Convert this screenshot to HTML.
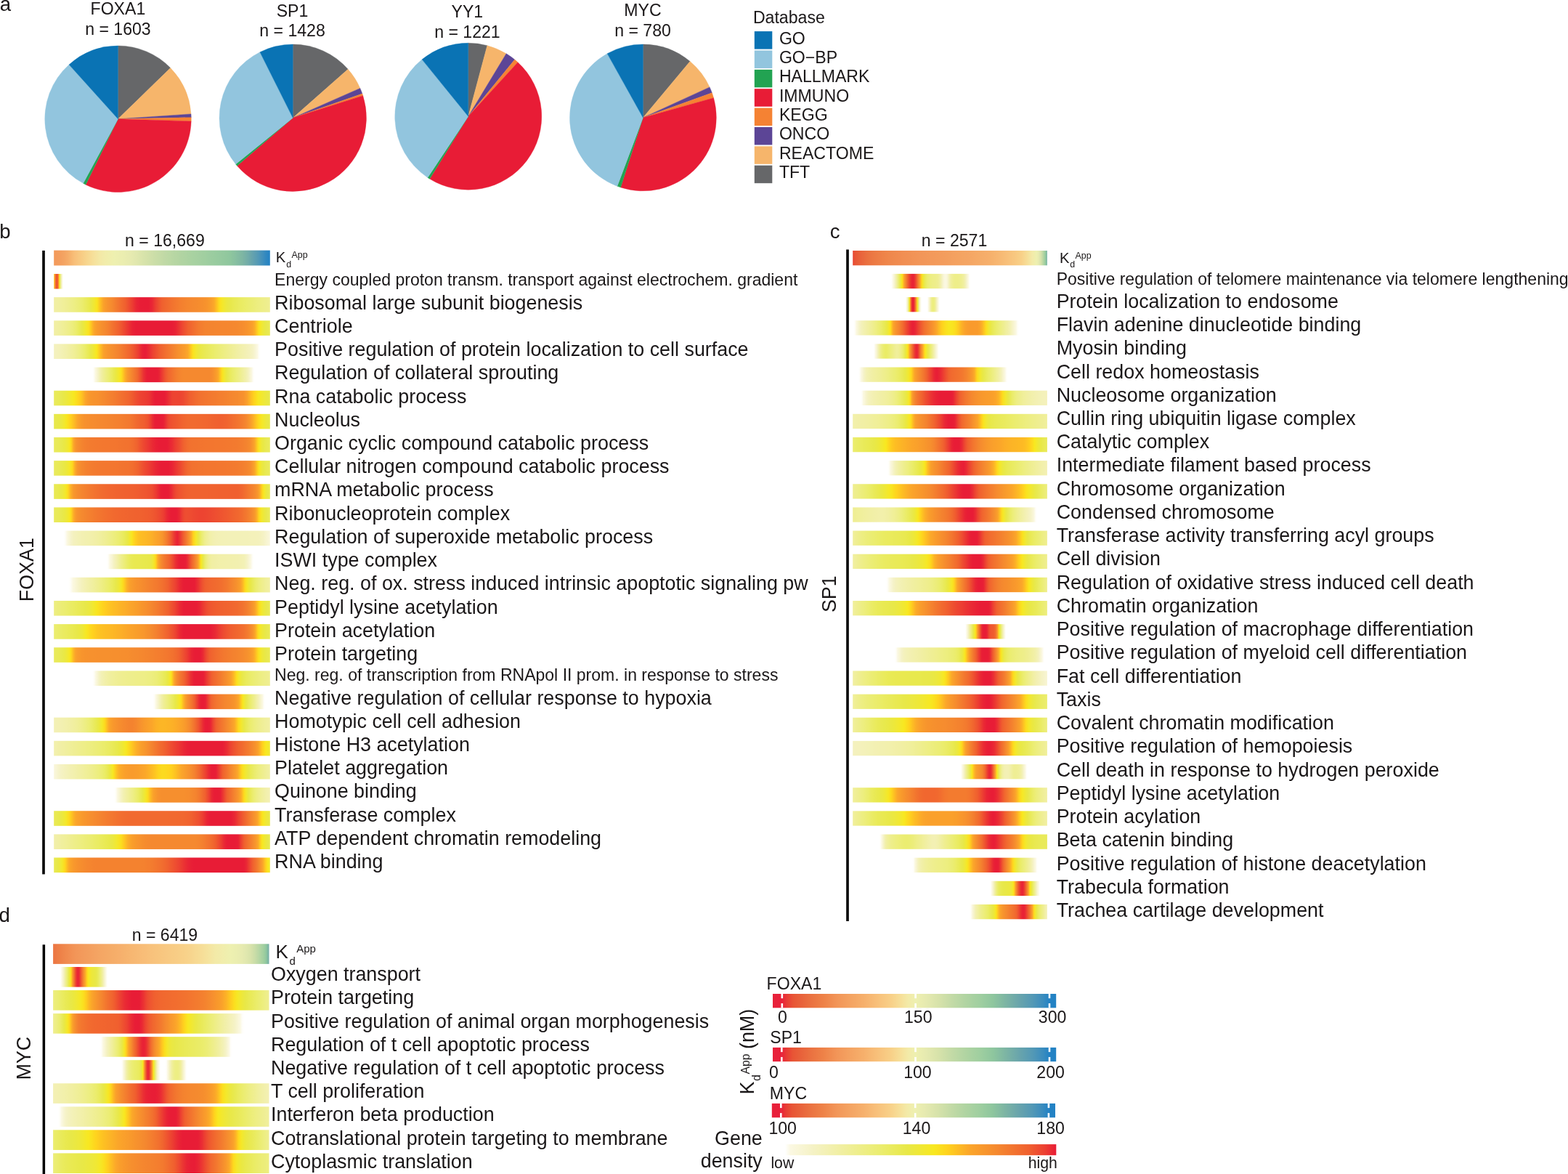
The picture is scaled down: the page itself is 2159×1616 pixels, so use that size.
<!DOCTYPE html>
<html lang="en">
<head>
<meta charset="utf-8">
<title>Gene set enrichment along apparent Kd</title>
<style>
html,body{margin:0;padding:0;background:#fff}
body{width:2159px;height:1616px;overflow:hidden}
svg{display:block}
text{font-family:"Liberation Sans",Arial,Helvetica,sans-serif;fill:#1a1718}
</style>
</head>
<body>
<svg width="2159" height="1616" viewBox="0 0 2159 1616" role="img" aria-label="Gene set enrichment along apparent dissociation constant">
<defs>
<linearGradient id="bh" x1="0" y1="0" x2="1" y2="0"><stop offset="0" stop-color="#f3995b"/><stop offset="0.0045" stop-color="#f39a5b"/><stop offset="0.009" stop-color="#f39a5c"/><stop offset="0.0135" stop-color="#f39b5c"/><stop offset="0.018" stop-color="#f39c5d"/><stop offset="0.0225" stop-color="#f39d5e"/><stop offset="0.0235" stop-color="#f39d5e"/><stop offset="0.0256" stop-color="#f39e5e"/><stop offset="0.027" stop-color="#f39e5e"/><stop offset="0.047" stop-color="#f4a463"/><stop offset="0.0513" stop-color="#f4a664"/><stop offset="0.07" stop-color="#f6af6b"/><stop offset="0.0769" stop-color="#f6b46f"/><stop offset="0.093" stop-color="#f8be78"/><stop offset="0.1026" stop-color="#f8c27c"/><stop offset="0.128" stop-color="#f8cc84"/><stop offset="0.1282" stop-color="#f8cc84"/><stop offset="0.1538" stop-color="#f7d68e"/><stop offset="0.163" stop-color="#f7d992"/><stop offset="0.1795" stop-color="#f6df99"/><stop offset="0.1865" stop-color="#f6e19c"/><stop offset="0.2051" stop-color="#f4e6a3"/><stop offset="0.21" stop-color="#f4e8a5"/><stop offset="0.2308" stop-color="#f2ebaa"/><stop offset="0.2335" stop-color="#f2ecaa"/><stop offset="0.2564" stop-color="#f0eead"/><stop offset="0.257" stop-color="#f0eead"/><stop offset="0.2821" stop-color="#eef0b0"/><stop offset="0.292" stop-color="#edefb0"/><stop offset="0.3077" stop-color="#eceeb0"/><stop offset="0.327" stop-color="#eaedb0"/><stop offset="0.3333" stop-color="#e9ecb0"/><stop offset="0.359" stop-color="#e6eab0"/><stop offset="0.3846" stop-color="#e0e7ae"/><stop offset="0.385" stop-color="#e0e7ae"/><stop offset="0.4103" stop-color="#d9e4ab"/><stop offset="0.4359" stop-color="#d3e1a9"/><stop offset="0.443" stop-color="#d1e0a9"/><stop offset="0.4615" stop-color="#ccdea8"/><stop offset="0.4872" stop-color="#c6dca7"/><stop offset="0.5015" stop-color="#c3daa6"/><stop offset="0.5128" stop-color="#c0d9a6"/><stop offset="0.5385" stop-color="#bbd8a4"/><stop offset="0.56" stop-color="#b6d6a3"/><stop offset="0.5641" stop-color="#b6d6a3"/><stop offset="0.5897" stop-color="#b1d4a2"/><stop offset="0.6154" stop-color="#add3a2"/><stop offset="0.63" stop-color="#aad2a1"/><stop offset="0.641" stop-color="#a8d2a1"/><stop offset="0.6667" stop-color="#a5d0a1"/><stop offset="0.6923" stop-color="#a1cfa0"/><stop offset="0.7" stop-color="#a0cfa0"/><stop offset="0.7179" stop-color="#9dcda0"/><stop offset="0.7436" stop-color="#99cc9f"/><stop offset="0.7585" stop-color="#97cb9f"/><stop offset="0.7692" stop-color="#96ca9f"/><stop offset="0.7949" stop-color="#92c89e"/><stop offset="0.817" stop-color="#8ec69e"/><stop offset="0.8205" stop-color="#8dc59e"/><stop offset="0.8462" stop-color="#86bea1"/><stop offset="0.852" stop-color="#84bca1"/><stop offset="0.8718" stop-color="#7eb6a3"/><stop offset="0.887" stop-color="#77b0a6"/><stop offset="0.8974" stop-color="#72aca8"/><stop offset="0.9105" stop-color="#6aa6ab"/><stop offset="0.9231" stop-color="#62a1af"/><stop offset="0.934" stop-color="#5b9db2"/><stop offset="0.9487" stop-color="#5097b7"/><stop offset="0.957" stop-color="#4893b9"/><stop offset="0.973" stop-color="#3a8cbe"/><stop offset="0.9744" stop-color="#388bbe"/><stop offset="0.9775" stop-color="#358abf"/><stop offset="0.98" stop-color="#3289c0"/><stop offset="0.982" stop-color="#3188c0"/><stop offset="0.9865" stop-color="#2d86c1"/><stop offset="0.99" stop-color="#2a85c2"/><stop offset="0.991" stop-color="#2985c2"/><stop offset="0.9955" stop-color="#2683c3"/><stop offset="1" stop-color="#2483c4"/></linearGradient>
<linearGradient id="b0" x1="0" y1="0" x2="1" y2="0"><stop offset="0" stop-color="#ffd11e"/><stop offset="0.0012" stop-color="#fdc023"/><stop offset="0.0024" stop-color="#fcac28"/><stop offset="0.0037" stop-color="#f99e2b"/><stop offset="0.004" stop-color="#f99a2c"/><stop offset="0.0045" stop-color="#f8952d"/><stop offset="0.0049" stop-color="#f7922e"/><stop offset="0.0061" stop-color="#f5862f"/><stop offset="0.0073" stop-color="#f3792f"/><stop offset="0.008" stop-color="#f2732f"/><stop offset="0.0085" stop-color="#f26e2f"/><stop offset="0.009" stop-color="#f16a2f"/><stop offset="0.0097" stop-color="#f1652f"/><stop offset="0.0105" stop-color="#f0602f"/><stop offset="0.011" stop-color="#ef5b2f"/><stop offset="0.0122" stop-color="#ee5330"/><stop offset="0.013" stop-color="#ee5030"/><stop offset="0.013" stop-color="#ee5030"/><stop offset="0.0134" stop-color="#ee4f30"/><stop offset="0.0135" stop-color="#ee4f30"/><stop offset="0.0146" stop-color="#ee5130"/><stop offset="0.0158" stop-color="#ef5730"/><stop offset="0.0165" stop-color="#ef5b2f"/><stop offset="0.0171" stop-color="#f0602f"/><stop offset="0.0175" stop-color="#f0632f"/><stop offset="0.018" stop-color="#f1672f"/><stop offset="0.0183" stop-color="#f1692f"/><stop offset="0.0195" stop-color="#f3752f"/><stop offset="0.02" stop-color="#f37b2f"/><stop offset="0.0207" stop-color="#f5852f"/><stop offset="0.0219" stop-color="#f8962d"/><stop offset="0.022" stop-color="#f8972d"/><stop offset="0.0225" stop-color="#f99e2b"/><stop offset="0.0225" stop-color="#f99e2b"/><stop offset="0.0231" stop-color="#fbaa29"/><stop offset="0.0244" stop-color="#ffce1f"/><stop offset="0.025" stop-color="#fbde1f"/><stop offset="0.0256" stop-color="#f6e824"/><stop offset="0.0265" stop-color="#efe837"/><stop offset="0.0268" stop-color="#ece83d"/><stop offset="0.027" stop-color="#ebe841"/><stop offset="0.028" stop-color="#e9ea56"/><stop offset="0.029" stop-color="#eaec68"/><stop offset="0.0292" stop-color="#ebed6c"/><stop offset="0.0305" stop-color="#edee7f"/><stop offset="0.031" stop-color="#eeee87"/><stop offset="0.0317" stop-color="#efee91"/><stop offset="0.0329" stop-color="#f1efa1"/><stop offset="0.033" stop-color="#f1efa3"/><stop offset="0.0341" stop-color="#f3f0b1"/><stop offset="0.0353" stop-color="#f4f1bf"/><stop offset="0.0355" stop-color="#f4f2c1"/><stop offset="0.0365" stop-color="#f6f3cb"/><stop offset="0.0365" stop-color="#f6f3cc"/><stop offset="0.0378" stop-color="#f9f6d7"/><stop offset="0.039" stop-color="#faf7df"/><stop offset="0.04" stop-color="#fcf9e7"/><stop offset="0.04" stop-color="#fcf9e7"/><stop offset="0.0401" stop-color="#fcf9e8"/><stop offset="0.0402" stop-color="#fcfae9"/><stop offset="0.0414" stop-color="#fefdf6"/><stop offset="0.0426" stop-color="#fffefb"/><stop offset="0.0439" stop-color="#fffffe"/><stop offset="0.0445" stop-color="#fffffe"/><stop offset="0.0451" stop-color="#ffffff"/><stop offset="0.0463" stop-color="#ffffff"/><stop offset="0.0475" stop-color="#ffffff"/><stop offset="0.0487" stop-color="#ffffff"/><stop offset="0.049" stop-color="#ffffff"/><stop offset="0.0499" stop-color="#ffffff"/><stop offset="0.0512" stop-color="#ffffff"/><stop offset="0.0524" stop-color="#ffffff"/><stop offset="0.0535" stop-color="#ffffff"/><stop offset="0.0536" stop-color="#ffffff"/><stop offset="0.0548" stop-color="#ffffff"/><stop offset="0.056" stop-color="#ffffff"/><stop offset="0.0573" stop-color="#ffffff"/><stop offset="0.058" stop-color="#ffffff"/><stop offset="0.0585" stop-color="#ffffff"/><stop offset="0.0597" stop-color="#ffffff"/><stop offset="0.0609" stop-color="#ffffff"/><stop offset="0.0621" stop-color="#ffffff"/><stop offset="0.0625" stop-color="#ffffff"/><stop offset="0.0633" stop-color="#ffffff"/><stop offset="0.0646" stop-color="#ffffff"/><stop offset="0.0658" stop-color="#ffffff"/><stop offset="0.067" stop-color="#ffffff"/><stop offset="1" stop-color="#ffffff"/></linearGradient>
<linearGradient id="b1" x1="0" y1="0" x2="1" y2="0"><stop offset="0" stop-color="#f1efa4"/><stop offset="0.0045" stop-color="#f1efa3"/><stop offset="0.009" stop-color="#f1efa3"/><stop offset="0.0135" stop-color="#f1efa2"/><stop offset="0.018" stop-color="#f1efa1"/><stop offset="0.0182" stop-color="#f1efa1"/><stop offset="0.0225" stop-color="#f1efa0"/><stop offset="0.027" stop-color="#f0ef9f"/><stop offset="0.0364" stop-color="#f0ef9c"/><stop offset="0.05" stop-color="#f0ef97"/><stop offset="0.0545" stop-color="#efee96"/><stop offset="0.0727" stop-color="#eeee8e"/><stop offset="0.0909" stop-color="#edee86"/><stop offset="0.1" stop-color="#edee81"/><stop offset="0.1091" stop-color="#eced7c"/><stop offset="0.1273" stop-color="#ebed71"/><stop offset="0.135" stop-color="#ebec6b"/><stop offset="0.1455" stop-color="#eaeb61"/><stop offset="0.1636" stop-color="#e9e94f"/><stop offset="0.17" stop-color="#e8e848"/><stop offset="0.1818" stop-color="#eee838"/><stop offset="0.185" stop-color="#f0e834"/><stop offset="0.2" stop-color="#fae320"/><stop offset="0.2" stop-color="#fae320"/><stop offset="0.215" stop-color="#fdbf23"/><stop offset="0.2182" stop-color="#fdb725"/><stop offset="0.23" stop-color="#faa12b"/><stop offset="0.2364" stop-color="#f99c2c"/><stop offset="0.25" stop-color="#f7932d"/><stop offset="0.2545" stop-color="#f7912e"/><stop offset="0.27" stop-color="#f5892f"/><stop offset="0.2727" stop-color="#f5872f"/><stop offset="0.2909" stop-color="#f37a2f"/><stop offset="0.3" stop-color="#f2742f"/><stop offset="0.3091" stop-color="#f26d2f"/><stop offset="0.3273" stop-color="#f0622f"/><stop offset="0.33" stop-color="#f0602f"/><stop offset="0.3455" stop-color="#ee5030"/><stop offset="0.3636" stop-color="#ec3c32"/><stop offset="0.365" stop-color="#ec3a32"/><stop offset="0.3818" stop-color="#e92635"/><stop offset="0.4" stop-color="#e81d36"/><stop offset="0.4" stop-color="#e81d36"/><stop offset="0.4182" stop-color="#e81c36"/><stop offset="0.42" stop-color="#e81c36"/><stop offset="0.4364" stop-color="#e81c36"/><stop offset="0.44" stop-color="#e81d36"/><stop offset="0.4545" stop-color="#e92735"/><stop offset="0.47" stop-color="#ec3e32"/><stop offset="0.4727" stop-color="#ec4232"/><stop offset="0.4909" stop-color="#ef5730"/><stop offset="0.5" stop-color="#f0602f"/><stop offset="0.5091" stop-color="#f0642f"/><stop offset="0.5273" stop-color="#f16b2f"/><stop offset="0.5455" stop-color="#f2722f"/><stop offset="0.55" stop-color="#f2742f"/><stop offset="0.5636" stop-color="#f3782f"/><stop offset="0.5818" stop-color="#f47e2f"/><stop offset="0.6" stop-color="#f4822f"/><stop offset="0.6182" stop-color="#f5862f"/><stop offset="0.6364" stop-color="#f5882f"/><stop offset="0.65" stop-color="#f58a2f"/><stop offset="0.6545" stop-color="#f58a2f"/><stop offset="0.6727" stop-color="#f68d2e"/><stop offset="0.6909" stop-color="#f6902e"/><stop offset="0.7" stop-color="#f7922d"/><stop offset="0.7091" stop-color="#f7952d"/><stop offset="0.72" stop-color="#f89a2c"/><stop offset="0.7273" stop-color="#f99e2b"/><stop offset="0.74" stop-color="#fba72a"/><stop offset="0.7455" stop-color="#fcb127"/><stop offset="0.755" stop-color="#fec521"/><stop offset="0.7636" stop-color="#fdd81f"/><stop offset="0.77" stop-color="#fae320"/><stop offset="0.7818" stop-color="#f3e82c"/><stop offset="0.785" stop-color="#f2e830"/><stop offset="0.8" stop-color="#ebe840"/><stop offset="0.8" stop-color="#ebe840"/><stop offset="0.8182" stop-color="#e8e84c"/><stop offset="0.8364" stop-color="#e9ea56"/><stop offset="0.85" stop-color="#e9ea5c"/><stop offset="0.8545" stop-color="#eaeb5e"/><stop offset="0.8727" stop-color="#eaec65"/><stop offset="0.8909" stop-color="#ebed6c"/><stop offset="0.9" stop-color="#ebed70"/><stop offset="0.9091" stop-color="#ebed73"/><stop offset="0.9273" stop-color="#eced7a"/><stop offset="0.9455" stop-color="#edee81"/><stop offset="0.95" stop-color="#edee82"/><stop offset="0.9636" stop-color="#eeee87"/><stop offset="0.973" stop-color="#eeee8a"/><stop offset="0.9775" stop-color="#eeee8b"/><stop offset="0.9818" stop-color="#eeee8d"/><stop offset="0.982" stop-color="#eeee8d"/><stop offset="0.9865" stop-color="#efee8e"/><stop offset="0.991" stop-color="#efee90"/><stop offset="0.9955" stop-color="#efee91"/><stop offset="1" stop-color="#efee92"/></linearGradient>
<linearGradient id="b2" x1="0" y1="0" x2="1" y2="0"><stop offset="0" stop-color="#f1efa4"/><stop offset="0.0045" stop-color="#f1efa3"/><stop offset="0.009" stop-color="#f1efa3"/><stop offset="0.0135" stop-color="#f1efa2"/><stop offset="0.018" stop-color="#f1efa1"/><stop offset="0.0182" stop-color="#f1efa1"/><stop offset="0.0225" stop-color="#f0ef9f"/><stop offset="0.027" stop-color="#f0ef9e"/><stop offset="0.0364" stop-color="#f0ef9a"/><stop offset="0.04" stop-color="#f0ef98"/><stop offset="0.0545" stop-color="#efee91"/><stop offset="0.0727" stop-color="#eeee86"/><stop offset="0.08" stop-color="#edee81"/><stop offset="0.0909" stop-color="#eced79"/><stop offset="0.105" stop-color="#ebec6a"/><stop offset="0.1091" stop-color="#eaec64"/><stop offset="0.1273" stop-color="#e8e84c"/><stop offset="0.13" stop-color="#e8e848"/><stop offset="0.145" stop-color="#f0e833"/><stop offset="0.1455" stop-color="#f1e832"/><stop offset="0.16" stop-color="#fae320"/><stop offset="0.1636" stop-color="#fcdc1f"/><stop offset="0.175" stop-color="#fdbf23"/><stop offset="0.1818" stop-color="#fcad28"/><stop offset="0.19" stop-color="#faa12b"/><stop offset="0.2" stop-color="#f89a2c"/><stop offset="0.2182" stop-color="#f7912e"/><stop offset="0.22" stop-color="#f6902e"/><stop offset="0.2364" stop-color="#f5892f"/><stop offset="0.25" stop-color="#f4822f"/><stop offset="0.2545" stop-color="#f47f2f"/><stop offset="0.2727" stop-color="#f2722f"/><stop offset="0.275" stop-color="#f2712f"/><stop offset="0.2909" stop-color="#f1662f"/><stop offset="0.3" stop-color="#f0602f"/><stop offset="0.3091" stop-color="#ef5830"/><stop offset="0.3273" stop-color="#ed4631"/><stop offset="0.34" stop-color="#eb3933"/><stop offset="0.3455" stop-color="#eb3333"/><stop offset="0.3636" stop-color="#e92235"/><stop offset="0.38" stop-color="#e81c36"/><stop offset="0.3818" stop-color="#e81c36"/><stop offset="0.4" stop-color="#e81c36"/><stop offset="0.4182" stop-color="#e81c36"/><stop offset="0.4364" stop-color="#e81c36"/><stop offset="0.4545" stop-color="#e81c36"/><stop offset="0.465" stop-color="#e81c36"/><stop offset="0.4727" stop-color="#e81c36"/><stop offset="0.4909" stop-color="#e81c36"/><stop offset="0.5091" stop-color="#e81c36"/><stop offset="0.5273" stop-color="#e81c36"/><stop offset="0.5455" stop-color="#e81c36"/><stop offset="0.55" stop-color="#e81d36"/><stop offset="0.5636" stop-color="#e92335"/><stop offset="0.5818" stop-color="#eb3833"/><stop offset="0.585" stop-color="#ec3d32"/><stop offset="0.6" stop-color="#ee4d31"/><stop offset="0.6182" stop-color="#f05e2f"/><stop offset="0.62" stop-color="#f0602f"/><stop offset="0.6364" stop-color="#f1682f"/><stop offset="0.6545" stop-color="#f2722f"/><stop offset="0.66" stop-color="#f3752f"/><stop offset="0.6727" stop-color="#f37b2f"/><stop offset="0.6909" stop-color="#f4802f"/><stop offset="0.7" stop-color="#f4822f"/><stop offset="0.7091" stop-color="#f4832f"/><stop offset="0.7273" stop-color="#f4842f"/><stop offset="0.7455" stop-color="#f4852f"/><stop offset="0.7636" stop-color="#f5852f"/><stop offset="0.775" stop-color="#f5862f"/><stop offset="0.7818" stop-color="#f5862f"/><stop offset="0.8" stop-color="#f5862f"/><stop offset="0.8182" stop-color="#f5872f"/><stop offset="0.8364" stop-color="#f5882f"/><stop offset="0.85" stop-color="#f5892f"/><stop offset="0.8545" stop-color="#f58a2f"/><stop offset="0.8727" stop-color="#f68d2e"/><stop offset="0.885" stop-color="#f7902e"/><stop offset="0.8909" stop-color="#f7922d"/><stop offset="0.9091" stop-color="#f99a2c"/><stop offset="0.92" stop-color="#faa12b"/><stop offset="0.9273" stop-color="#fbaa29"/><stop offset="0.935" stop-color="#fdbd24"/><stop offset="0.9455" stop-color="#fdd91f"/><stop offset="0.95" stop-color="#f9e320"/><stop offset="0.96" stop-color="#f2e82f"/><stop offset="0.9636" stop-color="#efe836"/><stop offset="0.97" stop-color="#ece83f"/><stop offset="0.973" stop-color="#eae842"/><stop offset="0.9775" stop-color="#e8e847"/><stop offset="0.9818" stop-color="#e8e84b"/><stop offset="0.982" stop-color="#e8e84b"/><stop offset="0.985" stop-color="#e8e94d"/><stop offset="0.9865" stop-color="#e8e94e"/><stop offset="0.991" stop-color="#e9e951"/><stop offset="0.9955" stop-color="#e9e953"/><stop offset="1" stop-color="#e9e953"/></linearGradient>
<linearGradient id="b3" x1="0" y1="0" x2="1" y2="0"><stop offset="0" stop-color="#f4f1bf"/><stop offset="0.0045" stop-color="#f4f1be"/><stop offset="0.009" stop-color="#f4f1be"/><stop offset="0.0135" stop-color="#f4f1bd"/><stop offset="0.0178" stop-color="#f4f1bb"/><stop offset="0.018" stop-color="#f4f1bb"/><stop offset="0.0225" stop-color="#f4f1ba"/><stop offset="0.027" stop-color="#f3f1b9"/><stop offset="0.0355" stop-color="#f3f1b5"/><stop offset="0.05" stop-color="#f2f0af"/><stop offset="0.0533" stop-color="#f2f0ae"/><stop offset="0.0711" stop-color="#f1efa4"/><stop offset="0.0888" stop-color="#f0ef9a"/><stop offset="0.1" stop-color="#efee93"/><stop offset="0.1066" stop-color="#eeee8e"/><stop offset="0.1243" stop-color="#edee7f"/><stop offset="0.135" stop-color="#ebed74"/><stop offset="0.1421" stop-color="#ebed6c"/><stop offset="0.1599" stop-color="#e9ea55"/><stop offset="0.17" stop-color="#e8e848"/><stop offset="0.1776" stop-color="#ece83e"/><stop offset="0.185" stop-color="#f0e833"/><stop offset="0.1954" stop-color="#f7e823"/><stop offset="0.2" stop-color="#fae320"/><stop offset="0.2132" stop-color="#fec422"/><stop offset="0.215" stop-color="#fdbe23"/><stop offset="0.23" stop-color="#faa12b"/><stop offset="0.2309" stop-color="#faa02b"/><stop offset="0.2487" stop-color="#f8962d"/><stop offset="0.265" stop-color="#f6902e"/><stop offset="0.2665" stop-color="#f68f2e"/><stop offset="0.2842" stop-color="#f5892f"/><stop offset="0.3" stop-color="#f4822f"/><stop offset="0.302" stop-color="#f4812f"/><stop offset="0.3197" stop-color="#f3772f"/><stop offset="0.335" stop-color="#f26e2f"/><stop offset="0.3375" stop-color="#f26c2f"/><stop offset="0.3553" stop-color="#f0622f"/><stop offset="0.37" stop-color="#ef5430"/><stop offset="0.373" stop-color="#ee5130"/><stop offset="0.3908" stop-color="#ec3d32"/><stop offset="0.395" stop-color="#eb3633"/><stop offset="0.4086" stop-color="#e92335"/><stop offset="0.42" stop-color="#e81e36"/><stop offset="0.4263" stop-color="#e81f36"/><stop offset="0.44" stop-color="#ea2c34"/><stop offset="0.4441" stop-color="#ea3134"/><stop offset="0.46" stop-color="#ed4432"/><stop offset="0.4619" stop-color="#ed4531"/><stop offset="0.4796" stop-color="#ef5530"/><stop offset="0.49" stop-color="#f05f2f"/><stop offset="0.4974" stop-color="#f0642f"/><stop offset="0.5151" stop-color="#f26e2f"/><stop offset="0.52" stop-color="#f2712f"/><stop offset="0.5329" stop-color="#f3782f"/><stop offset="0.55" stop-color="#f4822f"/><stop offset="0.5507" stop-color="#f4822f"/><stop offset="0.5684" stop-color="#f68c2e"/><stop offset="0.58" stop-color="#f7922e"/><stop offset="0.5862" stop-color="#f7942d"/><stop offset="0.6" stop-color="#f99b2c"/><stop offset="0.604" stop-color="#f99c2c"/><stop offset="0.62" stop-color="#fba829"/><stop offset="0.6217" stop-color="#fbab29"/><stop offset="0.6325" stop-color="#fec522"/><stop offset="0.6395" stop-color="#fdd71e"/><stop offset="0.645" stop-color="#fae320"/><stop offset="0.6573" stop-color="#f2e82f"/><stop offset="0.6575" stop-color="#f2e830"/><stop offset="0.67" stop-color="#ebe83f"/><stop offset="0.675" stop-color="#eae844"/><stop offset="0.6928" stop-color="#e9e951"/><stop offset="0.71" stop-color="#e9ea5b"/><stop offset="0.7105" stop-color="#e9ea5b"/><stop offset="0.7283" stop-color="#eaec64"/><stop offset="0.7461" stop-color="#ebed6e"/><stop offset="0.75" stop-color="#ebed70"/><stop offset="0.7638" stop-color="#eced77"/><stop offset="0.7816" stop-color="#edee81"/><stop offset="0.7994" stop-color="#eeee8a"/><stop offset="0.8" stop-color="#eeee8a"/><stop offset="0.8171" stop-color="#efee93"/><stop offset="0.8349" stop-color="#f0ef9c"/><stop offset="0.85" stop-color="#f1efa4"/><stop offset="0.8527" stop-color="#f1efa5"/><stop offset="0.8704" stop-color="#f2f0ad"/><stop offset="0.885" stop-color="#f3f0b3"/><stop offset="0.8882" stop-color="#f3f0b5"/><stop offset="0.9059" stop-color="#f4f1bd"/><stop offset="0.92" stop-color="#f5f2c7"/><stop offset="0.923" stop-color="#f6f3ca"/><stop offset="0.9237" stop-color="#f6f3cb"/><stop offset="0.9275" stop-color="#f7f4cf"/><stop offset="0.932" stop-color="#f8f5d6"/><stop offset="0.935" stop-color="#f9f6da"/><stop offset="0.9365" stop-color="#faf7dc"/><stop offset="0.941" stop-color="#fbf8e1"/><stop offset="0.9415" stop-color="#fbf8e2"/><stop offset="0.9455" stop-color="#fdfbf0"/><stop offset="0.95" stop-color="#fefef9"/><stop offset="0.9501" stop-color="#fefefa"/><stop offset="0.9545" stop-color="#fffffe"/><stop offset="0.959" stop-color="#ffffff"/><stop offset="0.9592" stop-color="#ffffff"/><stop offset="0.9635" stop-color="#ffffff"/><stop offset="0.968" stop-color="#ffffff"/><stop offset="0.9725" stop-color="#ffffff"/><stop offset="0.977" stop-color="#ffffff"/><stop offset="1" stop-color="#ffffff"/></linearGradient>
<linearGradient id="b4" x1="0" y1="0" x2="1" y2="0"><stop offset="0" stop-color="#ffffff"/><stop offset="0.157" stop-color="#ffffff"/><stop offset="0.1615" stop-color="#ffffff"/><stop offset="0.166" stop-color="#ffffff"/><stop offset="0.1705" stop-color="#ffffff"/><stop offset="0.1714" stop-color="#ffffff"/><stop offset="0.175" stop-color="#ffffff"/><stop offset="0.1795" stop-color="#fffffd"/><stop offset="0.1839" stop-color="#fefdf8"/><stop offset="0.184" stop-color="#fefdf8"/><stop offset="0.1857" stop-color="#fdfcf4"/><stop offset="0.1885" stop-color="#fcfaeb"/><stop offset="0.193" stop-color="#faf7de"/><stop offset="0.1975" stop-color="#f9f6d6"/><stop offset="0.2001" stop-color="#f7f4d1"/><stop offset="0.202" stop-color="#f6f3cd"/><stop offset="0.2065" stop-color="#f5f2c2"/><stop offset="0.211" stop-color="#f3f1b7"/><stop offset="0.2145" stop-color="#f2f0b0"/><stop offset="0.22" stop-color="#f1efa5"/><stop offset="0.2288" stop-color="#efee97"/><stop offset="0.2432" stop-color="#edee82"/><stop offset="0.245" stop-color="#edee80"/><stop offset="0.2575" stop-color="#ebed6f"/><stop offset="0.27" stop-color="#eaeb5c"/><stop offset="0.2719" stop-color="#e9ea59"/><stop offset="0.2863" stop-color="#eae843"/><stop offset="0.29" stop-color="#ece83d"/><stop offset="0.3006" stop-color="#f3e82c"/><stop offset="0.31" stop-color="#fae320"/><stop offset="0.315" stop-color="#fdd81f"/><stop offset="0.325" stop-color="#fdbb24"/><stop offset="0.3294" stop-color="#fcae28"/><stop offset="0.34" stop-color="#f99b2c"/><stop offset="0.3437" stop-color="#f8972d"/><stop offset="0.3581" stop-color="#f5882f"/><stop offset="0.36" stop-color="#f5862f"/><stop offset="0.3725" stop-color="#f3792f"/><stop offset="0.38" stop-color="#f2712f"/><stop offset="0.3868" stop-color="#f1692f"/><stop offset="0.4012" stop-color="#ee4f30"/><stop offset="0.405" stop-color="#ed4731"/><stop offset="0.4155" stop-color="#ea3034"/><stop offset="0.4299" stop-color="#e81e36"/><stop offset="0.43" stop-color="#e81e36"/><stop offset="0.4443" stop-color="#e81c36"/><stop offset="0.455" stop-color="#e81c36"/><stop offset="0.4586" stop-color="#e81c36"/><stop offset="0.473" stop-color="#e81c36"/><stop offset="0.48" stop-color="#e81d36"/><stop offset="0.4874" stop-color="#e92335"/><stop offset="0.5017" stop-color="#ec3e32"/><stop offset="0.505" stop-color="#ed4332"/><stop offset="0.5161" stop-color="#ef5730"/><stop offset="0.53" stop-color="#f1672f"/><stop offset="0.5305" stop-color="#f1672f"/><stop offset="0.5448" stop-color="#f2702f"/><stop offset="0.5592" stop-color="#f37a2f"/><stop offset="0.565" stop-color="#f47d2f"/><stop offset="0.5735" stop-color="#f4822f"/><stop offset="0.5879" stop-color="#f5872f"/><stop offset="0.6" stop-color="#f5892f"/><stop offset="0.6023" stop-color="#f5892f"/><stop offset="0.6166" stop-color="#f5892f"/><stop offset="0.631" stop-color="#f5892f"/><stop offset="0.6454" stop-color="#f5892f"/><stop offset="0.6597" stop-color="#f5892f"/><stop offset="0.66" stop-color="#f5892f"/><stop offset="0.6741" stop-color="#f5892f"/><stop offset="0.6885" stop-color="#f5892f"/><stop offset="0.7028" stop-color="#f5892f"/><stop offset="0.7172" stop-color="#f5892f"/><stop offset="0.72" stop-color="#f5892f"/><stop offset="0.7315" stop-color="#f68d2e"/><stop offset="0.7375" stop-color="#f7912e"/><stop offset="0.7459" stop-color="#f8982c"/><stop offset="0.755" stop-color="#faa12b"/><stop offset="0.7603" stop-color="#fba929"/><stop offset="0.7675" stop-color="#fdbf23"/><stop offset="0.7746" stop-color="#fed51e"/><stop offset="0.78" stop-color="#f9e320"/><stop offset="0.789" stop-color="#f1e831"/><stop offset="0.79" stop-color="#f0e833"/><stop offset="0.8" stop-color="#e8e847"/><stop offset="0.8034" stop-color="#e8e94c"/><stop offset="0.8177" stop-color="#eaeb60"/><stop offset="0.825" stop-color="#eaec68"/><stop offset="0.8321" stop-color="#ebed6f"/><stop offset="0.8465" stop-color="#edee7e"/><stop offset="0.85" stop-color="#edee81"/><stop offset="0.8608" stop-color="#eeee8d"/><stop offset="0.875" stop-color="#f0ef9e"/><stop offset="0.8752" stop-color="#f0ef9e"/><stop offset="0.8895" stop-color="#f2f0b0"/><stop offset="0.893" stop-color="#f3f1b5"/><stop offset="0.8975" stop-color="#f4f1bc"/><stop offset="0.9" stop-color="#f4f2c1"/><stop offset="0.902" stop-color="#f5f2c5"/><stop offset="0.9039" stop-color="#f6f3c9"/><stop offset="0.9065" stop-color="#f7f4cf"/><stop offset="0.91" stop-color="#f9f6d7"/><stop offset="0.911" stop-color="#f9f6d9"/><stop offset="0.9155" stop-color="#fbf8e1"/><stop offset="0.9183" stop-color="#fcfaec"/><stop offset="0.92" stop-color="#fdfcf2"/><stop offset="0.9201" stop-color="#fdfcf2"/><stop offset="0.9245" stop-color="#fffefb"/><stop offset="0.929" stop-color="#fffffe"/><stop offset="0.9326" stop-color="#ffffff"/><stop offset="0.9335" stop-color="#ffffff"/><stop offset="0.938" stop-color="#ffffff"/><stop offset="0.9425" stop-color="#ffffff"/><stop offset="0.947" stop-color="#ffffff"/><stop offset="1" stop-color="#ffffff"/></linearGradient>
<linearGradient id="b5" x1="0" y1="0" x2="1" y2="0"><stop offset="0" stop-color="#e9ea5b"/><stop offset="0.0045" stop-color="#e9ea5b"/><stop offset="0.009" stop-color="#e9ea5a"/><stop offset="0.0135" stop-color="#e9ea58"/><stop offset="0.018" stop-color="#e9ea56"/><stop offset="0.0182" stop-color="#e9ea56"/><stop offset="0.02" stop-color="#e9ea56"/><stop offset="0.0225" stop-color="#e9ea55"/><stop offset="0.027" stop-color="#e9e953"/><stop offset="0.0364" stop-color="#e8e94e"/><stop offset="0.04" stop-color="#e8e84c"/><stop offset="0.0545" stop-color="#ebe841"/><stop offset="0.055" stop-color="#ebe841"/><stop offset="0.07" stop-color="#f0e834"/><stop offset="0.0727" stop-color="#f1e832"/><stop offset="0.0865" stop-color="#f6e826"/><stop offset="0.0909" stop-color="#f7e822"/><stop offset="0.103" stop-color="#fbdf1f"/><stop offset="0.1091" stop-color="#fdd91f"/><stop offset="0.1165" stop-color="#ffd21e"/><stop offset="0.1273" stop-color="#fec522"/><stop offset="0.13" stop-color="#fdc123"/><stop offset="0.1455" stop-color="#fba62a"/><stop offset="0.1465" stop-color="#fba42a"/><stop offset="0.163" stop-color="#f8982c"/><stop offset="0.1636" stop-color="#f8982c"/><stop offset="0.1818" stop-color="#f7932d"/><stop offset="0.1865" stop-color="#f7932d"/><stop offset="0.2" stop-color="#f7912e"/><stop offset="0.21" stop-color="#f68f2e"/><stop offset="0.2182" stop-color="#f68d2e"/><stop offset="0.2335" stop-color="#f5892f"/><stop offset="0.2364" stop-color="#f5882f"/><stop offset="0.2545" stop-color="#f4832f"/><stop offset="0.257" stop-color="#f4822f"/><stop offset="0.2727" stop-color="#f47e2f"/><stop offset="0.28" stop-color="#f37c2f"/><stop offset="0.2909" stop-color="#f3782f"/><stop offset="0.303" stop-color="#f2742f"/><stop offset="0.3091" stop-color="#f2722f"/><stop offset="0.3265" stop-color="#f26c2f"/><stop offset="0.3273" stop-color="#f16c2f"/><stop offset="0.3455" stop-color="#f1652f"/><stop offset="0.35" stop-color="#f0632f"/><stop offset="0.3636" stop-color="#ef5b2f"/><stop offset="0.3735" stop-color="#ee5330"/><stop offset="0.3818" stop-color="#ee4d31"/><stop offset="0.397" stop-color="#ed4431"/><stop offset="0.4" stop-color="#ed4332"/><stop offset="0.4182" stop-color="#ec3e32"/><stop offset="0.42" stop-color="#ec3e32"/><stop offset="0.4364" stop-color="#eb3833"/><stop offset="0.443" stop-color="#eb3433"/><stop offset="0.4545" stop-color="#e92835"/><stop offset="0.455" stop-color="#e92735"/><stop offset="0.467" stop-color="#e81d36"/><stop offset="0.4727" stop-color="#e81c36"/><stop offset="0.49" stop-color="#e81c36"/><stop offset="0.4909" stop-color="#e81c36"/><stop offset="0.5091" stop-color="#e81c36"/><stop offset="0.513" stop-color="#e81d36"/><stop offset="0.5273" stop-color="#ea2b34"/><stop offset="0.5315" stop-color="#ea3134"/><stop offset="0.5455" stop-color="#ec4132"/><stop offset="0.55" stop-color="#ed4332"/><stop offset="0.5636" stop-color="#ed4432"/><stop offset="0.5665" stop-color="#ed4432"/><stop offset="0.5818" stop-color="#ed4431"/><stop offset="0.583" stop-color="#ed4431"/><stop offset="0.6" stop-color="#ed4a31"/><stop offset="0.6065" stop-color="#ee4f31"/><stop offset="0.6182" stop-color="#ef5730"/><stop offset="0.63" stop-color="#f0602f"/><stop offset="0.6364" stop-color="#f0622f"/><stop offset="0.6535" stop-color="#f1692f"/><stop offset="0.6545" stop-color="#f16a2f"/><stop offset="0.6727" stop-color="#f2702f"/><stop offset="0.677" stop-color="#f2712f"/><stop offset="0.6909" stop-color="#f2742f"/><stop offset="0.7091" stop-color="#f3762f"/><stop offset="0.712" stop-color="#f3772f"/><stop offset="0.7273" stop-color="#f3792f"/><stop offset="0.7455" stop-color="#f37b2f"/><stop offset="0.747" stop-color="#f37b2f"/><stop offset="0.7636" stop-color="#f47e2f"/><stop offset="0.7818" stop-color="#f4802f"/><stop offset="0.782" stop-color="#f4802f"/><stop offset="0.8" stop-color="#f4832f"/><stop offset="0.817" stop-color="#f5862f"/><stop offset="0.8182" stop-color="#f5862f"/><stop offset="0.8364" stop-color="#f5892f"/><stop offset="0.8475" stop-color="#f58a2f"/><stop offset="0.8545" stop-color="#f68c2f"/><stop offset="0.8727" stop-color="#f7902e"/><stop offset="0.878" stop-color="#f7922d"/><stop offset="0.8909" stop-color="#f99d2c"/><stop offset="0.894" stop-color="#faa02b"/><stop offset="0.9091" stop-color="#fdb925"/><stop offset="0.91" stop-color="#fdbb24"/><stop offset="0.924" stop-color="#ffd01f"/><stop offset="0.9273" stop-color="#fed41e"/><stop offset="0.938" stop-color="#fbdf1f"/><stop offset="0.9455" stop-color="#f8e820"/><stop offset="0.952" stop-color="#f5e826"/><stop offset="0.9636" stop-color="#f1e832"/><stop offset="0.966" stop-color="#f0e834"/><stop offset="0.973" stop-color="#eee83a"/><stop offset="0.9775" stop-color="#ece83d"/><stop offset="0.9818" stop-color="#ebe840"/><stop offset="0.982" stop-color="#ebe840"/><stop offset="0.983" stop-color="#ebe841"/><stop offset="0.9865" stop-color="#eae843"/><stop offset="0.991" stop-color="#e9e846"/><stop offset="0.9955" stop-color="#e8e849"/><stop offset="1" stop-color="#e8e84b"/></linearGradient>
<linearGradient id="b6" x1="0" y1="0" x2="1" y2="0"><stop offset="0" stop-color="#e8e84c"/><stop offset="0.0045" stop-color="#e8e84b"/><stop offset="0.009" stop-color="#e8e84b"/><stop offset="0.0135" stop-color="#e8e84a"/><stop offset="0.015" stop-color="#e8e849"/><stop offset="0.018" stop-color="#e8e848"/><stop offset="0.0182" stop-color="#e8e848"/><stop offset="0.0225" stop-color="#e8e847"/><stop offset="0.027" stop-color="#e9e845"/><stop offset="0.03" stop-color="#eae843"/><stop offset="0.0364" stop-color="#ece83e"/><stop offset="0.0475" stop-color="#f1e831"/><stop offset="0.0545" stop-color="#f5e826"/><stop offset="0.065" stop-color="#fbe01f"/><stop offset="0.0727" stop-color="#fed61e"/><stop offset="0.079" stop-color="#ffcf1f"/><stop offset="0.0909" stop-color="#fdbf23"/><stop offset="0.093" stop-color="#fdbc24"/><stop offset="0.1091" stop-color="#fba52a"/><stop offset="0.1165" stop-color="#fa9f2b"/><stop offset="0.1273" stop-color="#f8982c"/><stop offset="0.14" stop-color="#f7922d"/><stop offset="0.1455" stop-color="#f7912e"/><stop offset="0.1636" stop-color="#f68e2e"/><stop offset="0.175" stop-color="#f68c2e"/><stop offset="0.1818" stop-color="#f68c2f"/><stop offset="0.2" stop-color="#f58a2f"/><stop offset="0.21" stop-color="#f5892f"/><stop offset="0.2182" stop-color="#f5882f"/><stop offset="0.2364" stop-color="#f5862f"/><stop offset="0.245" stop-color="#f5862f"/><stop offset="0.2545" stop-color="#f4852f"/><stop offset="0.2727" stop-color="#f4832f"/><stop offset="0.28" stop-color="#f4822f"/><stop offset="0.2909" stop-color="#f4812f"/><stop offset="0.3091" stop-color="#f47f2f"/><stop offset="0.315" stop-color="#f47e2f"/><stop offset="0.3273" stop-color="#f37c2f"/><stop offset="0.3455" stop-color="#f3792f"/><stop offset="0.35" stop-color="#f3782f"/><stop offset="0.3636" stop-color="#f2732f"/><stop offset="0.3735" stop-color="#f26e2f"/><stop offset="0.3818" stop-color="#f16a2f"/><stop offset="0.397" stop-color="#f0642f"/><stop offset="0.4" stop-color="#f0632f"/><stop offset="0.4155" stop-color="#f05e2f"/><stop offset="0.4182" stop-color="#f05d2f"/><stop offset="0.434" stop-color="#ef5330"/><stop offset="0.4364" stop-color="#ee5130"/><stop offset="0.4505" stop-color="#ec3a32"/><stop offset="0.4545" stop-color="#ea3034"/><stop offset="0.467" stop-color="#e81e36"/><stop offset="0.4727" stop-color="#e81c36"/><stop offset="0.486" stop-color="#e81c36"/><stop offset="0.4909" stop-color="#e81c36"/><stop offset="0.505" stop-color="#e81e36"/><stop offset="0.5091" stop-color="#e92235"/><stop offset="0.521" stop-color="#eb3733"/><stop offset="0.5273" stop-color="#ed4332"/><stop offset="0.537" stop-color="#ee4e31"/><stop offset="0.5455" stop-color="#ee5230"/><stop offset="0.5535" stop-color="#ef5530"/><stop offset="0.5636" stop-color="#ef5830"/><stop offset="0.57" stop-color="#ef5b2f"/><stop offset="0.5818" stop-color="#f05f2f"/><stop offset="0.6" stop-color="#f1652f"/><stop offset="0.6182" stop-color="#f1692f"/><stop offset="0.63" stop-color="#f16a2f"/><stop offset="0.6364" stop-color="#f16a2f"/><stop offset="0.6545" stop-color="#f16a2f"/><stop offset="0.665" stop-color="#f1692f"/><stop offset="0.6727" stop-color="#f1692f"/><stop offset="0.6909" stop-color="#f1672f"/><stop offset="0.7" stop-color="#f1672f"/><stop offset="0.7091" stop-color="#f1662f"/><stop offset="0.7273" stop-color="#f0642f"/><stop offset="0.735" stop-color="#f0632f"/><stop offset="0.7455" stop-color="#f0622f"/><stop offset="0.7636" stop-color="#f0602f"/><stop offset="0.77" stop-color="#f0602f"/><stop offset="0.7818" stop-color="#f0612f"/><stop offset="0.8" stop-color="#f1642f"/><stop offset="0.805" stop-color="#f1662f"/><stop offset="0.8182" stop-color="#f16a2f"/><stop offset="0.8364" stop-color="#f2702f"/><stop offset="0.84" stop-color="#f2712f"/><stop offset="0.8545" stop-color="#f3762f"/><stop offset="0.8635" stop-color="#f37a2f"/><stop offset="0.8727" stop-color="#f47e2f"/><stop offset="0.887" stop-color="#f5862f"/><stop offset="0.8909" stop-color="#f5892f"/><stop offset="0.9055" stop-color="#f8972d"/><stop offset="0.9091" stop-color="#f99b2c"/><stop offset="0.924" stop-color="#fcb127"/><stop offset="0.9273" stop-color="#fdb725"/><stop offset="0.938" stop-color="#feca20"/><stop offset="0.9455" stop-color="#fed61e"/><stop offset="0.952" stop-color="#fbdf1f"/><stop offset="0.9636" stop-color="#f5e828"/><stop offset="0.966" stop-color="#f4e82b"/><stop offset="0.973" stop-color="#f0e834"/><stop offset="0.9775" stop-color="#eee839"/><stop offset="0.98" stop-color="#ede83c"/><stop offset="0.9818" stop-color="#ece83d"/><stop offset="0.982" stop-color="#ece83e"/><stop offset="0.9865" stop-color="#ebe842"/><stop offset="0.99" stop-color="#e9e845"/><stop offset="0.991" stop-color="#e9e845"/><stop offset="0.9955" stop-color="#e8e848"/><stop offset="1" stop-color="#e8e84a"/></linearGradient>
<linearGradient id="b7" x1="0" y1="0" x2="1" y2="0"><stop offset="0" stop-color="#e9ea5c"/><stop offset="0.0045" stop-color="#e9ea5b"/><stop offset="0.009" stop-color="#e9ea5b"/><stop offset="0.0135" stop-color="#e9ea59"/><stop offset="0.018" stop-color="#e9ea58"/><stop offset="0.0182" stop-color="#e9ea58"/><stop offset="0.0225" stop-color="#e9ea56"/><stop offset="0.025" stop-color="#e9ea55"/><stop offset="0.027" stop-color="#e9e953"/><stop offset="0.0364" stop-color="#e8e94e"/><stop offset="0.05" stop-color="#eae843"/><stop offset="0.0545" stop-color="#ece83f"/><stop offset="0.065" stop-color="#f1e831"/><stop offset="0.0727" stop-color="#f7e822"/><stop offset="0.08" stop-color="#fdd71e"/><stop offset="0.09" stop-color="#fbab29"/><stop offset="0.0909" stop-color="#fba72a"/><stop offset="0.1" stop-color="#f7952d"/><stop offset="0.1091" stop-color="#f68d2e"/><stop offset="0.1273" stop-color="#f4852f"/><stop offset="0.135" stop-color="#f4822f"/><stop offset="0.1455" stop-color="#f47f2f"/><stop offset="0.1636" stop-color="#f37c2f"/><stop offset="0.17" stop-color="#f37b2f"/><stop offset="0.1818" stop-color="#f37a2f"/><stop offset="0.2" stop-color="#f3792f"/><stop offset="0.2182" stop-color="#f3782f"/><stop offset="0.2364" stop-color="#f3772f"/><stop offset="0.2545" stop-color="#f3772f"/><stop offset="0.26" stop-color="#f3762f"/><stop offset="0.2727" stop-color="#f3762f"/><stop offset="0.2909" stop-color="#f3752f"/><stop offset="0.3091" stop-color="#f2742f"/><stop offset="0.3273" stop-color="#f2732f"/><stop offset="0.3455" stop-color="#f2722f"/><stop offset="0.35" stop-color="#f2712f"/><stop offset="0.3636" stop-color="#f26d2f"/><stop offset="0.3818" stop-color="#f0642f"/><stop offset="0.385" stop-color="#f0622f"/><stop offset="0.4" stop-color="#ef5430"/><stop offset="0.4182" stop-color="#ed4531"/><stop offset="0.42" stop-color="#ed4431"/><stop offset="0.4364" stop-color="#eb3933"/><stop offset="0.4545" stop-color="#ea2b34"/><stop offset="0.455" stop-color="#ea2a34"/><stop offset="0.4727" stop-color="#e92035"/><stop offset="0.49" stop-color="#e81c36"/><stop offset="0.4909" stop-color="#e81c36"/><stop offset="0.505" stop-color="#e81c36"/><stop offset="0.5091" stop-color="#e81c36"/><stop offset="0.52" stop-color="#e81c36"/><stop offset="0.5273" stop-color="#e81e36"/><stop offset="0.545" stop-color="#ea2b34"/><stop offset="0.5455" stop-color="#ea2b34"/><stop offset="0.5636" stop-color="#ec3f32"/><stop offset="0.57" stop-color="#ed4431"/><stop offset="0.5818" stop-color="#ee4f31"/><stop offset="0.6" stop-color="#f0622f"/><stop offset="0.6182" stop-color="#f26d2f"/><stop offset="0.63" stop-color="#f2712f"/><stop offset="0.6364" stop-color="#f2722f"/><stop offset="0.6545" stop-color="#f2732f"/><stop offset="0.6727" stop-color="#f2742f"/><stop offset="0.6909" stop-color="#f3752f"/><stop offset="0.7091" stop-color="#f3762f"/><stop offset="0.7273" stop-color="#f3762f"/><stop offset="0.74" stop-color="#f3762f"/><stop offset="0.7455" stop-color="#f3772f"/><stop offset="0.7636" stop-color="#f3772f"/><stop offset="0.7818" stop-color="#f3772f"/><stop offset="0.8" stop-color="#f3782f"/><stop offset="0.8182" stop-color="#f3792f"/><stop offset="0.8364" stop-color="#f37a2f"/><stop offset="0.85" stop-color="#f37b2f"/><stop offset="0.8545" stop-color="#f37c2f"/><stop offset="0.8727" stop-color="#f47f2f"/><stop offset="0.88" stop-color="#f4812f"/><stop offset="0.8909" stop-color="#f4842f"/><stop offset="0.9091" stop-color="#f68c2e"/><stop offset="0.91" stop-color="#f68d2e"/><stop offset="0.9273" stop-color="#faa22b"/><stop offset="0.9275" stop-color="#faa22b"/><stop offset="0.945" stop-color="#fcdb1f"/><stop offset="0.9455" stop-color="#fcdd1f"/><stop offset="0.9525" stop-color="#f4e829"/><stop offset="0.96" stop-color="#eee83a"/><stop offset="0.9636" stop-color="#ebe840"/><stop offset="0.973" stop-color="#e8e84b"/><stop offset="0.9775" stop-color="#e9e950"/><stop offset="0.98" stop-color="#e9e952"/><stop offset="0.9818" stop-color="#e9e954"/><stop offset="0.982" stop-color="#e9e954"/><stop offset="0.9865" stop-color="#e9ea57"/><stop offset="0.991" stop-color="#e9ea59"/><stop offset="0.9955" stop-color="#e9ea5b"/><stop offset="1" stop-color="#e9ea5c"/></linearGradient>
<linearGradient id="b8" x1="0" y1="0" x2="1" y2="0"><stop offset="0" stop-color="#e9ea5c"/><stop offset="0.0045" stop-color="#e9ea5b"/><stop offset="0.009" stop-color="#e9ea5b"/><stop offset="0.0135" stop-color="#e9ea59"/><stop offset="0.018" stop-color="#e9ea58"/><stop offset="0.0182" stop-color="#e9ea58"/><stop offset="0.0225" stop-color="#e9ea56"/><stop offset="0.025" stop-color="#e9ea54"/><stop offset="0.027" stop-color="#e9e953"/><stop offset="0.0364" stop-color="#e8e94e"/><stop offset="0.05" stop-color="#eae844"/><stop offset="0.0545" stop-color="#ebe840"/><stop offset="0.0675" stop-color="#f1e830"/><stop offset="0.0727" stop-color="#f5e829"/><stop offset="0.085" stop-color="#fdd91f"/><stop offset="0.0909" stop-color="#fec521"/><stop offset="0.0975" stop-color="#fbab29"/><stop offset="0.1091" stop-color="#f7952d"/><stop offset="0.11" stop-color="#f7942d"/><stop offset="0.1273" stop-color="#f5892f"/><stop offset="0.145" stop-color="#f4832f"/><stop offset="0.1455" stop-color="#f4822f"/><stop offset="0.1636" stop-color="#f47e2f"/><stop offset="0.18" stop-color="#f37b2f"/><stop offset="0.1818" stop-color="#f37b2f"/><stop offset="0.2" stop-color="#f3792f"/><stop offset="0.2182" stop-color="#f3782f"/><stop offset="0.2364" stop-color="#f3772f"/><stop offset="0.2545" stop-color="#f3772f"/><stop offset="0.265" stop-color="#f3762f"/><stop offset="0.2727" stop-color="#f3762f"/><stop offset="0.2909" stop-color="#f3752f"/><stop offset="0.3091" stop-color="#f2742f"/><stop offset="0.3273" stop-color="#f2732f"/><stop offset="0.3455" stop-color="#f2722f"/><stop offset="0.35" stop-color="#f2712f"/><stop offset="0.3636" stop-color="#f26e2f"/><stop offset="0.3818" stop-color="#f1662f"/><stop offset="0.39" stop-color="#f0622f"/><stop offset="0.4" stop-color="#ef5a30"/><stop offset="0.4182" stop-color="#ee4b31"/><stop offset="0.43" stop-color="#ed4431"/><stop offset="0.4364" stop-color="#ec4032"/><stop offset="0.4545" stop-color="#eb3333"/><stop offset="0.465" stop-color="#ea2b34"/><stop offset="0.4727" stop-color="#e92635"/><stop offset="0.4909" stop-color="#e81e36"/><stop offset="0.5" stop-color="#e81c36"/><stop offset="0.5091" stop-color="#e81c36"/><stop offset="0.515" stop-color="#e81c36"/><stop offset="0.5273" stop-color="#e81c36"/><stop offset="0.53" stop-color="#e81c36"/><stop offset="0.5455" stop-color="#e92335"/><stop offset="0.555" stop-color="#ea2b34"/><stop offset="0.5636" stop-color="#eb3433"/><stop offset="0.58" stop-color="#ed4431"/><stop offset="0.5818" stop-color="#ed4531"/><stop offset="0.6" stop-color="#ef5830"/><stop offset="0.61" stop-color="#f0622f"/><stop offset="0.6182" stop-color="#f1682f"/><stop offset="0.6364" stop-color="#f2702f"/><stop offset="0.64" stop-color="#f2712f"/><stop offset="0.6545" stop-color="#f2722f"/><stop offset="0.6727" stop-color="#f2742f"/><stop offset="0.6909" stop-color="#f3752f"/><stop offset="0.7091" stop-color="#f3762f"/><stop offset="0.7273" stop-color="#f3762f"/><stop offset="0.745" stop-color="#f3762f"/><stop offset="0.7455" stop-color="#f3762f"/><stop offset="0.7636" stop-color="#f3772f"/><stop offset="0.7818" stop-color="#f3772f"/><stop offset="0.8" stop-color="#f3782f"/><stop offset="0.8182" stop-color="#f3792f"/><stop offset="0.8364" stop-color="#f37a2f"/><stop offset="0.85" stop-color="#f37b2f"/><stop offset="0.8545" stop-color="#f37c2f"/><stop offset="0.8727" stop-color="#f47f2f"/><stop offset="0.88" stop-color="#f4812f"/><stop offset="0.8909" stop-color="#f4842f"/><stop offset="0.9091" stop-color="#f68c2e"/><stop offset="0.91" stop-color="#f68d2e"/><stop offset="0.9273" stop-color="#faa22b"/><stop offset="0.9275" stop-color="#faa22b"/><stop offset="0.945" stop-color="#fcdb1f"/><stop offset="0.9455" stop-color="#fcdd1f"/><stop offset="0.9525" stop-color="#f4e829"/><stop offset="0.96" stop-color="#eee83a"/><stop offset="0.9636" stop-color="#ebe840"/><stop offset="0.973" stop-color="#e8e84b"/><stop offset="0.9775" stop-color="#e9e950"/><stop offset="0.98" stop-color="#e9e952"/><stop offset="0.9818" stop-color="#e9e954"/><stop offset="0.982" stop-color="#e9e954"/><stop offset="0.9865" stop-color="#e9ea57"/><stop offset="0.991" stop-color="#e9ea59"/><stop offset="0.9955" stop-color="#e9ea5b"/><stop offset="1" stop-color="#e9ea5c"/></linearGradient>
<linearGradient id="b9" x1="0" y1="0" x2="1" y2="0"><stop offset="0" stop-color="#e9e954"/><stop offset="0.0045" stop-color="#e9e953"/><stop offset="0.009" stop-color="#e9e952"/><stop offset="0.0135" stop-color="#e9e951"/><stop offset="0.018" stop-color="#e9e94f"/><stop offset="0.0182" stop-color="#e8e94f"/><stop offset="0.02" stop-color="#e8e94e"/><stop offset="0.0225" stop-color="#e8e94c"/><stop offset="0.027" stop-color="#e8e849"/><stop offset="0.0364" stop-color="#eae842"/><stop offset="0.04" stop-color="#ece83f"/><stop offset="0.0525" stop-color="#f3e82d"/><stop offset="0.0545" stop-color="#f4e829"/><stop offset="0.065" stop-color="#fdda1f"/><stop offset="0.0727" stop-color="#fdc123"/><stop offset="0.0775" stop-color="#fcb027"/><stop offset="0.09" stop-color="#f8992c"/><stop offset="0.0909" stop-color="#f8982c"/><stop offset="0.1091" stop-color="#f68d2e"/><stop offset="0.12" stop-color="#f5892f"/><stop offset="0.1273" stop-color="#f5862f"/><stop offset="0.1455" stop-color="#f4802f"/><stop offset="0.15" stop-color="#f47f2f"/><stop offset="0.1636" stop-color="#f37a2f"/><stop offset="0.1818" stop-color="#f3752f"/><stop offset="0.2" stop-color="#f2702f"/><stop offset="0.2" stop-color="#f2702f"/><stop offset="0.2182" stop-color="#f16c2f"/><stop offset="0.2364" stop-color="#f1692f"/><stop offset="0.25" stop-color="#f1672f"/><stop offset="0.2545" stop-color="#f1662f"/><stop offset="0.2727" stop-color="#f1652f"/><stop offset="0.2909" stop-color="#f0632f"/><stop offset="0.3091" stop-color="#f0622f"/><stop offset="0.325" stop-color="#f0612f"/><stop offset="0.3273" stop-color="#f0612f"/><stop offset="0.3455" stop-color="#f0602f"/><stop offset="0.3636" stop-color="#f05f2f"/><stop offset="0.3818" stop-color="#f05d2f"/><stop offset="0.4" stop-color="#ef5a30"/><stop offset="0.4" stop-color="#ef5a30"/><stop offset="0.4182" stop-color="#ef5730"/><stop offset="0.425" stop-color="#ef5630"/><stop offset="0.4364" stop-color="#ee5330"/><stop offset="0.45" stop-color="#ee4e31"/><stop offset="0.4545" stop-color="#ee4c31"/><stop offset="0.4727" stop-color="#ec3a32"/><stop offset="0.475" stop-color="#eb3733"/><stop offset="0.4909" stop-color="#e92235"/><stop offset="0.5" stop-color="#e81d36"/><stop offset="0.5091" stop-color="#e81c36"/><stop offset="0.515" stop-color="#e81c36"/><stop offset="0.5273" stop-color="#e81d36"/><stop offset="0.53" stop-color="#e81d36"/><stop offset="0.5455" stop-color="#ea2e34"/><stop offset="0.55" stop-color="#eb3733"/><stop offset="0.5636" stop-color="#ed4931"/><stop offset="0.57" stop-color="#ee4e31"/><stop offset="0.5818" stop-color="#ef5430"/><stop offset="0.6" stop-color="#ef5c2f"/><stop offset="0.61" stop-color="#f05f2f"/><stop offset="0.6182" stop-color="#f0612f"/><stop offset="0.6364" stop-color="#f0632f"/><stop offset="0.65" stop-color="#f0632f"/><stop offset="0.6545" stop-color="#f0632f"/><stop offset="0.6727" stop-color="#f0632f"/><stop offset="0.6909" stop-color="#f0632f"/><stop offset="0.7091" stop-color="#f0632f"/><stop offset="0.7273" stop-color="#f0622f"/><stop offset="0.7455" stop-color="#f0622f"/><stop offset="0.75" stop-color="#f0622f"/><stop offset="0.7636" stop-color="#f0612f"/><stop offset="0.7818" stop-color="#f0612f"/><stop offset="0.8" stop-color="#f0612f"/><stop offset="0.8182" stop-color="#f0602f"/><stop offset="0.8364" stop-color="#f0602f"/><stop offset="0.85" stop-color="#f0602f"/><stop offset="0.8545" stop-color="#f0612f"/><stop offset="0.8727" stop-color="#f1672f"/><stop offset="0.875" stop-color="#f1692f"/><stop offset="0.8909" stop-color="#f2722f"/><stop offset="0.9" stop-color="#f3782f"/><stop offset="0.9091" stop-color="#f47d2f"/><stop offset="0.92" stop-color="#f4832f"/><stop offset="0.9273" stop-color="#f5882f"/><stop offset="0.94" stop-color="#f7932d"/><stop offset="0.9455" stop-color="#f99b2c"/><stop offset="0.9525" stop-color="#fbaa29"/><stop offset="0.9636" stop-color="#fed61e"/><stop offset="0.965" stop-color="#fcda1f"/><stop offset="0.9725" stop-color="#f5e829"/><stop offset="0.973" stop-color="#f4e82a"/><stop offset="0.9775" stop-color="#f0e835"/><stop offset="0.98" stop-color="#eee83a"/><stop offset="0.9818" stop-color="#ece83e"/><stop offset="0.982" stop-color="#ece83e"/><stop offset="0.9865" stop-color="#e9e845"/><stop offset="0.99" stop-color="#e8e84a"/><stop offset="0.991" stop-color="#e8e84b"/><stop offset="0.9955" stop-color="#e9e950"/><stop offset="1" stop-color="#e9e952"/></linearGradient>
<linearGradient id="b10" x1="0" y1="0" x2="1" y2="0"><stop offset="0" stop-color="#e9ea5c"/><stop offset="0.0045" stop-color="#e9ea5b"/><stop offset="0.009" stop-color="#e9ea5b"/><stop offset="0.0135" stop-color="#e9ea59"/><stop offset="0.018" stop-color="#e9ea58"/><stop offset="0.0182" stop-color="#e9ea58"/><stop offset="0.0225" stop-color="#e9ea56"/><stop offset="0.025" stop-color="#e9ea55"/><stop offset="0.027" stop-color="#e9e953"/><stop offset="0.0364" stop-color="#e8e94e"/><stop offset="0.05" stop-color="#eae843"/><stop offset="0.0545" stop-color="#ece83f"/><stop offset="0.065" stop-color="#f1e830"/><stop offset="0.0727" stop-color="#f7e822"/><stop offset="0.08" stop-color="#fdd81f"/><stop offset="0.09" stop-color="#fcb127"/><stop offset="0.0909" stop-color="#fcad28"/><stop offset="0.1" stop-color="#f99a2c"/><stop offset="0.1091" stop-color="#f7922d"/><stop offset="0.1273" stop-color="#f58a2f"/><stop offset="0.135" stop-color="#f5882f"/><stop offset="0.1455" stop-color="#f4852f"/><stop offset="0.1636" stop-color="#f4802f"/><stop offset="0.17" stop-color="#f47f2f"/><stop offset="0.1818" stop-color="#f37c2f"/><stop offset="0.2" stop-color="#f3772f"/><stop offset="0.2182" stop-color="#f2742f"/><stop offset="0.235" stop-color="#f2702f"/><stop offset="0.2364" stop-color="#f2702f"/><stop offset="0.2545" stop-color="#f26d2f"/><stop offset="0.2727" stop-color="#f16a2f"/><stop offset="0.2909" stop-color="#f1682f"/><stop offset="0.3" stop-color="#f1672f"/><stop offset="0.3091" stop-color="#f1662f"/><stop offset="0.3273" stop-color="#f1652f"/><stop offset="0.3455" stop-color="#f0642f"/><stop offset="0.3636" stop-color="#f0632f"/><stop offset="0.375" stop-color="#f0622f"/><stop offset="0.3818" stop-color="#f0622f"/><stop offset="0.4" stop-color="#f0612f"/><stop offset="0.4182" stop-color="#f05f2f"/><stop offset="0.4364" stop-color="#f05d2f"/><stop offset="0.45" stop-color="#ef5a30"/><stop offset="0.4545" stop-color="#ef5930"/><stop offset="0.4727" stop-color="#ee5230"/><stop offset="0.475" stop-color="#ee5130"/><stop offset="0.4909" stop-color="#ed4931"/><stop offset="0.5" stop-color="#ed4332"/><stop offset="0.5091" stop-color="#ec3c32"/><stop offset="0.52" stop-color="#ea2d34"/><stop offset="0.5273" stop-color="#e92535"/><stop offset="0.54" stop-color="#e81d36"/><stop offset="0.5455" stop-color="#e81c36"/><stop offset="0.555" stop-color="#e81c36"/><stop offset="0.5636" stop-color="#e81c36"/><stop offset="0.57" stop-color="#e81e36"/><stop offset="0.5818" stop-color="#ea2a34"/><stop offset="0.59" stop-color="#eb3a33"/><stop offset="0.6" stop-color="#ed4831"/><stop offset="0.61" stop-color="#ee4e31"/><stop offset="0.6182" stop-color="#ee4e31"/><stop offset="0.6364" stop-color="#ee4b31"/><stop offset="0.645" stop-color="#ed4931"/><stop offset="0.6545" stop-color="#ed4731"/><stop offset="0.6727" stop-color="#ed4431"/><stop offset="0.68" stop-color="#ed4431"/><stop offset="0.6909" stop-color="#ed4431"/><stop offset="0.7091" stop-color="#ed4731"/><stop offset="0.715" stop-color="#ed4831"/><stop offset="0.7273" stop-color="#ed4a31"/><stop offset="0.7455" stop-color="#ee4e31"/><stop offset="0.75" stop-color="#ee4f31"/><stop offset="0.7636" stop-color="#ee5230"/><stop offset="0.7818" stop-color="#ef5630"/><stop offset="0.8" stop-color="#ef5a30"/><stop offset="0.8" stop-color="#ef5a30"/><stop offset="0.8182" stop-color="#f05f2f"/><stop offset="0.8364" stop-color="#f0642f"/><stop offset="0.85" stop-color="#f1672f"/><stop offset="0.8545" stop-color="#f1682f"/><stop offset="0.8727" stop-color="#f26f2f"/><stop offset="0.875" stop-color="#f2712f"/><stop offset="0.8909" stop-color="#f3792f"/><stop offset="0.9" stop-color="#f47f2f"/><stop offset="0.9091" stop-color="#f5852f"/><stop offset="0.915" stop-color="#f58a2f"/><stop offset="0.9273" stop-color="#f8962d"/><stop offset="0.93" stop-color="#f8992c"/><stop offset="0.94" stop-color="#fcb227"/><stop offset="0.9455" stop-color="#fec920"/><stop offset="0.95" stop-color="#fdd91f"/><stop offset="0.96" stop-color="#f4e82a"/><stop offset="0.9636" stop-color="#f1e831"/><stop offset="0.97" stop-color="#ede83b"/><stop offset="0.973" stop-color="#ebe840"/><stop offset="0.9775" stop-color="#e9e846"/><stop offset="0.9818" stop-color="#e8e84b"/><stop offset="0.982" stop-color="#e8e84b"/><stop offset="0.985" stop-color="#e9e94f"/><stop offset="0.9865" stop-color="#e9e950"/><stop offset="0.991" stop-color="#e9ea55"/><stop offset="0.9955" stop-color="#e9ea58"/><stop offset="1" stop-color="#e9ea5a"/></linearGradient>
<linearGradient id="b11" x1="0" y1="0" x2="1" y2="0"><stop offset="0" stop-color="#ffffff"/><stop offset="0.023" stop-color="#ffffff"/><stop offset="0.0275" stop-color="#ffffff"/><stop offset="0.032" stop-color="#ffffff"/><stop offset="0.0365" stop-color="#ffffff"/><stop offset="0.0408" stop-color="#ffffff"/><stop offset="0.041" stop-color="#ffffff"/><stop offset="0.0455" stop-color="#fffffe"/><stop offset="0.0499" stop-color="#fefefb"/><stop offset="0.05" stop-color="#fefefb"/><stop offset="0.0545" stop-color="#fdfcf3"/><stop offset="0.0585" stop-color="#fcf9e8"/><stop offset="0.059" stop-color="#fcf9e6"/><stop offset="0.0635" stop-color="#faf7de"/><stop offset="0.068" stop-color="#f9f6d9"/><stop offset="0.07" stop-color="#f8f5d6"/><stop offset="0.0725" stop-color="#f8f5d3"/><stop offset="0.0763" stop-color="#f7f4ce"/><stop offset="0.077" stop-color="#f6f3cd"/><stop offset="0.09" stop-color="#f4f1c0"/><stop offset="0.0941" stop-color="#f4f1be"/><stop offset="0.1118" stop-color="#f3f1b8"/><stop offset="0.1296" stop-color="#f3f0b3"/><stop offset="0.145" stop-color="#f2f0b0"/><stop offset="0.1473" stop-color="#f2f0b0"/><stop offset="0.1651" stop-color="#f2f0ad"/><stop offset="0.1829" stop-color="#f2efa9"/><stop offset="0.2" stop-color="#f1efa4"/><stop offset="0.2006" stop-color="#f1efa4"/><stop offset="0.2184" stop-color="#f0ef9d"/><stop offset="0.2362" stop-color="#efee95"/><stop offset="0.25" stop-color="#eeee8e"/><stop offset="0.2539" stop-color="#eeee8c"/><stop offset="0.2717" stop-color="#edee82"/><stop offset="0.2895" stop-color="#eced77"/><stop offset="0.3" stop-color="#ebed70"/><stop offset="0.3072" stop-color="#ebec6a"/><stop offset="0.32" stop-color="#eaeb5f"/><stop offset="0.325" stop-color="#e9ea5a"/><stop offset="0.34" stop-color="#e9e847"/><stop offset="0.3427" stop-color="#eae842"/><stop offset="0.3525" stop-color="#f3e82d"/><stop offset="0.3605" stop-color="#f9e520"/><stop offset="0.365" stop-color="#fcdd1f"/><stop offset="0.3775" stop-color="#ffcd1f"/><stop offset="0.3783" stop-color="#fecc20"/><stop offset="0.39" stop-color="#fec222"/><stop offset="0.396" stop-color="#fdbf23"/><stop offset="0.4138" stop-color="#fdba25"/><stop offset="0.42" stop-color="#fdb925"/><stop offset="0.4316" stop-color="#fcb626"/><stop offset="0.4493" stop-color="#fcb127"/><stop offset="0.45" stop-color="#fcb127"/><stop offset="0.4671" stop-color="#fba82a"/><stop offset="0.475" stop-color="#fba42a"/><stop offset="0.4849" stop-color="#faa02b"/><stop offset="0.5" stop-color="#f8972d"/><stop offset="0.5026" stop-color="#f7952d"/><stop offset="0.52" stop-color="#f47f2f"/><stop offset="0.5204" stop-color="#f47f2f"/><stop offset="0.5381" stop-color="#f0632f"/><stop offset="0.54" stop-color="#f0602f"/><stop offset="0.555" stop-color="#ec3d32"/><stop offset="0.5559" stop-color="#eb3a33"/><stop offset="0.57" stop-color="#e92135"/><stop offset="0.5737" stop-color="#e92335"/><stop offset="0.585" stop-color="#ec3b32"/><stop offset="0.5914" stop-color="#ed4b31"/><stop offset="0.6" stop-color="#f0602f"/><stop offset="0.6092" stop-color="#f2712f"/><stop offset="0.6125" stop-color="#f3782f"/><stop offset="0.625" stop-color="#f7922d"/><stop offset="0.627" stop-color="#f8962d"/><stop offset="0.635" stop-color="#fba929"/><stop offset="0.6447" stop-color="#ffd01f"/><stop offset="0.645" stop-color="#ffd11e"/><stop offset="0.6575" stop-color="#f4e82a"/><stop offset="0.6625" stop-color="#efe836"/><stop offset="0.67" stop-color="#e8e849"/><stop offset="0.6803" stop-color="#eaec66"/><stop offset="0.685" stop-color="#ebed73"/><stop offset="0.698" stop-color="#efee8e"/><stop offset="0.7" stop-color="#efee91"/><stop offset="0.7158" stop-color="#f1efa3"/><stop offset="0.725" stop-color="#f2f0aa"/><stop offset="0.7335" stop-color="#f2f0af"/><stop offset="0.75" stop-color="#f3f0b5"/><stop offset="0.7513" stop-color="#f3f0b5"/><stop offset="0.7691" stop-color="#f3f1b6"/><stop offset="0.7868" stop-color="#f3f1b7"/><stop offset="0.8046" stop-color="#f3f1b8"/><stop offset="0.8224" stop-color="#f3f1b8"/><stop offset="0.8401" stop-color="#f3f1b8"/><stop offset="0.85" stop-color="#f3f1b8"/><stop offset="0.8579" stop-color="#f3f1b8"/><stop offset="0.8757" stop-color="#f3f1b9"/><stop offset="0.8934" stop-color="#f3f1b9"/><stop offset="0.9112" stop-color="#f4f1ba"/><stop offset="0.9289" stop-color="#f4f1ba"/><stop offset="0.9467" stop-color="#f4f1bc"/><stop offset="0.95" stop-color="#f4f1bc"/><stop offset="0.9645" stop-color="#f5f2c2"/><stop offset="0.965" stop-color="#f5f2c2"/><stop offset="0.973" stop-color="#f5f2c8"/><stop offset="0.9775" stop-color="#f6f3cb"/><stop offset="0.98" stop-color="#f7f4cd"/><stop offset="0.982" stop-color="#f7f4cf"/><stop offset="0.9822" stop-color="#f7f4cf"/><stop offset="0.9865" stop-color="#f8f5d2"/><stop offset="0.99" stop-color="#f8f5d5"/><stop offset="0.991" stop-color="#f8f5d6"/><stop offset="0.9955" stop-color="#f9f6da"/><stop offset="1" stop-color="#faf7dc"/></linearGradient>
<linearGradient id="b12" x1="0" y1="0" x2="1" y2="0"><stop offset="0" stop-color="#ffffff"/><stop offset="0.223" stop-color="#ffffff"/><stop offset="0.2275" stop-color="#ffffff"/><stop offset="0.232" stop-color="#ffffff"/><stop offset="0.2362" stop-color="#ffffff"/><stop offset="0.2365" stop-color="#ffffff"/><stop offset="0.241" stop-color="#ffffff"/><stop offset="0.2455" stop-color="#fffffd"/><stop offset="0.2493" stop-color="#fefefa"/><stop offset="0.2499" stop-color="#fefef9"/><stop offset="0.25" stop-color="#fefef9"/><stop offset="0.2545" stop-color="#fdfbef"/><stop offset="0.259" stop-color="#fbf8e1"/><stop offset="0.2625" stop-color="#faf7dc"/><stop offset="0.2635" stop-color="#f9f6db"/><stop offset="0.265" stop-color="#f9f6d9"/><stop offset="0.268" stop-color="#f8f5d4"/><stop offset="0.2725" stop-color="#f6f3cc"/><stop offset="0.2757" stop-color="#f5f2c7"/><stop offset="0.277" stop-color="#f5f2c4"/><stop offset="0.28" stop-color="#f4f1bf"/><stop offset="0.2888" stop-color="#f3f0b2"/><stop offset="0.3" stop-color="#f0efa0"/><stop offset="0.302" stop-color="#f0ef9c"/><stop offset="0.3151" stop-color="#eeee88"/><stop offset="0.32" stop-color="#edee82"/><stop offset="0.3283" stop-color="#eced77"/><stop offset="0.34" stop-color="#eaec67"/><stop offset="0.3415" stop-color="#eaec65"/><stop offset="0.3546" stop-color="#e9ea58"/><stop offset="0.36" stop-color="#e9ea55"/><stop offset="0.3678" stop-color="#e9e952"/><stop offset="0.381" stop-color="#e9e950"/><stop offset="0.3941" stop-color="#e9e94f"/><stop offset="0.405" stop-color="#e8e94f"/><stop offset="0.4073" stop-color="#e8e94e"/><stop offset="0.4205" stop-color="#e8e94d"/><stop offset="0.4336" stop-color="#e8e84c"/><stop offset="0.4468" stop-color="#e8e848"/><stop offset="0.45" stop-color="#e9e845"/><stop offset="0.4599" stop-color="#f1e832"/><stop offset="0.46" stop-color="#f1e832"/><stop offset="0.47" stop-color="#fcda1f"/><stop offset="0.4731" stop-color="#ffcd1f"/><stop offset="0.48" stop-color="#fcac28"/><stop offset="0.4863" stop-color="#f99b2c"/><stop offset="0.49" stop-color="#f7942d"/><stop offset="0.4994" stop-color="#f5862f"/><stop offset="0.51" stop-color="#f37a2f"/><stop offset="0.5126" stop-color="#f3772f"/><stop offset="0.5258" stop-color="#f16b2f"/><stop offset="0.53" stop-color="#f1672f"/><stop offset="0.5389" stop-color="#f05c2f"/><stop offset="0.5521" stop-color="#ed4531"/><stop offset="0.555" stop-color="#ec4032"/><stop offset="0.5653" stop-color="#ea2c34"/><stop offset="0.5784" stop-color="#e81e36"/><stop offset="0.58" stop-color="#e81d36"/><stop offset="0.5916" stop-color="#e81c36"/><stop offset="0.595" stop-color="#e81c36"/><stop offset="0.6047" stop-color="#e81d36"/><stop offset="0.61" stop-color="#e81f36"/><stop offset="0.6179" stop-color="#ea2c34"/><stop offset="0.625" stop-color="#ec4032"/><stop offset="0.6311" stop-color="#ee5130"/><stop offset="0.64" stop-color="#f1672f"/><stop offset="0.6442" stop-color="#f26f2f"/><stop offset="0.6525" stop-color="#f4802f"/><stop offset="0.6574" stop-color="#f58b2f"/><stop offset="0.665" stop-color="#f99c2c"/><stop offset="0.6706" stop-color="#fcb027"/><stop offset="0.6725" stop-color="#fdbb24"/><stop offset="0.68" stop-color="#f9e420"/><stop offset="0.6837" stop-color="#f3e82d"/><stop offset="0.69" stop-color="#e8e848"/><stop offset="0.6969" stop-color="#eaeb63"/><stop offset="0.7" stop-color="#ebed6e"/><stop offset="0.7101" stop-color="#eeee87"/><stop offset="0.715" stop-color="#efee91"/><stop offset="0.7232" stop-color="#f0ef9d"/><stop offset="0.73" stop-color="#f1efa3"/><stop offset="0.7364" stop-color="#f1efa5"/><stop offset="0.7495" stop-color="#f1efa8"/><stop offset="0.7627" stop-color="#f2f0aa"/><stop offset="0.7759" stop-color="#f2f0ab"/><stop offset="0.789" stop-color="#f2f0ac"/><stop offset="0.8022" stop-color="#f2f0ad"/><stop offset="0.805" stop-color="#f2f0ad"/><stop offset="0.8154" stop-color="#f2f0ad"/><stop offset="0.8285" stop-color="#f2f0ae"/><stop offset="0.8417" stop-color="#f2f0af"/><stop offset="0.8549" stop-color="#f2f0b0"/><stop offset="0.868" stop-color="#f3f0b3"/><stop offset="0.88" stop-color="#f3f1b6"/><stop offset="0.8812" stop-color="#f3f1b7"/><stop offset="0.893" stop-color="#f5f2c4"/><stop offset="0.8943" stop-color="#f5f2c6"/><stop offset="0.8975" stop-color="#f6f3cc"/><stop offset="0.9" stop-color="#f7f4d0"/><stop offset="0.902" stop-color="#f8f5d3"/><stop offset="0.9065" stop-color="#f9f6db"/><stop offset="0.9075" stop-color="#faf7dc"/><stop offset="0.911" stop-color="#fbf8e1"/><stop offset="0.9155" stop-color="#fdfbef"/><stop offset="0.92" stop-color="#fefef9"/><stop offset="0.9201" stop-color="#fefef9"/><stop offset="0.9207" stop-color="#fefefa"/><stop offset="0.9245" stop-color="#fffffd"/><stop offset="0.929" stop-color="#ffffff"/><stop offset="0.9335" stop-color="#ffffff"/><stop offset="0.9338" stop-color="#ffffff"/><stop offset="0.938" stop-color="#ffffff"/><stop offset="0.9425" stop-color="#ffffff"/><stop offset="0.947" stop-color="#ffffff"/><stop offset="1" stop-color="#ffffff"/></linearGradient>
<linearGradient id="b13" x1="0" y1="0" x2="1" y2="0"><stop offset="0" stop-color="#ffffff"/><stop offset="0.043" stop-color="#ffffff"/><stop offset="0.0475" stop-color="#ffffff"/><stop offset="0.052" stop-color="#ffffff"/><stop offset="0.0565" stop-color="#ffffff"/><stop offset="0.0604" stop-color="#ffffff"/><stop offset="0.061" stop-color="#ffffff"/><stop offset="0.0655" stop-color="#ffffff"/><stop offset="0.0699" stop-color="#fffffd"/><stop offset="0.07" stop-color="#fffffd"/><stop offset="0.0745" stop-color="#fefefa"/><stop offset="0.0778" stop-color="#fefdf6"/><stop offset="0.079" stop-color="#fdfcf4"/><stop offset="0.0835" stop-color="#fcfaeb"/><stop offset="0.088" stop-color="#fbf8e1"/><stop offset="0.0925" stop-color="#faf7de"/><stop offset="0.0952" stop-color="#faf7db"/><stop offset="0.097" stop-color="#f9f6da"/><stop offset="0.1" stop-color="#f9f6d7"/><stop offset="0.1126" stop-color="#f6f3cb"/><stop offset="0.13" stop-color="#f4f1bc"/><stop offset="0.1474" stop-color="#f3f0b1"/><stop offset="0.1648" stop-color="#f1efa7"/><stop offset="0.165" stop-color="#f1efa7"/><stop offset="0.1822" stop-color="#f0ef9e"/><stop offset="0.1996" stop-color="#efee93"/><stop offset="0.2" stop-color="#efee93"/><stop offset="0.217" stop-color="#eeee87"/><stop offset="0.2344" stop-color="#eced7b"/><stop offset="0.235" stop-color="#eced7a"/><stop offset="0.2518" stop-color="#ebed6d"/><stop offset="0.2692" stop-color="#eaeb5d"/><stop offset="0.27" stop-color="#eaeb5c"/><stop offset="0.285" stop-color="#e8e94d"/><stop offset="0.2866" stop-color="#e8e84c"/><stop offset="0.3" stop-color="#ede83b"/><stop offset="0.304" stop-color="#f0e834"/><stop offset="0.31" stop-color="#f5e829"/><stop offset="0.32" stop-color="#fcdb1f"/><stop offset="0.3214" stop-color="#fdd81f"/><stop offset="0.335" stop-color="#fdb825"/><stop offset="0.3388" stop-color="#fcaf28"/><stop offset="0.35" stop-color="#faa12b"/><stop offset="0.3562" stop-color="#f99d2c"/><stop offset="0.3736" stop-color="#f8962d"/><stop offset="0.385" stop-color="#f7922d"/><stop offset="0.391" stop-color="#f7912e"/><stop offset="0.4084" stop-color="#f68c2e"/><stop offset="0.42" stop-color="#f5892f"/><stop offset="0.4258" stop-color="#f5872f"/><stop offset="0.4432" stop-color="#f4822f"/><stop offset="0.46" stop-color="#f47e2f"/><stop offset="0.4606" stop-color="#f47d2f"/><stop offset="0.478" stop-color="#f3792f"/><stop offset="0.4954" stop-color="#f2732f"/><stop offset="0.5" stop-color="#f2712f"/><stop offset="0.5128" stop-color="#f16b2f"/><stop offset="0.53" stop-color="#f0612f"/><stop offset="0.5302" stop-color="#f0602f"/><stop offset="0.5476" stop-color="#ee4f30"/><stop offset="0.56" stop-color="#ed4432"/><stop offset="0.565" stop-color="#ec3f32"/><stop offset="0.58" stop-color="#ea2c34"/><stop offset="0.5824" stop-color="#ea2934"/><stop offset="0.5998" stop-color="#e81d36"/><stop offset="0.6" stop-color="#e81d36"/><stop offset="0.6172" stop-color="#e81c36"/><stop offset="0.625" stop-color="#e81c36"/><stop offset="0.6346" stop-color="#e81c36"/><stop offset="0.65" stop-color="#e81d36"/><stop offset="0.652" stop-color="#e81e36"/><stop offset="0.6694" stop-color="#eb3533"/><stop offset="0.675" stop-color="#ec4032"/><stop offset="0.6868" stop-color="#ee5230"/><stop offset="0.7" stop-color="#f05f2f"/><stop offset="0.7042" stop-color="#f0612f"/><stop offset="0.7216" stop-color="#f1662f"/><stop offset="0.739" stop-color="#f1692f"/><stop offset="0.74" stop-color="#f1692f"/><stop offset="0.7564" stop-color="#f16c2f"/><stop offset="0.7738" stop-color="#f26f2f"/><stop offset="0.78" stop-color="#f2712f"/><stop offset="0.7912" stop-color="#f3752f"/><stop offset="0.805" stop-color="#f37b2f"/><stop offset="0.8086" stop-color="#f47d2f"/><stop offset="0.826" stop-color="#f5872f"/><stop offset="0.83" stop-color="#f5892f"/><stop offset="0.8434" stop-color="#f6902e"/><stop offset="0.8475" stop-color="#f7932d"/><stop offset="0.8608" stop-color="#f99d2c"/><stop offset="0.865" stop-color="#faa22b"/><stop offset="0.875" stop-color="#fdba25"/><stop offset="0.8782" stop-color="#fec522"/><stop offset="0.885" stop-color="#fcda1f"/><stop offset="0.8956" stop-color="#f4e82b"/><stop offset="0.8975" stop-color="#f2e82f"/><stop offset="0.91" stop-color="#e8e848"/><stop offset="0.913" stop-color="#e8e94d"/><stop offset="0.93" stop-color="#eaec69"/><stop offset="0.9304" stop-color="#ebec6a"/><stop offset="0.9478" stop-color="#edee7f"/><stop offset="0.95" stop-color="#edee81"/><stop offset="0.9652" stop-color="#efee8e"/><stop offset="0.973" stop-color="#efee94"/><stop offset="0.975" stop-color="#efee96"/><stop offset="0.9775" stop-color="#f0ef98"/><stop offset="0.982" stop-color="#f0ef9b"/><stop offset="0.9826" stop-color="#f0ef9b"/><stop offset="0.9865" stop-color="#f0ef9d"/><stop offset="0.991" stop-color="#f1efa0"/><stop offset="0.9955" stop-color="#f1efa2"/><stop offset="1" stop-color="#f1efa3"/></linearGradient>
<linearGradient id="b14" x1="0" y1="0" x2="1" y2="0"><stop offset="0" stop-color="#edee81"/><stop offset="0.0045" stop-color="#edee80"/><stop offset="0.009" stop-color="#edee7e"/><stop offset="0.0135" stop-color="#eced7d"/><stop offset="0.018" stop-color="#eced7b"/><stop offset="0.0182" stop-color="#eced7b"/><stop offset="0.0225" stop-color="#eced7a"/><stop offset="0.027" stop-color="#eced79"/><stop offset="0.0364" stop-color="#eced75"/><stop offset="0.05" stop-color="#ebed71"/><stop offset="0.0545" stop-color="#ebed6f"/><stop offset="0.0727" stop-color="#eaec67"/><stop offset="0.0909" stop-color="#eaeb60"/><stop offset="0.1" stop-color="#eaeb5c"/><stop offset="0.1091" stop-color="#e9ea58"/><stop offset="0.1273" stop-color="#e9e951"/><stop offset="0.135" stop-color="#e8e94e"/><stop offset="0.1455" stop-color="#e8e84a"/><stop offset="0.1636" stop-color="#ebe840"/><stop offset="0.17" stop-color="#ede83b"/><stop offset="0.1818" stop-color="#f2e830"/><stop offset="0.185" stop-color="#f3e82c"/><stop offset="0.2" stop-color="#f9e420"/><stop offset="0.2" stop-color="#f9e420"/><stop offset="0.2182" stop-color="#fdd81f"/><stop offset="0.225" stop-color="#fed41e"/><stop offset="0.2364" stop-color="#ffce1f"/><stop offset="0.25" stop-color="#fec721"/><stop offset="0.2545" stop-color="#fec522"/><stop offset="0.2727" stop-color="#fdbe23"/><stop offset="0.2909" stop-color="#fdb925"/><stop offset="0.3" stop-color="#fcb626"/><stop offset="0.3091" stop-color="#fcb326"/><stop offset="0.3273" stop-color="#fcae28"/><stop offset="0.3455" stop-color="#fba82a"/><stop offset="0.35" stop-color="#fba62a"/><stop offset="0.3636" stop-color="#faa32b"/><stop offset="0.3818" stop-color="#f99e2b"/><stop offset="0.385" stop-color="#f99d2c"/><stop offset="0.4" stop-color="#f8982c"/><stop offset="0.4182" stop-color="#f7922d"/><stop offset="0.42" stop-color="#f7922e"/><stop offset="0.4364" stop-color="#f68c2e"/><stop offset="0.4545" stop-color="#f5862f"/><stop offset="0.46" stop-color="#f4832f"/><stop offset="0.4727" stop-color="#f47e2f"/><stop offset="0.4909" stop-color="#f3752f"/><stop offset="0.5" stop-color="#f2712f"/><stop offset="0.5091" stop-color="#f16c2f"/><stop offset="0.5273" stop-color="#f0622f"/><stop offset="0.53" stop-color="#f0602f"/><stop offset="0.5455" stop-color="#ee5130"/><stop offset="0.56" stop-color="#ed4432"/><stop offset="0.5636" stop-color="#ec4032"/><stop offset="0.58" stop-color="#ea2c34"/><stop offset="0.5818" stop-color="#ea2a34"/><stop offset="0.6" stop-color="#e81d36"/><stop offset="0.6182" stop-color="#e81c36"/><stop offset="0.63" stop-color="#e81c36"/><stop offset="0.6364" stop-color="#e81c36"/><stop offset="0.6545" stop-color="#e81c36"/><stop offset="0.66" stop-color="#e81d36"/><stop offset="0.6727" stop-color="#e92435"/><stop offset="0.69" stop-color="#ec3a32"/><stop offset="0.6909" stop-color="#ec3b32"/><stop offset="0.7091" stop-color="#ee4e31"/><stop offset="0.72" stop-color="#ef5430"/><stop offset="0.7273" stop-color="#ef5730"/><stop offset="0.7455" stop-color="#f05c2f"/><stop offset="0.7636" stop-color="#f05f2f"/><stop offset="0.7818" stop-color="#f0612f"/><stop offset="0.785" stop-color="#f0622f"/><stop offset="0.8" stop-color="#f0632f"/><stop offset="0.8182" stop-color="#f1652f"/><stop offset="0.8364" stop-color="#f1682f"/><stop offset="0.85" stop-color="#f16a2f"/><stop offset="0.8545" stop-color="#f16c2f"/><stop offset="0.8727" stop-color="#f2722f"/><stop offset="0.875" stop-color="#f2732f"/><stop offset="0.8909" stop-color="#f37c2f"/><stop offset="0.9" stop-color="#f4832f"/><stop offset="0.9091" stop-color="#f58a2f"/><stop offset="0.915" stop-color="#f6902e"/><stop offset="0.9273" stop-color="#f99d2b"/><stop offset="0.93" stop-color="#faa12b"/><stop offset="0.94" stop-color="#fdbb24"/><stop offset="0.9455" stop-color="#ffcd1f"/><stop offset="0.95" stop-color="#fcda1f"/><stop offset="0.96" stop-color="#f4e82a"/><stop offset="0.9636" stop-color="#f1e831"/><stop offset="0.97" stop-color="#ede83b"/><stop offset="0.973" stop-color="#ece83f"/><stop offset="0.9775" stop-color="#eae844"/><stop offset="0.9818" stop-color="#e8e849"/><stop offset="0.982" stop-color="#e8e849"/><stop offset="0.985" stop-color="#e8e84b"/><stop offset="0.9865" stop-color="#e8e94d"/><stop offset="0.991" stop-color="#e9e950"/><stop offset="0.9955" stop-color="#e9e952"/><stop offset="1" stop-color="#e9e953"/></linearGradient>
<linearGradient id="b15" x1="0" y1="0" x2="1" y2="0"><stop offset="0" stop-color="#ebed6f"/><stop offset="0.0045" stop-color="#ebed6f"/><stop offset="0.009" stop-color="#ebed6d"/><stop offset="0.0135" stop-color="#ebed6c"/><stop offset="0.018" stop-color="#ebec6b"/><stop offset="0.0182" stop-color="#ebec6b"/><stop offset="0.0225" stop-color="#eaec69"/><stop offset="0.027" stop-color="#eaec68"/><stop offset="0.0364" stop-color="#eaec65"/><stop offset="0.04" stop-color="#eaeb63"/><stop offset="0.0545" stop-color="#eaeb5e"/><stop offset="0.0727" stop-color="#e9ea57"/><stop offset="0.08" stop-color="#e9ea54"/><stop offset="0.0909" stop-color="#e9e950"/><stop offset="0.105" stop-color="#e8e84a"/><stop offset="0.1091" stop-color="#e8e848"/><stop offset="0.1273" stop-color="#ece83d"/><stop offset="0.13" stop-color="#ede83b"/><stop offset="0.1425" stop-color="#f3e82c"/><stop offset="0.1455" stop-color="#f5e828"/><stop offset="0.155" stop-color="#f9e520"/><stop offset="0.1636" stop-color="#fcdd1f"/><stop offset="0.1775" stop-color="#ffd31e"/><stop offset="0.1818" stop-color="#ffd11e"/><stop offset="0.2" stop-color="#fec721"/><stop offset="0.2" stop-color="#fec721"/><stop offset="0.2182" stop-color="#fdc123"/><stop offset="0.2364" stop-color="#fdbd24"/><stop offset="0.25" stop-color="#fdbb24"/><stop offset="0.2545" stop-color="#fdba25"/><stop offset="0.2727" stop-color="#fdb725"/><stop offset="0.2909" stop-color="#fcb326"/><stop offset="0.3" stop-color="#fcb127"/><stop offset="0.3091" stop-color="#fcaf28"/><stop offset="0.3273" stop-color="#fbaa29"/><stop offset="0.3455" stop-color="#fba52a"/><stop offset="0.35" stop-color="#fba42a"/><stop offset="0.3636" stop-color="#faa22b"/><stop offset="0.3818" stop-color="#f99e2b"/><stop offset="0.4" stop-color="#f99a2c"/><stop offset="0.4" stop-color="#f99a2c"/><stop offset="0.4182" stop-color="#f8962d"/><stop offset="0.435" stop-color="#f6902e"/><stop offset="0.4364" stop-color="#f6902e"/><stop offset="0.4545" stop-color="#f5892f"/><stop offset="0.47" stop-color="#f4822f"/><stop offset="0.4727" stop-color="#f4812f"/><stop offset="0.4909" stop-color="#f3772f"/><stop offset="0.5091" stop-color="#f26d2f"/><stop offset="0.51" stop-color="#f26c2f"/><stop offset="0.5273" stop-color="#f0622f"/><stop offset="0.5455" stop-color="#ee5330"/><stop offset="0.55" stop-color="#ee4f31"/><stop offset="0.5636" stop-color="#ec4232"/><stop offset="0.575" stop-color="#eb3233"/><stop offset="0.5818" stop-color="#ea2934"/><stop offset="0.6" stop-color="#e81d36"/><stop offset="0.6182" stop-color="#e81c36"/><stop offset="0.6364" stop-color="#e81c36"/><stop offset="0.6545" stop-color="#e81c36"/><stop offset="0.66" stop-color="#e81c36"/><stop offset="0.6727" stop-color="#e81c36"/><stop offset="0.6909" stop-color="#e81c36"/><stop offset="0.7091" stop-color="#e81c36"/><stop offset="0.72" stop-color="#e81c36"/><stop offset="0.7273" stop-color="#e81e36"/><stop offset="0.7455" stop-color="#e92835"/><stop offset="0.76" stop-color="#eb3633"/><stop offset="0.7636" stop-color="#ec3a32"/><stop offset="0.7818" stop-color="#ed4931"/><stop offset="0.8" stop-color="#ef5430"/><stop offset="0.8" stop-color="#ef5430"/><stop offset="0.8182" stop-color="#f05d2f"/><stop offset="0.8364" stop-color="#f0632f"/><stop offset="0.84" stop-color="#f0642f"/><stop offset="0.8545" stop-color="#f1682f"/><stop offset="0.8727" stop-color="#f26e2f"/><stop offset="0.88" stop-color="#f2712f"/><stop offset="0.8909" stop-color="#f3782f"/><stop offset="0.9" stop-color="#f47e2f"/><stop offset="0.9091" stop-color="#f5872f"/><stop offset="0.92" stop-color="#f7932d"/><stop offset="0.9273" stop-color="#f99f2b"/><stop offset="0.9325" stop-color="#fcac28"/><stop offset="0.945" stop-color="#fdda1f"/><stop offset="0.9455" stop-color="#fcdb1f"/><stop offset="0.955" stop-color="#f4e82a"/><stop offset="0.9636" stop-color="#eee839"/><stop offset="0.965" stop-color="#ede83b"/><stop offset="0.973" stop-color="#eae844"/><stop offset="0.9775" stop-color="#e8e848"/><stop offset="0.9818" stop-color="#e8e84c"/><stop offset="0.982" stop-color="#e8e84c"/><stop offset="0.9825" stop-color="#e8e94c"/><stop offset="0.9865" stop-color="#e9e94f"/><stop offset="0.991" stop-color="#e9e951"/><stop offset="0.9955" stop-color="#e9e953"/><stop offset="1" stop-color="#e9e954"/></linearGradient>
<linearGradient id="b16" x1="0" y1="0" x2="1" y2="0"><stop offset="0" stop-color="#e9ea5c"/><stop offset="0.0045" stop-color="#e9ea5b"/><stop offset="0.009" stop-color="#e9ea5b"/><stop offset="0.0135" stop-color="#e9ea59"/><stop offset="0.018" stop-color="#e9ea58"/><stop offset="0.0182" stop-color="#e9ea58"/><stop offset="0.0225" stop-color="#e9ea56"/><stop offset="0.025" stop-color="#e9ea55"/><stop offset="0.027" stop-color="#e9e953"/><stop offset="0.0364" stop-color="#e8e94e"/><stop offset="0.05" stop-color="#eae843"/><stop offset="0.0545" stop-color="#ece83f"/><stop offset="0.065" stop-color="#f2e830"/><stop offset="0.0727" stop-color="#f7e822"/><stop offset="0.08" stop-color="#fdd91f"/><stop offset="0.09" stop-color="#fdb925"/><stop offset="0.0909" stop-color="#fcb626"/><stop offset="0.1" stop-color="#faa22b"/><stop offset="0.1091" stop-color="#f99c2c"/><stop offset="0.125" stop-color="#f8962d"/><stop offset="0.1273" stop-color="#f8952d"/><stop offset="0.1455" stop-color="#f7922d"/><stop offset="0.15" stop-color="#f7922d"/><stop offset="0.1636" stop-color="#f7912e"/><stop offset="0.1818" stop-color="#f7912e"/><stop offset="0.2" stop-color="#f7902e"/><stop offset="0.2182" stop-color="#f6902e"/><stop offset="0.225" stop-color="#f6902e"/><stop offset="0.2364" stop-color="#f6902e"/><stop offset="0.2545" stop-color="#f6902e"/><stop offset="0.2727" stop-color="#f68f2e"/><stop offset="0.2909" stop-color="#f68f2e"/><stop offset="0.3" stop-color="#f68f2e"/><stop offset="0.3091" stop-color="#f68e2e"/><stop offset="0.3273" stop-color="#f68e2e"/><stop offset="0.3455" stop-color="#f68d2e"/><stop offset="0.3636" stop-color="#f58b2f"/><stop offset="0.375" stop-color="#f58a2f"/><stop offset="0.3818" stop-color="#f58a2f"/><stop offset="0.4" stop-color="#f5882f"/><stop offset="0.4182" stop-color="#f5862f"/><stop offset="0.4364" stop-color="#f4842f"/><stop offset="0.45" stop-color="#f4822f"/><stop offset="0.4545" stop-color="#f4822f"/><stop offset="0.4727" stop-color="#f47f2f"/><stop offset="0.4909" stop-color="#f47d2f"/><stop offset="0.5" stop-color="#f37c2f"/><stop offset="0.5091" stop-color="#f37a2f"/><stop offset="0.5273" stop-color="#f3772f"/><stop offset="0.5455" stop-color="#f2722f"/><stop offset="0.55" stop-color="#f2712f"/><stop offset="0.5636" stop-color="#f16b2f"/><stop offset="0.575" stop-color="#f1652f"/><stop offset="0.5818" stop-color="#f0612f"/><stop offset="0.6" stop-color="#ee4f31"/><stop offset="0.6182" stop-color="#ec3c32"/><stop offset="0.625" stop-color="#eb3233"/><stop offset="0.6364" stop-color="#e92435"/><stop offset="0.65" stop-color="#e81d36"/><stop offset="0.6545" stop-color="#e81c36"/><stop offset="0.665" stop-color="#e81c36"/><stop offset="0.6727" stop-color="#e81c36"/><stop offset="0.68" stop-color="#e81e36"/><stop offset="0.6909" stop-color="#ea2b34"/><stop offset="0.7" stop-color="#ec4032"/><stop offset="0.7091" stop-color="#ee5030"/><stop offset="0.72" stop-color="#f05f2f"/><stop offset="0.7273" stop-color="#f0632f"/><stop offset="0.7455" stop-color="#f16b2f"/><stop offset="0.76" stop-color="#f2702f"/><stop offset="0.7636" stop-color="#f2712f"/><stop offset="0.7818" stop-color="#f3772f"/><stop offset="0.8" stop-color="#f37b2f"/><stop offset="0.8" stop-color="#f37b2f"/><stop offset="0.8182" stop-color="#f47f2f"/><stop offset="0.8364" stop-color="#f4832f"/><stop offset="0.84" stop-color="#f4832f"/><stop offset="0.8545" stop-color="#f5862f"/><stop offset="0.8727" stop-color="#f58a2f"/><stop offset="0.88" stop-color="#f68c2e"/><stop offset="0.8909" stop-color="#f6902e"/><stop offset="0.9" stop-color="#f7942d"/><stop offset="0.9091" stop-color="#f8992c"/><stop offset="0.92" stop-color="#faa12b"/><stop offset="0.9273" stop-color="#fcac28"/><stop offset="0.9325" stop-color="#fdb925"/><stop offset="0.945" stop-color="#fcdb1f"/><stop offset="0.9455" stop-color="#fcdc1f"/><stop offset="0.955" stop-color="#f4e829"/><stop offset="0.9636" stop-color="#eee839"/><stop offset="0.965" stop-color="#ede83b"/><stop offset="0.973" stop-color="#eae844"/><stop offset="0.9775" stop-color="#e8e848"/><stop offset="0.9818" stop-color="#e8e84c"/><stop offset="0.982" stop-color="#e8e84c"/><stop offset="0.9825" stop-color="#e8e94c"/><stop offset="0.9865" stop-color="#e9e94f"/><stop offset="0.991" stop-color="#e9e951"/><stop offset="0.9955" stop-color="#e9e953"/><stop offset="1" stop-color="#e9e954"/></linearGradient>
<linearGradient id="b17" x1="0" y1="0" x2="1" y2="0"><stop offset="0" stop-color="#ffffff"/><stop offset="0.158" stop-color="#ffffff"/><stop offset="0.1625" stop-color="#ffffff"/><stop offset="0.167" stop-color="#ffffff"/><stop offset="0.1715" stop-color="#ffffff"/><stop offset="0.1733" stop-color="#ffffff"/><stop offset="0.176" stop-color="#ffffff"/><stop offset="0.1805" stop-color="#fffffd"/><stop offset="0.1849" stop-color="#fefdf8"/><stop offset="0.185" stop-color="#fefdf8"/><stop offset="0.1886" stop-color="#fdfbf0"/><stop offset="0.1895" stop-color="#fcfbed"/><stop offset="0.194" stop-color="#faf7e0"/><stop offset="0.1985" stop-color="#f9f6d9"/><stop offset="0.2025" stop-color="#f7f4d2"/><stop offset="0.203" stop-color="#f7f4d1"/><stop offset="0.2039" stop-color="#f7f4cf"/><stop offset="0.2075" stop-color="#f5f2c8"/><stop offset="0.212" stop-color="#f4f2c1"/><stop offset="0.2192" stop-color="#f3f1b7"/><stop offset="0.22" stop-color="#f3f1b6"/><stop offset="0.2345" stop-color="#f2f0ac"/><stop offset="0.2499" stop-color="#f1efa3"/><stop offset="0.26" stop-color="#f0ef9f"/><stop offset="0.2652" stop-color="#f0ef9d"/><stop offset="0.2805" stop-color="#f0ef98"/><stop offset="0.2958" stop-color="#efee94"/><stop offset="0.3" stop-color="#efee93"/><stop offset="0.3111" stop-color="#efee91"/><stop offset="0.3264" stop-color="#efee8f"/><stop offset="0.3417" stop-color="#eeee8d"/><stop offset="0.357" stop-color="#eeee8c"/><stop offset="0.3723" stop-color="#eeee8b"/><stop offset="0.375" stop-color="#eeee8a"/><stop offset="0.3876" stop-color="#eeee89"/><stop offset="0.4029" stop-color="#eeee88"/><stop offset="0.4183" stop-color="#eeee87"/><stop offset="0.4336" stop-color="#edee84"/><stop offset="0.4489" stop-color="#edee81"/><stop offset="0.45" stop-color="#edee81"/><stop offset="0.4642" stop-color="#eced7c"/><stop offset="0.475" stop-color="#eced77"/><stop offset="0.4795" stop-color="#ebed74"/><stop offset="0.4948" stop-color="#eaec68"/><stop offset="0.5" stop-color="#eaeb64"/><stop offset="0.5101" stop-color="#e9ea5a"/><stop offset="0.515" stop-color="#e9ea55"/><stop offset="0.5254" stop-color="#e9e846"/><stop offset="0.53" stop-color="#ece83e"/><stop offset="0.5375" stop-color="#f4e82b"/><stop offset="0.5407" stop-color="#f8e821"/><stop offset="0.545" stop-color="#fcda1f"/><stop offset="0.555" stop-color="#fcac28"/><stop offset="0.556" stop-color="#fba72a"/><stop offset="0.565" stop-color="#f7932d"/><stop offset="0.5713" stop-color="#f5892f"/><stop offset="0.5825" stop-color="#f37a2f"/><stop offset="0.5867" stop-color="#f3752f"/><stop offset="0.6" stop-color="#f1672f"/><stop offset="0.602" stop-color="#f1652f"/><stop offset="0.6173" stop-color="#ee4c31"/><stop offset="0.625" stop-color="#ec3f32"/><stop offset="0.6326" stop-color="#ea3034"/><stop offset="0.6479" stop-color="#e81e36"/><stop offset="0.65" stop-color="#e81d36"/><stop offset="0.6632" stop-color="#e81c36"/><stop offset="0.67" stop-color="#e81c36"/><stop offset="0.6785" stop-color="#e81c36"/><stop offset="0.69" stop-color="#e81e36"/><stop offset="0.6938" stop-color="#e92035"/><stop offset="0.7091" stop-color="#ec3c32"/><stop offset="0.71" stop-color="#ec3e32"/><stop offset="0.7244" stop-color="#ef5730"/><stop offset="0.73" stop-color="#f05f2f"/><stop offset="0.7397" stop-color="#f1672f"/><stop offset="0.755" stop-color="#f2712f"/><stop offset="0.7551" stop-color="#f2712f"/><stop offset="0.7704" stop-color="#f37b2f"/><stop offset="0.78" stop-color="#f4822f"/><stop offset="0.7857" stop-color="#f5862f"/><stop offset="0.8" stop-color="#f6902e"/><stop offset="0.801" stop-color="#f7912e"/><stop offset="0.8163" stop-color="#f99d2c"/><stop offset="0.82" stop-color="#faa12b"/><stop offset="0.8316" stop-color="#fdb725"/><stop offset="0.8325" stop-color="#fdba25"/><stop offset="0.845" stop-color="#fcdb1f"/><stop offset="0.8469" stop-color="#fbe01f"/><stop offset="0.8575" stop-color="#f2e830"/><stop offset="0.8622" stop-color="#eee83a"/><stop offset="0.87" stop-color="#e9e847"/><stop offset="0.8775" stop-color="#e9e950"/><stop offset="0.8928" stop-color="#eaeb5e"/><stop offset="0.895" stop-color="#eaeb5f"/><stop offset="0.9081" stop-color="#eaec69"/><stop offset="0.92" stop-color="#ebed70"/><stop offset="0.9235" stop-color="#ebed72"/><stop offset="0.9388" stop-color="#eced7a"/><stop offset="0.9541" stop-color="#edee81"/><stop offset="0.96" stop-color="#edee84"/><stop offset="0.9694" stop-color="#eeee88"/><stop offset="0.973" stop-color="#eeee89"/><stop offset="0.9775" stop-color="#eeee8b"/><stop offset="0.982" stop-color="#eeee8d"/><stop offset="0.9847" stop-color="#eeee8e"/><stop offset="0.9865" stop-color="#efee8e"/><stop offset="0.991" stop-color="#efee90"/><stop offset="0.9955" stop-color="#efee91"/><stop offset="1" stop-color="#efee92"/></linearGradient>
<linearGradient id="b18" x1="0" y1="0" x2="1" y2="0"><stop offset="0" stop-color="#ffffff"/><stop offset="0.438" stop-color="#ffffff"/><stop offset="0.4425" stop-color="#ffffff"/><stop offset="0.447" stop-color="#ffffff"/><stop offset="0.4482" stop-color="#ffffff"/><stop offset="0.4515" stop-color="#ffffff"/><stop offset="0.456" stop-color="#ffffff"/><stop offset="0.4583" stop-color="#fffffe"/><stop offset="0.4605" stop-color="#fffefd"/><stop offset="0.4649" stop-color="#fefdf7"/><stop offset="0.465" stop-color="#fefdf7"/><stop offset="0.4685" stop-color="#fdfbed"/><stop offset="0.4695" stop-color="#fcfae9"/><stop offset="0.474" stop-color="#faf7de"/><stop offset="0.4785" stop-color="#f8f5d5"/><stop offset="0.4787" stop-color="#f8f5d5"/><stop offset="0.4825" stop-color="#f6f3cc"/><stop offset="0.483" stop-color="#f6f3cb"/><stop offset="0.4875" stop-color="#f4f2c0"/><stop offset="0.4888" stop-color="#f4f1bd"/><stop offset="0.492" stop-color="#f3f1b6"/><stop offset="0.499" stop-color="#f1efa7"/><stop offset="0.5" stop-color="#f1efa5"/><stop offset="0.5091" stop-color="#efee96"/><stop offset="0.5193" stop-color="#eeee87"/><stop offset="0.525" stop-color="#edee80"/><stop offset="0.5295" stop-color="#eced7a"/><stop offset="0.5396" stop-color="#ebec6c"/><stop offset="0.5498" stop-color="#eaeb5c"/><stop offset="0.55" stop-color="#eaeb5c"/><stop offset="0.56" stop-color="#e8e94d"/><stop offset="0.5625" stop-color="#e8e849"/><stop offset="0.5701" stop-color="#ede83c"/><stop offset="0.575" stop-color="#f0e833"/><stop offset="0.5803" stop-color="#f4e829"/><stop offset="0.5825" stop-color="#f6e824"/><stop offset="0.59" stop-color="#fdda1f"/><stop offset="0.5905" stop-color="#fdd81f"/><stop offset="0.6" stop-color="#fcb626"/><stop offset="0.6006" stop-color="#fcb426"/><stop offset="0.61" stop-color="#f99b2c"/><stop offset="0.6108" stop-color="#f99a2c"/><stop offset="0.6209" stop-color="#f58b2f"/><stop offset="0.625" stop-color="#f5862f"/><stop offset="0.6311" stop-color="#f47d2f"/><stop offset="0.64" stop-color="#f2712f"/><stop offset="0.6413" stop-color="#f26f2f"/><stop offset="0.6514" stop-color="#f05e2f"/><stop offset="0.66" stop-color="#ed4731"/><stop offset="0.6616" stop-color="#ed4432"/><stop offset="0.6718" stop-color="#ea2934"/><stop offset="0.68" stop-color="#e81e36"/><stop offset="0.6819" stop-color="#e81d36"/><stop offset="0.69" stop-color="#e81c36"/><stop offset="0.6921" stop-color="#e81c36"/><stop offset="0.7" stop-color="#e82036"/><stop offset="0.7023" stop-color="#e92335"/><stop offset="0.7124" stop-color="#ec3e32"/><stop offset="0.715" stop-color="#ed4531"/><stop offset="0.7226" stop-color="#ef5930"/><stop offset="0.73" stop-color="#f1662f"/><stop offset="0.7327" stop-color="#f1682f"/><stop offset="0.7429" stop-color="#f2702f"/><stop offset="0.7531" stop-color="#f3762f"/><stop offset="0.755" stop-color="#f3772f"/><stop offset="0.7632" stop-color="#f37b2f"/><stop offset="0.7734" stop-color="#f47f2f"/><stop offset="0.78" stop-color="#f4822f"/><stop offset="0.7836" stop-color="#f4832f"/><stop offset="0.7937" stop-color="#f5872f"/><stop offset="0.8039" stop-color="#f58a2f"/><stop offset="0.805" stop-color="#f58a2f"/><stop offset="0.8141" stop-color="#f68c2e"/><stop offset="0.8242" stop-color="#f6902e"/><stop offset="0.83" stop-color="#f7922d"/><stop offset="0.8344" stop-color="#f7942d"/><stop offset="0.8425" stop-color="#f99a2c"/><stop offset="0.8445" stop-color="#f99c2c"/><stop offset="0.8547" stop-color="#fba829"/><stop offset="0.855" stop-color="#fba929"/><stop offset="0.8625" stop-color="#fdc023"/><stop offset="0.8649" stop-color="#fec920"/><stop offset="0.87" stop-color="#fcda1f"/><stop offset="0.875" stop-color="#f7e821"/><stop offset="0.88" stop-color="#f2e82f"/><stop offset="0.8852" stop-color="#ede83c"/><stop offset="0.89" stop-color="#e8e847"/><stop offset="0.8954" stop-color="#e9e953"/><stop offset="0.905" stop-color="#eaec66"/><stop offset="0.9055" stop-color="#eaec67"/><stop offset="0.9157" stop-color="#eced7a"/><stop offset="0.92" stop-color="#edee82"/><stop offset="0.9259" stop-color="#eeee8d"/><stop offset="0.935" stop-color="#f1efa0"/><stop offset="0.936" stop-color="#f1efa2"/><stop offset="0.943" stop-color="#f3f0b1"/><stop offset="0.9462" stop-color="#f3f1b8"/><stop offset="0.9475" stop-color="#f4f1ba"/><stop offset="0.95" stop-color="#f4f1c0"/><stop offset="0.952" stop-color="#f5f2c5"/><stop offset="0.9563" stop-color="#f7f4cf"/><stop offset="0.9565" stop-color="#f7f4cf"/><stop offset="0.96" stop-color="#f9f6d7"/><stop offset="0.961" stop-color="#f9f6da"/><stop offset="0.9655" stop-color="#fbf8e1"/><stop offset="0.9665" stop-color="#fbf9e5"/><stop offset="0.97" stop-color="#fdfcf3"/><stop offset="0.9701" stop-color="#fdfcf3"/><stop offset="0.9745" stop-color="#fffefc"/><stop offset="0.9767" stop-color="#fffffd"/><stop offset="0.979" stop-color="#fffffe"/><stop offset="0.9835" stop-color="#ffffff"/><stop offset="0.9868" stop-color="#ffffff"/><stop offset="0.988" stop-color="#ffffff"/><stop offset="0.9925" stop-color="#ffffff"/><stop offset="0.997" stop-color="#ffffff"/><stop offset="1" stop-color="#ffffff"/></linearGradient>
<linearGradient id="b19" x1="0" y1="0" x2="1" y2="0"><stop offset="0" stop-color="#f3f0b5"/><stop offset="0.0045" stop-color="#f3f0b5"/><stop offset="0.009" stop-color="#f3f0b5"/><stop offset="0.0135" stop-color="#f3f0b4"/><stop offset="0.018" stop-color="#f3f0b4"/><stop offset="0.0182" stop-color="#f3f0b4"/><stop offset="0.0225" stop-color="#f3f0b3"/><stop offset="0.027" stop-color="#f3f0b2"/><stop offset="0.0364" stop-color="#f2f0b1"/><stop offset="0.05" stop-color="#f2f0ad"/><stop offset="0.0545" stop-color="#f2f0ac"/><stop offset="0.0727" stop-color="#f1efa7"/><stop offset="0.0909" stop-color="#f1efa0"/><stop offset="0.1" stop-color="#f0ef9d"/><stop offset="0.1091" stop-color="#f0ef99"/><stop offset="0.1273" stop-color="#efee8f"/><stop offset="0.135" stop-color="#eeee8a"/><stop offset="0.1455" stop-color="#edee83"/><stop offset="0.1636" stop-color="#eced75"/><stop offset="0.17" stop-color="#ebed70"/><stop offset="0.1818" stop-color="#eaeb64"/><stop offset="0.19" stop-color="#e9ea5a"/><stop offset="0.2" stop-color="#e8e94e"/><stop offset="0.21" stop-color="#ebe840"/><stop offset="0.2182" stop-color="#f1e832"/><stop offset="0.2225" stop-color="#f4e82b"/><stop offset="0.235" stop-color="#fcda1f"/><stop offset="0.2364" stop-color="#fdd71e"/><stop offset="0.2475" stop-color="#fdb925"/><stop offset="0.2545" stop-color="#fba72a"/><stop offset="0.26" stop-color="#faa12b"/><stop offset="0.2727" stop-color="#f8992c"/><stop offset="0.28" stop-color="#f8962d"/><stop offset="0.2909" stop-color="#f7922e"/><stop offset="0.3" stop-color="#f68f2e"/><stop offset="0.3091" stop-color="#f68c2e"/><stop offset="0.3273" stop-color="#f5872f"/><stop offset="0.33" stop-color="#f5872f"/><stop offset="0.3455" stop-color="#f4832f"/><stop offset="0.36" stop-color="#f4832f"/><stop offset="0.3636" stop-color="#f4832f"/><stop offset="0.3818" stop-color="#f5892f"/><stop offset="0.39" stop-color="#f68d2e"/><stop offset="0.4" stop-color="#f7922e"/><stop offset="0.4182" stop-color="#f89a2c"/><stop offset="0.42" stop-color="#f99a2c"/><stop offset="0.4364" stop-color="#faa02b"/><stop offset="0.4545" stop-color="#fba62a"/><stop offset="0.46" stop-color="#fba929"/><stop offset="0.4727" stop-color="#fcb027"/><stop offset="0.4909" stop-color="#fcb526"/><stop offset="0.5" stop-color="#fcb626"/><stop offset="0.5091" stop-color="#fcb626"/><stop offset="0.5273" stop-color="#fcb426"/><stop offset="0.54" stop-color="#fcb227"/><stop offset="0.5455" stop-color="#fcb127"/><stop offset="0.5636" stop-color="#fcac28"/><stop offset="0.58" stop-color="#fba62a"/><stop offset="0.5818" stop-color="#fba52a"/><stop offset="0.6" stop-color="#f99e2b"/><stop offset="0.605" stop-color="#f99b2c"/><stop offset="0.6182" stop-color="#f7922d"/><stop offset="0.63" stop-color="#f5892f"/><stop offset="0.6364" stop-color="#f4822f"/><stop offset="0.65" stop-color="#f2722f"/><stop offset="0.6545" stop-color="#f16c2f"/><stop offset="0.67" stop-color="#ef5530"/><stop offset="0.6727" stop-color="#ee4f30"/><stop offset="0.685" stop-color="#eb3633"/><stop offset="0.6909" stop-color="#ea2934"/><stop offset="0.7" stop-color="#e81e36"/><stop offset="0.7091" stop-color="#e81c36"/><stop offset="0.71" stop-color="#e81c36"/><stop offset="0.72" stop-color="#e81f36"/><stop offset="0.7273" stop-color="#ea2934"/><stop offset="0.735" stop-color="#ec3f32"/><stop offset="0.7455" stop-color="#ef5630"/><stop offset="0.75" stop-color="#f05f2f"/><stop offset="0.7636" stop-color="#f16c2f"/><stop offset="0.775" stop-color="#f3752f"/><stop offset="0.7818" stop-color="#f37a2f"/><stop offset="0.8" stop-color="#f5892f"/><stop offset="0.8" stop-color="#f5892f"/><stop offset="0.8175" stop-color="#f8962d"/><stop offset="0.8182" stop-color="#f8972d"/><stop offset="0.835" stop-color="#fba72a"/><stop offset="0.8364" stop-color="#fbaa29"/><stop offset="0.845" stop-color="#fdc023"/><stop offset="0.8545" stop-color="#fdda1f"/><stop offset="0.855" stop-color="#fcdb1f"/><stop offset="0.8675" stop-color="#f2e82f"/><stop offset="0.8727" stop-color="#eee83a"/><stop offset="0.88" stop-color="#e8e847"/><stop offset="0.8909" stop-color="#e9ea58"/><stop offset="0.905" stop-color="#ebec6b"/><stop offset="0.9091" stop-color="#ebed6f"/><stop offset="0.9273" stop-color="#edee7f"/><stop offset="0.93" stop-color="#edee81"/><stop offset="0.9455" stop-color="#eeee8c"/><stop offset="0.9636" stop-color="#efee96"/><stop offset="0.965" stop-color="#efee97"/><stop offset="0.973" stop-color="#f0ef9b"/><stop offset="0.9775" stop-color="#f0ef9d"/><stop offset="0.9818" stop-color="#f0ef9f"/><stop offset="0.982" stop-color="#f0ef9f"/><stop offset="0.9865" stop-color="#f1efa0"/><stop offset="0.991" stop-color="#f1efa2"/><stop offset="0.9955" stop-color="#f1efa3"/><stop offset="1" stop-color="#f1efa3"/></linearGradient>
<linearGradient id="b20" x1="0" y1="0" x2="1" y2="0"><stop offset="0" stop-color="#f2f0ae"/><stop offset="0.0045" stop-color="#f2f0ad"/><stop offset="0.009" stop-color="#f2f0ac"/><stop offset="0.0135" stop-color="#f2f0ab"/><stop offset="0.018" stop-color="#f2efa9"/><stop offset="0.0182" stop-color="#f2efa9"/><stop offset="0.0225" stop-color="#f1efa8"/><stop offset="0.027" stop-color="#f1efa7"/><stop offset="0.0364" stop-color="#f1efa4"/><stop offset="0.05" stop-color="#f1efa1"/><stop offset="0.0545" stop-color="#f0ef9f"/><stop offset="0.0727" stop-color="#f0ef9a"/><stop offset="0.0909" stop-color="#efee95"/><stop offset="0.1" stop-color="#efee93"/><stop offset="0.1091" stop-color="#efee90"/><stop offset="0.1273" stop-color="#eeee8b"/><stop offset="0.1455" stop-color="#eeee87"/><stop offset="0.15" stop-color="#edee85"/><stop offset="0.1636" stop-color="#edee82"/><stop offset="0.1818" stop-color="#eced7d"/><stop offset="0.2" stop-color="#eced77"/><stop offset="0.2" stop-color="#eced77"/><stop offset="0.2182" stop-color="#ebed71"/><stop offset="0.2364" stop-color="#ebec6a"/><stop offset="0.24" stop-color="#eaec68"/><stop offset="0.2545" stop-color="#eaeb62"/><stop offset="0.2727" stop-color="#e9ea58"/><stop offset="0.28" stop-color="#e9e954"/><stop offset="0.2909" stop-color="#e8e94d"/><stop offset="0.3" stop-color="#e9e846"/><stop offset="0.3091" stop-color="#ece83e"/><stop offset="0.32" stop-color="#f0e833"/><stop offset="0.3273" stop-color="#f4e82b"/><stop offset="0.3325" stop-color="#f6e824"/><stop offset="0.345" stop-color="#fcdb1f"/><stop offset="0.3455" stop-color="#fcdb1f"/><stop offset="0.3625" stop-color="#fec621"/><stop offset="0.3636" stop-color="#fec422"/><stop offset="0.38" stop-color="#fcb127"/><stop offset="0.3818" stop-color="#fcaf28"/><stop offset="0.4" stop-color="#faa12b"/><stop offset="0.405" stop-color="#f99e2b"/><stop offset="0.4182" stop-color="#f8982c"/><stop offset="0.43" stop-color="#f7922e"/><stop offset="0.4364" stop-color="#f68e2e"/><stop offset="0.4545" stop-color="#f4832f"/><stop offset="0.465" stop-color="#f37c2f"/><stop offset="0.4727" stop-color="#f3772f"/><stop offset="0.4909" stop-color="#f16c2f"/><stop offset="0.5" stop-color="#f1672f"/><stop offset="0.5091" stop-color="#f0632f"/><stop offset="0.5273" stop-color="#ef5730"/><stop offset="0.54" stop-color="#ee4e31"/><stop offset="0.5455" stop-color="#ee4b31"/><stop offset="0.5636" stop-color="#ec4032"/><stop offset="0.58" stop-color="#eb3633"/><stop offset="0.5818" stop-color="#eb3433"/><stop offset="0.6" stop-color="#e92835"/><stop offset="0.605" stop-color="#e92535"/><stop offset="0.6182" stop-color="#e81f36"/><stop offset="0.63" stop-color="#e81c36"/><stop offset="0.6364" stop-color="#e81c36"/><stop offset="0.6545" stop-color="#e81c36"/><stop offset="0.6727" stop-color="#e81c36"/><stop offset="0.6909" stop-color="#e81c36"/><stop offset="0.705" stop-color="#e81c36"/><stop offset="0.7091" stop-color="#e81c36"/><stop offset="0.7273" stop-color="#e81c36"/><stop offset="0.7455" stop-color="#e81c36"/><stop offset="0.7636" stop-color="#e81c36"/><stop offset="0.78" stop-color="#e81d36"/><stop offset="0.7818" stop-color="#e81d36"/><stop offset="0.8" stop-color="#ea2c34"/><stop offset="0.805" stop-color="#eb3233"/><stop offset="0.8182" stop-color="#ed4432"/><stop offset="0.83" stop-color="#ee4f31"/><stop offset="0.8364" stop-color="#ef5430"/><stop offset="0.8545" stop-color="#f0622f"/><stop offset="0.865" stop-color="#f1672f"/><stop offset="0.8727" stop-color="#f16b2f"/><stop offset="0.8909" stop-color="#f3762f"/><stop offset="0.9" stop-color="#f37b2f"/><stop offset="0.9091" stop-color="#f4822f"/><stop offset="0.92" stop-color="#f58a2f"/><stop offset="0.9273" stop-color="#f68f2e"/><stop offset="0.94" stop-color="#f99b2c"/><stop offset="0.9455" stop-color="#faa22b"/><stop offset="0.9525" stop-color="#fcb127"/><stop offset="0.9636" stop-color="#ffcd1f"/><stop offset="0.965" stop-color="#ffd01e"/><stop offset="0.973" stop-color="#fbdd1f"/><stop offset="0.975" stop-color="#fbe01f"/><stop offset="0.9775" stop-color="#fae320"/><stop offset="0.9818" stop-color="#f8e820"/><stop offset="0.982" stop-color="#f8e821"/><stop offset="0.985" stop-color="#f6e824"/><stop offset="0.9865" stop-color="#f6e826"/><stop offset="0.991" stop-color="#f4e82a"/><stop offset="0.9925" stop-color="#f3e82c"/><stop offset="0.9955" stop-color="#f2e82e"/><stop offset="1" stop-color="#f1e832"/></linearGradient>
<linearGradient id="b21" x1="0" y1="0" x2="1" y2="0"><stop offset="0" stop-color="#faf7dc"/><stop offset="0.0045" stop-color="#f9f6da"/><stop offset="0.009" stop-color="#f8f5d6"/><stop offset="0.0135" stop-color="#f8f5d2"/><stop offset="0.015" stop-color="#f7f4d1"/><stop offset="0.018" stop-color="#f7f4cf"/><stop offset="0.0182" stop-color="#f7f4ce"/><stop offset="0.0225" stop-color="#f6f3cb"/><stop offset="0.027" stop-color="#f5f2c8"/><stop offset="0.03" stop-color="#f5f2c6"/><stop offset="0.0364" stop-color="#f5f2c3"/><stop offset="0.0545" stop-color="#f4f1bb"/><stop offset="0.065" stop-color="#f3f1b7"/><stop offset="0.0727" stop-color="#f3f0b4"/><stop offset="0.0909" stop-color="#f2f0ae"/><stop offset="0.1" stop-color="#f2f0ab"/><stop offset="0.1091" stop-color="#f1efa7"/><stop offset="0.1273" stop-color="#f1efa1"/><stop offset="0.1455" stop-color="#f0ef9a"/><stop offset="0.15" stop-color="#f0ef98"/><stop offset="0.1636" stop-color="#efee93"/><stop offset="0.1818" stop-color="#eeee8b"/><stop offset="0.2" stop-color="#edee81"/><stop offset="0.2" stop-color="#edee81"/><stop offset="0.2182" stop-color="#eced76"/><stop offset="0.225" stop-color="#ebed70"/><stop offset="0.2364" stop-color="#eaec65"/><stop offset="0.25" stop-color="#e9e953"/><stop offset="0.2545" stop-color="#e8e84a"/><stop offset="0.2625" stop-color="#eee839"/><stop offset="0.2727" stop-color="#f7e822"/><stop offset="0.275" stop-color="#f9e420"/><stop offset="0.2875" stop-color="#fec921"/><stop offset="0.2909" stop-color="#fdc123"/><stop offset="0.3" stop-color="#fcb227"/><stop offset="0.3091" stop-color="#fba929"/><stop offset="0.3273" stop-color="#faa02b"/><stop offset="0.33" stop-color="#fa9f2b"/><stop offset="0.3455" stop-color="#f99c2c"/><stop offset="0.36" stop-color="#f99b2c"/><stop offset="0.3636" stop-color="#f99b2c"/><stop offset="0.3818" stop-color="#f99d2c"/><stop offset="0.39" stop-color="#f99e2b"/><stop offset="0.4" stop-color="#faa12b"/><stop offset="0.4182" stop-color="#fba62a"/><stop offset="0.42" stop-color="#fba62a"/><stop offset="0.4364" stop-color="#fcaf27"/><stop offset="0.445" stop-color="#fcb526"/><stop offset="0.4545" stop-color="#fdbc24"/><stop offset="0.47" stop-color="#fec721"/><stop offset="0.4727" stop-color="#feca20"/><stop offset="0.485" stop-color="#fed41e"/><stop offset="0.4909" stop-color="#fdd71e"/><stop offset="0.5" stop-color="#fcda1f"/><stop offset="0.5091" stop-color="#fcda1f"/><stop offset="0.52" stop-color="#fdd81f"/><stop offset="0.5273" stop-color="#fed61e"/><stop offset="0.54" stop-color="#ffd21e"/><stop offset="0.5455" stop-color="#ffcf1f"/><stop offset="0.5636" stop-color="#fdc123"/><stop offset="0.565" stop-color="#fdbf23"/><stop offset="0.5818" stop-color="#fcae28"/><stop offset="0.59" stop-color="#fba62a"/><stop offset="0.6" stop-color="#faa12b"/><stop offset="0.6182" stop-color="#f8972d"/><stop offset="0.62" stop-color="#f8962d"/><stop offset="0.6364" stop-color="#f68c2e"/><stop offset="0.65" stop-color="#f4822f"/><stop offset="0.6545" stop-color="#f47e2f"/><stop offset="0.6727" stop-color="#f16a2f"/><stop offset="0.675" stop-color="#f1682f"/><stop offset="0.6909" stop-color="#ee5130"/><stop offset="0.7" stop-color="#ed4431"/><stop offset="0.7091" stop-color="#eb3633"/><stop offset="0.715" stop-color="#ea2c34"/><stop offset="0.7273" stop-color="#e81e36"/><stop offset="0.73" stop-color="#e81d36"/><stop offset="0.74" stop-color="#e81c36"/><stop offset="0.7455" stop-color="#e81d36"/><stop offset="0.75" stop-color="#e81f36"/><stop offset="0.7636" stop-color="#eb3a33"/><stop offset="0.765" stop-color="#ec3e32"/><stop offset="0.78" stop-color="#f05f2f"/><stop offset="0.7818" stop-color="#f0622f"/><stop offset="0.8" stop-color="#f2742f"/><stop offset="0.8" stop-color="#f2742f"/><stop offset="0.8182" stop-color="#f5872f"/><stop offset="0.82" stop-color="#f5892f"/><stop offset="0.835" stop-color="#f8972d"/><stop offset="0.8364" stop-color="#f8982c"/><stop offset="0.85" stop-color="#fba72a"/><stop offset="0.8545" stop-color="#fcb227"/><stop offset="0.86" stop-color="#fdc123"/><stop offset="0.87" stop-color="#fcda1f"/><stop offset="0.8727" stop-color="#fae01f"/><stop offset="0.885" stop-color="#f2e82f"/><stop offset="0.8909" stop-color="#eee839"/><stop offset="0.9" stop-color="#e8e848"/><stop offset="0.9091" stop-color="#e9ea55"/><stop offset="0.925" stop-color="#eaec69"/><stop offset="0.9273" stop-color="#ebec6c"/><stop offset="0.9455" stop-color="#edee7d"/><stop offset="0.95" stop-color="#edee81"/><stop offset="0.9636" stop-color="#eeee8c"/><stop offset="0.973" stop-color="#efee93"/><stop offset="0.975" stop-color="#efee95"/><stop offset="0.9775" stop-color="#efee96"/><stop offset="0.9818" stop-color="#f0ef99"/><stop offset="0.982" stop-color="#f0ef99"/><stop offset="0.9865" stop-color="#f0ef9c"/><stop offset="0.991" stop-color="#f0ef9f"/><stop offset="0.9955" stop-color="#f1efa1"/><stop offset="1" stop-color="#f1efa3"/></linearGradient>
<linearGradient id="b22" x1="0" y1="0" x2="1" y2="0"><stop offset="0" stop-color="#ffffff"/><stop offset="0.258" stop-color="#ffffff"/><stop offset="0.2625" stop-color="#ffffff"/><stop offset="0.267" stop-color="#ffffff"/><stop offset="0.2715" stop-color="#ffffff"/><stop offset="0.2715" stop-color="#ffffff"/><stop offset="0.276" stop-color="#ffffff"/><stop offset="0.2805" stop-color="#fffffd"/><stop offset="0.2849" stop-color="#fefef9"/><stop offset="0.285" stop-color="#fefef9"/><stop offset="0.285" stop-color="#fefef9"/><stop offset="0.2895" stop-color="#fdfbef"/><stop offset="0.294" stop-color="#fbf8e1"/><stop offset="0.2985" stop-color="#f9f6da"/><stop offset="0.2985" stop-color="#f9f6da"/><stop offset="0.3025" stop-color="#f8f5d4"/><stop offset="0.303" stop-color="#f8f5d3"/><stop offset="0.3075" stop-color="#f6f3ca"/><stop offset="0.312" stop-color="#f5f2c2"/><stop offset="0.312" stop-color="#f5f2c2"/><stop offset="0.32" stop-color="#f3f1b6"/><stop offset="0.3255" stop-color="#f2f0af"/><stop offset="0.3389" stop-color="#f1efa1"/><stop offset="0.345" stop-color="#f0ef9b"/><stop offset="0.3524" stop-color="#efee94"/><stop offset="0.3659" stop-color="#eeee86"/><stop offset="0.37" stop-color="#edee81"/><stop offset="0.3794" stop-color="#eced76"/><stop offset="0.39" stop-color="#eaec68"/><stop offset="0.3929" stop-color="#eaeb64"/><stop offset="0.4064" stop-color="#e8e94e"/><stop offset="0.41" stop-color="#e8e847"/><stop offset="0.4199" stop-color="#f0e834"/><stop offset="0.4225" stop-color="#f2e82f"/><stop offset="0.4334" stop-color="#fbde1f"/><stop offset="0.435" stop-color="#fcdb1f"/><stop offset="0.4469" stop-color="#fdba24"/><stop offset="0.4475" stop-color="#fdb925"/><stop offset="0.46" stop-color="#faa12b"/><stop offset="0.4604" stop-color="#faa12b"/><stop offset="0.4739" stop-color="#f8982c"/><stop offset="0.48" stop-color="#f7942d"/><stop offset="0.4873" stop-color="#f7912e"/><stop offset="0.5" stop-color="#f68f2e"/><stop offset="0.5008" stop-color="#f68f2e"/><stop offset="0.5143" stop-color="#f68f2e"/><stop offset="0.5278" stop-color="#f68f2e"/><stop offset="0.5413" stop-color="#f68f2e"/><stop offset="0.55" stop-color="#f68f2e"/><stop offset="0.5548" stop-color="#f68f2e"/><stop offset="0.5683" stop-color="#f68f2e"/><stop offset="0.5818" stop-color="#f68f2e"/><stop offset="0.5953" stop-color="#f68f2e"/><stop offset="0.6" stop-color="#f68f2e"/><stop offset="0.6088" stop-color="#f68e2e"/><stop offset="0.6223" stop-color="#f68d2e"/><stop offset="0.63" stop-color="#f58b2f"/><stop offset="0.6357" stop-color="#f58a2f"/><stop offset="0.6492" stop-color="#f5862f"/><stop offset="0.66" stop-color="#f4822f"/><stop offset="0.6627" stop-color="#f4802f"/><stop offset="0.6762" stop-color="#f3772f"/><stop offset="0.68" stop-color="#f2732f"/><stop offset="0.6897" stop-color="#f16a2f"/><stop offset="0.7" stop-color="#f0602f"/><stop offset="0.7032" stop-color="#ef5b2f"/><stop offset="0.7167" stop-color="#ed4332"/><stop offset="0.72" stop-color="#ec3d32"/><stop offset="0.7302" stop-color="#e92735"/><stop offset="0.74" stop-color="#e81e36"/><stop offset="0.7437" stop-color="#e81d36"/><stop offset="0.755" stop-color="#e81c36"/><stop offset="0.7572" stop-color="#e81c36"/><stop offset="0.77" stop-color="#e81f36"/><stop offset="0.7707" stop-color="#e81f36"/><stop offset="0.7841" stop-color="#ec3b32"/><stop offset="0.785" stop-color="#ec3e32"/><stop offset="0.7976" stop-color="#ef5a30"/><stop offset="0.8" stop-color="#f05f2f"/><stop offset="0.8111" stop-color="#f16b2f"/><stop offset="0.82" stop-color="#f2742f"/><stop offset="0.8246" stop-color="#f3792f"/><stop offset="0.8381" stop-color="#f5872f"/><stop offset="0.84" stop-color="#f5892f"/><stop offset="0.8516" stop-color="#f8952d"/><stop offset="0.8525" stop-color="#f8962d"/><stop offset="0.865" stop-color="#fba829"/><stop offset="0.8651" stop-color="#fba829"/><stop offset="0.8725" stop-color="#fdc123"/><stop offset="0.8786" stop-color="#fed61e"/><stop offset="0.88" stop-color="#fcdb1f"/><stop offset="0.89" stop-color="#f2e82f"/><stop offset="0.8921" stop-color="#f0e834"/><stop offset="0.9" stop-color="#e8e847"/><stop offset="0.9056" stop-color="#e9e953"/><stop offset="0.9191" stop-color="#ebec6c"/><stop offset="0.925" stop-color="#eced75"/><stop offset="0.9325" stop-color="#edee7f"/><stop offset="0.946" stop-color="#efee8f"/><stop offset="0.95" stop-color="#efee92"/><stop offset="0.9595" stop-color="#f0ef9b"/><stop offset="0.973" stop-color="#f1efa6"/><stop offset="0.973" stop-color="#f1efa6"/><stop offset="0.975" stop-color="#f1efa7"/><stop offset="0.9775" stop-color="#f2efa9"/><stop offset="0.982" stop-color="#f2f0ac"/><stop offset="0.9865" stop-color="#f2f0af"/><stop offset="0.9865" stop-color="#f2f0af"/><stop offset="0.991" stop-color="#f3f0b1"/><stop offset="0.9955" stop-color="#f3f0b3"/><stop offset="1" stop-color="#f3f0b4"/></linearGradient>
<linearGradient id="b23" x1="0" y1="0" x2="1" y2="0"><stop offset="0" stop-color="#e9e954"/><stop offset="0.0045" stop-color="#e9e953"/><stop offset="0.009" stop-color="#e9e952"/><stop offset="0.0135" stop-color="#e9e951"/><stop offset="0.018" stop-color="#e8e94f"/><stop offset="0.0182" stop-color="#e8e94e"/><stop offset="0.02" stop-color="#e8e94d"/><stop offset="0.0225" stop-color="#e8e94c"/><stop offset="0.027" stop-color="#e8e849"/><stop offset="0.0364" stop-color="#eae842"/><stop offset="0.04" stop-color="#ece83f"/><stop offset="0.0545" stop-color="#f3e82d"/><stop offset="0.055" stop-color="#f3e82c"/><stop offset="0.07" stop-color="#fcdb1f"/><stop offset="0.0727" stop-color="#fed61e"/><stop offset="0.085" stop-color="#fdbf23"/><stop offset="0.0909" stop-color="#fcb426"/><stop offset="0.1" stop-color="#fba72a"/><stop offset="0.1091" stop-color="#faa22b"/><stop offset="0.1273" stop-color="#f99b2c"/><stop offset="0.135" stop-color="#f8982c"/><stop offset="0.1455" stop-color="#f8952d"/><stop offset="0.1636" stop-color="#f7902e"/><stop offset="0.17" stop-color="#f68f2e"/><stop offset="0.1818" stop-color="#f68c2f"/><stop offset="0.2" stop-color="#f5872f"/><stop offset="0.21" stop-color="#f4852f"/><stop offset="0.2182" stop-color="#f4832f"/><stop offset="0.2364" stop-color="#f47e2f"/><stop offset="0.25" stop-color="#f37b2f"/><stop offset="0.2545" stop-color="#f37a2f"/><stop offset="0.2727" stop-color="#f3762f"/><stop offset="0.2909" stop-color="#f2722f"/><stop offset="0.3" stop-color="#f2702f"/><stop offset="0.3091" stop-color="#f26e2f"/><stop offset="0.3273" stop-color="#f16c2f"/><stop offset="0.3455" stop-color="#f16a2f"/><stop offset="0.35" stop-color="#f16a2f"/><stop offset="0.3636" stop-color="#f16a2f"/><stop offset="0.3818" stop-color="#f16a2f"/><stop offset="0.4" stop-color="#f16a2f"/><stop offset="0.4182" stop-color="#f16a2f"/><stop offset="0.425" stop-color="#f16a2f"/><stop offset="0.4364" stop-color="#f16a2f"/><stop offset="0.4545" stop-color="#f16a2f"/><stop offset="0.4727" stop-color="#f16a2f"/><stop offset="0.4909" stop-color="#f16a2f"/><stop offset="0.5" stop-color="#f16a2f"/><stop offset="0.5091" stop-color="#f16a2f"/><stop offset="0.5273" stop-color="#f16a2f"/><stop offset="0.5455" stop-color="#f1692f"/><stop offset="0.55" stop-color="#f1692f"/><stop offset="0.5636" stop-color="#f1692f"/><stop offset="0.5818" stop-color="#f1682f"/><stop offset="0.6" stop-color="#f1672f"/><stop offset="0.6182" stop-color="#f1642f"/><stop offset="0.635" stop-color="#f0612f"/><stop offset="0.6364" stop-color="#f0602f"/><stop offset="0.6545" stop-color="#ef5730"/><stop offset="0.67" stop-color="#ee4f31"/><stop offset="0.6727" stop-color="#ee4d31"/><stop offset="0.6909" stop-color="#ec3b32"/><stop offset="0.695" stop-color="#eb3533"/><stop offset="0.7091" stop-color="#e92335"/><stop offset="0.72" stop-color="#e81d36"/><stop offset="0.7273" stop-color="#e81c36"/><stop offset="0.7455" stop-color="#e81c36"/><stop offset="0.7636" stop-color="#e81c36"/><stop offset="0.77" stop-color="#e81c36"/><stop offset="0.7818" stop-color="#e81c36"/><stop offset="0.8" stop-color="#e81c36"/><stop offset="0.8182" stop-color="#e81c36"/><stop offset="0.82" stop-color="#e81d36"/><stop offset="0.8364" stop-color="#e92835"/><stop offset="0.845" stop-color="#eb3333"/><stop offset="0.8545" stop-color="#ec4232"/><stop offset="0.87" stop-color="#ef5530"/><stop offset="0.8727" stop-color="#ef5930"/><stop offset="0.89" stop-color="#f16c2f"/><stop offset="0.8909" stop-color="#f26d2f"/><stop offset="0.9091" stop-color="#f4812f"/><stop offset="0.91" stop-color="#f4822f"/><stop offset="0.925" stop-color="#f7912e"/><stop offset="0.9273" stop-color="#f7932d"/><stop offset="0.94" stop-color="#faa12b"/><stop offset="0.9455" stop-color="#fcad28"/><stop offset="0.95" stop-color="#fdbc24"/><stop offset="0.96" stop-color="#fdd91f"/><stop offset="0.9636" stop-color="#fae11f"/><stop offset="0.97" stop-color="#f6e825"/><stop offset="0.973" stop-color="#f4e82a"/><stop offset="0.9775" stop-color="#f2e830"/><stop offset="0.98" stop-color="#f0e833"/><stop offset="0.9818" stop-color="#efe836"/><stop offset="0.982" stop-color="#efe836"/><stop offset="0.9865" stop-color="#ede83b"/><stop offset="0.99" stop-color="#ece83f"/><stop offset="0.991" stop-color="#ebe840"/><stop offset="0.9955" stop-color="#eae843"/><stop offset="1" stop-color="#e9e846"/></linearGradient>
<linearGradient id="b24" x1="0" y1="0" x2="1" y2="0"><stop offset="0" stop-color="#f2f0aa"/><stop offset="0.0045" stop-color="#f2efa9"/><stop offset="0.009" stop-color="#f1efa8"/><stop offset="0.0135" stop-color="#f1efa6"/><stop offset="0.018" stop-color="#f1efa5"/><stop offset="0.0182" stop-color="#f1efa5"/><stop offset="0.0225" stop-color="#f1efa3"/><stop offset="0.027" stop-color="#f1efa2"/><stop offset="0.0364" stop-color="#f0ef9e"/><stop offset="0.05" stop-color="#f0ef9a"/><stop offset="0.0545" stop-color="#f0ef98"/><stop offset="0.0727" stop-color="#efee92"/><stop offset="0.0909" stop-color="#eeee8b"/><stop offset="0.1" stop-color="#eeee88"/><stop offset="0.1091" stop-color="#edee85"/><stop offset="0.1273" stop-color="#edee7f"/><stop offset="0.1455" stop-color="#eced79"/><stop offset="0.15" stop-color="#eced77"/><stop offset="0.1636" stop-color="#ebed73"/><stop offset="0.1818" stop-color="#ebec6c"/><stop offset="0.2" stop-color="#eaec64"/><stop offset="0.2" stop-color="#eaec64"/><stop offset="0.2182" stop-color="#eaeb5d"/><stop offset="0.235" stop-color="#e9ea56"/><stop offset="0.2364" stop-color="#e9ea55"/><stop offset="0.2545" stop-color="#e8e94d"/><stop offset="0.27" stop-color="#eae844"/><stop offset="0.2727" stop-color="#ebe842"/><stop offset="0.29" stop-color="#f2e830"/><stop offset="0.2909" stop-color="#f2e82f"/><stop offset="0.3091" stop-color="#fae01f"/><stop offset="0.31" stop-color="#fbdf1f"/><stop offset="0.325" stop-color="#fec921"/><stop offset="0.3273" stop-color="#fec522"/><stop offset="0.34" stop-color="#fcb227"/><stop offset="0.3455" stop-color="#fbab29"/><stop offset="0.36" stop-color="#faa02b"/><stop offset="0.3636" stop-color="#f99e2b"/><stop offset="0.38" stop-color="#f8982c"/><stop offset="0.3818" stop-color="#f8972d"/><stop offset="0.4" stop-color="#f7922e"/><stop offset="0.415" stop-color="#f68e2e"/><stop offset="0.4182" stop-color="#f68d2e"/><stop offset="0.4364" stop-color="#f58a2f"/><stop offset="0.45" stop-color="#f5892f"/><stop offset="0.4545" stop-color="#f5892f"/><stop offset="0.4727" stop-color="#f5892f"/><stop offset="0.4909" stop-color="#f5892f"/><stop offset="0.5091" stop-color="#f5892f"/><stop offset="0.5273" stop-color="#f5892f"/><stop offset="0.5455" stop-color="#f5892f"/><stop offset="0.55" stop-color="#f5892f"/><stop offset="0.5636" stop-color="#f5892f"/><stop offset="0.5818" stop-color="#f5892f"/><stop offset="0.6" stop-color="#f5892f"/><stop offset="0.6182" stop-color="#f5892f"/><stop offset="0.6364" stop-color="#f5892f"/><stop offset="0.65" stop-color="#f5892f"/><stop offset="0.6545" stop-color="#f5892f"/><stop offset="0.6727" stop-color="#f5852f"/><stop offset="0.685" stop-color="#f4812f"/><stop offset="0.6909" stop-color="#f47f2f"/><stop offset="0.7091" stop-color="#f3762f"/><stop offset="0.72" stop-color="#f2712f"/><stop offset="0.7273" stop-color="#f26d2f"/><stop offset="0.745" stop-color="#f0612f"/><stop offset="0.7455" stop-color="#f0612f"/><stop offset="0.7636" stop-color="#ee4b31"/><stop offset="0.77" stop-color="#ed4432"/><stop offset="0.7818" stop-color="#eb3233"/><stop offset="0.785" stop-color="#ea2c34"/><stop offset="0.8" stop-color="#e81d36"/><stop offset="0.8" stop-color="#e81d36"/><stop offset="0.8182" stop-color="#e81c36"/><stop offset="0.825" stop-color="#e81c36"/><stop offset="0.8364" stop-color="#e81c36"/><stop offset="0.85" stop-color="#e81f36"/><stop offset="0.8545" stop-color="#e92435"/><stop offset="0.865" stop-color="#ec3e32"/><stop offset="0.8727" stop-color="#ee4f30"/><stop offset="0.88" stop-color="#f05f2f"/><stop offset="0.8909" stop-color="#f16b2f"/><stop offset="0.9" stop-color="#f2742f"/><stop offset="0.9091" stop-color="#f47d2f"/><stop offset="0.92" stop-color="#f5892f"/><stop offset="0.9273" stop-color="#f7912e"/><stop offset="0.9325" stop-color="#f8962d"/><stop offset="0.945" stop-color="#fba929"/><stop offset="0.9455" stop-color="#fbaa29"/><stop offset="0.9525" stop-color="#fec422"/><stop offset="0.96" stop-color="#fbdd1f"/><stop offset="0.9636" stop-color="#f8e620"/><stop offset="0.97" stop-color="#f3e82b"/><stop offset="0.973" stop-color="#f1e831"/><stop offset="0.9775" stop-color="#eee838"/><stop offset="0.98" stop-color="#ede83c"/><stop offset="0.9818" stop-color="#ece83e"/><stop offset="0.982" stop-color="#ece83e"/><stop offset="0.9865" stop-color="#e9e844"/><stop offset="0.99" stop-color="#e8e849"/><stop offset="0.991" stop-color="#e8e84a"/><stop offset="0.9955" stop-color="#e8e94e"/><stop offset="1" stop-color="#e9e952"/></linearGradient>
<linearGradient id="b25" x1="0" y1="0" x2="1" y2="0"><stop offset="0" stop-color="#e9e953"/><stop offset="0.0045" stop-color="#e9e951"/><stop offset="0.009" stop-color="#e8e94e"/><stop offset="0.0125" stop-color="#e8e84c"/><stop offset="0.0135" stop-color="#e8e84b"/><stop offset="0.018" stop-color="#e8e847"/><stop offset="0.0182" stop-color="#e9e847"/><stop offset="0.0225" stop-color="#eae842"/><stop offset="0.025" stop-color="#ece83f"/><stop offset="0.027" stop-color="#ede83d"/><stop offset="0.0364" stop-color="#f2e82e"/><stop offset="0.0375" stop-color="#f3e82c"/><stop offset="0.05" stop-color="#fcda1f"/><stop offset="0.0545" stop-color="#ffcf1f"/><stop offset="0.06" stop-color="#fdc023"/><stop offset="0.07" stop-color="#fba829"/><stop offset="0.0727" stop-color="#fba52a"/><stop offset="0.0909" stop-color="#f8992c"/><stop offset="0.095" stop-color="#f8972d"/><stop offset="0.1091" stop-color="#f7922d"/><stop offset="0.12" stop-color="#f68f2e"/><stop offset="0.1273" stop-color="#f68d2e"/><stop offset="0.1455" stop-color="#f5892f"/><stop offset="0.16" stop-color="#f5862f"/><stop offset="0.1636" stop-color="#f5862f"/><stop offset="0.1818" stop-color="#f4832f"/><stop offset="0.2" stop-color="#f4822f"/><stop offset="0.2" stop-color="#f4822f"/><stop offset="0.2182" stop-color="#f4822f"/><stop offset="0.2364" stop-color="#f4822f"/><stop offset="0.2545" stop-color="#f4822f"/><stop offset="0.2727" stop-color="#f4822f"/><stop offset="0.2909" stop-color="#f4822f"/><stop offset="0.3" stop-color="#f4822f"/><stop offset="0.3091" stop-color="#f4822f"/><stop offset="0.3273" stop-color="#f4822f"/><stop offset="0.3455" stop-color="#f4822f"/><stop offset="0.3636" stop-color="#f4822f"/><stop offset="0.3818" stop-color="#f4822f"/><stop offset="0.4" stop-color="#f4822f"/><stop offset="0.4" stop-color="#f4822f"/><stop offset="0.4182" stop-color="#f4812f"/><stop offset="0.4364" stop-color="#f47e2f"/><stop offset="0.44" stop-color="#f47e2f"/><stop offset="0.4545" stop-color="#f37b2f"/><stop offset="0.4727" stop-color="#f3762f"/><stop offset="0.48" stop-color="#f2742f"/><stop offset="0.4909" stop-color="#f2712f"/><stop offset="0.5091" stop-color="#f16a2f"/><stop offset="0.515" stop-color="#f1682f"/><stop offset="0.5273" stop-color="#f0622f"/><stop offset="0.5455" stop-color="#ef5730"/><stop offset="0.55" stop-color="#ef5530"/><stop offset="0.5636" stop-color="#ee4d31"/><stop offset="0.5818" stop-color="#ec4232"/><stop offset="0.6" stop-color="#eb3433"/><stop offset="0.6" stop-color="#eb3433"/><stop offset="0.6182" stop-color="#e92735"/><stop offset="0.6364" stop-color="#e81f36"/><stop offset="0.65" stop-color="#e81c36"/><stop offset="0.6545" stop-color="#e81c36"/><stop offset="0.6727" stop-color="#e81c36"/><stop offset="0.6909" stop-color="#e81c36"/><stop offset="0.7091" stop-color="#e81c36"/><stop offset="0.7273" stop-color="#e81c36"/><stop offset="0.7455" stop-color="#e81c36"/><stop offset="0.7636" stop-color="#e81c36"/><stop offset="0.765" stop-color="#e81c36"/><stop offset="0.7818" stop-color="#e81c36"/><stop offset="0.8" stop-color="#e81c36"/><stop offset="0.8182" stop-color="#e81c36"/><stop offset="0.8364" stop-color="#e81c36"/><stop offset="0.8545" stop-color="#e81c36"/><stop offset="0.8727" stop-color="#e81c36"/><stop offset="0.88" stop-color="#e81e36"/><stop offset="0.8909" stop-color="#e92835"/><stop offset="0.9" stop-color="#ec3a32"/><stop offset="0.9091" stop-color="#ee4c31"/><stop offset="0.92" stop-color="#f0602f"/><stop offset="0.9273" stop-color="#f1692f"/><stop offset="0.935" stop-color="#f2732f"/><stop offset="0.9455" stop-color="#f4822f"/><stop offset="0.95" stop-color="#f58a2f"/><stop offset="0.96" stop-color="#f99a2c"/><stop offset="0.9636" stop-color="#faa02b"/><stop offset="0.97" stop-color="#fcb027"/><stop offset="0.973" stop-color="#fdba25"/><stop offset="0.9775" stop-color="#fec721"/><stop offset="0.9775" stop-color="#fec721"/><stop offset="0.9818" stop-color="#ffd31e"/><stop offset="0.982" stop-color="#fed41e"/><stop offset="0.985" stop-color="#fcdb1f"/><stop offset="0.9865" stop-color="#fbde1f"/><stop offset="0.991" stop-color="#f8e820"/><stop offset="0.9925" stop-color="#f7e823"/><stop offset="0.9955" stop-color="#f5e829"/><stop offset="1" stop-color="#f2e82f"/></linearGradient>
<linearGradient id="ch" x1="0" y1="0" x2="1" y2="0"><stop offset="0" stop-color="#e84735"/><stop offset="0.0045" stop-color="#e84b35"/><stop offset="0.009" stop-color="#e85135"/><stop offset="0.0135" stop-color="#e85635"/><stop offset="0.018" stop-color="#e85836"/><stop offset="0.0225" stop-color="#e85a37"/><stop offset="0.025" stop-color="#e85c38"/><stop offset="0.0256" stop-color="#e85c38"/><stop offset="0.027" stop-color="#e85d38"/><stop offset="0.05" stop-color="#e9673d"/><stop offset="0.0513" stop-color="#e9673d"/><stop offset="0.0769" stop-color="#ea7140"/><stop offset="0.1" stop-color="#ec7743"/><stop offset="0.1026" stop-color="#ec7843"/><stop offset="0.1282" stop-color="#ed7d46"/><stop offset="0.15" stop-color="#ee8148"/><stop offset="0.1538" stop-color="#ee8248"/><stop offset="0.1795" stop-color="#ef864b"/><stop offset="0.2051" stop-color="#ef894e"/><stop offset="0.225" stop-color="#f08b4f"/><stop offset="0.2308" stop-color="#f08b50"/><stop offset="0.2564" stop-color="#f18e52"/><stop offset="0.2821" stop-color="#f19054"/><stop offset="0.3" stop-color="#f19255"/><stop offset="0.3077" stop-color="#f29356"/><stop offset="0.3333" stop-color="#f29558"/><stop offset="0.359" stop-color="#f29659"/><stop offset="0.3846" stop-color="#f2985a"/><stop offset="0.4" stop-color="#f3995b"/><stop offset="0.4103" stop-color="#f3995b"/><stop offset="0.4359" stop-color="#f39b5c"/><stop offset="0.4615" stop-color="#f39c5d"/><stop offset="0.4872" stop-color="#f39e5e"/><stop offset="0.5" stop-color="#f39f5f"/><stop offset="0.5128" stop-color="#f4a060"/><stop offset="0.5385" stop-color="#f4a261"/><stop offset="0.5641" stop-color="#f4a462"/><stop offset="0.5897" stop-color="#f4a564"/><stop offset="0.6" stop-color="#f4a664"/><stop offset="0.6154" stop-color="#f5a765"/><stop offset="0.641" stop-color="#f5aa67"/><stop offset="0.6667" stop-color="#f5ac69"/><stop offset="0.6923" stop-color="#f6ae6b"/><stop offset="0.7" stop-color="#f6af6b"/><stop offset="0.7179" stop-color="#f6b26d"/><stop offset="0.7436" stop-color="#f7b671"/><stop offset="0.75" stop-color="#f7b772"/><stop offset="0.7692" stop-color="#f7bb75"/><stop offset="0.7949" stop-color="#f8c07a"/><stop offset="0.8" stop-color="#f8c17b"/><stop offset="0.8205" stop-color="#f8c57e"/><stop offset="0.835" stop-color="#f8c881"/><stop offset="0.8462" stop-color="#f8cb83"/><stop offset="0.87" stop-color="#f8d189"/><stop offset="0.8718" stop-color="#f8d28a"/><stop offset="0.895" stop-color="#f6dd96"/><stop offset="0.8974" stop-color="#f6de98"/><stop offset="0.92" stop-color="#f3e9a7"/><stop offset="0.9231" stop-color="#f3eaa9"/><stop offset="0.9325" stop-color="#f1edab"/><stop offset="0.945" stop-color="#edf0b0"/><stop offset="0.9487" stop-color="#eceeb0"/><stop offset="0.9575" stop-color="#e5e9b0"/><stop offset="0.97" stop-color="#d0e0a9"/><stop offset="0.973" stop-color="#c8dda7"/><stop offset="0.9744" stop-color="#c5dba7"/><stop offset="0.9775" stop-color="#bcd8a5"/><stop offset="0.98" stop-color="#b5d6a3"/><stop offset="0.982" stop-color="#afd4a2"/><stop offset="0.9865" stop-color="#a3d0a0"/><stop offset="0.99" stop-color="#98cb9f"/><stop offset="0.991" stop-color="#94c99f"/><stop offset="0.995" stop-color="#87bfa0"/><stop offset="0.9955" stop-color="#86bea1"/><stop offset="1" stop-color="#7ab3a5"/></linearGradient>
<linearGradient id="c0" x1="0" y1="0" x2="1" y2="0"><stop offset="0" stop-color="#ffffff"/><stop offset="0.177" stop-color="#ffffff"/><stop offset="0.1815" stop-color="#ffffff"/><stop offset="0.1851" stop-color="#ffffff"/><stop offset="0.186" stop-color="#ffffff"/><stop offset="0.1905" stop-color="#ffffff"/><stop offset="0.1932" stop-color="#ffffff"/><stop offset="0.195" stop-color="#fffffe"/><stop offset="0.1995" stop-color="#fefefa"/><stop offset="0.2013" stop-color="#fefdf7"/><stop offset="0.2039" stop-color="#fdfbee"/><stop offset="0.204" stop-color="#fdfbee"/><stop offset="0.2085" stop-color="#faf7de"/><stop offset="0.2094" stop-color="#faf7dc"/><stop offset="0.213" stop-color="#f8f5d2"/><stop offset="0.2145" stop-color="#f6f3cd"/><stop offset="0.2175" stop-color="#f5f2c2"/><stop offset="0.2175" stop-color="#f5f2c2"/><stop offset="0.222" stop-color="#f2f0b0"/><stop offset="0.225" stop-color="#f1efa3"/><stop offset="0.2255" stop-color="#f1efa1"/><stop offset="0.2265" stop-color="#f0ef9d"/><stop offset="0.231" stop-color="#eeee89"/><stop offset="0.2325" stop-color="#edee82"/><stop offset="0.2336" stop-color="#eced7d"/><stop offset="0.24" stop-color="#eaeb5d"/><stop offset="0.2417" stop-color="#e9ea54"/><stop offset="0.2475" stop-color="#eee838"/><stop offset="0.2498" stop-color="#f3e82d"/><stop offset="0.255" stop-color="#fcdb1f"/><stop offset="0.2579" stop-color="#fecb20"/><stop offset="0.2625" stop-color="#fcae28"/><stop offset="0.266" stop-color="#f99f2b"/><stop offset="0.27" stop-color="#f7912e"/><stop offset="0.2741" stop-color="#f4832f"/><stop offset="0.28" stop-color="#f26d2f"/><stop offset="0.2822" stop-color="#f1662f"/><stop offset="0.29" stop-color="#ed4931"/><stop offset="0.2903" stop-color="#ed4831"/><stop offset="0.2984" stop-color="#ea3034"/><stop offset="0.3" stop-color="#ea2c34"/><stop offset="0.3065" stop-color="#e92335"/><stop offset="0.31" stop-color="#e92235"/><stop offset="0.3145" stop-color="#e92835"/><stop offset="0.3175" stop-color="#ea2f34"/><stop offset="0.3226" stop-color="#ed4332"/><stop offset="0.325" stop-color="#ee4c31"/><stop offset="0.3307" stop-color="#f1682f"/><stop offset="0.3325" stop-color="#f26f2f"/><stop offset="0.3388" stop-color="#f58b2f"/><stop offset="0.34" stop-color="#f6902e"/><stop offset="0.3469" stop-color="#fbab29"/><stop offset="0.3475" stop-color="#fcaf28"/><stop offset="0.355" stop-color="#fcdb1f"/><stop offset="0.3625" stop-color="#efe835"/><stop offset="0.3631" stop-color="#eee838"/><stop offset="0.37" stop-color="#e9e951"/><stop offset="0.3712" stop-color="#e9ea54"/><stop offset="0.3793" stop-color="#eaec67"/><stop offset="0.385" stop-color="#ebed71"/><stop offset="0.3874" stop-color="#ebed74"/><stop offset="0.3955" stop-color="#eced7d"/><stop offset="0.4" stop-color="#edee81"/><stop offset="0.4035" stop-color="#edee83"/><stop offset="0.4116" stop-color="#eeee87"/><stop offset="0.4197" stop-color="#eeee89"/><stop offset="0.42" stop-color="#eeee89"/><stop offset="0.4278" stop-color="#eeee8c"/><stop offset="0.4359" stop-color="#efee91"/><stop offset="0.44" stop-color="#efee95"/><stop offset="0.444" stop-color="#f0ef9c"/><stop offset="0.4475" stop-color="#f1efa3"/><stop offset="0.4521" stop-color="#f2f0ae"/><stop offset="0.455" stop-color="#f3f1b7"/><stop offset="0.4602" stop-color="#f5f2c6"/><stop offset="0.4625" stop-color="#f7f4cd"/><stop offset="0.4683" stop-color="#f9f6da"/><stop offset="0.47" stop-color="#faf7dd"/><stop offset="0.4764" stop-color="#fbf8e1"/><stop offset="0.4775" stop-color="#fbf8e1"/><stop offset="0.4845" stop-color="#f9f6db"/><stop offset="0.485" stop-color="#f9f6da"/><stop offset="0.4925" stop-color="#f5f2c4"/><stop offset="0.4925" stop-color="#f5f2c4"/><stop offset="0.5" stop-color="#f2f0aa"/><stop offset="0.5006" stop-color="#f2efa8"/><stop offset="0.5087" stop-color="#f0ef98"/><stop offset="0.515" stop-color="#efee91"/><stop offset="0.5168" stop-color="#efee8f"/><stop offset="0.5249" stop-color="#eeee8a"/><stop offset="0.53" stop-color="#eeee89"/><stop offset="0.533" stop-color="#eeee89"/><stop offset="0.5411" stop-color="#eeee8a"/><stop offset="0.545" stop-color="#eeee8c"/><stop offset="0.5492" stop-color="#eeee8d"/><stop offset="0.5573" stop-color="#efee92"/><stop offset="0.56" stop-color="#efee94"/><stop offset="0.5654" stop-color="#f0ef9a"/><stop offset="0.568" stop-color="#f0ef9e"/><stop offset="0.57" stop-color="#f1efa1"/><stop offset="0.5725" stop-color="#f1efa6"/><stop offset="0.5735" stop-color="#f1efa8"/><stop offset="0.577" stop-color="#f2f0b0"/><stop offset="0.58" stop-color="#f3f1b9"/><stop offset="0.5815" stop-color="#f4f1bd"/><stop offset="0.5815" stop-color="#f4f1bd"/><stop offset="0.586" stop-color="#f6f3cc"/><stop offset="0.5875" stop-color="#f7f4d1"/><stop offset="0.5896" stop-color="#f9f6d7"/><stop offset="0.5905" stop-color="#f9f6d9"/><stop offset="0.595" stop-color="#fbf9e5"/><stop offset="0.5951" stop-color="#fcf9e6"/><stop offset="0.5977" stop-color="#fdfcf2"/><stop offset="0.5995" stop-color="#fefdf8"/><stop offset="0.604" stop-color="#fffffe"/><stop offset="0.6058" stop-color="#fffffe"/><stop offset="0.6085" stop-color="#ffffff"/><stop offset="0.613" stop-color="#ffffff"/><stop offset="0.6139" stop-color="#ffffff"/><stop offset="0.6175" stop-color="#ffffff"/><stop offset="0.622" stop-color="#ffffff"/><stop offset="1" stop-color="#ffffff"/></linearGradient>
<linearGradient id="c1" x1="0" y1="0" x2="1" y2="0"><stop offset="0" stop-color="#ffffff"/><stop offset="0.253" stop-color="#ffffff"/><stop offset="0.2569" stop-color="#ffffff"/><stop offset="0.2575" stop-color="#ffffff"/><stop offset="0.2608" stop-color="#ffffff"/><stop offset="0.262" stop-color="#ffffff"/><stop offset="0.2647" stop-color="#ffffff"/><stop offset="0.2665" stop-color="#ffffff"/><stop offset="0.2686" stop-color="#ffffff"/><stop offset="0.271" stop-color="#fffffd"/><stop offset="0.2725" stop-color="#fefefb"/><stop offset="0.2755" stop-color="#fcfaeb"/><stop offset="0.2763" stop-color="#fbf8e2"/><stop offset="0.2799" stop-color="#f7f4d0"/><stop offset="0.28" stop-color="#f7f4cf"/><stop offset="0.2802" stop-color="#f6f3cd"/><stop offset="0.284" stop-color="#f1efa4"/><stop offset="0.2841" stop-color="#f1efa3"/><stop offset="0.2845" stop-color="#f0ef9d"/><stop offset="0.288" stop-color="#eaec68"/><stop offset="0.288" stop-color="#eaec68"/><stop offset="0.289" stop-color="#e9ea56"/><stop offset="0.291" stop-color="#f1e831"/><stop offset="0.2919" stop-color="#f8e820"/><stop offset="0.2935" stop-color="#fec422"/><stop offset="0.294" stop-color="#fdb725"/><stop offset="0.2958" stop-color="#f8972d"/><stop offset="0.297" stop-color="#f5872f"/><stop offset="0.298" stop-color="#f3792f"/><stop offset="0.2997" stop-color="#f1652f"/><stop offset="0.3" stop-color="#f0612f"/><stop offset="0.3025" stop-color="#ec4232"/><stop offset="0.3036" stop-color="#eb3633"/><stop offset="0.307" stop-color="#e92135"/><stop offset="0.3075" stop-color="#e92035"/><stop offset="0.309" stop-color="#e81e36"/><stop offset="0.3114" stop-color="#e81f36"/><stop offset="0.3153" stop-color="#ea2f34"/><stop offset="0.318" stop-color="#ed4731"/><stop offset="0.3191" stop-color="#ef5330"/><stop offset="0.322" stop-color="#f2712f"/><stop offset="0.323" stop-color="#f37b2f"/><stop offset="0.326" stop-color="#f8972d"/><stop offset="0.3269" stop-color="#fa9f2b"/><stop offset="0.3305" stop-color="#ffd31e"/><stop offset="0.3308" stop-color="#fdd71e"/><stop offset="0.3347" stop-color="#e9e845"/><stop offset="0.335" stop-color="#e8e849"/><stop offset="0.3386" stop-color="#edee82"/><stop offset="0.34" stop-color="#efee97"/><stop offset="0.3425" stop-color="#f3f1b8"/><stop offset="0.345" stop-color="#f7f4d0"/><stop offset="0.3464" stop-color="#f9f6d9"/><stop offset="0.3503" stop-color="#fdfcf2"/><stop offset="0.3542" stop-color="#fffffe"/><stop offset="0.3581" stop-color="#ffffff"/><stop offset="0.3619" stop-color="#ffffff"/><stop offset="0.3658" stop-color="#ffffff"/><stop offset="0.3675" stop-color="#ffffff"/><stop offset="0.3697" stop-color="#ffffff"/><stop offset="0.3736" stop-color="#ffffff"/><stop offset="0.3775" stop-color="#ffffff"/><stop offset="0.3814" stop-color="#fffffe"/><stop offset="0.3853" stop-color="#fefdf8"/><stop offset="0.3892" stop-color="#fbf8e1"/><stop offset="0.39" stop-color="#faf7df"/><stop offset="0.3931" stop-color="#f8f5d3"/><stop offset="0.395" stop-color="#f5f2c8"/><stop offset="0.397" stop-color="#f4f1bc"/><stop offset="0.4" stop-color="#f2efa8"/><stop offset="0.4009" stop-color="#f1efa3"/><stop offset="0.4047" stop-color="#efee8f"/><stop offset="0.405" stop-color="#eeee8e"/><stop offset="0.4086" stop-color="#edee83"/><stop offset="0.41" stop-color="#edee80"/><stop offset="0.4125" stop-color="#edee7e"/><stop offset="0.413" stop-color="#edee7e"/><stop offset="0.415" stop-color="#edee7f"/><stop offset="0.4164" stop-color="#edee80"/><stop offset="0.4175" stop-color="#edee82"/><stop offset="0.42" stop-color="#eeee87"/><stop offset="0.4203" stop-color="#eeee88"/><stop offset="0.422" stop-color="#eeee8d"/><stop offset="0.4242" stop-color="#efee97"/><stop offset="0.425" stop-color="#f0ef9a"/><stop offset="0.4265" stop-color="#f1efa2"/><stop offset="0.4281" stop-color="#f2f0ab"/><stop offset="0.43" stop-color="#f3f1b5"/><stop offset="0.431" stop-color="#f4f1bb"/><stop offset="0.432" stop-color="#f4f2c0"/><stop offset="0.435" stop-color="#f7f4d0"/><stop offset="0.4355" stop-color="#f8f5d3"/><stop offset="0.4359" stop-color="#f8f5d4"/><stop offset="0.4398" stop-color="#fbf8e1"/><stop offset="0.44" stop-color="#fbf8e2"/><stop offset="0.4401" stop-color="#fbf8e3"/><stop offset="0.4437" stop-color="#fefdf8"/><stop offset="0.4445" stop-color="#fefefa"/><stop offset="0.4475" stop-color="#fffffe"/><stop offset="0.449" stop-color="#ffffff"/><stop offset="0.4514" stop-color="#ffffff"/><stop offset="0.4535" stop-color="#ffffff"/><stop offset="0.4553" stop-color="#ffffff"/><stop offset="0.458" stop-color="#ffffff"/><stop offset="0.4592" stop-color="#ffffff"/><stop offset="0.4625" stop-color="#ffffff"/><stop offset="0.4631" stop-color="#ffffff"/><stop offset="0.467" stop-color="#ffffff"/><stop offset="1" stop-color="#ffffff"/></linearGradient>
<linearGradient id="c2" x1="0" y1="0" x2="1" y2="0"><stop offset="0" stop-color="#ffffff"/><stop offset="0.001" stop-color="#ffffff"/><stop offset="0.0055" stop-color="#fffffd"/><stop offset="0.0099" stop-color="#fefdf9"/><stop offset="0.01" stop-color="#fefdf9"/><stop offset="0.01" stop-color="#fefdf9"/><stop offset="0.0145" stop-color="#fdfbed"/><stop offset="0.0159" stop-color="#fcf9e8"/><stop offset="0.019" stop-color="#fbf8e0"/><stop offset="0.0235" stop-color="#f9f6da"/><stop offset="0.025" stop-color="#f9f6d7"/><stop offset="0.028" stop-color="#f8f5d2"/><stop offset="0.0319" stop-color="#f6f3cc"/><stop offset="0.0325" stop-color="#f6f3cb"/><stop offset="0.037" stop-color="#f5f2c4"/><stop offset="0.04" stop-color="#f4f1c0"/><stop offset="0.0478" stop-color="#f3f1b8"/><stop offset="0.0638" stop-color="#f2f0ac"/><stop offset="0.07" stop-color="#f1efa8"/><stop offset="0.0797" stop-color="#f1efa1"/><stop offset="0.0957" stop-color="#efee96"/><stop offset="0.1" stop-color="#efee93"/><stop offset="0.1116" stop-color="#eeee89"/><stop offset="0.125" stop-color="#edee7d"/><stop offset="0.1276" stop-color="#eced7b"/><stop offset="0.1435" stop-color="#ebec6b"/><stop offset="0.15" stop-color="#eaeb64"/><stop offset="0.1595" stop-color="#e9ea59"/><stop offset="0.165" stop-color="#e9e952"/><stop offset="0.1754" stop-color="#eae843"/><stop offset="0.18" stop-color="#ede83a"/><stop offset="0.1875" stop-color="#f5e829"/><stop offset="0.1913" stop-color="#f9e620"/><stop offset="0.195" stop-color="#fdda1f"/><stop offset="0.2025" stop-color="#fdbb24"/><stop offset="0.2073" stop-color="#fba829"/><stop offset="0.21" stop-color="#faa22b"/><stop offset="0.2232" stop-color="#f7922d"/><stop offset="0.225" stop-color="#f7902e"/><stop offset="0.2392" stop-color="#f4832f"/><stop offset="0.24" stop-color="#f4822f"/><stop offset="0.2551" stop-color="#f26d2f"/><stop offset="0.26" stop-color="#f1672f"/><stop offset="0.2711" stop-color="#ef5330"/><stop offset="0.28" stop-color="#ed4431"/><stop offset="0.287" stop-color="#eb3933"/><stop offset="0.295" stop-color="#ea2b34"/><stop offset="0.303" stop-color="#e92235"/><stop offset="0.31" stop-color="#e81f36"/><stop offset="0.3189" stop-color="#e92535"/><stop offset="0.32" stop-color="#e92635"/><stop offset="0.33" stop-color="#eb3633"/><stop offset="0.3349" stop-color="#ec3f32"/><stop offset="0.35" stop-color="#ef5830"/><stop offset="0.3508" stop-color="#ef5a30"/><stop offset="0.3667" stop-color="#f26e2f"/><stop offset="0.37" stop-color="#f2712f"/><stop offset="0.3827" stop-color="#f37c2f"/><stop offset="0.39" stop-color="#f4822f"/><stop offset="0.3986" stop-color="#f5892f"/><stop offset="0.41" stop-color="#f7922d"/><stop offset="0.4146" stop-color="#f8962d"/><stop offset="0.425" stop-color="#faa02b"/><stop offset="0.4305" stop-color="#fba62a"/><stop offset="0.44" stop-color="#fcb626"/><stop offset="0.4465" stop-color="#fdc023"/><stop offset="0.455" stop-color="#fecc20"/><stop offset="0.4624" stop-color="#fed41e"/><stop offset="0.47" stop-color="#fcda1f"/><stop offset="0.4784" stop-color="#fbe01f"/><stop offset="0.485" stop-color="#f9e320"/><stop offset="0.4943" stop-color="#f8e720"/><stop offset="0.5" stop-color="#f8e720"/><stop offset="0.5103" stop-color="#f9e520"/><stop offset="0.515" stop-color="#f9e320"/><stop offset="0.5262" stop-color="#fcdd1f"/><stop offset="0.53" stop-color="#fcda1f"/><stop offset="0.5421" stop-color="#fecc20"/><stop offset="0.545" stop-color="#fec821"/><stop offset="0.5581" stop-color="#fcb426"/><stop offset="0.56" stop-color="#fcb227"/><stop offset="0.574" stop-color="#fba42a"/><stop offset="0.58" stop-color="#faa12b"/><stop offset="0.59" stop-color="#f99d2c"/><stop offset="0.6" stop-color="#f99b2c"/><stop offset="0.6059" stop-color="#f99a2c"/><stop offset="0.62" stop-color="#f99a2c"/><stop offset="0.6219" stop-color="#f99a2c"/><stop offset="0.6378" stop-color="#f99b2c"/><stop offset="0.64" stop-color="#f99b2c"/><stop offset="0.6525" stop-color="#faa12b"/><stop offset="0.6538" stop-color="#faa22b"/><stop offset="0.665" stop-color="#fcb127"/><stop offset="0.6697" stop-color="#fdbb24"/><stop offset="0.675" stop-color="#fec621"/><stop offset="0.685" stop-color="#fcdc1f"/><stop offset="0.6857" stop-color="#fcdd1f"/><stop offset="0.6975" stop-color="#f2e82f"/><stop offset="0.7016" stop-color="#efe837"/><stop offset="0.71" stop-color="#e8e847"/><stop offset="0.7175" stop-color="#e9e953"/><stop offset="0.7335" stop-color="#eaec66"/><stop offset="0.735" stop-color="#eaec68"/><stop offset="0.7494" stop-color="#eced77"/><stop offset="0.76" stop-color="#edee81"/><stop offset="0.7654" stop-color="#eeee87"/><stop offset="0.7813" stop-color="#efee97"/><stop offset="0.785" stop-color="#f0ef9b"/><stop offset="0.7973" stop-color="#f1efa7"/><stop offset="0.81" stop-color="#f3f1b6"/><stop offset="0.8132" stop-color="#f4f1ba"/><stop offset="0.823" stop-color="#f6f3c9"/><stop offset="0.8275" stop-color="#f7f4d0"/><stop offset="0.8292" stop-color="#f8f5d3"/><stop offset="0.83" stop-color="#f8f5d4"/><stop offset="0.832" stop-color="#f9f6d7"/><stop offset="0.8365" stop-color="#faf7dd"/><stop offset="0.841" stop-color="#fbf9e4"/><stop offset="0.8451" stop-color="#fdfcf2"/><stop offset="0.8455" stop-color="#fdfcf3"/><stop offset="0.85" stop-color="#fefefa"/><stop offset="0.8501" stop-color="#fefefb"/><stop offset="0.8545" stop-color="#fffffe"/><stop offset="0.859" stop-color="#ffffff"/><stop offset="0.8611" stop-color="#ffffff"/><stop offset="0.8635" stop-color="#ffffff"/><stop offset="0.868" stop-color="#ffffff"/><stop offset="0.8725" stop-color="#ffffff"/><stop offset="0.877" stop-color="#ffffff"/><stop offset="1" stop-color="#ffffff"/></linearGradient>
<linearGradient id="c3" x1="0" y1="0" x2="1" y2="0"><stop offset="0" stop-color="#ffffff"/><stop offset="0.089" stop-color="#ffffff"/><stop offset="0.0935" stop-color="#ffffff"/><stop offset="0.0958" stop-color="#ffffff"/><stop offset="0.098" stop-color="#ffffff"/><stop offset="0.1025" stop-color="#ffffff"/><stop offset="0.1026" stop-color="#ffffff"/><stop offset="0.107" stop-color="#fffffe"/><stop offset="0.1093" stop-color="#fefefb"/><stop offset="0.1115" stop-color="#fefdf7"/><stop offset="0.1159" stop-color="#fbf9e5"/><stop offset="0.116" stop-color="#fbf8e4"/><stop offset="0.116" stop-color="#fbf8e4"/><stop offset="0.1161" stop-color="#fbf8e3"/><stop offset="0.1205" stop-color="#f9f6d9"/><stop offset="0.1229" stop-color="#f7f4d1"/><stop offset="0.123" stop-color="#f7f4d1"/><stop offset="0.125" stop-color="#f6f3ca"/><stop offset="0.1295" stop-color="#f3f1b9"/><stop offset="0.1297" stop-color="#f3f1b8"/><stop offset="0.13" stop-color="#f3f1b7"/><stop offset="0.134" stop-color="#f2efa9"/><stop offset="0.1365" stop-color="#f1efa0"/><stop offset="0.1385" stop-color="#f0ef9a"/><stop offset="0.14" stop-color="#efee95"/><stop offset="0.143" stop-color="#eeee8d"/><stop offset="0.1433" stop-color="#eeee8c"/><stop offset="0.15" stop-color="#eced7c"/><stop offset="0.15" stop-color="#eced7c"/><stop offset="0.1568" stop-color="#ebed71"/><stop offset="0.16" stop-color="#ebed6d"/><stop offset="0.1636" stop-color="#ebec69"/><stop offset="0.17" stop-color="#eaec66"/><stop offset="0.1704" stop-color="#eaec66"/><stop offset="0.1772" stop-color="#eaec69"/><stop offset="0.1839" stop-color="#ebed6f"/><stop offset="0.185" stop-color="#ebed71"/><stop offset="0.1907" stop-color="#eced77"/><stop offset="0.1975" stop-color="#edee7f"/><stop offset="0.2" stop-color="#edee81"/><stop offset="0.2043" stop-color="#eeee86"/><stop offset="0.2111" stop-color="#eeee8e"/><stop offset="0.215" stop-color="#efee92"/><stop offset="0.2179" stop-color="#efee95"/><stop offset="0.2246" stop-color="#f0ef9a"/><stop offset="0.23" stop-color="#f0ef9a"/><stop offset="0.2314" stop-color="#f0ef9a"/><stop offset="0.2382" stop-color="#efee94"/><stop offset="0.24" stop-color="#efee92"/><stop offset="0.245" stop-color="#eeee8a"/><stop offset="0.25" stop-color="#edee80"/><stop offset="0.2518" stop-color="#eced7d"/><stop offset="0.2585" stop-color="#ebed6c"/><stop offset="0.26" stop-color="#eaec68"/><stop offset="0.2653" stop-color="#e9ea57"/><stop offset="0.27" stop-color="#e8e848"/><stop offset="0.2721" stop-color="#ebe841"/><stop offset="0.2775" stop-color="#f2e82f"/><stop offset="0.2789" stop-color="#f4e829"/><stop offset="0.285" stop-color="#fed61e"/><stop offset="0.2857" stop-color="#ffd21e"/><stop offset="0.2925" stop-color="#faa32a"/><stop offset="0.2925" stop-color="#faa32b"/><stop offset="0.2992" stop-color="#f5882f"/><stop offset="0.3" stop-color="#f4852f"/><stop offset="0.306" stop-color="#f16c2f"/><stop offset="0.31" stop-color="#f05d2f"/><stop offset="0.3128" stop-color="#ee5030"/><stop offset="0.3196" stop-color="#eb3633"/><stop offset="0.32" stop-color="#eb3533"/><stop offset="0.3264" stop-color="#e92635"/><stop offset="0.3275" stop-color="#e92535"/><stop offset="0.3331" stop-color="#ea2a34"/><stop offset="0.335" stop-color="#ea3034"/><stop offset="0.3399" stop-color="#ed4a31"/><stop offset="0.3425" stop-color="#ef5b2f"/><stop offset="0.3467" stop-color="#f2702f"/><stop offset="0.35" stop-color="#f4802f"/><stop offset="0.3535" stop-color="#f68f2e"/><stop offset="0.3575" stop-color="#f99e2b"/><stop offset="0.3603" stop-color="#fba829"/><stop offset="0.365" stop-color="#fec422"/><stop offset="0.3671" stop-color="#ffce1f"/><stop offset="0.3725" stop-color="#f9e420"/><stop offset="0.3738" stop-color="#f8e821"/><stop offset="0.38" stop-color="#f0e834"/><stop offset="0.3806" stop-color="#efe836"/><stop offset="0.3874" stop-color="#e8e84a"/><stop offset="0.39" stop-color="#e9e952"/><stop offset="0.3942" stop-color="#eaeb5e"/><stop offset="0.4" stop-color="#ebed71"/><stop offset="0.401" stop-color="#ebed74"/><stop offset="0.4077" stop-color="#eeee8a"/><stop offset="0.408" stop-color="#eeee8b"/><stop offset="0.41" stop-color="#efee92"/><stop offset="0.4125" stop-color="#f0ef9b"/><stop offset="0.4145" stop-color="#f1efa2"/><stop offset="0.417" stop-color="#f2f0ab"/><stop offset="0.42" stop-color="#f3f1b6"/><stop offset="0.4213" stop-color="#f4f1bb"/><stop offset="0.4215" stop-color="#f4f1bc"/><stop offset="0.426" stop-color="#f6f3cc"/><stop offset="0.4275" stop-color="#f7f4d1"/><stop offset="0.4281" stop-color="#f8f5d3"/><stop offset="0.4305" stop-color="#f9f6da"/><stop offset="0.4349" stop-color="#fcf9e6"/><stop offset="0.435" stop-color="#fcf9e7"/><stop offset="0.4351" stop-color="#fcf9e8"/><stop offset="0.4395" stop-color="#fefdf8"/><stop offset="0.4417" stop-color="#fffefc"/><stop offset="0.444" stop-color="#fffffe"/><stop offset="0.4484" stop-color="#ffffff"/><stop offset="0.4485" stop-color="#ffffff"/><stop offset="0.453" stop-color="#ffffff"/><stop offset="0.4552" stop-color="#ffffff"/><stop offset="0.4575" stop-color="#ffffff"/><stop offset="0.462" stop-color="#ffffff"/><stop offset="1" stop-color="#ffffff"/></linearGradient>
<linearGradient id="c4" x1="0" y1="0" x2="1" y2="0"><stop offset="0" stop-color="#ffffff"/><stop offset="0.008" stop-color="#ffffff"/><stop offset="0.0125" stop-color="#ffffff"/><stop offset="0.017" stop-color="#ffffff"/><stop offset="0.0215" stop-color="#ffffff"/><stop offset="0.0227" stop-color="#ffffff"/><stop offset="0.026" stop-color="#ffffff"/><stop offset="0.0305" stop-color="#fffffd"/><stop offset="0.0349" stop-color="#fefdf8"/><stop offset="0.035" stop-color="#fefdf8"/><stop offset="0.0374" stop-color="#fdfcf3"/><stop offset="0.0395" stop-color="#fcfbed"/><stop offset="0.044" stop-color="#faf7e0"/><stop offset="0.0485" stop-color="#f9f6d9"/><stop offset="0.0521" stop-color="#f8f5d2"/><stop offset="0.0525" stop-color="#f7f4d2"/><stop offset="0.053" stop-color="#f7f4d1"/><stop offset="0.0575" stop-color="#f5f2c8"/><stop offset="0.062" stop-color="#f4f2c1"/><stop offset="0.0668" stop-color="#f4f1ba"/><stop offset="0.07" stop-color="#f3f1b6"/><stop offset="0.0815" stop-color="#f2f0ae"/><stop offset="0.0963" stop-color="#f1efa7"/><stop offset="0.11" stop-color="#f1efa1"/><stop offset="0.111" stop-color="#f1efa1"/><stop offset="0.1257" stop-color="#f0ef9c"/><stop offset="0.1404" stop-color="#efee97"/><stop offset="0.15" stop-color="#efee93"/><stop offset="0.1551" stop-color="#efee90"/><stop offset="0.1698" stop-color="#eeee8a"/><stop offset="0.1845" stop-color="#edee83"/><stop offset="0.185" stop-color="#edee82"/><stop offset="0.1992" stop-color="#eced7b"/><stop offset="0.2139" stop-color="#ebed73"/><stop offset="0.22" stop-color="#ebed70"/><stop offset="0.2286" stop-color="#ebec6a"/><stop offset="0.2433" stop-color="#eaeb60"/><stop offset="0.245" stop-color="#eaeb5f"/><stop offset="0.2581" stop-color="#e9e954"/><stop offset="0.27" stop-color="#e8e847"/><stop offset="0.2728" stop-color="#eae844"/><stop offset="0.285" stop-color="#f1e831"/><stop offset="0.2875" stop-color="#f3e82c"/><stop offset="0.3" stop-color="#fdda1f"/><stop offset="0.3022" stop-color="#fed41e"/><stop offset="0.31" stop-color="#fdbb24"/><stop offset="0.3169" stop-color="#fba62a"/><stop offset="0.32" stop-color="#faa12b"/><stop offset="0.3316" stop-color="#f7952d"/><stop offset="0.34" stop-color="#f68d2e"/><stop offset="0.3463" stop-color="#f5882f"/><stop offset="0.36" stop-color="#f37b2f"/><stop offset="0.361" stop-color="#f37a2f"/><stop offset="0.3757" stop-color="#f1692f"/><stop offset="0.38" stop-color="#f0642f"/><stop offset="0.3904" stop-color="#ee5330"/><stop offset="0.4" stop-color="#ed4431"/><stop offset="0.4051" stop-color="#ec3d32"/><stop offset="0.415" stop-color="#ea2b34"/><stop offset="0.4199" stop-color="#e92535"/><stop offset="0.43" stop-color="#e81e36"/><stop offset="0.4346" stop-color="#e81e36"/><stop offset="0.445" stop-color="#e92535"/><stop offset="0.4493" stop-color="#ea2934"/><stop offset="0.46" stop-color="#eb3633"/><stop offset="0.464" stop-color="#ec3c32"/><stop offset="0.4787" stop-color="#ee5030"/><stop offset="0.48" stop-color="#ee5230"/><stop offset="0.4934" stop-color="#f0622f"/><stop offset="0.5" stop-color="#f1662f"/><stop offset="0.5081" stop-color="#f16a2f"/><stop offset="0.5228" stop-color="#f26e2f"/><stop offset="0.535" stop-color="#f2712f"/><stop offset="0.5375" stop-color="#f2722f"/><stop offset="0.5522" stop-color="#f3752f"/><stop offset="0.5669" stop-color="#f37a2f"/><stop offset="0.57" stop-color="#f37c2f"/><stop offset="0.5817" stop-color="#f4822f"/><stop offset="0.585" stop-color="#f4842f"/><stop offset="0.5964" stop-color="#f68c2e"/><stop offset="0.6" stop-color="#f68f2e"/><stop offset="0.6111" stop-color="#f8982c"/><stop offset="0.6125" stop-color="#f8992c"/><stop offset="0.625" stop-color="#fba929"/><stop offset="0.6258" stop-color="#fbab29"/><stop offset="0.6325" stop-color="#fdc123"/><stop offset="0.64" stop-color="#fdd91f"/><stop offset="0.6405" stop-color="#fcda1f"/><stop offset="0.655" stop-color="#f2e830"/><stop offset="0.6552" stop-color="#f1e831"/><stop offset="0.6699" stop-color="#e8e848"/><stop offset="0.67" stop-color="#e8e848"/><stop offset="0.6846" stop-color="#e9ea5b"/><stop offset="0.695" stop-color="#eaec67"/><stop offset="0.6993" stop-color="#ebec6b"/><stop offset="0.714" stop-color="#eced7b"/><stop offset="0.72" stop-color="#edee82"/><stop offset="0.7287" stop-color="#eeee8c"/><stop offset="0.74" stop-color="#f0ef9a"/><stop offset="0.7435" stop-color="#f0ef9e"/><stop offset="0.7582" stop-color="#f3f0b3"/><stop offset="0.76" stop-color="#f3f1b6"/><stop offset="0.763" stop-color="#f4f1bb"/><stop offset="0.7675" stop-color="#f5f2c4"/><stop offset="0.772" stop-color="#f7f4cd"/><stop offset="0.7729" stop-color="#f7f4cf"/><stop offset="0.775" stop-color="#f8f5d4"/><stop offset="0.7765" stop-color="#f9f6d6"/><stop offset="0.781" stop-color="#faf7de"/><stop offset="0.7855" stop-color="#fcfaea"/><stop offset="0.7876" stop-color="#fdfcf1"/><stop offset="0.79" stop-color="#fefdf7"/><stop offset="0.7901" stop-color="#fefdf7"/><stop offset="0.7945" stop-color="#fffffd"/><stop offset="0.799" stop-color="#ffffff"/><stop offset="0.8023" stop-color="#ffffff"/><stop offset="0.8035" stop-color="#ffffff"/><stop offset="0.808" stop-color="#ffffff"/><stop offset="0.8125" stop-color="#ffffff"/><stop offset="0.817" stop-color="#ffffff"/><stop offset="1" stop-color="#ffffff"/></linearGradient>
<linearGradient id="c5" x1="0" y1="0" x2="1" y2="0"><stop offset="0" stop-color="#ffffff"/><stop offset="0.018" stop-color="#ffffff"/><stop offset="0.0225" stop-color="#ffffff"/><stop offset="0.027" stop-color="#ffffff"/><stop offset="0.0315" stop-color="#ffffff"/><stop offset="0.0359" stop-color="#ffffff"/><stop offset="0.036" stop-color="#ffffff"/><stop offset="0.0405" stop-color="#fffffe"/><stop offset="0.0449" stop-color="#fefefa"/><stop offset="0.045" stop-color="#fefefa"/><stop offset="0.0495" stop-color="#fdfcf1"/><stop offset="0.0537" stop-color="#fbf8e2"/><stop offset="0.054" stop-color="#fbf8e2"/><stop offset="0.0585" stop-color="#faf7dc"/><stop offset="0.0625" stop-color="#f9f6d6"/><stop offset="0.063" stop-color="#f8f5d6"/><stop offset="0.0675" stop-color="#f7f4cf"/><stop offset="0.0716" stop-color="#f6f3c9"/><stop offset="0.072" stop-color="#f6f3c9"/><stop offset="0.08" stop-color="#f4f1c0"/><stop offset="0.0894" stop-color="#f4f1ba"/><stop offset="0.1073" stop-color="#f3f0b2"/><stop offset="0.1251" stop-color="#f2f0ac"/><stop offset="0.14" stop-color="#f1efa8"/><stop offset="0.143" stop-color="#f1efa7"/><stop offset="0.1608" stop-color="#f1efa2"/><stop offset="0.1787" stop-color="#f0ef9c"/><stop offset="0.1965" stop-color="#efee94"/><stop offset="0.2" stop-color="#efee92"/><stop offset="0.2144" stop-color="#eeee88"/><stop offset="0.225" stop-color="#edee7f"/><stop offset="0.2323" stop-color="#eced78"/><stop offset="0.25" stop-color="#eaec64"/><stop offset="0.2501" stop-color="#eaeb64"/><stop offset="0.265" stop-color="#e9e952"/><stop offset="0.268" stop-color="#e8e94e"/><stop offset="0.28" stop-color="#ede83a"/><stop offset="0.2858" stop-color="#f3e82d"/><stop offset="0.2875" stop-color="#f4e829"/><stop offset="0.295" stop-color="#fed71e"/><stop offset="0.3025" stop-color="#fcad28"/><stop offset="0.3037" stop-color="#fba62a"/><stop offset="0.31" stop-color="#f8952d"/><stop offset="0.3215" stop-color="#f4822f"/><stop offset="0.33" stop-color="#f3782f"/><stop offset="0.3394" stop-color="#f26f2f"/><stop offset="0.35" stop-color="#f1672f"/><stop offset="0.3572" stop-color="#f0612f"/><stop offset="0.375" stop-color="#ee4d31"/><stop offset="0.3751" stop-color="#ee4d31"/><stop offset="0.3929" stop-color="#ec3d32"/><stop offset="0.4" stop-color="#eb3633"/><stop offset="0.4108" stop-color="#ea2d34"/><stop offset="0.425" stop-color="#e92435"/><stop offset="0.4287" stop-color="#e92235"/><stop offset="0.4465" stop-color="#e81d36"/><stop offset="0.45" stop-color="#e81c36"/><stop offset="0.4644" stop-color="#e81c36"/><stop offset="0.48" stop-color="#e81c36"/><stop offset="0.4822" stop-color="#e81c36"/><stop offset="0.5001" stop-color="#e81c36"/><stop offset="0.51" stop-color="#e81e36"/><stop offset="0.5179" stop-color="#e92535"/><stop offset="0.53" stop-color="#ec3e32"/><stop offset="0.5358" stop-color="#ed4831"/><stop offset="0.55" stop-color="#f05f2f"/><stop offset="0.5536" stop-color="#f0632f"/><stop offset="0.5715" stop-color="#f2702f"/><stop offset="0.575" stop-color="#f2732f"/><stop offset="0.5893" stop-color="#f37c2f"/><stop offset="0.6" stop-color="#f4822f"/><stop offset="0.6072" stop-color="#f5862f"/><stop offset="0.6251" stop-color="#f68d2e"/><stop offset="0.63" stop-color="#f68f2e"/><stop offset="0.6429" stop-color="#f7932d"/><stop offset="0.66" stop-color="#f8972d"/><stop offset="0.6608" stop-color="#f8982c"/><stop offset="0.6786" stop-color="#f99a2c"/><stop offset="0.69" stop-color="#f99c2c"/><stop offset="0.6965" stop-color="#f99c2c"/><stop offset="0.7143" stop-color="#fa9f2b"/><stop offset="0.72" stop-color="#faa02b"/><stop offset="0.7322" stop-color="#fba42a"/><stop offset="0.735" stop-color="#fba52a"/><stop offset="0.75" stop-color="#fcb327"/><stop offset="0.75" stop-color="#fcb327"/><stop offset="0.76" stop-color="#fec522"/><stop offset="0.7679" stop-color="#fed71e"/><stop offset="0.77" stop-color="#fcdb1f"/><stop offset="0.785" stop-color="#f2e82e"/><stop offset="0.7857" stop-color="#f2e82f"/><stop offset="0.8" stop-color="#e8e848"/><stop offset="0.8036" stop-color="#e8e94e"/><stop offset="0.82" stop-color="#eaec69"/><stop offset="0.8215" stop-color="#ebec6b"/><stop offset="0.8393" stop-color="#edee80"/><stop offset="0.84" stop-color="#edee81"/><stop offset="0.8572" stop-color="#eeee8e"/><stop offset="0.87" stop-color="#efee96"/><stop offset="0.875" stop-color="#f0ef99"/><stop offset="0.8929" stop-color="#f1efa1"/><stop offset="0.9" stop-color="#f1efa4"/><stop offset="0.9107" stop-color="#f1efa8"/><stop offset="0.9286" stop-color="#f2f0ae"/><stop offset="0.9464" stop-color="#f3f0b3"/><stop offset="0.95" stop-color="#f3f0b4"/><stop offset="0.9643" stop-color="#f3f1b7"/><stop offset="0.973" stop-color="#f3f1b9"/><stop offset="0.9775" stop-color="#f4f1ba"/><stop offset="0.982" stop-color="#f4f1ba"/><stop offset="0.9821" stop-color="#f4f1ba"/><stop offset="0.9865" stop-color="#f4f1bb"/><stop offset="0.991" stop-color="#f4f1bb"/><stop offset="0.9955" stop-color="#f4f1bb"/><stop offset="1" stop-color="#f4f1bc"/></linearGradient>
<linearGradient id="c6" x1="0" y1="0" x2="1" y2="0"><stop offset="0" stop-color="#f2f0ab"/><stop offset="0.0045" stop-color="#f2f0aa"/><stop offset="0.009" stop-color="#f2f0aa"/><stop offset="0.0135" stop-color="#f2f0aa"/><stop offset="0.018" stop-color="#f2efa9"/><stop offset="0.0182" stop-color="#f2efa9"/><stop offset="0.0225" stop-color="#f2efa9"/><stop offset="0.027" stop-color="#f2efa8"/><stop offset="0.0364" stop-color="#f1efa7"/><stop offset="0.05" stop-color="#f1efa5"/><stop offset="0.0545" stop-color="#f1efa5"/><stop offset="0.0727" stop-color="#f1efa2"/><stop offset="0.0909" stop-color="#f0ef9f"/><stop offset="0.1" stop-color="#f0ef9d"/><stop offset="0.1091" stop-color="#f0ef9b"/><stop offset="0.1273" stop-color="#f0ef98"/><stop offset="0.1455" stop-color="#efee93"/><stop offset="0.15" stop-color="#efee92"/><stop offset="0.1636" stop-color="#eeee8e"/><stop offset="0.1818" stop-color="#eeee88"/><stop offset="0.2" stop-color="#edee81"/><stop offset="0.2" stop-color="#edee81"/><stop offset="0.2182" stop-color="#eced78"/><stop offset="0.23" stop-color="#ebed70"/><stop offset="0.2364" stop-color="#ebec6b"/><stop offset="0.2545" stop-color="#e9ea5a"/><stop offset="0.26" stop-color="#e9e954"/><stop offset="0.2727" stop-color="#eae843"/><stop offset="0.28" stop-color="#eee838"/><stop offset="0.2909" stop-color="#f6e825"/><stop offset="0.3" stop-color="#fdd91f"/><stop offset="0.3091" stop-color="#fdbd24"/><stop offset="0.31" stop-color="#fdba24"/><stop offset="0.32" stop-color="#faa22b"/><stop offset="0.3273" stop-color="#f99b2c"/><stop offset="0.3455" stop-color="#f7912e"/><stop offset="0.35" stop-color="#f6902e"/><stop offset="0.3636" stop-color="#f58a2f"/><stop offset="0.38" stop-color="#f4822f"/><stop offset="0.3818" stop-color="#f4812f"/><stop offset="0.4" stop-color="#f2732f"/><stop offset="0.41" stop-color="#f16b2f"/><stop offset="0.4182" stop-color="#f1652f"/><stop offset="0.4364" stop-color="#ee5330"/><stop offset="0.44" stop-color="#ee4f30"/><stop offset="0.4545" stop-color="#ec4032"/><stop offset="0.465" stop-color="#eb3133"/><stop offset="0.4727" stop-color="#e92835"/><stop offset="0.49" stop-color="#e81d36"/><stop offset="0.4909" stop-color="#e81d36"/><stop offset="0.505" stop-color="#e81c36"/><stop offset="0.5091" stop-color="#e81c36"/><stop offset="0.52" stop-color="#e81e36"/><stop offset="0.5273" stop-color="#e92635"/><stop offset="0.54" stop-color="#ed4332"/><stop offset="0.5455" stop-color="#ee4f31"/><stop offset="0.56" stop-color="#f1662f"/><stop offset="0.5636" stop-color="#f1692f"/><stop offset="0.58" stop-color="#f3752f"/><stop offset="0.5818" stop-color="#f3762f"/><stop offset="0.6" stop-color="#f4822f"/><stop offset="0.615" stop-color="#f68e2e"/><stop offset="0.6182" stop-color="#f7912e"/><stop offset="0.63" stop-color="#f99a2c"/><stop offset="0.6364" stop-color="#faa02b"/><stop offset="0.6425" stop-color="#fba52a"/><stop offset="0.6545" stop-color="#fdbc24"/><stop offset="0.655" stop-color="#fdbd24"/><stop offset="0.6625" stop-color="#ffcf1f"/><stop offset="0.67" stop-color="#fbdf1f"/><stop offset="0.6727" stop-color="#f9e420"/><stop offset="0.685" stop-color="#f1e831"/><stop offset="0.6909" stop-color="#eee83a"/><stop offset="0.7" stop-color="#eae843"/><stop offset="0.7091" stop-color="#e8e849"/><stop offset="0.7273" stop-color="#e9e951"/><stop offset="0.7455" stop-color="#e9ea56"/><stop offset="0.75" stop-color="#e9ea57"/><stop offset="0.7636" stop-color="#e9ea5b"/><stop offset="0.7818" stop-color="#eaeb5f"/><stop offset="0.8" stop-color="#eaec64"/><stop offset="0.8" stop-color="#eaec64"/><stop offset="0.8182" stop-color="#ebec6a"/><stop offset="0.8364" stop-color="#ebed70"/><stop offset="0.85" stop-color="#ebed73"/><stop offset="0.8545" stop-color="#eced75"/><stop offset="0.8727" stop-color="#eced7a"/><stop offset="0.8909" stop-color="#edee7f"/><stop offset="0.9" stop-color="#edee81"/><stop offset="0.9091" stop-color="#edee84"/><stop offset="0.9273" stop-color="#eeee89"/><stop offset="0.9455" stop-color="#eeee8e"/><stop offset="0.95" stop-color="#efee8f"/><stop offset="0.9636" stop-color="#efee93"/><stop offset="0.973" stop-color="#efee96"/><stop offset="0.9775" stop-color="#efee97"/><stop offset="0.9818" stop-color="#f0ef98"/><stop offset="0.982" stop-color="#f0ef98"/><stop offset="0.9865" stop-color="#f0ef99"/><stop offset="0.991" stop-color="#f0ef9b"/><stop offset="0.9955" stop-color="#f0ef9c"/><stop offset="1" stop-color="#f0ef9c"/></linearGradient>
<linearGradient id="c7" x1="0" y1="0" x2="1" y2="0"><stop offset="0" stop-color="#ebed6f"/><stop offset="0.0045" stop-color="#ebed6e"/><stop offset="0.009" stop-color="#ebed6c"/><stop offset="0.0135" stop-color="#ebec6a"/><stop offset="0.018" stop-color="#eaec69"/><stop offset="0.0182" stop-color="#eaec68"/><stop offset="0.0225" stop-color="#eaec67"/><stop offset="0.025" stop-color="#eaec66"/><stop offset="0.027" stop-color="#eaec65"/><stop offset="0.0364" stop-color="#eaeb61"/><stop offset="0.05" stop-color="#eaeb5c"/><stop offset="0.0545" stop-color="#e9ea5a"/><stop offset="0.0727" stop-color="#e9ea55"/><stop offset="0.085" stop-color="#e9e951"/><stop offset="0.0909" stop-color="#e9e94f"/><stop offset="0.1091" stop-color="#e8e849"/><stop offset="0.12" stop-color="#eae844"/><stop offset="0.1273" stop-color="#ebe840"/><stop offset="0.145" stop-color="#f0e834"/><stop offset="0.1455" stop-color="#f0e834"/><stop offset="0.1636" stop-color="#f6e825"/><stop offset="0.17" stop-color="#f8e820"/><stop offset="0.1818" stop-color="#fcdb1f"/><stop offset="0.185" stop-color="#fdd71e"/><stop offset="0.2" stop-color="#fec821"/><stop offset="0.2" stop-color="#fec821"/><stop offset="0.2182" stop-color="#fdbe23"/><stop offset="0.2364" stop-color="#fdb825"/><stop offset="0.25" stop-color="#fcb426"/><stop offset="0.2545" stop-color="#fcb327"/><stop offset="0.2727" stop-color="#fcae28"/><stop offset="0.2909" stop-color="#fba929"/><stop offset="0.3" stop-color="#fba62a"/><stop offset="0.3091" stop-color="#fba42a"/><stop offset="0.3273" stop-color="#faa12b"/><stop offset="0.3455" stop-color="#f99d2c"/><stop offset="0.35" stop-color="#f99c2c"/><stop offset="0.3636" stop-color="#f8992c"/><stop offset="0.3818" stop-color="#f7942d"/><stop offset="0.4" stop-color="#f68f2e"/><stop offset="0.4" stop-color="#f68f2e"/><stop offset="0.4182" stop-color="#f5862f"/><stop offset="0.43" stop-color="#f47d2f"/><stop offset="0.4364" stop-color="#f3792f"/><stop offset="0.4545" stop-color="#f16b2f"/><stop offset="0.46" stop-color="#f1672f"/><stop offset="0.4727" stop-color="#ef5a30"/><stop offset="0.49" stop-color="#ec4132"/><stop offset="0.4909" stop-color="#ec4032"/><stop offset="0.5091" stop-color="#e92435"/><stop offset="0.52" stop-color="#e81d36"/><stop offset="0.5273" stop-color="#e81c36"/><stop offset="0.535" stop-color="#e81c36"/><stop offset="0.5455" stop-color="#e81c36"/><stop offset="0.55" stop-color="#e81e36"/><stop offset="0.5636" stop-color="#ea2f34"/><stop offset="0.57" stop-color="#ec3e32"/><stop offset="0.5818" stop-color="#ee5330"/><stop offset="0.59" stop-color="#f05f2f"/><stop offset="0.6" stop-color="#f1672f"/><stop offset="0.615" stop-color="#f2722f"/><stop offset="0.6182" stop-color="#f3752f"/><stop offset="0.6364" stop-color="#f4802f"/><stop offset="0.64" stop-color="#f4822f"/><stop offset="0.6545" stop-color="#f58a2f"/><stop offset="0.67" stop-color="#f7902e"/><stop offset="0.6727" stop-color="#f7912e"/><stop offset="0.6909" stop-color="#f8982c"/><stop offset="0.7" stop-color="#f99a2c"/><stop offset="0.7091" stop-color="#f99d2c"/><stop offset="0.7273" stop-color="#faa12b"/><stop offset="0.7455" stop-color="#fba42a"/><stop offset="0.75" stop-color="#fba52a"/><stop offset="0.7636" stop-color="#fba829"/><stop offset="0.7818" stop-color="#fcad28"/><stop offset="0.8" stop-color="#fcb127"/><stop offset="0.8" stop-color="#fcb127"/><stop offset="0.8182" stop-color="#fcb426"/><stop offset="0.8364" stop-color="#fcb626"/><stop offset="0.84" stop-color="#fcb626"/><stop offset="0.8545" stop-color="#fdb825"/><stop offset="0.8727" stop-color="#fdba24"/><stop offset="0.88" stop-color="#fdbc24"/><stop offset="0.8909" stop-color="#fdc123"/><stop offset="0.8975" stop-color="#fec522"/><stop offset="0.9091" stop-color="#ffcd1f"/><stop offset="0.915" stop-color="#ffd31e"/><stop offset="0.925" stop-color="#fcdc1f"/><stop offset="0.9273" stop-color="#fbdf1f"/><stop offset="0.935" stop-color="#f8e820"/><stop offset="0.9455" stop-color="#f3e82e"/><stop offset="0.9475" stop-color="#f1e830"/><stop offset="0.96" stop-color="#ebe83f"/><stop offset="0.9636" stop-color="#eae843"/><stop offset="0.973" stop-color="#e8e84b"/><stop offset="0.9775" stop-color="#e9e94f"/><stop offset="0.98" stop-color="#e9e951"/><stop offset="0.9818" stop-color="#e9e952"/><stop offset="0.982" stop-color="#e9e952"/><stop offset="0.9865" stop-color="#e9ea55"/><stop offset="0.991" stop-color="#e9ea58"/><stop offset="0.9955" stop-color="#e9ea5a"/><stop offset="1" stop-color="#e9ea5b"/></linearGradient>
<linearGradient id="c8" x1="0" y1="0" x2="1" y2="0"><stop offset="0" stop-color="#ffffff"/><stop offset="0.158" stop-color="#ffffff"/><stop offset="0.1625" stop-color="#ffffff"/><stop offset="0.167" stop-color="#ffffff"/><stop offset="0.1715" stop-color="#ffffff"/><stop offset="0.1733" stop-color="#ffffff"/><stop offset="0.176" stop-color="#ffffff"/><stop offset="0.1805" stop-color="#fffffd"/><stop offset="0.1849" stop-color="#fefef9"/><stop offset="0.185" stop-color="#fefef9"/><stop offset="0.1886" stop-color="#fdfcf1"/><stop offset="0.1895" stop-color="#fdfbee"/><stop offset="0.194" stop-color="#fbf8e0"/><stop offset="0.1985" stop-color="#f9f6da"/><stop offset="0.2025" stop-color="#f8f5d3"/><stop offset="0.203" stop-color="#f8f5d2"/><stop offset="0.2039" stop-color="#f7f4d1"/><stop offset="0.2075" stop-color="#f6f3ca"/><stop offset="0.212" stop-color="#f5f2c2"/><stop offset="0.2192" stop-color="#f3f1b7"/><stop offset="0.22" stop-color="#f3f1b6"/><stop offset="0.2345" stop-color="#f1efa7"/><stop offset="0.2499" stop-color="#f0ef99"/><stop offset="0.25" stop-color="#f0ef99"/><stop offset="0.2652" stop-color="#eeee8d"/><stop offset="0.28" stop-color="#edee81"/><stop offset="0.2805" stop-color="#edee81"/><stop offset="0.2958" stop-color="#ebed74"/><stop offset="0.305" stop-color="#ebed6c"/><stop offset="0.3111" stop-color="#eaec66"/><stop offset="0.3264" stop-color="#e9ea58"/><stop offset="0.33" stop-color="#e9ea54"/><stop offset="0.3417" stop-color="#e8e849"/><stop offset="0.345" stop-color="#e9e845"/><stop offset="0.357" stop-color="#efe837"/><stop offset="0.36" stop-color="#f1e832"/><stop offset="0.3675" stop-color="#f6e824"/><stop offset="0.3723" stop-color="#fae11f"/><stop offset="0.375" stop-color="#fcdb1f"/><stop offset="0.3875" stop-color="#fdb925"/><stop offset="0.3876" stop-color="#fdb925"/><stop offset="0.4" stop-color="#faa12b"/><stop offset="0.4029" stop-color="#f99e2b"/><stop offset="0.4183" stop-color="#f7942d"/><stop offset="0.425" stop-color="#f6902e"/><stop offset="0.4336" stop-color="#f68c2f"/><stop offset="0.4489" stop-color="#f4832f"/><stop offset="0.45" stop-color="#f4822f"/><stop offset="0.4642" stop-color="#f3782f"/><stop offset="0.475" stop-color="#f2712f"/><stop offset="0.4795" stop-color="#f26e2f"/><stop offset="0.4948" stop-color="#f0642f"/><stop offset="0.5" stop-color="#f0602f"/><stop offset="0.5101" stop-color="#ef5330"/><stop offset="0.52" stop-color="#ed4731"/><stop offset="0.5254" stop-color="#ec4032"/><stop offset="0.54" stop-color="#ea2e34"/><stop offset="0.5407" stop-color="#ea2d34"/><stop offset="0.555" stop-color="#e92235"/><stop offset="0.556" stop-color="#e92135"/><stop offset="0.57" stop-color="#e81e36"/><stop offset="0.5713" stop-color="#e81e36"/><stop offset="0.585" stop-color="#ea2c34"/><stop offset="0.5867" stop-color="#ea2f34"/><stop offset="0.6" stop-color="#ed4431"/><stop offset="0.602" stop-color="#ed4631"/><stop offset="0.6173" stop-color="#ef5b2f"/><stop offset="0.62" stop-color="#f05f2f"/><stop offset="0.6326" stop-color="#f16b2f"/><stop offset="0.64" stop-color="#f2712f"/><stop offset="0.6479" stop-color="#f3772f"/><stop offset="0.6632" stop-color="#f4812f"/><stop offset="0.665" stop-color="#f4822f"/><stop offset="0.6785" stop-color="#f58b2f"/><stop offset="0.69" stop-color="#f7922d"/><stop offset="0.6938" stop-color="#f7942d"/><stop offset="0.7075" stop-color="#f99e2b"/><stop offset="0.7091" stop-color="#fa9f2b"/><stop offset="0.7244" stop-color="#fcb127"/><stop offset="0.725" stop-color="#fcb227"/><stop offset="0.735" stop-color="#fec621"/><stop offset="0.7397" stop-color="#ffd11e"/><stop offset="0.745" stop-color="#fcdb1f"/><stop offset="0.7551" stop-color="#f5e827"/><stop offset="0.7575" stop-color="#f3e82c"/><stop offset="0.77" stop-color="#ece83f"/><stop offset="0.7704" stop-color="#ebe83f"/><stop offset="0.7857" stop-color="#e8e94d"/><stop offset="0.801" stop-color="#e9ea57"/><stop offset="0.81" stop-color="#e9ea5c"/><stop offset="0.8163" stop-color="#eaeb5f"/><stop offset="0.8316" stop-color="#eaec66"/><stop offset="0.8469" stop-color="#ebed6e"/><stop offset="0.85" stop-color="#ebed70"/><stop offset="0.8622" stop-color="#eced76"/><stop offset="0.8775" stop-color="#edee7e"/><stop offset="0.885" stop-color="#edee82"/><stop offset="0.8928" stop-color="#edee86"/><stop offset="0.9081" stop-color="#eeee8d"/><stop offset="0.92" stop-color="#efee93"/><stop offset="0.9235" stop-color="#efee94"/><stop offset="0.9388" stop-color="#f0ef9b"/><stop offset="0.9541" stop-color="#f1efa2"/><stop offset="0.96" stop-color="#f1efa5"/><stop offset="0.9694" stop-color="#f2efa9"/><stop offset="0.973" stop-color="#f2f0aa"/><stop offset="0.9775" stop-color="#f2f0ac"/><stop offset="0.982" stop-color="#f2f0ae"/><stop offset="0.9847" stop-color="#f2f0af"/><stop offset="0.9865" stop-color="#f2f0b0"/><stop offset="0.991" stop-color="#f3f0b1"/><stop offset="0.9955" stop-color="#f3f0b3"/><stop offset="1" stop-color="#f3f0b4"/></linearGradient>
<linearGradient id="c9" x1="0" y1="0" x2="1" y2="0"><stop offset="0" stop-color="#efee92"/><stop offset="0.0045" stop-color="#efee90"/><stop offset="0.009" stop-color="#eeee8e"/><stop offset="0.0135" stop-color="#eeee8c"/><stop offset="0.018" stop-color="#eeee8a"/><stop offset="0.0182" stop-color="#eeee8a"/><stop offset="0.0225" stop-color="#eeee88"/><stop offset="0.025" stop-color="#eeee87"/><stop offset="0.027" stop-color="#edee86"/><stop offset="0.0364" stop-color="#edee81"/><stop offset="0.05" stop-color="#eced7a"/><stop offset="0.0545" stop-color="#eced78"/><stop offset="0.0727" stop-color="#ebed6f"/><stop offset="0.085" stop-color="#eaec68"/><stop offset="0.0909" stop-color="#eaec65"/><stop offset="0.1091" stop-color="#e9ea5a"/><stop offset="0.12" stop-color="#e9e954"/><stop offset="0.1273" stop-color="#e9e950"/><stop offset="0.145" stop-color="#e9e845"/><stop offset="0.1455" stop-color="#e9e844"/><stop offset="0.1636" stop-color="#eee838"/><stop offset="0.17" stop-color="#f0e834"/><stop offset="0.1818" stop-color="#f4e82a"/><stop offset="0.185" stop-color="#f5e828"/><stop offset="0.2" stop-color="#f9e420"/><stop offset="0.2" stop-color="#f9e420"/><stop offset="0.2182" stop-color="#fdd71e"/><stop offset="0.225" stop-color="#ffd31e"/><stop offset="0.2364" stop-color="#fecb20"/><stop offset="0.25" stop-color="#fec222"/><stop offset="0.2545" stop-color="#fdbf23"/><stop offset="0.2727" stop-color="#fcb426"/><stop offset="0.285" stop-color="#fcad28"/><stop offset="0.2909" stop-color="#fbaa29"/><stop offset="0.3091" stop-color="#faa32a"/><stop offset="0.32" stop-color="#faa02b"/><stop offset="0.3273" stop-color="#f99e2b"/><stop offset="0.3455" stop-color="#f8992c"/><stop offset="0.36" stop-color="#f8952d"/><stop offset="0.3636" stop-color="#f7942d"/><stop offset="0.3818" stop-color="#f68f2e"/><stop offset="0.4" stop-color="#f5892f"/><stop offset="0.4" stop-color="#f5892f"/><stop offset="0.4182" stop-color="#f4812f"/><stop offset="0.435" stop-color="#f3792f"/><stop offset="0.4364" stop-color="#f3782f"/><stop offset="0.4545" stop-color="#f26f2f"/><stop offset="0.47" stop-color="#f1672f"/><stop offset="0.4727" stop-color="#f1652f"/><stop offset="0.4909" stop-color="#ef5830"/><stop offset="0.5" stop-color="#ee5030"/><stop offset="0.5091" stop-color="#ed4831"/><stop offset="0.5273" stop-color="#eb3833"/><stop offset="0.53" stop-color="#eb3633"/><stop offset="0.5455" stop-color="#e92835"/><stop offset="0.55" stop-color="#e92535"/><stop offset="0.5636" stop-color="#e81e36"/><stop offset="0.57" stop-color="#e81c36"/><stop offset="0.5818" stop-color="#e81c36"/><stop offset="0.585" stop-color="#e81c36"/><stop offset="0.6" stop-color="#e81d36"/><stop offset="0.6182" stop-color="#ea3134"/><stop offset="0.625" stop-color="#ec3e32"/><stop offset="0.6364" stop-color="#ee4e31"/><stop offset="0.65" stop-color="#f05f2f"/><stop offset="0.6545" stop-color="#f0622f"/><stop offset="0.6727" stop-color="#f16c2f"/><stop offset="0.685" stop-color="#f2722f"/><stop offset="0.6909" stop-color="#f3752f"/><stop offset="0.7091" stop-color="#f47d2f"/><stop offset="0.72" stop-color="#f4822f"/><stop offset="0.7273" stop-color="#f5852f"/><stop offset="0.7455" stop-color="#f68d2e"/><stop offset="0.76" stop-color="#f7922d"/><stop offset="0.7636" stop-color="#f7932d"/><stop offset="0.7818" stop-color="#f89a2c"/><stop offset="0.8" stop-color="#faa02b"/><stop offset="0.8" stop-color="#faa02b"/><stop offset="0.8182" stop-color="#fba62a"/><stop offset="0.83" stop-color="#fcad28"/><stop offset="0.8364" stop-color="#fcb127"/><stop offset="0.8545" stop-color="#fdbd24"/><stop offset="0.86" stop-color="#fec222"/><stop offset="0.8727" stop-color="#ffce1f"/><stop offset="0.8775" stop-color="#ffd31e"/><stop offset="0.8909" stop-color="#fbe01f"/><stop offset="0.895" stop-color="#f9e420"/><stop offset="0.9091" stop-color="#f4e82a"/><stop offset="0.9125" stop-color="#f2e82e"/><stop offset="0.9273" stop-color="#ece83d"/><stop offset="0.93" stop-color="#ebe840"/><stop offset="0.9455" stop-color="#e8e94e"/><stop offset="0.95" stop-color="#e9e952"/><stop offset="0.9636" stop-color="#eaeb5e"/><stop offset="0.97" stop-color="#eaec64"/><stop offset="0.973" stop-color="#eaec67"/><stop offset="0.9775" stop-color="#ebec6c"/><stop offset="0.9818" stop-color="#ebed70"/><stop offset="0.982" stop-color="#ebed70"/><stop offset="0.985" stop-color="#ebed73"/><stop offset="0.9865" stop-color="#eced74"/><stop offset="0.991" stop-color="#eced78"/><stop offset="0.9955" stop-color="#eced7c"/><stop offset="1" stop-color="#edee7f"/></linearGradient>
<linearGradient id="c10" x1="0" y1="0" x2="1" y2="0"><stop offset="0" stop-color="#efee93"/><stop offset="0.0045" stop-color="#efee94"/><stop offset="0.009" stop-color="#efee95"/><stop offset="0.0135" stop-color="#efee96"/><stop offset="0.0176" stop-color="#efee97"/><stop offset="0.018" stop-color="#efee97"/><stop offset="0.0225" stop-color="#f0ef98"/><stop offset="0.025" stop-color="#f0ef98"/><stop offset="0.027" stop-color="#f0ef99"/><stop offset="0.0352" stop-color="#f0ef9a"/><stop offset="0.05" stop-color="#f0ef9d"/><stop offset="0.0527" stop-color="#f0ef9e"/><stop offset="0.0703" stop-color="#f1efa1"/><stop offset="0.0879" stop-color="#f1efa4"/><stop offset="0.1" stop-color="#f1efa6"/><stop offset="0.1055" stop-color="#f1efa7"/><stop offset="0.1231" stop-color="#f2efa9"/><stop offset="0.1407" stop-color="#f2f0ab"/><stop offset="0.15" stop-color="#f2f0ab"/><stop offset="0.1582" stop-color="#f2f0aa"/><stop offset="0.1758" stop-color="#f1efa6"/><stop offset="0.185" stop-color="#f1efa3"/><stop offset="0.1934" stop-color="#f0ef9f"/><stop offset="0.211" stop-color="#f0ef97"/><stop offset="0.22" stop-color="#efee93"/><stop offset="0.2286" stop-color="#eeee8e"/><stop offset="0.2461" stop-color="#edee82"/><stop offset="0.25" stop-color="#edee7f"/><stop offset="0.2637" stop-color="#ebed73"/><stop offset="0.28" stop-color="#eaec64"/><stop offset="0.2813" stop-color="#eaeb63"/><stop offset="0.2989" stop-color="#e9e953"/><stop offset="0.3" stop-color="#e9e952"/><stop offset="0.3165" stop-color="#ebe840"/><stop offset="0.32" stop-color="#ede83b"/><stop offset="0.33" stop-color="#f4e82a"/><stop offset="0.3341" stop-color="#f7e823"/><stop offset="0.34" stop-color="#fbe01f"/><stop offset="0.3516" stop-color="#ffcd1f"/><stop offset="0.355" stop-color="#fec721"/><stop offset="0.3692" stop-color="#fcb227"/><stop offset="0.37" stop-color="#fcb127"/><stop offset="0.3868" stop-color="#faa22b"/><stop offset="0.395" stop-color="#f99d2b"/><stop offset="0.4044" stop-color="#f8992c"/><stop offset="0.42" stop-color="#f7922d"/><stop offset="0.422" stop-color="#f7912e"/><stop offset="0.4395" stop-color="#f58a2f"/><stop offset="0.4571" stop-color="#f4832f"/><stop offset="0.46" stop-color="#f4822f"/><stop offset="0.4747" stop-color="#f37d2f"/><stop offset="0.4923" stop-color="#f3752f"/><stop offset="0.5" stop-color="#f2712f"/><stop offset="0.5099" stop-color="#f16b2f"/><stop offset="0.5275" stop-color="#f05c2f"/><stop offset="0.53" stop-color="#ef5930"/><stop offset="0.545" stop-color="#ed4731"/><stop offset="0.56" stop-color="#eb3633"/><stop offset="0.5626" stop-color="#eb3333"/><stop offset="0.575" stop-color="#e92535"/><stop offset="0.5802" stop-color="#e92135"/><stop offset="0.59" stop-color="#e81d36"/><stop offset="0.5978" stop-color="#e81c36"/><stop offset="0.605" stop-color="#e81c36"/><stop offset="0.6154" stop-color="#e81c36"/><stop offset="0.62" stop-color="#e81e36"/><stop offset="0.6329" stop-color="#ea2e34"/><stop offset="0.64" stop-color="#ec3e32"/><stop offset="0.6505" stop-color="#ee5030"/><stop offset="0.66" stop-color="#f05f2f"/><stop offset="0.6681" stop-color="#f1662f"/><stop offset="0.685" stop-color="#f2712f"/><stop offset="0.6857" stop-color="#f2712f"/><stop offset="0.7033" stop-color="#f47d2f"/><stop offset="0.71" stop-color="#f4822f"/><stop offset="0.7209" stop-color="#f58b2f"/><stop offset="0.7275" stop-color="#f6902e"/><stop offset="0.7384" stop-color="#f89a2c"/><stop offset="0.745" stop-color="#faa12b"/><stop offset="0.755" stop-color="#fdbb24"/><stop offset="0.756" stop-color="#fdbe23"/><stop offset="0.765" stop-color="#fcda1f"/><stop offset="0.7736" stop-color="#f5e827"/><stop offset="0.7775" stop-color="#f2e82f"/><stop offset="0.79" stop-color="#e8e848"/><stop offset="0.7912" stop-color="#e8e84a"/><stop offset="0.8088" stop-color="#eaec67"/><stop offset="0.81" stop-color="#eaec68"/><stop offset="0.8263" stop-color="#edee7d"/><stop offset="0.83" stop-color="#edee81"/><stop offset="0.8439" stop-color="#efee8f"/><stop offset="0.855" stop-color="#f0ef99"/><stop offset="0.8615" stop-color="#f0ef9f"/><stop offset="0.8791" stop-color="#f2f0ad"/><stop offset="0.88" stop-color="#f2f0ae"/><stop offset="0.8967" stop-color="#f4f1ba"/><stop offset="0.9" stop-color="#f4f1bd"/><stop offset="0.913" stop-color="#f5f2c7"/><stop offset="0.9143" stop-color="#f5f2c8"/><stop offset="0.9175" stop-color="#f6f3cb"/><stop offset="0.92" stop-color="#f7f4ce"/><stop offset="0.922" stop-color="#f7f4d1"/><stop offset="0.9265" stop-color="#f9f6d7"/><stop offset="0.93" stop-color="#faf7dd"/><stop offset="0.931" stop-color="#faf7de"/><stop offset="0.9318" stop-color="#faf7df"/><stop offset="0.9355" stop-color="#fcfae8"/><stop offset="0.94" stop-color="#fefdf6"/><stop offset="0.9401" stop-color="#fefdf7"/><stop offset="0.9445" stop-color="#fffefd"/><stop offset="0.949" stop-color="#ffffff"/><stop offset="0.9494" stop-color="#ffffff"/><stop offset="0.9535" stop-color="#ffffff"/><stop offset="0.958" stop-color="#ffffff"/><stop offset="0.9625" stop-color="#ffffff"/><stop offset="0.967" stop-color="#ffffff"/><stop offset="1" stop-color="#ffffff"/></linearGradient>
<linearGradient id="c11" x1="0" y1="0" x2="1" y2="0"><stop offset="0" stop-color="#f0ef9c"/><stop offset="0.0045" stop-color="#f0ef9a"/><stop offset="0.009" stop-color="#f0ef97"/><stop offset="0.0135" stop-color="#efee94"/><stop offset="0.018" stop-color="#efee92"/><stop offset="0.0182" stop-color="#efee92"/><stop offset="0.0225" stop-color="#efee8f"/><stop offset="0.025" stop-color="#eeee8e"/><stop offset="0.027" stop-color="#eeee8d"/><stop offset="0.0364" stop-color="#eeee88"/><stop offset="0.05" stop-color="#edee81"/><stop offset="0.0545" stop-color="#edee80"/><stop offset="0.0727" stop-color="#eced79"/><stop offset="0.0909" stop-color="#ebed74"/><stop offset="0.1" stop-color="#ebed71"/><stop offset="0.1091" stop-color="#ebed6f"/><stop offset="0.1273" stop-color="#ebec69"/><stop offset="0.1455" stop-color="#eaec65"/><stop offset="0.15" stop-color="#eaec64"/><stop offset="0.1636" stop-color="#eaeb61"/><stop offset="0.1818" stop-color="#eaeb5e"/><stop offset="0.2" stop-color="#eaeb5c"/><stop offset="0.21" stop-color="#e9ea5b"/><stop offset="0.2182" stop-color="#e9ea5a"/><stop offset="0.2364" stop-color="#e9ea57"/><stop offset="0.2545" stop-color="#e9e954"/><stop offset="0.27" stop-color="#e9e950"/><stop offset="0.2727" stop-color="#e9e94f"/><stop offset="0.2909" stop-color="#e8e847"/><stop offset="0.295" stop-color="#e9e845"/><stop offset="0.3091" stop-color="#ede83c"/><stop offset="0.32" stop-color="#f0e833"/><stop offset="0.3273" stop-color="#f3e82c"/><stop offset="0.3325" stop-color="#f5e826"/><stop offset="0.345" stop-color="#fbe01f"/><stop offset="0.3455" stop-color="#fbdf1f"/><stop offset="0.3625" stop-color="#ffce1f"/><stop offset="0.3636" stop-color="#ffcd1f"/><stop offset="0.38" stop-color="#fdbc24"/><stop offset="0.3818" stop-color="#fdba24"/><stop offset="0.4" stop-color="#fba929"/><stop offset="0.405" stop-color="#fba62a"/><stop offset="0.4182" stop-color="#faa02b"/><stop offset="0.43" stop-color="#f99a2c"/><stop offset="0.4364" stop-color="#f8982c"/><stop offset="0.4545" stop-color="#f7902e"/><stop offset="0.465" stop-color="#f68c2e"/><stop offset="0.4727" stop-color="#f5892f"/><stop offset="0.4909" stop-color="#f4802f"/><stop offset="0.5" stop-color="#f37b2f"/><stop offset="0.5091" stop-color="#f3762f"/><stop offset="0.5273" stop-color="#f16a2f"/><stop offset="0.53" stop-color="#f1682f"/><stop offset="0.5455" stop-color="#f05d2f"/><stop offset="0.56" stop-color="#ee4f31"/><stop offset="0.5636" stop-color="#ee4b31"/><stop offset="0.5818" stop-color="#eb3633"/><stop offset="0.585" stop-color="#eb3233"/><stop offset="0.6" stop-color="#e92135"/><stop offset="0.61" stop-color="#e81d36"/><stop offset="0.6182" stop-color="#e81c36"/><stop offset="0.625" stop-color="#e81c36"/><stop offset="0.6364" stop-color="#e81d36"/><stop offset="0.64" stop-color="#e81e36"/><stop offset="0.6545" stop-color="#eb3333"/><stop offset="0.66" stop-color="#ec3f32"/><stop offset="0.6727" stop-color="#ef5530"/><stop offset="0.68" stop-color="#f05f2f"/><stop offset="0.6909" stop-color="#f1652f"/><stop offset="0.7091" stop-color="#f26d2f"/><stop offset="0.715" stop-color="#f26f2f"/><stop offset="0.7273" stop-color="#f2732f"/><stop offset="0.7455" stop-color="#f37a2f"/><stop offset="0.75" stop-color="#f37b2f"/><stop offset="0.7636" stop-color="#f4812f"/><stop offset="0.775" stop-color="#f4852f"/><stop offset="0.7818" stop-color="#f5882f"/><stop offset="0.8" stop-color="#f68f2e"/><stop offset="0.8" stop-color="#f68f2e"/><stop offset="0.8182" stop-color="#f8982c"/><stop offset="0.82" stop-color="#f8992c"/><stop offset="0.8364" stop-color="#faa42a"/><stop offset="0.84" stop-color="#fba62a"/><stop offset="0.8545" stop-color="#fdbf23"/><stop offset="0.855" stop-color="#fdbf23"/><stop offset="0.87" stop-color="#fcdb1f"/><stop offset="0.8727" stop-color="#fae01f"/><stop offset="0.885" stop-color="#f2e82f"/><stop offset="0.8909" stop-color="#eee83a"/><stop offset="0.9" stop-color="#e8e847"/><stop offset="0.9091" stop-color="#e9e951"/><stop offset="0.925" stop-color="#eaeb5e"/><stop offset="0.9273" stop-color="#eaeb60"/><stop offset="0.9455" stop-color="#ebed6d"/><stop offset="0.95" stop-color="#ebed70"/><stop offset="0.9636" stop-color="#eced79"/><stop offset="0.973" stop-color="#edee80"/><stop offset="0.975" stop-color="#edee81"/><stop offset="0.9775" stop-color="#edee83"/><stop offset="0.9818" stop-color="#eeee86"/><stop offset="0.982" stop-color="#eeee86"/><stop offset="0.9865" stop-color="#eeee89"/><stop offset="0.991" stop-color="#eeee8c"/><stop offset="0.9955" stop-color="#efee8f"/><stop offset="1" stop-color="#efee91"/></linearGradient>
<linearGradient id="c12" x1="0" y1="0" x2="1" y2="0"><stop offset="0" stop-color="#f1efa3"/><stop offset="0.0045" stop-color="#f1efa1"/><stop offset="0.009" stop-color="#f0ef9e"/><stop offset="0.0135" stop-color="#f0ef9c"/><stop offset="0.018" stop-color="#f0ef99"/><stop offset="0.0182" stop-color="#f0ef99"/><stop offset="0.0225" stop-color="#efee96"/><stop offset="0.025" stop-color="#efee95"/><stop offset="0.027" stop-color="#efee94"/><stop offset="0.0364" stop-color="#efee8f"/><stop offset="0.05" stop-color="#eeee88"/><stop offset="0.0545" stop-color="#eeee86"/><stop offset="0.0727" stop-color="#edee7f"/><stop offset="0.0909" stop-color="#eced77"/><stop offset="0.1" stop-color="#ebed74"/><stop offset="0.1091" stop-color="#ebed71"/><stop offset="0.1273" stop-color="#ebec6b"/><stop offset="0.1455" stop-color="#eaec65"/><stop offset="0.15" stop-color="#eaec64"/><stop offset="0.1636" stop-color="#eaeb61"/><stop offset="0.1818" stop-color="#eaeb5e"/><stop offset="0.2" stop-color="#e9ea5b"/><stop offset="0.2182" stop-color="#e9ea59"/><stop offset="0.225" stop-color="#e9ea58"/><stop offset="0.2364" stop-color="#e9ea57"/><stop offset="0.2545" stop-color="#e9ea54"/><stop offset="0.2727" stop-color="#e9e952"/><stop offset="0.2909" stop-color="#e8e94e"/><stop offset="0.3" stop-color="#e8e84c"/><stop offset="0.3091" stop-color="#e8e849"/><stop offset="0.3273" stop-color="#eae843"/><stop offset="0.33" stop-color="#eae842"/><stop offset="0.3455" stop-color="#ede83b"/><stop offset="0.36" stop-color="#f0e834"/><stop offset="0.3636" stop-color="#f1e832"/><stop offset="0.3775" stop-color="#f5e828"/><stop offset="0.3818" stop-color="#f6e824"/><stop offset="0.395" stop-color="#fbde1f"/><stop offset="0.4" stop-color="#fdd71e"/><stop offset="0.4075" stop-color="#feca20"/><stop offset="0.4182" stop-color="#fcb526"/><stop offset="0.42" stop-color="#fcb227"/><stop offset="0.4364" stop-color="#faa12b"/><stop offset="0.445" stop-color="#f99c2c"/><stop offset="0.4545" stop-color="#f8972d"/><stop offset="0.47" stop-color="#f68f2e"/><stop offset="0.4727" stop-color="#f68d2e"/><stop offset="0.4909" stop-color="#f4842f"/><stop offset="0.5" stop-color="#f47f2f"/><stop offset="0.5091" stop-color="#f37a2f"/><stop offset="0.5273" stop-color="#f26f2f"/><stop offset="0.53" stop-color="#f26e2f"/><stop offset="0.5455" stop-color="#f0632f"/><stop offset="0.555" stop-color="#ef5930"/><stop offset="0.5636" stop-color="#ee4e31"/><stop offset="0.58" stop-color="#ec3e32"/><stop offset="0.5818" stop-color="#ec3c32"/><stop offset="0.6" stop-color="#e92835"/><stop offset="0.6182" stop-color="#e81d36"/><stop offset="0.62" stop-color="#e81d36"/><stop offset="0.6364" stop-color="#e81c36"/><stop offset="0.64" stop-color="#e81c36"/><stop offset="0.6545" stop-color="#e81c36"/><stop offset="0.66" stop-color="#e81e36"/><stop offset="0.6727" stop-color="#ea2e34"/><stop offset="0.68" stop-color="#ec3e32"/><stop offset="0.6909" stop-color="#ee5230"/><stop offset="0.7" stop-color="#f05f2f"/><stop offset="0.7091" stop-color="#f1662f"/><stop offset="0.7273" stop-color="#f2712f"/><stop offset="0.73" stop-color="#f2722f"/><stop offset="0.7455" stop-color="#f37a2f"/><stop offset="0.76" stop-color="#f4822f"/><stop offset="0.7636" stop-color="#f4842f"/><stop offset="0.7818" stop-color="#f68d2e"/><stop offset="0.785" stop-color="#f68e2e"/><stop offset="0.8" stop-color="#f8952d"/><stop offset="0.81" stop-color="#f99b2c"/><stop offset="0.8182" stop-color="#fa9f2b"/><stop offset="0.825" stop-color="#fba42a"/><stop offset="0.8364" stop-color="#fcb127"/><stop offset="0.84" stop-color="#fdb725"/><stop offset="0.8525" stop-color="#fecc20"/><stop offset="0.8545" stop-color="#ffcf1f"/><stop offset="0.865" stop-color="#fbdf1f"/><stop offset="0.8727" stop-color="#f7e823"/><stop offset="0.8825" stop-color="#f1e831"/><stop offset="0.8909" stop-color="#ede83d"/><stop offset="0.9" stop-color="#e8e848"/><stop offset="0.9091" stop-color="#e9e950"/><stop offset="0.925" stop-color="#eaeb5d"/><stop offset="0.9273" stop-color="#eaeb5f"/><stop offset="0.9455" stop-color="#ebed6d"/><stop offset="0.95" stop-color="#ebed70"/><stop offset="0.9636" stop-color="#eced79"/><stop offset="0.973" stop-color="#edee80"/><stop offset="0.975" stop-color="#edee81"/><stop offset="0.9775" stop-color="#edee83"/><stop offset="0.9818" stop-color="#eeee86"/><stop offset="0.982" stop-color="#eeee86"/><stop offset="0.9865" stop-color="#eeee89"/><stop offset="0.991" stop-color="#eeee8c"/><stop offset="0.9955" stop-color="#efee8f"/><stop offset="1" stop-color="#efee91"/></linearGradient>
<linearGradient id="c13" x1="0" y1="0" x2="1" y2="0"><stop offset="0" stop-color="#ffffff"/><stop offset="0.148" stop-color="#ffffff"/><stop offset="0.1525" stop-color="#ffffff"/><stop offset="0.157" stop-color="#ffffff"/><stop offset="0.1615" stop-color="#ffffff"/><stop offset="0.1635" stop-color="#ffffff"/><stop offset="0.166" stop-color="#ffffff"/><stop offset="0.1705" stop-color="#fffffe"/><stop offset="0.1749" stop-color="#fffefc"/><stop offset="0.175" stop-color="#fffefc"/><stop offset="0.179" stop-color="#fefdf7"/><stop offset="0.1795" stop-color="#fefdf6"/><stop offset="0.184" stop-color="#fcfaeb"/><stop offset="0.1885" stop-color="#fbf8e1"/><stop offset="0.193" stop-color="#faf7dc"/><stop offset="0.1945" stop-color="#f9f6da"/><stop offset="0.1975" stop-color="#f9f6d7"/><stop offset="0.1975" stop-color="#f9f6d7"/><stop offset="0.202" stop-color="#f7f4d1"/><stop offset="0.21" stop-color="#f5f2c8"/><stop offset="0.22" stop-color="#f4f1c0"/><stop offset="0.2255" stop-color="#f4f1bd"/><stop offset="0.2409" stop-color="#f3f1b6"/><stop offset="0.2564" stop-color="#f2f0b1"/><stop offset="0.26" stop-color="#f2f0b0"/><stop offset="0.2719" stop-color="#f2f0ac"/><stop offset="0.2874" stop-color="#f1efa8"/><stop offset="0.3" stop-color="#f1efa4"/><stop offset="0.3029" stop-color="#f1efa3"/><stop offset="0.3184" stop-color="#f0ef9f"/><stop offset="0.3339" stop-color="#f0ef9b"/><stop offset="0.3494" stop-color="#f0ef97"/><stop offset="0.35" stop-color="#f0ef97"/><stop offset="0.3649" stop-color="#efee93"/><stop offset="0.3804" stop-color="#efee8f"/><stop offset="0.3959" stop-color="#eeee8a"/><stop offset="0.4" stop-color="#eeee88"/><stop offset="0.4113" stop-color="#edee83"/><stop offset="0.4268" stop-color="#eced7b"/><stop offset="0.43" stop-color="#eced7a"/><stop offset="0.4423" stop-color="#ebed72"/><stop offset="0.4578" stop-color="#eaec66"/><stop offset="0.46" stop-color="#eaeb64"/><stop offset="0.4733" stop-color="#e9ea56"/><stop offset="0.48" stop-color="#e8e94e"/><stop offset="0.4888" stop-color="#eae843"/><stop offset="0.5" stop-color="#f0e834"/><stop offset="0.5043" stop-color="#f3e82e"/><stop offset="0.51" stop-color="#f6e825"/><stop offset="0.5198" stop-color="#fcda1f"/><stop offset="0.52" stop-color="#fdd91f"/><stop offset="0.53" stop-color="#fdbc24"/><stop offset="0.5353" stop-color="#fbab29"/><stop offset="0.54" stop-color="#faa12b"/><stop offset="0.5508" stop-color="#f7932d"/><stop offset="0.56" stop-color="#f5892f"/><stop offset="0.5663" stop-color="#f4812f"/><stop offset="0.58" stop-color="#f2712f"/><stop offset="0.5817" stop-color="#f26f2f"/><stop offset="0.5972" stop-color="#ef5b2f"/><stop offset="0.6" stop-color="#ef5630"/><stop offset="0.6127" stop-color="#ec4232"/><stop offset="0.62" stop-color="#eb3633"/><stop offset="0.6282" stop-color="#ea2a34"/><stop offset="0.6325" stop-color="#e92535"/><stop offset="0.6437" stop-color="#e81d36"/><stop offset="0.645" stop-color="#e81d36"/><stop offset="0.6575" stop-color="#e81c36"/><stop offset="0.6592" stop-color="#e81c36"/><stop offset="0.67" stop-color="#e81f36"/><stop offset="0.6747" stop-color="#e92535"/><stop offset="0.685" stop-color="#ec3f32"/><stop offset="0.6902" stop-color="#ee4b31"/><stop offset="0.7" stop-color="#f05f2f"/><stop offset="0.7057" stop-color="#f1652f"/><stop offset="0.7212" stop-color="#f2712f"/><stop offset="0.725" stop-color="#f2742f"/><stop offset="0.7367" stop-color="#f37b2f"/><stop offset="0.75" stop-color="#f4822f"/><stop offset="0.7521" stop-color="#f4832f"/><stop offset="0.7676" stop-color="#f5882f"/><stop offset="0.7831" stop-color="#f68c2e"/><stop offset="0.785" stop-color="#f68c2e"/><stop offset="0.7986" stop-color="#f68f2e"/><stop offset="0.8141" stop-color="#f7932d"/><stop offset="0.82" stop-color="#f7952d"/><stop offset="0.8296" stop-color="#f8972d"/><stop offset="0.845" stop-color="#f99c2c"/><stop offset="0.8451" stop-color="#f99c2c"/><stop offset="0.8606" stop-color="#faa22b"/><stop offset="0.87" stop-color="#fba72a"/><stop offset="0.8761" stop-color="#fcaf28"/><stop offset="0.885" stop-color="#fdbe23"/><stop offset="0.8916" stop-color="#fecc20"/><stop offset="0.9" stop-color="#fcdb1f"/><stop offset="0.9071" stop-color="#f8e720"/><stop offset="0.915" stop-color="#f3e82c"/><stop offset="0.9225" stop-color="#eee839"/><stop offset="0.93" stop-color="#eae843"/><stop offset="0.938" stop-color="#e8e94d"/><stop offset="0.95" stop-color="#e9ea5a"/><stop offset="0.9535" stop-color="#eaeb5e"/><stop offset="0.969" stop-color="#ebed6f"/><stop offset="0.97" stop-color="#ebed70"/><stop offset="0.973" stop-color="#ebed73"/><stop offset="0.9775" stop-color="#eced78"/><stop offset="0.982" stop-color="#edee7d"/><stop offset="0.9845" stop-color="#edee80"/><stop offset="0.985" stop-color="#edee81"/><stop offset="0.9865" stop-color="#edee82"/><stop offset="0.991" stop-color="#eeee88"/><stop offset="0.9955" stop-color="#eeee8c"/><stop offset="1" stop-color="#efee90"/></linearGradient>
<linearGradient id="c14" x1="0" y1="0" x2="1" y2="0"><stop offset="0" stop-color="#f0ef9c"/><stop offset="0.0045" stop-color="#f0ef9a"/><stop offset="0.009" stop-color="#f0ef98"/><stop offset="0.0135" stop-color="#efee95"/><stop offset="0.018" stop-color="#efee93"/><stop offset="0.0182" stop-color="#efee93"/><stop offset="0.0225" stop-color="#efee90"/><stop offset="0.025" stop-color="#efee8f"/><stop offset="0.027" stop-color="#eeee8e"/><stop offset="0.0364" stop-color="#eeee89"/><stop offset="0.05" stop-color="#edee81"/><stop offset="0.0545" stop-color="#edee7f"/><stop offset="0.0727" stop-color="#eced75"/><stop offset="0.085" stop-color="#ebed6e"/><stop offset="0.0909" stop-color="#ebec6a"/><stop offset="0.1091" stop-color="#eaeb61"/><stop offset="0.12" stop-color="#eaeb5c"/><stop offset="0.1273" stop-color="#e9ea5a"/><stop offset="0.1455" stop-color="#e9ea55"/><stop offset="0.1636" stop-color="#e9e951"/><stop offset="0.17" stop-color="#e9e950"/><stop offset="0.1818" stop-color="#e8e94e"/><stop offset="0.2" stop-color="#e8e84a"/><stop offset="0.2182" stop-color="#e9e845"/><stop offset="0.22" stop-color="#eae844"/><stop offset="0.2364" stop-color="#ece83e"/><stop offset="0.245" stop-color="#eee83a"/><stop offset="0.2545" stop-color="#f0e835"/><stop offset="0.27" stop-color="#f3e82c"/><stop offset="0.2727" stop-color="#f4e82a"/><stop offset="0.2825" stop-color="#f8e821"/><stop offset="0.2909" stop-color="#fbdf1f"/><stop offset="0.295" stop-color="#fcda1f"/><stop offset="0.3075" stop-color="#fec621"/><stop offset="0.3091" stop-color="#fec422"/><stop offset="0.32" stop-color="#fcb227"/><stop offset="0.3273" stop-color="#fba929"/><stop offset="0.3455" stop-color="#f99e2b"/><stop offset="0.35" stop-color="#f99c2c"/><stop offset="0.3636" stop-color="#f8962d"/><stop offset="0.38" stop-color="#f68f2e"/><stop offset="0.3818" stop-color="#f68e2e"/><stop offset="0.4" stop-color="#f5852f"/><stop offset="0.415" stop-color="#f47e2f"/><stop offset="0.4182" stop-color="#f37c2f"/><stop offset="0.4364" stop-color="#f2742f"/><stop offset="0.45" stop-color="#f26e2f"/><stop offset="0.4545" stop-color="#f16c2f"/><stop offset="0.4727" stop-color="#f1652f"/><stop offset="0.49" stop-color="#f05d2f"/><stop offset="0.4909" stop-color="#f05d2f"/><stop offset="0.5091" stop-color="#ee5330"/><stop offset="0.5273" stop-color="#ed4b31"/><stop offset="0.53" stop-color="#ed4931"/><stop offset="0.5455" stop-color="#ed4332"/><stop offset="0.5636" stop-color="#ec3c32"/><stop offset="0.565" stop-color="#ec3c32"/><stop offset="0.5818" stop-color="#eb3433"/><stop offset="0.6" stop-color="#ea2d34"/><stop offset="0.6182" stop-color="#e92735"/><stop offset="0.635" stop-color="#e92235"/><stop offset="0.6364" stop-color="#e92135"/><stop offset="0.6545" stop-color="#e81d36"/><stop offset="0.67" stop-color="#e81c36"/><stop offset="0.6727" stop-color="#e81c36"/><stop offset="0.685" stop-color="#e81c36"/><stop offset="0.6909" stop-color="#e81c36"/><stop offset="0.7" stop-color="#e81e36"/><stop offset="0.7091" stop-color="#e92735"/><stop offset="0.72" stop-color="#ec3e32"/><stop offset="0.7273" stop-color="#ee4b31"/><stop offset="0.74" stop-color="#f05f2f"/><stop offset="0.7455" stop-color="#f0642f"/><stop offset="0.7636" stop-color="#f2702f"/><stop offset="0.765" stop-color="#f2712f"/><stop offset="0.7818" stop-color="#f37c2f"/><stop offset="0.79" stop-color="#f4822f"/><stop offset="0.8" stop-color="#f58a2f"/><stop offset="0.81" stop-color="#f7912e"/><stop offset="0.8182" stop-color="#f8972d"/><stop offset="0.83" stop-color="#faa12b"/><stop offset="0.8364" stop-color="#fba829"/><stop offset="0.845" stop-color="#fdbc24"/><stop offset="0.8545" stop-color="#ffd11e"/><stop offset="0.86" stop-color="#fcda1f"/><stop offset="0.8727" stop-color="#f6e824"/><stop offset="0.88" stop-color="#f3e82d"/><stop offset="0.8909" stop-color="#eee838"/><stop offset="0.9" stop-color="#ebe840"/><stop offset="0.9091" stop-color="#e9e846"/><stop offset="0.925" stop-color="#e8e94f"/><stop offset="0.9273" stop-color="#e9e950"/><stop offset="0.9455" stop-color="#e9ea59"/><stop offset="0.95" stop-color="#eaeb5c"/><stop offset="0.9636" stop-color="#eaec66"/><stop offset="0.973" stop-color="#ebed6d"/><stop offset="0.975" stop-color="#ebed6e"/><stop offset="0.9775" stop-color="#ebed70"/><stop offset="0.9818" stop-color="#ebed74"/><stop offset="0.982" stop-color="#ebed74"/><stop offset="0.9865" stop-color="#eced77"/><stop offset="0.991" stop-color="#eced7a"/><stop offset="0.9955" stop-color="#edee7d"/><stop offset="1" stop-color="#edee7f"/></linearGradient>
<linearGradient id="c15" x1="0" y1="0" x2="1" y2="0"><stop offset="0" stop-color="#ffffff"/><stop offset="0.559" stop-color="#ffffff"/><stop offset="0.5635" stop-color="#ffffff"/><stop offset="0.5635" stop-color="#ffffff"/><stop offset="0.568" stop-color="#ffffff"/><stop offset="0.568" stop-color="#ffffff"/><stop offset="0.5725" stop-color="#ffffff"/><stop offset="0.5725" stop-color="#ffffff"/><stop offset="0.577" stop-color="#fffffe"/><stop offset="0.577" stop-color="#fffffe"/><stop offset="0.5815" stop-color="#fefef9"/><stop offset="0.5815" stop-color="#fefef9"/><stop offset="0.5859" stop-color="#fbf8e4"/><stop offset="0.586" stop-color="#fbf8e3"/><stop offset="0.5861" stop-color="#fbf8e2"/><stop offset="0.5905" stop-color="#f8f5d5"/><stop offset="0.5906" stop-color="#f8f5d5"/><stop offset="0.593" stop-color="#f6f3ca"/><stop offset="0.595" stop-color="#f4f1c0"/><stop offset="0.5951" stop-color="#f4f1c0"/><stop offset="0.5995" stop-color="#f2efa9"/><stop offset="0.5996" stop-color="#f2efa9"/><stop offset="0.6" stop-color="#f1efa6"/><stop offset="0.604" stop-color="#efee93"/><stop offset="0.6041" stop-color="#efee92"/><stop offset="0.6085" stop-color="#edee7e"/><stop offset="0.6086" stop-color="#edee7d"/><stop offset="0.61" stop-color="#eced77"/><stop offset="0.613" stop-color="#ebec6a"/><stop offset="0.6131" stop-color="#eaec69"/><stop offset="0.6176" stop-color="#e9e954"/><stop offset="0.62" stop-color="#e8e849"/><stop offset="0.6221" stop-color="#ebe840"/><stop offset="0.6266" stop-color="#f2e82e"/><stop offset="0.6275" stop-color="#f4e82a"/><stop offset="0.6311" stop-color="#fae21f"/><stop offset="0.635" stop-color="#fecc20"/><stop offset="0.6357" stop-color="#fec721"/><stop offset="0.6402" stop-color="#fba42a"/><stop offset="0.6425" stop-color="#f8992c"/><stop offset="0.6447" stop-color="#f68f2e"/><stop offset="0.6492" stop-color="#f3772f"/><stop offset="0.65" stop-color="#f2732f"/><stop offset="0.6537" stop-color="#f0622f"/><stop offset="0.6575" stop-color="#ed4b31"/><stop offset="0.6582" stop-color="#ed4731"/><stop offset="0.6627" stop-color="#ea2f34"/><stop offset="0.665" stop-color="#e92635"/><stop offset="0.6672" stop-color="#e92135"/><stop offset="0.6717" stop-color="#e81d36"/><stop offset="0.6762" stop-color="#e81c36"/><stop offset="0.6775" stop-color="#e81c36"/><stop offset="0.6807" stop-color="#e81c36"/><stop offset="0.6853" stop-color="#e81d36"/><stop offset="0.6898" stop-color="#e92335"/><stop offset="0.69" stop-color="#e92335"/><stop offset="0.6943" stop-color="#ea2f34"/><stop offset="0.6975" stop-color="#ec3d32"/><stop offset="0.6988" stop-color="#ec4132"/><stop offset="0.7033" stop-color="#ee4d31"/><stop offset="0.705" stop-color="#ee5030"/><stop offset="0.7078" stop-color="#ef5430"/><stop offset="0.7123" stop-color="#ef5830"/><stop offset="0.7168" stop-color="#ef5a30"/><stop offset="0.7175" stop-color="#ef5a30"/><stop offset="0.7213" stop-color="#ef5c2f"/><stop offset="0.7258" stop-color="#f05f2f"/><stop offset="0.73" stop-color="#f1652f"/><stop offset="0.7303" stop-color="#f1652f"/><stop offset="0.7349" stop-color="#f2712f"/><stop offset="0.735" stop-color="#f2712f"/><stop offset="0.7394" stop-color="#f4842f"/><stop offset="0.74" stop-color="#f5872f"/><stop offset="0.7439" stop-color="#f99a2c"/><stop offset="0.745" stop-color="#faa02b"/><stop offset="0.7484" stop-color="#fdbf23"/><stop offset="0.75" stop-color="#ffd11e"/><stop offset="0.7529" stop-color="#f7e823"/><stop offset="0.753" stop-color="#f7e824"/><stop offset="0.755" stop-color="#f0e834"/><stop offset="0.7574" stop-color="#e8e847"/><stop offset="0.7575" stop-color="#e8e848"/><stop offset="0.76" stop-color="#eaeb5c"/><stop offset="0.7619" stop-color="#ebec6b"/><stop offset="0.762" stop-color="#ebed6c"/><stop offset="0.765" stop-color="#edee82"/><stop offset="0.7664" stop-color="#eeee8c"/><stop offset="0.7665" stop-color="#eeee8d"/><stop offset="0.77" stop-color="#f1efa6"/><stop offset="0.7709" stop-color="#f2f0ac"/><stop offset="0.771" stop-color="#f2f0ad"/><stop offset="0.775" stop-color="#f5f2c7"/><stop offset="0.7754" stop-color="#f6f3ca"/><stop offset="0.7755" stop-color="#f6f3ca"/><stop offset="0.7799" stop-color="#faf7de"/><stop offset="0.78" stop-color="#faf7de"/><stop offset="0.7801" stop-color="#faf7de"/><stop offset="0.7845" stop-color="#fefcf5"/><stop offset="0.7845" stop-color="#fefdf5"/><stop offset="0.789" stop-color="#fffffe"/><stop offset="0.789" stop-color="#fffffe"/><stop offset="0.7935" stop-color="#ffffff"/><stop offset="0.7935" stop-color="#ffffff"/><stop offset="0.798" stop-color="#ffffff"/><stop offset="0.798" stop-color="#ffffff"/><stop offset="0.8025" stop-color="#ffffff"/><stop offset="0.8025" stop-color="#ffffff"/><stop offset="0.807" stop-color="#ffffff"/><stop offset="1" stop-color="#ffffff"/></linearGradient>
<linearGradient id="c16" x1="0" y1="0" x2="1" y2="0"><stop offset="0" stop-color="#ffffff"/><stop offset="0.193" stop-color="#ffffff"/><stop offset="0.1975" stop-color="#ffffff"/><stop offset="0.202" stop-color="#ffffff"/><stop offset="0.2065" stop-color="#ffffff"/><stop offset="0.2077" stop-color="#ffffff"/><stop offset="0.211" stop-color="#ffffff"/><stop offset="0.2155" stop-color="#fffffe"/><stop offset="0.2199" stop-color="#fefefb"/><stop offset="0.22" stop-color="#fefefb"/><stop offset="0.2223" stop-color="#fefdf8"/><stop offset="0.2245" stop-color="#fdfcf3"/><stop offset="0.229" stop-color="#fcf9e6"/><stop offset="0.2335" stop-color="#faf7df"/><stop offset="0.237" stop-color="#f9f6da"/><stop offset="0.238" stop-color="#f9f6d9"/><stop offset="0.24" stop-color="#f9f6d6"/><stop offset="0.2425" stop-color="#f8f5d3"/><stop offset="0.247" stop-color="#f6f3cd"/><stop offset="0.2517" stop-color="#f5f2c7"/><stop offset="0.26" stop-color="#f4f1c0"/><stop offset="0.2664" stop-color="#f4f1bc"/><stop offset="0.281" stop-color="#f3f1b6"/><stop offset="0.2957" stop-color="#f3f0b2"/><stop offset="0.305" stop-color="#f2f0af"/><stop offset="0.3104" stop-color="#f2f0ae"/><stop offset="0.3251" stop-color="#f2f0aa"/><stop offset="0.3397" stop-color="#f1efa7"/><stop offset="0.35" stop-color="#f1efa4"/><stop offset="0.3544" stop-color="#f1efa3"/><stop offset="0.3691" stop-color="#f0ef9f"/><stop offset="0.3837" stop-color="#f0ef9b"/><stop offset="0.3984" stop-color="#efee97"/><stop offset="0.4" stop-color="#efee96"/><stop offset="0.4131" stop-color="#efee93"/><stop offset="0.4278" stop-color="#efee8f"/><stop offset="0.4424" stop-color="#eeee8b"/><stop offset="0.45" stop-color="#eeee88"/><stop offset="0.4571" stop-color="#eeee86"/><stop offset="0.4718" stop-color="#edee82"/><stop offset="0.4865" stop-color="#edee7e"/><stop offset="0.49" stop-color="#eced7d"/><stop offset="0.5011" stop-color="#eced79"/><stop offset="0.5158" stop-color="#ebed73"/><stop offset="0.53" stop-color="#ebec6c"/><stop offset="0.5305" stop-color="#ebec6b"/><stop offset="0.5451" stop-color="#eaeb5e"/><stop offset="0.5475" stop-color="#e9ea5b"/><stop offset="0.5598" stop-color="#e8e848"/><stop offset="0.565" stop-color="#ece83e"/><stop offset="0.5725" stop-color="#f4e82b"/><stop offset="0.5745" stop-color="#f6e825"/><stop offset="0.58" stop-color="#fcdb1f"/><stop offset="0.5892" stop-color="#fdb925"/><stop offset="0.59" stop-color="#fcb626"/><stop offset="0.6" stop-color="#f99b2c"/><stop offset="0.6038" stop-color="#f7942d"/><stop offset="0.615" stop-color="#f4802f"/><stop offset="0.6185" stop-color="#f37a2f"/><stop offset="0.63" stop-color="#f1672f"/><stop offset="0.6332" stop-color="#f0622f"/><stop offset="0.6475" stop-color="#ec4032"/><stop offset="0.6479" stop-color="#ec3f32"/><stop offset="0.6625" stop-color="#e92035"/><stop offset="0.665" stop-color="#e81e36"/><stop offset="0.6772" stop-color="#e81c36"/><stop offset="0.6825" stop-color="#e81c36"/><stop offset="0.6919" stop-color="#e81c36"/><stop offset="0.7" stop-color="#e92035"/><stop offset="0.7065" stop-color="#ea2d34"/><stop offset="0.7125" stop-color="#ec4132"/><stop offset="0.7212" stop-color="#f05e2f"/><stop offset="0.725" stop-color="#f1672f"/><stop offset="0.735" stop-color="#f4812f"/><stop offset="0.7359" stop-color="#f4832f"/><stop offset="0.745" stop-color="#f99b2c"/><stop offset="0.7506" stop-color="#fcad28"/><stop offset="0.7525" stop-color="#fdb725"/><stop offset="0.76" stop-color="#fcdb1f"/><stop offset="0.7652" stop-color="#f5e827"/><stop offset="0.77" stop-color="#efe837"/><stop offset="0.7799" stop-color="#e9e951"/><stop offset="0.78" stop-color="#e9e951"/><stop offset="0.7946" stop-color="#eaec64"/><stop offset="0.805" stop-color="#ebed6d"/><stop offset="0.8093" stop-color="#ebed70"/><stop offset="0.8239" stop-color="#eced78"/><stop offset="0.83" stop-color="#eced7a"/><stop offset="0.8386" stop-color="#edee7e"/><stop offset="0.8533" stop-color="#edee83"/><stop offset="0.865" stop-color="#eeee87"/><stop offset="0.8679" stop-color="#eeee87"/><stop offset="0.8826" stop-color="#eeee8c"/><stop offset="0.8973" stop-color="#efee92"/><stop offset="0.9" stop-color="#efee93"/><stop offset="0.912" stop-color="#f0ef99"/><stop offset="0.925" stop-color="#f1efa1"/><stop offset="0.9266" stop-color="#f1efa2"/><stop offset="0.9413" stop-color="#f2f0ad"/><stop offset="0.95" stop-color="#f3f1b7"/><stop offset="0.953" stop-color="#f4f1bb"/><stop offset="0.956" stop-color="#f4f1c0"/><stop offset="0.9575" stop-color="#f5f2c3"/><stop offset="0.962" stop-color="#f6f3cc"/><stop offset="0.965" stop-color="#f8f5d2"/><stop offset="0.9665" stop-color="#f8f5d5"/><stop offset="0.9707" stop-color="#faf7dd"/><stop offset="0.971" stop-color="#faf7dd"/><stop offset="0.9755" stop-color="#fcf9e8"/><stop offset="0.98" stop-color="#fefdf6"/><stop offset="0.9801" stop-color="#fefdf7"/><stop offset="0.9845" stop-color="#fffefd"/><stop offset="0.9853" stop-color="#fffffd"/><stop offset="0.989" stop-color="#ffffff"/><stop offset="0.9935" stop-color="#ffffff"/><stop offset="0.998" stop-color="#ffffff"/><stop offset="1" stop-color="#ffffff"/></linearGradient>
<linearGradient id="c17" x1="0" y1="0" x2="1" y2="0"><stop offset="0" stop-color="#f1efa3"/><stop offset="0.0045" stop-color="#f1efa1"/><stop offset="0.009" stop-color="#f0ef9e"/><stop offset="0.0135" stop-color="#f0ef9c"/><stop offset="0.018" stop-color="#f0ef99"/><stop offset="0.0182" stop-color="#f0ef99"/><stop offset="0.0225" stop-color="#efee97"/><stop offset="0.025" stop-color="#efee95"/><stop offset="0.027" stop-color="#efee94"/><stop offset="0.0364" stop-color="#efee8f"/><stop offset="0.05" stop-color="#eeee88"/><stop offset="0.0545" stop-color="#eeee86"/><stop offset="0.0727" stop-color="#edee7e"/><stop offset="0.085" stop-color="#eced79"/><stop offset="0.0909" stop-color="#eced77"/><stop offset="0.1091" stop-color="#ebed70"/><stop offset="0.12" stop-color="#ebed6c"/><stop offset="0.1273" stop-color="#eaec69"/><stop offset="0.1455" stop-color="#eaeb63"/><stop offset="0.16" stop-color="#eaeb5e"/><stop offset="0.1636" stop-color="#eaeb5c"/><stop offset="0.1818" stop-color="#e9ea57"/><stop offset="0.2" stop-color="#e9ea54"/><stop offset="0.2" stop-color="#e9ea54"/><stop offset="0.2182" stop-color="#e9e952"/><stop offset="0.2364" stop-color="#e9e951"/><stop offset="0.2545" stop-color="#e9e950"/><stop offset="0.2727" stop-color="#e9e94f"/><stop offset="0.2909" stop-color="#e8e94f"/><stop offset="0.3" stop-color="#e8e94e"/><stop offset="0.3091" stop-color="#e8e94e"/><stop offset="0.3273" stop-color="#e8e94d"/><stop offset="0.3455" stop-color="#e8e94d"/><stop offset="0.3636" stop-color="#e8e84b"/><stop offset="0.3818" stop-color="#e8e84a"/><stop offset="0.4" stop-color="#e8e848"/><stop offset="0.4" stop-color="#e8e848"/><stop offset="0.4182" stop-color="#eae843"/><stop offset="0.425" stop-color="#ebe841"/><stop offset="0.4364" stop-color="#ede83c"/><stop offset="0.45" stop-color="#f0e834"/><stop offset="0.4545" stop-color="#f2e830"/><stop offset="0.465" stop-color="#f6e826"/><stop offset="0.4727" stop-color="#f9e420"/><stop offset="0.48" stop-color="#fcdb1f"/><stop offset="0.4909" stop-color="#fec920"/><stop offset="0.495" stop-color="#fdc123"/><stop offset="0.5091" stop-color="#fba829"/><stop offset="0.51" stop-color="#fba62a"/><stop offset="0.5273" stop-color="#f8992c"/><stop offset="0.53" stop-color="#f8972d"/><stop offset="0.5455" stop-color="#f68c2e"/><stop offset="0.55" stop-color="#f5892f"/><stop offset="0.5636" stop-color="#f47f2f"/><stop offset="0.575" stop-color="#f3772f"/><stop offset="0.5818" stop-color="#f2732f"/><stop offset="0.6" stop-color="#f1672f"/><stop offset="0.6182" stop-color="#ef5430"/><stop offset="0.625" stop-color="#ee4c31"/><stop offset="0.6364" stop-color="#ec3e32"/><stop offset="0.65" stop-color="#ea2e34"/><stop offset="0.6545" stop-color="#ea2a34"/><stop offset="0.665" stop-color="#e92235"/><stop offset="0.6727" stop-color="#e81e36"/><stop offset="0.68" stop-color="#e81c36"/><stop offset="0.6909" stop-color="#e81c36"/><stop offset="0.695" stop-color="#e81c36"/><stop offset="0.7091" stop-color="#e81d36"/><stop offset="0.71" stop-color="#e81e36"/><stop offset="0.7273" stop-color="#eb3533"/><stop offset="0.73" stop-color="#ec3c32"/><stop offset="0.7455" stop-color="#ef5830"/><stop offset="0.75" stop-color="#f0602f"/><stop offset="0.7636" stop-color="#f26d2f"/><stop offset="0.77" stop-color="#f2732f"/><stop offset="0.7818" stop-color="#f47f2f"/><stop offset="0.79" stop-color="#f58a2f"/><stop offset="0.8" stop-color="#f8972d"/><stop offset="0.8" stop-color="#f8972d"/><stop offset="0.81" stop-color="#fba72a"/><stop offset="0.8175" stop-color="#fdc123"/><stop offset="0.8182" stop-color="#fec422"/><stop offset="0.825" stop-color="#fcda1f"/><stop offset="0.8364" stop-color="#f3e82d"/><stop offset="0.8375" stop-color="#f2e830"/><stop offset="0.85" stop-color="#e8e848"/><stop offset="0.8545" stop-color="#e9e94f"/><stop offset="0.8727" stop-color="#ebec6a"/><stop offset="0.875" stop-color="#ebed6d"/><stop offset="0.8909" stop-color="#edee7f"/><stop offset="0.9" stop-color="#eeee88"/><stop offset="0.9091" stop-color="#efee91"/><stop offset="0.925" stop-color="#f1efa0"/><stop offset="0.9273" stop-color="#f1efa3"/><stop offset="0.9455" stop-color="#f3f0b2"/><stop offset="0.95" stop-color="#f3f0b5"/><stop offset="0.9636" stop-color="#f4f1be"/><stop offset="0.973" stop-color="#f5f2c5"/><stop offset="0.975" stop-color="#f5f2c6"/><stop offset="0.9775" stop-color="#f5f2c7"/><stop offset="0.9818" stop-color="#f6f3ca"/><stop offset="0.982" stop-color="#f6f3ca"/><stop offset="0.9865" stop-color="#f6f3cd"/><stop offset="0.991" stop-color="#f7f4cf"/><stop offset="0.9955" stop-color="#f7f4d1"/><stop offset="1" stop-color="#f8f5d3"/></linearGradient>
<linearGradient id="c18" x1="0" y1="0" x2="1" y2="0"><stop offset="0" stop-color="#f0ef9c"/><stop offset="0.0045" stop-color="#f0ef9a"/><stop offset="0.009" stop-color="#f0ef97"/><stop offset="0.0135" stop-color="#efee94"/><stop offset="0.018" stop-color="#efee92"/><stop offset="0.0182" stop-color="#efee92"/><stop offset="0.0225" stop-color="#efee8f"/><stop offset="0.025" stop-color="#eeee8e"/><stop offset="0.027" stop-color="#eeee8d"/><stop offset="0.0364" stop-color="#eeee88"/><stop offset="0.05" stop-color="#edee81"/><stop offset="0.0545" stop-color="#edee80"/><stop offset="0.0727" stop-color="#eced79"/><stop offset="0.0909" stop-color="#ebed74"/><stop offset="0.1" stop-color="#ebed72"/><stop offset="0.1091" stop-color="#ebed6f"/><stop offset="0.1273" stop-color="#ebec6a"/><stop offset="0.1455" stop-color="#eaec65"/><stop offset="0.15" stop-color="#eaec64"/><stop offset="0.1636" stop-color="#eaeb60"/><stop offset="0.1818" stop-color="#e9ea5c"/><stop offset="0.2" stop-color="#e9ea58"/><stop offset="0.2" stop-color="#e9ea58"/><stop offset="0.2182" stop-color="#e9e953"/><stop offset="0.2364" stop-color="#e9e94f"/><stop offset="0.25" stop-color="#e8e94c"/><stop offset="0.2545" stop-color="#e8e84b"/><stop offset="0.2727" stop-color="#e8e847"/><stop offset="0.2909" stop-color="#eae843"/><stop offset="0.3" stop-color="#ebe841"/><stop offset="0.3091" stop-color="#ece83f"/><stop offset="0.3273" stop-color="#ede83a"/><stop offset="0.3455" stop-color="#efe835"/><stop offset="0.35" stop-color="#f0e834"/><stop offset="0.3636" stop-color="#f2e830"/><stop offset="0.3818" stop-color="#f4e829"/><stop offset="0.385" stop-color="#f5e828"/><stop offset="0.4" stop-color="#f7e822"/><stop offset="0.4182" stop-color="#fbe01f"/><stop offset="0.42" stop-color="#fbdf1f"/><stop offset="0.4364" stop-color="#fed41e"/><stop offset="0.44" stop-color="#ffd11e"/><stop offset="0.4545" stop-color="#fec222"/><stop offset="0.46" stop-color="#fdbc24"/><stop offset="0.4727" stop-color="#fcae28"/><stop offset="0.48" stop-color="#fba62a"/><stop offset="0.4909" stop-color="#faa02b"/><stop offset="0.5" stop-color="#f99a2c"/><stop offset="0.5091" stop-color="#f8962d"/><stop offset="0.5273" stop-color="#f68d2e"/><stop offset="0.53" stop-color="#f68c2f"/><stop offset="0.5455" stop-color="#f4832f"/><stop offset="0.56" stop-color="#f37b2f"/><stop offset="0.5636" stop-color="#f3792f"/><stop offset="0.5818" stop-color="#f26f2f"/><stop offset="0.59" stop-color="#f16a2f"/><stop offset="0.6" stop-color="#f1642f"/><stop offset="0.6182" stop-color="#ef5630"/><stop offset="0.62" stop-color="#ef5530"/><stop offset="0.6364" stop-color="#ed4531"/><stop offset="0.645" stop-color="#ec3d32"/><stop offset="0.6545" stop-color="#eb3233"/><stop offset="0.67" stop-color="#e92535"/><stop offset="0.6727" stop-color="#e92435"/><stop offset="0.685" stop-color="#e81f36"/><stop offset="0.6909" stop-color="#e81d36"/><stop offset="0.7" stop-color="#e81d36"/><stop offset="0.7091" stop-color="#e92035"/><stop offset="0.715" stop-color="#e92535"/><stop offset="0.7273" stop-color="#eb3333"/><stop offset="0.73" stop-color="#eb3633"/><stop offset="0.7455" stop-color="#ed4a31"/><stop offset="0.75" stop-color="#ee5030"/><stop offset="0.7636" stop-color="#f0622f"/><stop offset="0.77" stop-color="#f1672f"/><stop offset="0.7818" stop-color="#f26f2f"/><stop offset="0.795" stop-color="#f3782f"/><stop offset="0.8" stop-color="#f37b2f"/><stop offset="0.8182" stop-color="#f5882f"/><stop offset="0.82" stop-color="#f5892f"/><stop offset="0.8364" stop-color="#f7942d"/><stop offset="0.84" stop-color="#f8972d"/><stop offset="0.8545" stop-color="#faa22b"/><stop offset="0.86" stop-color="#fba62a"/><stop offset="0.8727" stop-color="#fdbc24"/><stop offset="0.875" stop-color="#fdc123"/><stop offset="0.89" stop-color="#fcdb1f"/><stop offset="0.8909" stop-color="#fcdc1f"/><stop offset="0.905" stop-color="#f4e829"/><stop offset="0.9091" stop-color="#f2e82f"/><stop offset="0.92" stop-color="#ede83c"/><stop offset="0.9273" stop-color="#eae843"/><stop offset="0.94" stop-color="#e8e94e"/><stop offset="0.9455" stop-color="#e9e952"/><stop offset="0.96" stop-color="#e9ea5c"/><stop offset="0.9636" stop-color="#eaeb5e"/><stop offset="0.973" stop-color="#eaeb64"/><stop offset="0.9775" stop-color="#eaec66"/><stop offset="0.98" stop-color="#eaec67"/><stop offset="0.9818" stop-color="#eaec68"/><stop offset="0.982" stop-color="#eaec68"/><stop offset="0.9865" stop-color="#ebec6a"/><stop offset="0.991" stop-color="#ebed6c"/><stop offset="0.9955" stop-color="#ebed6e"/><stop offset="1" stop-color="#ebed6f"/></linearGradient>
<linearGradient id="c19" x1="0" y1="0" x2="1" y2="0"><stop offset="0" stop-color="#f0ef9c"/><stop offset="0.0045" stop-color="#f0ef9a"/><stop offset="0.009" stop-color="#f0ef98"/><stop offset="0.0135" stop-color="#efee95"/><stop offset="0.018" stop-color="#efee93"/><stop offset="0.0182" stop-color="#efee93"/><stop offset="0.0225" stop-color="#efee90"/><stop offset="0.025" stop-color="#efee8f"/><stop offset="0.027" stop-color="#eeee8e"/><stop offset="0.0364" stop-color="#eeee89"/><stop offset="0.05" stop-color="#edee81"/><stop offset="0.0545" stop-color="#edee7f"/><stop offset="0.0727" stop-color="#eced75"/><stop offset="0.085" stop-color="#ebed6f"/><stop offset="0.0909" stop-color="#ebec6b"/><stop offset="0.1091" stop-color="#eaeb61"/><stop offset="0.12" stop-color="#eaeb5c"/><stop offset="0.1273" stop-color="#e9ea59"/><stop offset="0.1455" stop-color="#e9e952"/><stop offset="0.16" stop-color="#e8e94e"/><stop offset="0.1636" stop-color="#e8e94d"/><stop offset="0.1818" stop-color="#e9e847"/><stop offset="0.2" stop-color="#ebe840"/><stop offset="0.2" stop-color="#ebe840"/><stop offset="0.2182" stop-color="#eee838"/><stop offset="0.225" stop-color="#f0e835"/><stop offset="0.2364" stop-color="#f2e82f"/><stop offset="0.25" stop-color="#f5e828"/><stop offset="0.2545" stop-color="#f6e825"/><stop offset="0.265" stop-color="#f9e620"/><stop offset="0.2727" stop-color="#fae01f"/><stop offset="0.28" stop-color="#fcdb1f"/><stop offset="0.2909" stop-color="#ffd11e"/><stop offset="0.3" stop-color="#fec721"/><stop offset="0.3091" stop-color="#fdbc24"/><stop offset="0.32" stop-color="#fcb127"/><stop offset="0.3273" stop-color="#fbaa29"/><stop offset="0.3455" stop-color="#faa02b"/><stop offset="0.35" stop-color="#f99e2b"/><stop offset="0.3636" stop-color="#f8992c"/><stop offset="0.38" stop-color="#f7952d"/><stop offset="0.3818" stop-color="#f7942d"/><stop offset="0.4" stop-color="#f7922d"/><stop offset="0.4182" stop-color="#f6902e"/><stop offset="0.4364" stop-color="#f68e2e"/><stop offset="0.44" stop-color="#f68e2e"/><stop offset="0.4545" stop-color="#f68d2e"/><stop offset="0.4727" stop-color="#f68c2f"/><stop offset="0.4909" stop-color="#f58a2f"/><stop offset="0.5" stop-color="#f5892f"/><stop offset="0.5091" stop-color="#f5882f"/><stop offset="0.5273" stop-color="#f5852f"/><stop offset="0.54" stop-color="#f4832f"/><stop offset="0.5455" stop-color="#f4832f"/><stop offset="0.5636" stop-color="#f47f2f"/><stop offset="0.58" stop-color="#f37b2f"/><stop offset="0.5818" stop-color="#f37b2f"/><stop offset="0.6" stop-color="#f2722f"/><stop offset="0.61" stop-color="#f26c2f"/><stop offset="0.6182" stop-color="#f1672f"/><stop offset="0.6364" stop-color="#ef5830"/><stop offset="0.64" stop-color="#ef5530"/><stop offset="0.6545" stop-color="#ed4531"/><stop offset="0.665" stop-color="#eb3633"/><stop offset="0.6727" stop-color="#ea2a34"/><stop offset="0.69" stop-color="#e81d36"/><stop offset="0.6909" stop-color="#e81d36"/><stop offset="0.7091" stop-color="#e81c36"/><stop offset="0.71" stop-color="#e81c36"/><stop offset="0.7273" stop-color="#e81d36"/><stop offset="0.73" stop-color="#e81e36"/><stop offset="0.7455" stop-color="#eb3333"/><stop offset="0.75" stop-color="#ec3e32"/><stop offset="0.7636" stop-color="#ef5630"/><stop offset="0.77" stop-color="#f05f2f"/><stop offset="0.7818" stop-color="#f1682f"/><stop offset="0.795" stop-color="#f2712f"/><stop offset="0.8" stop-color="#f2742f"/><stop offset="0.8182" stop-color="#f4812f"/><stop offset="0.82" stop-color="#f4822f"/><stop offset="0.8364" stop-color="#f68e2e"/><stop offset="0.84" stop-color="#f7912e"/><stop offset="0.8545" stop-color="#f99c2c"/><stop offset="0.86" stop-color="#faa12b"/><stop offset="0.8727" stop-color="#fcb626"/><stop offset="0.875" stop-color="#fdbb24"/><stop offset="0.89" stop-color="#fcda1f"/><stop offset="0.8909" stop-color="#fcdc1f"/><stop offset="0.905" stop-color="#f4e829"/><stop offset="0.9091" stop-color="#f2e82f"/><stop offset="0.92" stop-color="#ede83c"/><stop offset="0.9273" stop-color="#eae842"/><stop offset="0.94" stop-color="#e8e94d"/><stop offset="0.9455" stop-color="#e9e951"/><stop offset="0.96" stop-color="#eaeb5c"/><stop offset="0.9636" stop-color="#eaeb5f"/><stop offset="0.973" stop-color="#eaec68"/><stop offset="0.9775" stop-color="#ebed6d"/><stop offset="0.98" stop-color="#ebed6f"/><stop offset="0.9818" stop-color="#ebed71"/><stop offset="0.982" stop-color="#ebed71"/><stop offset="0.9865" stop-color="#eced75"/><stop offset="0.991" stop-color="#eced79"/><stop offset="0.9955" stop-color="#eced7c"/><stop offset="1" stop-color="#edee7f"/></linearGradient>
<linearGradient id="c20" x1="0" y1="0" x2="1" y2="0"><stop offset="0" stop-color="#f4f1bf"/><stop offset="0.0045" stop-color="#f4f1bf"/><stop offset="0.009" stop-color="#f4f1be"/><stop offset="0.0135" stop-color="#f4f1be"/><stop offset="0.018" stop-color="#f4f1bd"/><stop offset="0.0182" stop-color="#f4f1bd"/><stop offset="0.0225" stop-color="#f4f1bd"/><stop offset="0.027" stop-color="#f4f1bd"/><stop offset="0.0364" stop-color="#f4f1bc"/><stop offset="0.05" stop-color="#f4f1ba"/><stop offset="0.0545" stop-color="#f4f1ba"/><stop offset="0.0727" stop-color="#f3f1b8"/><stop offset="0.0909" stop-color="#f3f1b6"/><stop offset="0.1" stop-color="#f3f1b5"/><stop offset="0.1091" stop-color="#f3f0b4"/><stop offset="0.1273" stop-color="#f3f0b2"/><stop offset="0.1455" stop-color="#f2f0b0"/><stop offset="0.1636" stop-color="#f2f0af"/><stop offset="0.175" stop-color="#f2f0ad"/><stop offset="0.1818" stop-color="#f2f0ad"/><stop offset="0.2" stop-color="#f2f0ab"/><stop offset="0.2182" stop-color="#f2efa8"/><stop offset="0.2364" stop-color="#f1efa6"/><stop offset="0.25" stop-color="#f1efa4"/><stop offset="0.2545" stop-color="#f1efa3"/><stop offset="0.2727" stop-color="#f1efa0"/><stop offset="0.2909" stop-color="#f0ef9d"/><stop offset="0.3091" stop-color="#f0ef99"/><stop offset="0.325" stop-color="#efee95"/><stop offset="0.3273" stop-color="#efee94"/><stop offset="0.3455" stop-color="#efee90"/><stop offset="0.3636" stop-color="#eeee8b"/><stop offset="0.3818" stop-color="#eeee86"/><stop offset="0.4" stop-color="#edee81"/><stop offset="0.4" stop-color="#edee81"/><stop offset="0.4182" stop-color="#eced7c"/><stop offset="0.4364" stop-color="#eced77"/><stop offset="0.45" stop-color="#ebed73"/><stop offset="0.4545" stop-color="#ebed71"/><stop offset="0.4727" stop-color="#ebec6a"/><stop offset="0.4909" stop-color="#eaeb61"/><stop offset="0.5" stop-color="#e9ea5c"/><stop offset="0.5091" stop-color="#e9ea56"/><stop offset="0.52" stop-color="#e9e94f"/><stop offset="0.5273" stop-color="#e8e849"/><stop offset="0.54" stop-color="#ede83b"/><stop offset="0.5455" stop-color="#f1e832"/><stop offset="0.55" stop-color="#f4e82a"/><stop offset="0.56" stop-color="#fcda1f"/><stop offset="0.5636" stop-color="#ffd11e"/><stop offset="0.57" stop-color="#fdbb24"/><stop offset="0.58" stop-color="#faa12b"/><stop offset="0.5818" stop-color="#f99e2b"/><stop offset="0.6" stop-color="#f5882f"/><stop offset="0.6182" stop-color="#f2732f"/><stop offset="0.62" stop-color="#f2712f"/><stop offset="0.6364" stop-color="#f05f2f"/><stop offset="0.645" stop-color="#ee5130"/><stop offset="0.6545" stop-color="#ed4332"/><stop offset="0.67" stop-color="#ea2e34"/><stop offset="0.6727" stop-color="#ea2b34"/><stop offset="0.685" stop-color="#e92235"/><stop offset="0.6909" stop-color="#e81f36"/><stop offset="0.7" stop-color="#e81d36"/><stop offset="0.7091" stop-color="#e81f36"/><stop offset="0.715" stop-color="#e92235"/><stop offset="0.7273" stop-color="#ea2b34"/><stop offset="0.73" stop-color="#ea2e34"/><stop offset="0.7455" stop-color="#ed4831"/><stop offset="0.75" stop-color="#ee5130"/><stop offset="0.7636" stop-color="#f1692f"/><stop offset="0.77" stop-color="#f2712f"/><stop offset="0.7818" stop-color="#f4812f"/><stop offset="0.785" stop-color="#f5862f"/><stop offset="0.8" stop-color="#f99b2c"/><stop offset="0.8" stop-color="#f99b2c"/><stop offset="0.8125" stop-color="#fdb725"/><stop offset="0.8182" stop-color="#fec821"/><stop offset="0.825" stop-color="#fcda1f"/><stop offset="0.8364" stop-color="#f5e828"/><stop offset="0.8375" stop-color="#f4e82a"/><stop offset="0.85" stop-color="#ede83b"/><stop offset="0.8545" stop-color="#ebe840"/><stop offset="0.8727" stop-color="#e8e94c"/><stop offset="0.875" stop-color="#e8e94d"/><stop offset="0.8909" stop-color="#e9ea56"/><stop offset="0.9" stop-color="#eaeb5c"/><stop offset="0.9091" stop-color="#eaeb63"/><stop offset="0.925" stop-color="#ebed70"/><stop offset="0.9273" stop-color="#ebed72"/><stop offset="0.9455" stop-color="#edee7e"/><stop offset="0.95" stop-color="#edee81"/><stop offset="0.9636" stop-color="#eeee89"/><stop offset="0.973" stop-color="#efee8f"/><stop offset="0.975" stop-color="#efee90"/><stop offset="0.9775" stop-color="#efee91"/><stop offset="0.9818" stop-color="#efee94"/><stop offset="0.982" stop-color="#efee94"/><stop offset="0.9865" stop-color="#efee96"/><stop offset="0.991" stop-color="#f0ef98"/><stop offset="0.9955" stop-color="#f0ef9a"/><stop offset="1" stop-color="#f0ef9c"/></linearGradient>
<linearGradient id="c21" x1="0" y1="0" x2="1" y2="0"><stop offset="0" stop-color="#ffffff"/><stop offset="0.536" stop-color="#ffffff"/><stop offset="0.5405" stop-color="#ffffff"/><stop offset="0.5429" stop-color="#ffffff"/><stop offset="0.545" stop-color="#ffffff"/><stop offset="0.5495" stop-color="#ffffff"/><stop offset="0.5499" stop-color="#ffffff"/><stop offset="0.554" stop-color="#fffffe"/><stop offset="0.5568" stop-color="#fefefb"/><stop offset="0.5585" stop-color="#fefdf8"/><stop offset="0.5629" stop-color="#fbf9e5"/><stop offset="0.563" stop-color="#fbf9e4"/><stop offset="0.5637" stop-color="#fbf8e1"/><stop offset="0.5675" stop-color="#f9f6d8"/><stop offset="0.5706" stop-color="#f7f4ce"/><stop offset="0.5715" stop-color="#f6f3ca"/><stop offset="0.572" stop-color="#f5f2c8"/><stop offset="0.5765" stop-color="#f3f1b5"/><stop offset="0.5776" stop-color="#f3f0b1"/><stop offset="0.58" stop-color="#f1efa7"/><stop offset="0.581" stop-color="#f1efa3"/><stop offset="0.5845" stop-color="#efee95"/><stop offset="0.5855" stop-color="#efee92"/><stop offset="0.59" stop-color="#edee81"/><stop offset="0.5914" stop-color="#eced7c"/><stop offset="0.5983" stop-color="#eaeb61"/><stop offset="0.6" stop-color="#e9ea5a"/><stop offset="0.6053" stop-color="#ebe842"/><stop offset="0.6075" stop-color="#efe837"/><stop offset="0.6122" stop-color="#f7e822"/><stop offset="0.615" stop-color="#fbdf1f"/><stop offset="0.6191" stop-color="#ffcf1f"/><stop offset="0.625" stop-color="#fdb825"/><stop offset="0.6261" stop-color="#fcb526"/><stop offset="0.633" stop-color="#fba42a"/><stop offset="0.635" stop-color="#faa12b"/><stop offset="0.6399" stop-color="#f99c2c"/><stop offset="0.6468" stop-color="#f8962d"/><stop offset="0.6525" stop-color="#f7922d"/><stop offset="0.6538" stop-color="#f7912e"/><stop offset="0.6607" stop-color="#f68c2f"/><stop offset="0.6676" stop-color="#f4842f"/><stop offset="0.67" stop-color="#f4802f"/><stop offset="0.6745" stop-color="#f3762f"/><stop offset="0.68" stop-color="#f1692f"/><stop offset="0.6815" stop-color="#f1652f"/><stop offset="0.6884" stop-color="#ee4c31"/><stop offset="0.69" stop-color="#ed4731"/><stop offset="0.6953" stop-color="#eb3633"/><stop offset="0.6975" stop-color="#ea2f34"/><stop offset="0.7023" stop-color="#e92635"/><stop offset="0.705" stop-color="#e92435"/><stop offset="0.7092" stop-color="#e92835"/><stop offset="0.71" stop-color="#ea2a34"/><stop offset="0.715" stop-color="#ec3f32"/><stop offset="0.7161" stop-color="#ed4431"/><stop offset="0.7225" stop-color="#f1692f"/><stop offset="0.723" stop-color="#f16b2f"/><stop offset="0.73" stop-color="#f7912e"/><stop offset="0.73" stop-color="#f7912e"/><stop offset="0.735" stop-color="#fcae28"/><stop offset="0.7369" stop-color="#fdbf23"/><stop offset="0.74" stop-color="#fcda1f"/><stop offset="0.7438" stop-color="#f3e82d"/><stop offset="0.7475" stop-color="#eae844"/><stop offset="0.7507" stop-color="#e9ea57"/><stop offset="0.755" stop-color="#ebed6d"/><stop offset="0.7577" stop-color="#eced79"/><stop offset="0.7646" stop-color="#efee93"/><stop offset="0.7675" stop-color="#f0ef9c"/><stop offset="0.7715" stop-color="#f1efa6"/><stop offset="0.7785" stop-color="#f3f0b1"/><stop offset="0.78" stop-color="#f3f0b2"/><stop offset="0.7854" stop-color="#f3f0b4"/><stop offset="0.79" stop-color="#f3f0b5"/><stop offset="0.7923" stop-color="#f3f0b5"/><stop offset="0.7992" stop-color="#f3f0b4"/><stop offset="0.8" stop-color="#f3f0b3"/><stop offset="0.8062" stop-color="#f2f0af"/><stop offset="0.8131" stop-color="#f1efa7"/><stop offset="0.815" stop-color="#f1efa4"/><stop offset="0.82" stop-color="#f0ef9d"/><stop offset="0.8269" stop-color="#efee96"/><stop offset="0.83" stop-color="#efee95"/><stop offset="0.8339" stop-color="#efee94"/><stop offset="0.8408" stop-color="#efee95"/><stop offset="0.845" stop-color="#efee96"/><stop offset="0.8477" stop-color="#efee97"/><stop offset="0.8547" stop-color="#f0ef9b"/><stop offset="0.86" stop-color="#f1efa0"/><stop offset="0.8616" stop-color="#f1efa2"/><stop offset="0.863" stop-color="#f1efa4"/><stop offset="0.8675" stop-color="#f2f0ad"/><stop offset="0.8685" stop-color="#f2f0af"/><stop offset="0.872" stop-color="#f3f1b8"/><stop offset="0.875" stop-color="#f4f2c0"/><stop offset="0.8754" stop-color="#f4f2c2"/><stop offset="0.8765" stop-color="#f5f2c5"/><stop offset="0.881" stop-color="#f8f5d2"/><stop offset="0.8824" stop-color="#f8f5d6"/><stop offset="0.8825" stop-color="#f8f5d6"/><stop offset="0.8855" stop-color="#faf7dd"/><stop offset="0.8893" stop-color="#fcf9e8"/><stop offset="0.89" stop-color="#fcfaec"/><stop offset="0.8901" stop-color="#fcfaec"/><stop offset="0.8945" stop-color="#fefefa"/><stop offset="0.8962" stop-color="#fffefc"/><stop offset="0.899" stop-color="#fffffe"/><stop offset="0.9031" stop-color="#ffffff"/><stop offset="0.9035" stop-color="#ffffff"/><stop offset="0.908" stop-color="#ffffff"/><stop offset="0.9101" stop-color="#ffffff"/><stop offset="0.9125" stop-color="#ffffff"/><stop offset="0.917" stop-color="#ffffff"/><stop offset="1" stop-color="#ffffff"/></linearGradient>
<linearGradient id="c22" x1="0" y1="0" x2="1" y2="0"><stop offset="0" stop-color="#f0ef9c"/><stop offset="0.0045" stop-color="#f0ef9a"/><stop offset="0.009" stop-color="#f0ef98"/><stop offset="0.0135" stop-color="#efee96"/><stop offset="0.018" stop-color="#efee94"/><stop offset="0.0182" stop-color="#efee94"/><stop offset="0.0225" stop-color="#efee91"/><stop offset="0.025" stop-color="#efee90"/><stop offset="0.027" stop-color="#efee8f"/><stop offset="0.0364" stop-color="#eeee89"/><stop offset="0.05" stop-color="#edee81"/><stop offset="0.0545" stop-color="#edee7e"/><stop offset="0.0727" stop-color="#ebed71"/><stop offset="0.075" stop-color="#ebed70"/><stop offset="0.0909" stop-color="#eaeb63"/><stop offset="0.1" stop-color="#eaeb5c"/><stop offset="0.1091" stop-color="#e9ea57"/><stop offset="0.1273" stop-color="#e8e94e"/><stop offset="0.13" stop-color="#e8e94d"/><stop offset="0.1455" stop-color="#e9e845"/><stop offset="0.16" stop-color="#ede83c"/><stop offset="0.1636" stop-color="#eee838"/><stop offset="0.1775" stop-color="#f4e82a"/><stop offset="0.1818" stop-color="#f6e824"/><stop offset="0.195" stop-color="#fcdb1f"/><stop offset="0.2" stop-color="#fed41e"/><stop offset="0.2125" stop-color="#fdc023"/><stop offset="0.2182" stop-color="#fdb725"/><stop offset="0.23" stop-color="#fba62a"/><stop offset="0.2364" stop-color="#faa22b"/><stop offset="0.2545" stop-color="#f8982c"/><stop offset="0.265" stop-color="#f7932d"/><stop offset="0.2727" stop-color="#f68f2e"/><stop offset="0.2909" stop-color="#f5872f"/><stop offset="0.3" stop-color="#f4822f"/><stop offset="0.3091" stop-color="#f47e2f"/><stop offset="0.3273" stop-color="#f2742f"/><stop offset="0.335" stop-color="#f2712f"/><stop offset="0.3455" stop-color="#f16c2f"/><stop offset="0.3636" stop-color="#f1682f"/><stop offset="0.37" stop-color="#f1672f"/><stop offset="0.3818" stop-color="#f1672f"/><stop offset="0.395" stop-color="#f1672f"/><stop offset="0.4" stop-color="#f1672f"/><stop offset="0.4182" stop-color="#f1672f"/><stop offset="0.42" stop-color="#f1672f"/><stop offset="0.4364" stop-color="#f1692f"/><stop offset="0.4545" stop-color="#f26f2f"/><stop offset="0.46" stop-color="#f2712f"/><stop offset="0.4727" stop-color="#f3762f"/><stop offset="0.4909" stop-color="#f37a2f"/><stop offset="0.5" stop-color="#f37b2f"/><stop offset="0.5091" stop-color="#f37b2f"/><stop offset="0.5273" stop-color="#f37b2f"/><stop offset="0.54" stop-color="#f37b2f"/><stop offset="0.5455" stop-color="#f37b2f"/><stop offset="0.5636" stop-color="#f37b2f"/><stop offset="0.58" stop-color="#f37b2f"/><stop offset="0.5818" stop-color="#f37b2f"/><stop offset="0.6" stop-color="#f3762f"/><stop offset="0.61" stop-color="#f2712f"/><stop offset="0.6182" stop-color="#f26d2f"/><stop offset="0.6364" stop-color="#f0622f"/><stop offset="0.64" stop-color="#f0602f"/><stop offset="0.6545" stop-color="#ee5030"/><stop offset="0.665" stop-color="#ed4332"/><stop offset="0.6727" stop-color="#eb3933"/><stop offset="0.69" stop-color="#e92535"/><stop offset="0.6909" stop-color="#e92535"/><stop offset="0.705" stop-color="#e81f36"/><stop offset="0.7091" stop-color="#e81e36"/><stop offset="0.72" stop-color="#e81d36"/><stop offset="0.7273" stop-color="#e81f36"/><stop offset="0.735" stop-color="#e92535"/><stop offset="0.7455" stop-color="#ea3034"/><stop offset="0.75" stop-color="#eb3733"/><stop offset="0.7636" stop-color="#ee4b31"/><stop offset="0.77" stop-color="#ef5630"/><stop offset="0.7818" stop-color="#f1682f"/><stop offset="0.79" stop-color="#f2712f"/><stop offset="0.8" stop-color="#f37c2f"/><stop offset="0.81" stop-color="#f5862f"/><stop offset="0.8182" stop-color="#f68e2e"/><stop offset="0.83" stop-color="#f99b2c"/><stop offset="0.8364" stop-color="#faa32b"/><stop offset="0.845" stop-color="#fcb626"/><stop offset="0.8545" stop-color="#ffcf1f"/><stop offset="0.86" stop-color="#fcda1f"/><stop offset="0.8727" stop-color="#f6e826"/><stop offset="0.88" stop-color="#f2e82f"/><stop offset="0.8909" stop-color="#ece83d"/><stop offset="0.9" stop-color="#e8e848"/><stop offset="0.9091" stop-color="#e9e954"/><stop offset="0.925" stop-color="#eaec68"/><stop offset="0.9273" stop-color="#ebec6b"/><stop offset="0.9455" stop-color="#edee7d"/><stop offset="0.95" stop-color="#edee81"/><stop offset="0.9636" stop-color="#eeee8c"/><stop offset="0.973" stop-color="#efee93"/><stop offset="0.975" stop-color="#efee95"/><stop offset="0.9775" stop-color="#efee96"/><stop offset="0.9818" stop-color="#f0ef99"/><stop offset="0.982" stop-color="#f0ef99"/><stop offset="0.9865" stop-color="#f0ef9c"/><stop offset="0.991" stop-color="#f0ef9f"/><stop offset="0.9955" stop-color="#f1efa1"/><stop offset="1" stop-color="#f1efa3"/></linearGradient>
<linearGradient id="c23" x1="0" y1="0" x2="1" y2="0"><stop offset="0" stop-color="#f0ef9c"/><stop offset="0.0045" stop-color="#f0ef9a"/><stop offset="0.009" stop-color="#f0ef98"/><stop offset="0.0135" stop-color="#efee95"/><stop offset="0.018" stop-color="#efee93"/><stop offset="0.0182" stop-color="#efee93"/><stop offset="0.0225" stop-color="#efee90"/><stop offset="0.025" stop-color="#efee8f"/><stop offset="0.027" stop-color="#eeee8e"/><stop offset="0.0364" stop-color="#eeee89"/><stop offset="0.05" stop-color="#edee81"/><stop offset="0.0545" stop-color="#edee7f"/><stop offset="0.0727" stop-color="#eced75"/><stop offset="0.085" stop-color="#ebed6e"/><stop offset="0.0909" stop-color="#ebec6b"/><stop offset="0.1091" stop-color="#eaeb61"/><stop offset="0.12" stop-color="#eaeb5c"/><stop offset="0.1273" stop-color="#e9ea59"/><stop offset="0.1455" stop-color="#e9e954"/><stop offset="0.16" stop-color="#e9e950"/><stop offset="0.1636" stop-color="#e9e94f"/><stop offset="0.1818" stop-color="#e8e84a"/><stop offset="0.2" stop-color="#eae844"/><stop offset="0.2" stop-color="#eae844"/><stop offset="0.2182" stop-color="#ede83d"/><stop offset="0.225" stop-color="#eee839"/><stop offset="0.2364" stop-color="#f0e834"/><stop offset="0.25" stop-color="#f3e82c"/><stop offset="0.2545" stop-color="#f5e829"/><stop offset="0.265" stop-color="#f8e820"/><stop offset="0.2727" stop-color="#fae11f"/><stop offset="0.28" stop-color="#fcdb1f"/><stop offset="0.2909" stop-color="#ffd31e"/><stop offset="0.3" stop-color="#fecb20"/><stop offset="0.3091" stop-color="#fec422"/><stop offset="0.32" stop-color="#fdbc24"/><stop offset="0.3273" stop-color="#fdb825"/><stop offset="0.3455" stop-color="#fcad28"/><stop offset="0.36" stop-color="#fba62a"/><stop offset="0.3636" stop-color="#fba52a"/><stop offset="0.3818" stop-color="#faa22b"/><stop offset="0.4" stop-color="#faa02b"/><stop offset="0.4" stop-color="#faa02b"/><stop offset="0.4182" stop-color="#faa02b"/><stop offset="0.4364" stop-color="#faa02b"/><stop offset="0.45" stop-color="#faa02b"/><stop offset="0.4545" stop-color="#faa02b"/><stop offset="0.4727" stop-color="#faa02b"/><stop offset="0.4909" stop-color="#faa02b"/><stop offset="0.5" stop-color="#faa02b"/><stop offset="0.5091" stop-color="#faa02b"/><stop offset="0.5273" stop-color="#f99e2b"/><stop offset="0.54" stop-color="#f99c2c"/><stop offset="0.5455" stop-color="#f99a2c"/><stop offset="0.5636" stop-color="#f8962d"/><stop offset="0.58" stop-color="#f7922e"/><stop offset="0.5818" stop-color="#f7912e"/><stop offset="0.6" stop-color="#f58a2f"/><stop offset="0.61" stop-color="#f4852f"/><stop offset="0.6182" stop-color="#f4802f"/><stop offset="0.6364" stop-color="#f2732f"/><stop offset="0.64" stop-color="#f2712f"/><stop offset="0.6545" stop-color="#f1652f"/><stop offset="0.665" stop-color="#ef5830"/><stop offset="0.6727" stop-color="#ee4d31"/><stop offset="0.69" stop-color="#eb3633"/><stop offset="0.6909" stop-color="#eb3533"/><stop offset="0.705" stop-color="#e92535"/><stop offset="0.7091" stop-color="#e92235"/><stop offset="0.72" stop-color="#e81d36"/><stop offset="0.7273" stop-color="#e81e36"/><stop offset="0.735" stop-color="#e92235"/><stop offset="0.7455" stop-color="#ea2a34"/><stop offset="0.75" stop-color="#ea2e34"/><stop offset="0.7636" stop-color="#ec4132"/><stop offset="0.77" stop-color="#ed4a31"/><stop offset="0.7818" stop-color="#f05d2f"/><stop offset="0.79" stop-color="#f1672f"/><stop offset="0.8" stop-color="#f2722f"/><stop offset="0.81" stop-color="#f47d2f"/><stop offset="0.8182" stop-color="#f5872f"/><stop offset="0.83" stop-color="#f7952d"/><stop offset="0.8364" stop-color="#f99d2c"/><stop offset="0.8475" stop-color="#fcb127"/><stop offset="0.8545" stop-color="#fec322"/><stop offset="0.865" stop-color="#fcda1f"/><stop offset="0.8727" stop-color="#f8e820"/><stop offset="0.8825" stop-color="#f2e82f"/><stop offset="0.8909" stop-color="#ede83b"/><stop offset="0.9" stop-color="#e8e848"/><stop offset="0.9091" stop-color="#e9e954"/><stop offset="0.925" stop-color="#eaec68"/><stop offset="0.9273" stop-color="#ebec6b"/><stop offset="0.9455" stop-color="#edee7d"/><stop offset="0.95" stop-color="#edee81"/><stop offset="0.9636" stop-color="#eeee8c"/><stop offset="0.973" stop-color="#efee93"/><stop offset="0.975" stop-color="#efee95"/><stop offset="0.9775" stop-color="#efee96"/><stop offset="0.9818" stop-color="#f0ef99"/><stop offset="0.982" stop-color="#f0ef99"/><stop offset="0.9865" stop-color="#f0ef9c"/><stop offset="0.991" stop-color="#f0ef9f"/><stop offset="0.9955" stop-color="#f1efa1"/><stop offset="1" stop-color="#f1efa3"/></linearGradient>
<linearGradient id="c24" x1="0" y1="0" x2="1" y2="0"><stop offset="0" stop-color="#ffffff"/><stop offset="0.118" stop-color="#ffffff"/><stop offset="0.1225" stop-color="#ffffff"/><stop offset="0.127" stop-color="#ffffff"/><stop offset="0.1315" stop-color="#ffffff"/><stop offset="0.134" stop-color="#ffffff"/><stop offset="0.136" stop-color="#fffffe"/><stop offset="0.1405" stop-color="#fefefb"/><stop offset="0.1449" stop-color="#fdfbef"/><stop offset="0.145" stop-color="#fdfbef"/><stop offset="0.1495" stop-color="#faf7de"/><stop offset="0.1501" stop-color="#faf7dd"/><stop offset="0.154" stop-color="#f8f5d4"/><stop offset="0.1575" stop-color="#f6f3c9"/><stop offset="0.1585" stop-color="#f5f2c6"/><stop offset="0.163" stop-color="#f3f1b8"/><stop offset="0.1661" stop-color="#f2f0b0"/><stop offset="0.1675" stop-color="#f2f0ac"/><stop offset="0.17" stop-color="#f1efa7"/><stop offset="0.172" stop-color="#f1efa4"/><stop offset="0.1821" stop-color="#f0ef98"/><stop offset="0.195" stop-color="#eeee8e"/><stop offset="0.1982" stop-color="#eeee8c"/><stop offset="0.2142" stop-color="#edee84"/><stop offset="0.22" stop-color="#edee81"/><stop offset="0.2303" stop-color="#edee7d"/><stop offset="0.2463" stop-color="#eced77"/><stop offset="0.25" stop-color="#eced76"/><stop offset="0.2623" stop-color="#ebed72"/><stop offset="0.2784" stop-color="#ebed70"/><stop offset="0.28" stop-color="#ebed70"/><stop offset="0.2944" stop-color="#ebed74"/><stop offset="0.305" stop-color="#eced79"/><stop offset="0.3104" stop-color="#eced7c"/><stop offset="0.3265" stop-color="#eeee86"/><stop offset="0.33" stop-color="#eeee88"/><stop offset="0.3425" stop-color="#efee8f"/><stop offset="0.355" stop-color="#efee96"/><stop offset="0.3585" stop-color="#f0ef98"/><stop offset="0.3746" stop-color="#f1efa1"/><stop offset="0.38" stop-color="#f1efa4"/><stop offset="0.3906" stop-color="#f2f0aa"/><stop offset="0.4" stop-color="#f2f0af"/><stop offset="0.4067" stop-color="#f3f0b2"/><stop offset="0.42" stop-color="#f3f0b4"/><stop offset="0.4227" stop-color="#f3f0b4"/><stop offset="0.4387" stop-color="#f2f0ad"/><stop offset="0.445" stop-color="#f1efa8"/><stop offset="0.4548" stop-color="#f0efa0"/><stop offset="0.47" stop-color="#efee93"/><stop offset="0.4708" stop-color="#efee92"/><stop offset="0.4868" stop-color="#eeee87"/><stop offset="0.495" stop-color="#edee81"/><stop offset="0.5029" stop-color="#eced7c"/><stop offset="0.5189" stop-color="#ebed71"/><stop offset="0.52" stop-color="#ebed70"/><stop offset="0.5349" stop-color="#eaec65"/><stop offset="0.545" stop-color="#eaeb5e"/><stop offset="0.551" stop-color="#e9ea59"/><stop offset="0.567" stop-color="#e8e84b"/><stop offset="0.57" stop-color="#e8e847"/><stop offset="0.5831" stop-color="#f0e834"/><stop offset="0.585" stop-color="#f1e831"/><stop offset="0.5991" stop-color="#fcdc1f"/><stop offset="0.6" stop-color="#fcda1f"/><stop offset="0.61" stop-color="#fdbc24"/><stop offset="0.6151" stop-color="#fbab29"/><stop offset="0.62" stop-color="#faa12b"/><stop offset="0.6312" stop-color="#f7932d"/><stop offset="0.64" stop-color="#f5892f"/><stop offset="0.6472" stop-color="#f4802f"/><stop offset="0.66" stop-color="#f2712f"/><stop offset="0.6632" stop-color="#f26d2f"/><stop offset="0.6793" stop-color="#ee5330"/><stop offset="0.68" stop-color="#ee5230"/><stop offset="0.6953" stop-color="#eb3633"/><stop offset="0.7" stop-color="#ea2e34"/><stop offset="0.7113" stop-color="#e92335"/><stop offset="0.7125" stop-color="#e92235"/><stop offset="0.725" stop-color="#e81e36"/><stop offset="0.7274" stop-color="#e81e36"/><stop offset="0.7375" stop-color="#e92635"/><stop offset="0.7434" stop-color="#ea2d34"/><stop offset="0.75" stop-color="#eb3633"/><stop offset="0.7595" stop-color="#ed4232"/><stop offset="0.77" stop-color="#ee5030"/><stop offset="0.7755" stop-color="#ef5730"/><stop offset="0.79" stop-color="#f1672f"/><stop offset="0.7915" stop-color="#f1682f"/><stop offset="0.8076" stop-color="#f3752f"/><stop offset="0.81" stop-color="#f3772f"/><stop offset="0.8236" stop-color="#f4832f"/><stop offset="0.83" stop-color="#f5892f"/><stop offset="0.8396" stop-color="#f7932d"/><stop offset="0.8425" stop-color="#f8972d"/><stop offset="0.855" stop-color="#fba72a"/><stop offset="0.8557" stop-color="#fba829"/><stop offset="0.865" stop-color="#fec222"/><stop offset="0.8717" stop-color="#ffd41e"/><stop offset="0.875" stop-color="#fcdb1f"/><stop offset="0.8875" stop-color="#f4e82a"/><stop offset="0.8877" stop-color="#f4e82b"/><stop offset="0.9" stop-color="#ede83b"/><stop offset="0.9038" stop-color="#ece83e"/><stop offset="0.9198" stop-color="#e8e849"/><stop offset="0.925" stop-color="#e8e84b"/><stop offset="0.9359" stop-color="#e9e950"/><stop offset="0.95" stop-color="#e9e954"/><stop offset="0.9519" stop-color="#e9ea54"/><stop offset="0.9679" stop-color="#e9ea58"/><stop offset="0.973" stop-color="#e9ea59"/><stop offset="0.975" stop-color="#e9ea59"/><stop offset="0.9775" stop-color="#e9ea5a"/><stop offset="0.982" stop-color="#e9ea5b"/><stop offset="0.984" stop-color="#e9ea5b"/><stop offset="0.9865" stop-color="#e9ea5b"/><stop offset="0.991" stop-color="#e9ea5b"/><stop offset="0.9955" stop-color="#e9ea5c"/><stop offset="1" stop-color="#e9ea5c"/></linearGradient>
<linearGradient id="c25" x1="0" y1="0" x2="1" y2="0"><stop offset="0" stop-color="#ffffff"/><stop offset="0.288" stop-color="#ffffff"/><stop offset="0.2925" stop-color="#ffffff"/><stop offset="0.297" stop-color="#ffffff"/><stop offset="0.3004" stop-color="#ffffff"/><stop offset="0.3015" stop-color="#ffffff"/><stop offset="0.306" stop-color="#fffffe"/><stop offset="0.3105" stop-color="#fffefc"/><stop offset="0.3129" stop-color="#fefdf8"/><stop offset="0.3149" stop-color="#fdfcf3"/><stop offset="0.315" stop-color="#fdfcf3"/><stop offset="0.3195" stop-color="#fbf8e1"/><stop offset="0.324" stop-color="#f9f6d9"/><stop offset="0.3253" stop-color="#f8f5d6"/><stop offset="0.3275" stop-color="#f7f4d1"/><stop offset="0.3285" stop-color="#f7f4cf"/><stop offset="0.333" stop-color="#f5f2c4"/><stop offset="0.3375" stop-color="#f4f1bb"/><stop offset="0.3377" stop-color="#f4f1bb"/><stop offset="0.34" stop-color="#f3f1b7"/><stop offset="0.342" stop-color="#f3f0b5"/><stop offset="0.3502" stop-color="#f2f0ac"/><stop offset="0.3626" stop-color="#f1efa4"/><stop offset="0.37" stop-color="#f0ef9f"/><stop offset="0.3751" stop-color="#f0ef9d"/><stop offset="0.3875" stop-color="#f0ef97"/><stop offset="0.3999" stop-color="#efee93"/><stop offset="0.4" stop-color="#efee93"/><stop offset="0.4124" stop-color="#efee8f"/><stop offset="0.4248" stop-color="#eeee8c"/><stop offset="0.4372" stop-color="#eeee89"/><stop offset="0.4497" stop-color="#eeee87"/><stop offset="0.45" stop-color="#eeee87"/><stop offset="0.4621" stop-color="#edee85"/><stop offset="0.4745" stop-color="#edee82"/><stop offset="0.487" stop-color="#edee7f"/><stop offset="0.4994" stop-color="#eced7a"/><stop offset="0.5" stop-color="#eced7a"/><stop offset="0.5119" stop-color="#ebed74"/><stop offset="0.5243" stop-color="#ebec6b"/><stop offset="0.525" stop-color="#ebec6b"/><stop offset="0.5367" stop-color="#eaeb60"/><stop offset="0.5492" stop-color="#e9ea55"/><stop offset="0.55" stop-color="#e9ea54"/><stop offset="0.5616" stop-color="#e8e849"/><stop offset="0.565" stop-color="#e9e846"/><stop offset="0.574" stop-color="#ede83b"/><stop offset="0.58" stop-color="#f1e832"/><stop offset="0.5865" stop-color="#f5e826"/><stop offset="0.5875" stop-color="#f6e824"/><stop offset="0.595" stop-color="#fcdc1f"/><stop offset="0.5989" stop-color="#fed41e"/><stop offset="0.6075" stop-color="#fdc023"/><stop offset="0.6113" stop-color="#fdb825"/><stop offset="0.62" stop-color="#fba62a"/><stop offset="0.6238" stop-color="#faa32b"/><stop offset="0.6362" stop-color="#f8972d"/><stop offset="0.64" stop-color="#f7942d"/><stop offset="0.6487" stop-color="#f68d2e"/><stop offset="0.66" stop-color="#f4822f"/><stop offset="0.6611" stop-color="#f4812f"/><stop offset="0.6735" stop-color="#f2732f"/><stop offset="0.68" stop-color="#f16b2f"/><stop offset="0.686" stop-color="#f1652f"/><stop offset="0.6984" stop-color="#ee5230"/><stop offset="0.7" stop-color="#ee4f31"/><stop offset="0.7108" stop-color="#ec3c32"/><stop offset="0.715" stop-color="#eb3333"/><stop offset="0.7233" stop-color="#e92435"/><stop offset="0.73" stop-color="#e81e36"/><stop offset="0.7357" stop-color="#e81c36"/><stop offset="0.74" stop-color="#e81c36"/><stop offset="0.7481" stop-color="#e81e36"/><stop offset="0.75" stop-color="#e82036"/><stop offset="0.7606" stop-color="#ec3a32"/><stop offset="0.765" stop-color="#ed4831"/><stop offset="0.773" stop-color="#f0622f"/><stop offset="0.78" stop-color="#f2712f"/><stop offset="0.7855" stop-color="#f37c2f"/><stop offset="0.7925" stop-color="#f58a2f"/><stop offset="0.7979" stop-color="#f7942d"/><stop offset="0.805" stop-color="#faa02b"/><stop offset="0.8103" stop-color="#fcac28"/><stop offset="0.815" stop-color="#fdbc24"/><stop offset="0.8228" stop-color="#fed51e"/><stop offset="0.825" stop-color="#fcdb1f"/><stop offset="0.8352" stop-color="#f2e82f"/><stop offset="0.8375" stop-color="#efe835"/><stop offset="0.8476" stop-color="#e8e94e"/><stop offset="0.85" stop-color="#e9e953"/><stop offset="0.8601" stop-color="#eaeb64"/><stop offset="0.87" stop-color="#ebed71"/><stop offset="0.8725" stop-color="#ebed74"/><stop offset="0.8849" stop-color="#edee82"/><stop offset="0.89" stop-color="#eeee89"/><stop offset="0.8974" stop-color="#efee93"/><stop offset="0.905" stop-color="#f0ef9e"/><stop offset="0.9098" stop-color="#f1efa5"/><stop offset="0.918" stop-color="#f3f0b3"/><stop offset="0.92" stop-color="#f3f1b6"/><stop offset="0.9223" stop-color="#f4f1bb"/><stop offset="0.9225" stop-color="#f4f1bc"/><stop offset="0.927" stop-color="#f5f2c6"/><stop offset="0.9315" stop-color="#f7f4d1"/><stop offset="0.9325" stop-color="#f8f5d3"/><stop offset="0.9347" stop-color="#f9f6d8"/><stop offset="0.936" stop-color="#f9f6db"/><stop offset="0.9405" stop-color="#fbf8e2"/><stop offset="0.945" stop-color="#fefcf4"/><stop offset="0.9451" stop-color="#fefcf5"/><stop offset="0.9471" stop-color="#fefef9"/><stop offset="0.9495" stop-color="#fffefc"/><stop offset="0.954" stop-color="#fffffe"/><stop offset="0.9585" stop-color="#ffffff"/><stop offset="0.9596" stop-color="#ffffff"/><stop offset="0.963" stop-color="#ffffff"/><stop offset="0.9675" stop-color="#ffffff"/><stop offset="0.972" stop-color="#ffffff"/><stop offset="1" stop-color="#ffffff"/></linearGradient>
<linearGradient id="c26" x1="0" y1="0" x2="1" y2="0"><stop offset="0" stop-color="#ffffff"/><stop offset="0.689" stop-color="#ffffff"/><stop offset="0.6935" stop-color="#ffffff"/><stop offset="0.6943" stop-color="#ffffff"/><stop offset="0.698" stop-color="#ffffff"/><stop offset="0.6997" stop-color="#ffffff"/><stop offset="0.7025" stop-color="#ffffff"/><stop offset="0.705" stop-color="#fffffe"/><stop offset="0.707" stop-color="#fffffd"/><stop offset="0.7103" stop-color="#fefdf8"/><stop offset="0.7115" stop-color="#fefdf5"/><stop offset="0.7156" stop-color="#fbf8e1"/><stop offset="0.7159" stop-color="#fbf8e1"/><stop offset="0.716" stop-color="#fbf8e0"/><stop offset="0.7205" stop-color="#f8f5d3"/><stop offset="0.721" stop-color="#f7f4d1"/><stop offset="0.723" stop-color="#f6f3c9"/><stop offset="0.725" stop-color="#f4f1bf"/><stop offset="0.7263" stop-color="#f3f1b9"/><stop offset="0.7295" stop-color="#f2efaa"/><stop offset="0.73" stop-color="#f1efa7"/><stop offset="0.7316" stop-color="#f0ef9f"/><stop offset="0.734" stop-color="#efee95"/><stop offset="0.7369" stop-color="#eeee88"/><stop offset="0.7385" stop-color="#edee82"/><stop offset="0.74" stop-color="#eced7c"/><stop offset="0.7423" stop-color="#eced75"/><stop offset="0.743" stop-color="#ebed72"/><stop offset="0.7476" stop-color="#eaec65"/><stop offset="0.75" stop-color="#eaeb60"/><stop offset="0.7529" stop-color="#e9ea5b"/><stop offset="0.7583" stop-color="#e9ea55"/><stop offset="0.7636" stop-color="#e9e951"/><stop offset="0.765" stop-color="#e9e950"/><stop offset="0.7689" stop-color="#e8e94d"/><stop offset="0.7742" stop-color="#e8e84b"/><stop offset="0.7796" stop-color="#e8e848"/><stop offset="0.78" stop-color="#e8e848"/><stop offset="0.7849" stop-color="#e9e846"/><stop offset="0.7902" stop-color="#e9e845"/><stop offset="0.7955" stop-color="#eae843"/><stop offset="0.7975" stop-color="#eae843"/><stop offset="0.8009" stop-color="#eae842"/><stop offset="0.8062" stop-color="#ebe840"/><stop offset="0.8115" stop-color="#ede83d"/><stop offset="0.815" stop-color="#eee839"/><stop offset="0.8169" stop-color="#efe836"/><stop offset="0.8222" stop-color="#f4e82b"/><stop offset="0.8225" stop-color="#f4e82a"/><stop offset="0.8275" stop-color="#fbe01f"/><stop offset="0.83" stop-color="#ffd31e"/><stop offset="0.8328" stop-color="#fdbf23"/><stop offset="0.835" stop-color="#fcad28"/><stop offset="0.8382" stop-color="#f99b2c"/><stop offset="0.84" stop-color="#f7932d"/><stop offset="0.8435" stop-color="#f4822f"/><stop offset="0.8475" stop-color="#f26e2f"/><stop offset="0.8488" stop-color="#f1692f"/><stop offset="0.8541" stop-color="#ee5030"/><stop offset="0.855" stop-color="#ee4c31"/><stop offset="0.8595" stop-color="#ec3c32"/><stop offset="0.8648" stop-color="#ea2c34"/><stop offset="0.865" stop-color="#ea2c34"/><stop offset="0.8701" stop-color="#e92435"/><stop offset="0.875" stop-color="#e92635"/><stop offset="0.8755" stop-color="#e92735"/><stop offset="0.8808" stop-color="#eb3833"/><stop offset="0.8825" stop-color="#ec4032"/><stop offset="0.8861" stop-color="#ee5030"/><stop offset="0.89" stop-color="#f1642f"/><stop offset="0.8914" stop-color="#f16a2f"/><stop offset="0.895" stop-color="#f37a2f"/><stop offset="0.8968" stop-color="#f4832f"/><stop offset="0.9" stop-color="#f7932d"/><stop offset="0.9021" stop-color="#f99c2c"/><stop offset="0.905" stop-color="#fcae28"/><stop offset="0.9074" stop-color="#fec222"/><stop offset="0.91" stop-color="#fed71e"/><stop offset="0.9127" stop-color="#f8e820"/><stop offset="0.9175" stop-color="#eee838"/><stop offset="0.9181" stop-color="#ede83b"/><stop offset="0.9234" stop-color="#e9ea55"/><stop offset="0.925" stop-color="#eaeb5d"/><stop offset="0.928" stop-color="#ebed6c"/><stop offset="0.9287" stop-color="#ebed70"/><stop offset="0.9325" stop-color="#edee81"/><stop offset="0.9325" stop-color="#edee81"/><stop offset="0.9341" stop-color="#eeee89"/><stop offset="0.937" stop-color="#efee97"/><stop offset="0.9394" stop-color="#f1efa3"/><stop offset="0.94" stop-color="#f1efa6"/><stop offset="0.9415" stop-color="#f2f0ad"/><stop offset="0.9447" stop-color="#f4f1bd"/><stop offset="0.946" stop-color="#f5f2c3"/><stop offset="0.9475" stop-color="#f6f3ca"/><stop offset="0.95" stop-color="#f8f5d4"/><stop offset="0.9505" stop-color="#f8f5d6"/><stop offset="0.955" stop-color="#fbf8e2"/><stop offset="0.9551" stop-color="#fbf8e2"/><stop offset="0.9554" stop-color="#fbf8e3"/><stop offset="0.9595" stop-color="#fefdf7"/><stop offset="0.9607" stop-color="#fefef9"/><stop offset="0.964" stop-color="#fffffd"/><stop offset="0.966" stop-color="#fffffe"/><stop offset="0.9685" stop-color="#ffffff"/><stop offset="0.9713" stop-color="#ffffff"/><stop offset="0.973" stop-color="#ffffff"/><stop offset="0.9767" stop-color="#ffffff"/><stop offset="0.9775" stop-color="#ffffff"/><stop offset="0.982" stop-color="#ffffff"/><stop offset="1" stop-color="#ffffff"/></linearGradient>
<linearGradient id="c27" x1="0" y1="0" x2="1" y2="0"><stop offset="0" stop-color="#ffffff"/><stop offset="0.583" stop-color="#ffffff"/><stop offset="0.5875" stop-color="#ffffff"/><stop offset="0.5906" stop-color="#ffffff"/><stop offset="0.592" stop-color="#ffffff"/><stop offset="0.5965" stop-color="#ffffff"/><stop offset="0.5982" stop-color="#ffffff"/><stop offset="0.601" stop-color="#fffffe"/><stop offset="0.6055" stop-color="#fefefa"/><stop offset="0.6057" stop-color="#fefefa"/><stop offset="0.6099" stop-color="#fdfbef"/><stop offset="0.61" stop-color="#fdfbef"/><stop offset="0.6133" stop-color="#fbf8e1"/><stop offset="0.6145" stop-color="#faf7df"/><stop offset="0.619" stop-color="#f8f5d4"/><stop offset="0.62" stop-color="#f8f5d2"/><stop offset="0.6209" stop-color="#f7f4cf"/><stop offset="0.6235" stop-color="#f5f2c8"/><stop offset="0.628" stop-color="#f4f1bc"/><stop offset="0.6285" stop-color="#f4f1bb"/><stop offset="0.63" stop-color="#f3f1b8"/><stop offset="0.6325" stop-color="#f3f0b2"/><stop offset="0.6361" stop-color="#f2f0ac"/><stop offset="0.637" stop-color="#f2f0aa"/><stop offset="0.6437" stop-color="#f1efa1"/><stop offset="0.65" stop-color="#f0ef98"/><stop offset="0.6512" stop-color="#efee97"/><stop offset="0.6588" stop-color="#eeee8e"/><stop offset="0.6664" stop-color="#edee85"/><stop offset="0.67" stop-color="#edee81"/><stop offset="0.674" stop-color="#edee7d"/><stop offset="0.6816" stop-color="#eced75"/><stop offset="0.6891" stop-color="#ebed6d"/><stop offset="0.69" stop-color="#ebed6c"/><stop offset="0.6967" stop-color="#eaec65"/><stop offset="0.7043" stop-color="#e9ea5b"/><stop offset="0.71" stop-color="#e9e954"/><stop offset="0.7119" stop-color="#e9e951"/><stop offset="0.7195" stop-color="#e9e846"/><stop offset="0.72" stop-color="#e9e845"/><stop offset="0.7271" stop-color="#eee838"/><stop offset="0.73" stop-color="#f1e831"/><stop offset="0.7346" stop-color="#f6e825"/><stop offset="0.735" stop-color="#f6e824"/><stop offset="0.74" stop-color="#fcdc1f"/><stop offset="0.7422" stop-color="#fed51e"/><stop offset="0.7498" stop-color="#fdba25"/><stop offset="0.75" stop-color="#fdb925"/><stop offset="0.7574" stop-color="#fba52a"/><stop offset="0.76" stop-color="#faa12b"/><stop offset="0.765" stop-color="#f99c2c"/><stop offset="0.7725" stop-color="#f8952d"/><stop offset="0.78" stop-color="#f6902e"/><stop offset="0.7801" stop-color="#f6902e"/><stop offset="0.7877" stop-color="#f58b2f"/><stop offset="0.7953" stop-color="#f5862f"/><stop offset="0.8" stop-color="#f4822f"/><stop offset="0.8029" stop-color="#f4802f"/><stop offset="0.8105" stop-color="#f37b2f"/><stop offset="0.818" stop-color="#f3772f"/><stop offset="0.82" stop-color="#f3752f"/><stop offset="0.8256" stop-color="#f2722f"/><stop offset="0.8332" stop-color="#f16c2f"/><stop offset="0.84" stop-color="#f1662f"/><stop offset="0.8408" stop-color="#f1652f"/><stop offset="0.8484" stop-color="#ef5830"/><stop offset="0.8525" stop-color="#ee4e31"/><stop offset="0.8559" stop-color="#ed4631"/><stop offset="0.8635" stop-color="#eb3333"/><stop offset="0.865" stop-color="#ea3034"/><stop offset="0.8711" stop-color="#e92535"/><stop offset="0.8725" stop-color="#e92435"/><stop offset="0.8787" stop-color="#e92135"/><stop offset="0.88" stop-color="#e92235"/><stop offset="0.8863" stop-color="#ea2b34"/><stop offset="0.8875" stop-color="#ea2f34"/><stop offset="0.8939" stop-color="#ed4232"/><stop offset="0.895" stop-color="#ed4631"/><stop offset="0.9014" stop-color="#ef5b2f"/><stop offset="0.905" stop-color="#f1662f"/><stop offset="0.909" stop-color="#f2712f"/><stop offset="0.915" stop-color="#f5852f"/><stop offset="0.9166" stop-color="#f58b2f"/><stop offset="0.9225" stop-color="#faa02b"/><stop offset="0.9242" stop-color="#fba62a"/><stop offset="0.93" stop-color="#ffce1f"/><stop offset="0.9318" stop-color="#fdd81f"/><stop offset="0.9393" stop-color="#f2e830"/><stop offset="0.94" stop-color="#f1e832"/><stop offset="0.9469" stop-color="#e8e84a"/><stop offset="0.95" stop-color="#e9e953"/><stop offset="0.9545" stop-color="#eaeb5f"/><stop offset="0.9621" stop-color="#ebed71"/><stop offset="0.965" stop-color="#eced76"/><stop offset="0.9697" stop-color="#edee7f"/><stop offset="0.973" stop-color="#edee85"/><stop offset="0.9773" stop-color="#eeee8e"/><stop offset="0.9775" stop-color="#eeee8e"/><stop offset="0.98" stop-color="#efee93"/><stop offset="0.982" stop-color="#f0ef97"/><stop offset="0.9848" stop-color="#f0ef9d"/><stop offset="0.9865" stop-color="#f1efa1"/><stop offset="0.99" stop-color="#f2efa8"/><stop offset="0.991" stop-color="#f2f0ab"/><stop offset="0.9924" stop-color="#f2f0ad"/><stop offset="0.9955" stop-color="#f3f0b3"/><stop offset="1" stop-color="#f4f1ba"/></linearGradient>
<linearGradient id="dh" x1="0" y1="0" x2="1" y2="0"><stop offset="0" stop-color="#eb7643"/><stop offset="0.0045" stop-color="#ec7743"/><stop offset="0.009" stop-color="#ec7844"/><stop offset="0.0135" stop-color="#ec7a44"/><stop offset="0.018" stop-color="#ed7c45"/><stop offset="0.0225" stop-color="#ed7d46"/><stop offset="0.0256" stop-color="#ed7e46"/><stop offset="0.027" stop-color="#ed7f46"/><stop offset="0.0465" stop-color="#ef854b"/><stop offset="0.0513" stop-color="#ef874c"/><stop offset="0.0769" stop-color="#f18e52"/><stop offset="0.093" stop-color="#f29356"/><stop offset="0.1026" stop-color="#f29558"/><stop offset="0.1282" stop-color="#f3995b"/><stop offset="0.1538" stop-color="#f39d5e"/><stop offset="0.1615" stop-color="#f39e5e"/><stop offset="0.1795" stop-color="#f4a060"/><stop offset="0.2051" stop-color="#f4a463"/><stop offset="0.23" stop-color="#f5a765"/><stop offset="0.2308" stop-color="#f5a765"/><stop offset="0.2564" stop-color="#f5aa67"/><stop offset="0.2821" stop-color="#f5ad69"/><stop offset="0.3" stop-color="#f6af6b"/><stop offset="0.3077" stop-color="#f6af6c"/><stop offset="0.3333" stop-color="#f6b36e"/><stop offset="0.359" stop-color="#f7b671"/><stop offset="0.37" stop-color="#f7b772"/><stop offset="0.3846" stop-color="#f7b974"/><stop offset="0.4103" stop-color="#f8bc77"/><stop offset="0.4359" stop-color="#f8bf79"/><stop offset="0.44" stop-color="#f8c07a"/><stop offset="0.4615" stop-color="#f8c27c"/><stop offset="0.4872" stop-color="#f8c57e"/><stop offset="0.51" stop-color="#f8c780"/><stop offset="0.5128" stop-color="#f8c781"/><stop offset="0.5385" stop-color="#f8ca83"/><stop offset="0.56" stop-color="#f8cc84"/><stop offset="0.5641" stop-color="#f8cc85"/><stop offset="0.5897" stop-color="#f8cf87"/><stop offset="0.61" stop-color="#f8d189"/><stop offset="0.6154" stop-color="#f8d28a"/><stop offset="0.641" stop-color="#f7d58e"/><stop offset="0.655" stop-color="#f7d891"/><stop offset="0.6667" stop-color="#f7da93"/><stop offset="0.6923" stop-color="#f6de98"/><stop offset="0.7" stop-color="#f6e09a"/><stop offset="0.7179" stop-color="#f5e39e"/><stop offset="0.725" stop-color="#f5e5a0"/><stop offset="0.7436" stop-color="#f3e8a6"/><stop offset="0.75" stop-color="#f3eaa7"/><stop offset="0.7692" stop-color="#f2ebaa"/><stop offset="0.785" stop-color="#f1edac"/><stop offset="0.7949" stop-color="#f0eead"/><stop offset="0.82" stop-color="#eef0b0"/><stop offset="0.8205" stop-color="#eef0b0"/><stop offset="0.8462" stop-color="#ebeeb0"/><stop offset="0.855" stop-color="#eaedb0"/><stop offset="0.8718" stop-color="#e7ebb0"/><stop offset="0.89" stop-color="#e2e8af"/><stop offset="0.8974" stop-color="#dfe7ae"/><stop offset="0.9125" stop-color="#d9e3ab"/><stop offset="0.9231" stop-color="#d2e0a9"/><stop offset="0.935" stop-color="#c9dda7"/><stop offset="0.9487" stop-color="#bcd8a5"/><stop offset="0.9525" stop-color="#b8d7a4"/><stop offset="0.97" stop-color="#a6d1a1"/><stop offset="0.973" stop-color="#a3d0a0"/><stop offset="0.9744" stop-color="#a1cfa0"/><stop offset="0.9775" stop-color="#9dcea0"/><stop offset="0.98" stop-color="#9acc9f"/><stop offset="0.982" stop-color="#97ca9f"/><stop offset="0.9865" stop-color="#8fc79e"/><stop offset="0.99" stop-color="#88c0a0"/><stop offset="0.991" stop-color="#86bea1"/><stop offset="0.995" stop-color="#7eb6a3"/><stop offset="0.9955" stop-color="#7db5a4"/><stop offset="1" stop-color="#74ada7"/></linearGradient>
<linearGradient id="d0" x1="0" y1="0" x2="1" y2="0"><stop offset="0" stop-color="#ffffff"/><stop offset="0.013" stop-color="#ffffff"/><stop offset="0.0175" stop-color="#ffffff"/><stop offset="0.0177" stop-color="#ffffff"/><stop offset="0.022" stop-color="#ffffff"/><stop offset="0.0224" stop-color="#ffffff"/><stop offset="0.0265" stop-color="#ffffff"/><stop offset="0.0271" stop-color="#ffffff"/><stop offset="0.031" stop-color="#fffffe"/><stop offset="0.0318" stop-color="#fffffe"/><stop offset="0.0355" stop-color="#fefef9"/><stop offset="0.0365" stop-color="#fefdf6"/><stop offset="0.0399" stop-color="#fbf9e6"/><stop offset="0.04" stop-color="#fbf9e5"/><stop offset="0.04" stop-color="#fbf9e5"/><stop offset="0.0413" stop-color="#fbf8e0"/><stop offset="0.0445" stop-color="#f9f6d7"/><stop offset="0.046" stop-color="#f7f4d1"/><stop offset="0.0475" stop-color="#f6f3cb"/><stop offset="0.049" stop-color="#f5f2c4"/><stop offset="0.0507" stop-color="#f4f1bc"/><stop offset="0.0535" stop-color="#f2f0ad"/><stop offset="0.055" stop-color="#f1efa6"/><stop offset="0.0554" stop-color="#f1efa4"/><stop offset="0.058" stop-color="#efee97"/><stop offset="0.0601" stop-color="#eeee8d"/><stop offset="0.0625" stop-color="#edee82"/><stop offset="0.0648" stop-color="#eced77"/><stop offset="0.067" stop-color="#ebed6c"/><stop offset="0.0695" stop-color="#eaeb5f"/><stop offset="0.07" stop-color="#eaeb5c"/><stop offset="0.0742" stop-color="#e9e846"/><stop offset="0.0775" stop-color="#f0e835"/><stop offset="0.0789" stop-color="#f3e82d"/><stop offset="0.0836" stop-color="#fdd71e"/><stop offset="0.085" stop-color="#fecc20"/><stop offset="0.0883" stop-color="#fbab29"/><stop offset="0.09" stop-color="#faa02b"/><stop offset="0.0931" stop-color="#f68f2e"/><stop offset="0.095" stop-color="#f4832f"/><stop offset="0.0978" stop-color="#f2722f"/><stop offset="0.1" stop-color="#f1652f"/><stop offset="0.1025" stop-color="#ef5530"/><stop offset="0.105" stop-color="#ed4531"/><stop offset="0.1072" stop-color="#ec3a32"/><stop offset="0.1115" stop-color="#ea2934"/><stop offset="0.1119" stop-color="#e92835"/><stop offset="0.1166" stop-color="#e92535"/><stop offset="0.118" stop-color="#e92635"/><stop offset="0.1213" stop-color="#ea2f34"/><stop offset="0.124" stop-color="#ec3c32"/><stop offset="0.126" stop-color="#ed4531"/><stop offset="0.13" stop-color="#ef5a30"/><stop offset="0.1307" stop-color="#f05f2f"/><stop offset="0.135" stop-color="#f2712f"/><stop offset="0.1354" stop-color="#f2732f"/><stop offset="0.14" stop-color="#f5882f"/><stop offset="0.1401" stop-color="#f5882f"/><stop offset="0.1449" stop-color="#f89a2c"/><stop offset="0.145" stop-color="#f99a2c"/><stop offset="0.1496" stop-color="#fcac28"/><stop offset="0.15" stop-color="#fcaf28"/><stop offset="0.1543" stop-color="#fec621"/><stop offset="0.155" stop-color="#feca20"/><stop offset="0.159" stop-color="#fdda1f"/><stop offset="0.16" stop-color="#fcdd1f"/><stop offset="0.1637" stop-color="#f8e820"/><stop offset="0.1684" stop-color="#f4e82a"/><stop offset="0.17" stop-color="#f3e82d"/><stop offset="0.1731" stop-color="#f1e832"/><stop offset="0.1778" stop-color="#eee838"/><stop offset="0.18" stop-color="#ede83b"/><stop offset="0.1825" stop-color="#ece83d"/><stop offset="0.1872" stop-color="#ebe840"/><stop offset="0.19" stop-color="#eae842"/><stop offset="0.1919" stop-color="#eae843"/><stop offset="0.1967" stop-color="#e9e847"/><stop offset="0.2" stop-color="#e8e84b"/><stop offset="0.2014" stop-color="#e8e94d"/><stop offset="0.2061" stop-color="#e9ea56"/><stop offset="0.2075" stop-color="#e9ea5a"/><stop offset="0.2108" stop-color="#eaeb63"/><stop offset="0.215" stop-color="#ebed71"/><stop offset="0.2155" stop-color="#ebed72"/><stop offset="0.218" stop-color="#eced7a"/><stop offset="0.2202" stop-color="#edee81"/><stop offset="0.2225" stop-color="#eeee89"/><stop offset="0.2249" stop-color="#efee92"/><stop offset="0.227" stop-color="#f0ef9a"/><stop offset="0.2296" stop-color="#f1efa5"/><stop offset="0.23" stop-color="#f1efa7"/><stop offset="0.2315" stop-color="#f2f0ae"/><stop offset="0.2343" stop-color="#f4f1bb"/><stop offset="0.236" stop-color="#f5f2c3"/><stop offset="0.2375" stop-color="#f6f3ca"/><stop offset="0.239" stop-color="#f7f4d1"/><stop offset="0.2405" stop-color="#f8f5d6"/><stop offset="0.2437" stop-color="#fbf8e0"/><stop offset="0.245" stop-color="#fbf8e4"/><stop offset="0.2451" stop-color="#fbf9e4"/><stop offset="0.2485" stop-color="#fefdf6"/><stop offset="0.2495" stop-color="#fefdf9"/><stop offset="0.2532" stop-color="#fffffe"/><stop offset="0.254" stop-color="#fffffe"/><stop offset="0.2579" stop-color="#ffffff"/><stop offset="0.2585" stop-color="#ffffff"/><stop offset="0.2626" stop-color="#ffffff"/><stop offset="0.263" stop-color="#ffffff"/><stop offset="0.2673" stop-color="#ffffff"/><stop offset="0.2675" stop-color="#ffffff"/><stop offset="0.272" stop-color="#ffffff"/><stop offset="1" stop-color="#ffffff"/></linearGradient>
<linearGradient id="d1" x1="0" y1="0" x2="1" y2="0"><stop offset="0" stop-color="#edee80"/><stop offset="0.0045" stop-color="#edee7d"/><stop offset="0.009" stop-color="#eced7a"/><stop offset="0.0135" stop-color="#eced77"/><stop offset="0.018" stop-color="#ebed74"/><stop offset="0.0182" stop-color="#ebed74"/><stop offset="0.0225" stop-color="#ebed71"/><stop offset="0.025" stop-color="#ebed6f"/><stop offset="0.027" stop-color="#ebed6d"/><stop offset="0.0364" stop-color="#eaec66"/><stop offset="0.05" stop-color="#eaeb5c"/><stop offset="0.0545" stop-color="#e9ea59"/><stop offset="0.0727" stop-color="#e8e94e"/><stop offset="0.075" stop-color="#e8e94c"/><stop offset="0.0909" stop-color="#eae842"/><stop offset="0.1" stop-color="#ede83c"/><stop offset="0.1091" stop-color="#f0e835"/><stop offset="0.12" stop-color="#f3e82b"/><stop offset="0.1273" stop-color="#f6e825"/><stop offset="0.14" stop-color="#fbdf1f"/><stop offset="0.1455" stop-color="#fdd81f"/><stop offset="0.155" stop-color="#feca20"/><stop offset="0.1636" stop-color="#fdbb24"/><stop offset="0.17" stop-color="#fcb127"/><stop offset="0.1818" stop-color="#faa32b"/><stop offset="0.195" stop-color="#f89a2c"/><stop offset="0.2" stop-color="#f8962d"/><stop offset="0.2182" stop-color="#f58a2f"/><stop offset="0.22" stop-color="#f5892f"/><stop offset="0.2364" stop-color="#f47d2f"/><stop offset="0.25" stop-color="#f2732f"/><stop offset="0.2545" stop-color="#f2702f"/><stop offset="0.2727" stop-color="#f1652f"/><stop offset="0.28" stop-color="#f0602f"/><stop offset="0.2909" stop-color="#ef5530"/><stop offset="0.305" stop-color="#ed4631"/><stop offset="0.3091" stop-color="#ec4232"/><stop offset="0.3273" stop-color="#ea3034"/><stop offset="0.33" stop-color="#ea2d34"/><stop offset="0.3455" stop-color="#e92435"/><stop offset="0.35" stop-color="#e92235"/><stop offset="0.3636" stop-color="#e81d36"/><stop offset="0.37" stop-color="#e81c36"/><stop offset="0.3818" stop-color="#e81c36"/><stop offset="0.385" stop-color="#e81c36"/><stop offset="0.4" stop-color="#e81d36"/><stop offset="0.4" stop-color="#e81d36"/><stop offset="0.4182" stop-color="#eb3233"/><stop offset="0.42" stop-color="#eb3533"/><stop offset="0.4364" stop-color="#ee4b31"/><stop offset="0.44" stop-color="#ee4e31"/><stop offset="0.4545" stop-color="#ef5830"/><stop offset="0.47" stop-color="#f0602f"/><stop offset="0.4727" stop-color="#f0612f"/><stop offset="0.4909" stop-color="#f1652f"/><stop offset="0.5" stop-color="#f1672f"/><stop offset="0.5091" stop-color="#f1682f"/><stop offset="0.5273" stop-color="#f16a2f"/><stop offset="0.5455" stop-color="#f16c2f"/><stop offset="0.55" stop-color="#f26c2f"/><stop offset="0.5636" stop-color="#f26d2f"/><stop offset="0.5818" stop-color="#f26f2f"/><stop offset="0.6" stop-color="#f2712f"/><stop offset="0.6182" stop-color="#f2732f"/><stop offset="0.6364" stop-color="#f3762f"/><stop offset="0.65" stop-color="#f3782f"/><stop offset="0.6545" stop-color="#f3792f"/><stop offset="0.6727" stop-color="#f37c2f"/><stop offset="0.6909" stop-color="#f4802f"/><stop offset="0.7" stop-color="#f4822f"/><stop offset="0.7091" stop-color="#f4852f"/><stop offset="0.7273" stop-color="#f58b2f"/><stop offset="0.73" stop-color="#f68c2f"/><stop offset="0.7455" stop-color="#f7922e"/><stop offset="0.76" stop-color="#f8982c"/><stop offset="0.7636" stop-color="#f8992c"/><stop offset="0.78" stop-color="#faa12b"/><stop offset="0.7818" stop-color="#faa22b"/><stop offset="0.8" stop-color="#fcb127"/><stop offset="0.8" stop-color="#fcb127"/><stop offset="0.8182" stop-color="#fec621"/><stop offset="0.82" stop-color="#fec921"/><stop offset="0.8364" stop-color="#fcdb1f"/><stop offset="0.84" stop-color="#fbdf1f"/><stop offset="0.8545" stop-color="#f5e827"/><stop offset="0.86" stop-color="#f3e82d"/><stop offset="0.8727" stop-color="#eee839"/><stop offset="0.88" stop-color="#ebe840"/><stop offset="0.8909" stop-color="#e8e848"/><stop offset="0.9091" stop-color="#e9ea55"/><stop offset="0.915" stop-color="#e9ea59"/><stop offset="0.9273" stop-color="#eaeb61"/><stop offset="0.9455" stop-color="#ebed6d"/><stop offset="0.95" stop-color="#ebed70"/><stop offset="0.9636" stop-color="#eced79"/><stop offset="0.973" stop-color="#edee7f"/><stop offset="0.975" stop-color="#edee81"/><stop offset="0.9775" stop-color="#edee83"/><stop offset="0.9818" stop-color="#edee86"/><stop offset="0.982" stop-color="#eeee86"/><stop offset="0.9865" stop-color="#eeee89"/><stop offset="0.991" stop-color="#eeee8c"/><stop offset="0.9955" stop-color="#efee8f"/><stop offset="1" stop-color="#efee91"/></linearGradient>
<linearGradient id="d2" x1="0" y1="0" x2="1" y2="0"><stop offset="0" stop-color="#efee90"/><stop offset="0.0045" stop-color="#eeee8d"/><stop offset="0.009" stop-color="#eeee89"/><stop offset="0.0135" stop-color="#edee85"/><stop offset="0.015" stop-color="#edee83"/><stop offset="0.0165" stop-color="#edee81"/><stop offset="0.018" stop-color="#edee7f"/><stop offset="0.0225" stop-color="#eced7a"/><stop offset="0.027" stop-color="#ebed74"/><stop offset="0.03" stop-color="#ebed70"/><stop offset="0.033" stop-color="#ebec6b"/><stop offset="0.0425" stop-color="#e9ea59"/><stop offset="0.0495" stop-color="#e8e84b"/><stop offset="0.055" stop-color="#ebe840"/><stop offset="0.065" stop-color="#f4e82b"/><stop offset="0.066" stop-color="#f5e829"/><stop offset="0.075" stop-color="#fdd91f"/><stop offset="0.0825" stop-color="#fdbc24"/><stop offset="0.0825" stop-color="#fdbc24"/><stop offset="0.09" stop-color="#faa22b"/><stop offset="0.0989" stop-color="#f7932d"/><stop offset="0.105" stop-color="#f58b2f"/><stop offset="0.1154" stop-color="#f47f2f"/><stop offset="0.12" stop-color="#f37c2f"/><stop offset="0.1319" stop-color="#f3762f"/><stop offset="0.1484" stop-color="#f2712f"/><stop offset="0.16" stop-color="#f26d2f"/><stop offset="0.1649" stop-color="#f26c2f"/><stop offset="0.1814" stop-color="#f1692f"/><stop offset="0.1979" stop-color="#f1672f"/><stop offset="0.2" stop-color="#f1672f"/><stop offset="0.2144" stop-color="#f1662f"/><stop offset="0.2309" stop-color="#f1652f"/><stop offset="0.2474" stop-color="#f0642f"/><stop offset="0.25" stop-color="#f0642f"/><stop offset="0.2639" stop-color="#f0632f"/><stop offset="0.2803" stop-color="#f0622f"/><stop offset="0.2968" stop-color="#f0602f"/><stop offset="0.3" stop-color="#f0602f"/><stop offset="0.3133" stop-color="#ef5930"/><stop offset="0.32" stop-color="#ef5430"/><stop offset="0.3298" stop-color="#ee4c31"/><stop offset="0.34" stop-color="#ed4432"/><stop offset="0.3463" stop-color="#ec3e32"/><stop offset="0.36" stop-color="#ea2c34"/><stop offset="0.3628" stop-color="#ea2934"/><stop offset="0.3793" stop-color="#e81d36"/><stop offset="0.38" stop-color="#e81d36"/><stop offset="0.39" stop-color="#e81c36"/><stop offset="0.3958" stop-color="#e81c36"/><stop offset="0.4" stop-color="#e81d36"/><stop offset="0.4123" stop-color="#ea2934"/><stop offset="0.42" stop-color="#eb3733"/><stop offset="0.4288" stop-color="#ed4631"/><stop offset="0.44" stop-color="#ef5430"/><stop offset="0.4453" stop-color="#ef5a30"/><stop offset="0.4617" stop-color="#f1662f"/><stop offset="0.47" stop-color="#f16a2f"/><stop offset="0.4782" stop-color="#f26f2f"/><stop offset="0.4947" stop-color="#f3782f"/><stop offset="0.5" stop-color="#f37b2f"/><stop offset="0.5112" stop-color="#f4832f"/><stop offset="0.525" stop-color="#f68c2f"/><stop offset="0.5277" stop-color="#f68d2e"/><stop offset="0.5442" stop-color="#f8972d"/><stop offset="0.55" stop-color="#f99a2c"/><stop offset="0.5607" stop-color="#faa02b"/><stop offset="0.57" stop-color="#fba62a"/><stop offset="0.5772" stop-color="#fcad28"/><stop offset="0.59" stop-color="#fdbc24"/><stop offset="0.5937" stop-color="#fdc123"/><stop offset="0.605" stop-color="#ffd21e"/><stop offset="0.6102" stop-color="#fdd81f"/><stop offset="0.62" stop-color="#f9e420"/><stop offset="0.6267" stop-color="#f7e823"/><stop offset="0.64" stop-color="#f1e831"/><stop offset="0.6431" stop-color="#f0e834"/><stop offset="0.6596" stop-color="#eae844"/><stop offset="0.66" stop-color="#eae844"/><stop offset="0.6761" stop-color="#e9e951"/><stop offset="0.69" stop-color="#e9ea5a"/><stop offset="0.6926" stop-color="#eaeb5c"/><stop offset="0.7091" stop-color="#eaec68"/><stop offset="0.72" stop-color="#ebed70"/><stop offset="0.7256" stop-color="#ebed74"/><stop offset="0.7421" stop-color="#edee80"/><stop offset="0.75" stop-color="#eeee86"/><stop offset="0.7586" stop-color="#eeee8d"/><stop offset="0.7751" stop-color="#f0ef99"/><stop offset="0.78" stop-color="#f0ef9d"/><stop offset="0.7916" stop-color="#f1efa5"/><stop offset="0.8081" stop-color="#f2f0b0"/><stop offset="0.81" stop-color="#f3f0b1"/><stop offset="0.8245" stop-color="#f4f1bb"/><stop offset="0.84" stop-color="#f5f2c6"/><stop offset="0.841" stop-color="#f5f2c7"/><stop offset="0.853" stop-color="#f8f5d3"/><stop offset="0.8575" stop-color="#f9f6d8"/><stop offset="0.8575" stop-color="#f9f6d8"/><stop offset="0.86" stop-color="#faf7db"/><stop offset="0.862" stop-color="#faf7dd"/><stop offset="0.8665" stop-color="#fbf8e1"/><stop offset="0.871" stop-color="#fdfbed"/><stop offset="0.874" stop-color="#fdfcf4"/><stop offset="0.8755" stop-color="#fefdf7"/><stop offset="0.88" stop-color="#fffefc"/><stop offset="0.8801" stop-color="#fffefc"/><stop offset="0.8845" stop-color="#fffffe"/><stop offset="0.889" stop-color="#ffffff"/><stop offset="0.8905" stop-color="#ffffff"/><stop offset="0.8935" stop-color="#ffffff"/><stop offset="0.898" stop-color="#ffffff"/><stop offset="0.9025" stop-color="#ffffff"/><stop offset="0.907" stop-color="#ffffff"/><stop offset="1" stop-color="#ffffff"/></linearGradient>
<linearGradient id="d3" x1="0" y1="0" x2="1" y2="0"><stop offset="0" stop-color="#ffffff"/><stop offset="0.197" stop-color="#ffffff"/><stop offset="0.2015" stop-color="#ffffff"/><stop offset="0.206" stop-color="#ffffff"/><stop offset="0.2088" stop-color="#ffffff"/><stop offset="0.2105" stop-color="#ffffff"/><stop offset="0.215" stop-color="#ffffff"/><stop offset="0.2195" stop-color="#fffffd"/><stop offset="0.2206" stop-color="#fffefc"/><stop offset="0.2239" stop-color="#fefdf8"/><stop offset="0.224" stop-color="#fefdf7"/><stop offset="0.2285" stop-color="#fcfaea"/><stop offset="0.2325" stop-color="#faf7df"/><stop offset="0.233" stop-color="#faf7df"/><stop offset="0.237" stop-color="#f9f6d8"/><stop offset="0.2375" stop-color="#f9f6d7"/><stop offset="0.242" stop-color="#f7f4cf"/><stop offset="0.2443" stop-color="#f6f3ca"/><stop offset="0.2465" stop-color="#f5f2c6"/><stop offset="0.25" stop-color="#f4f1c0"/><stop offset="0.251" stop-color="#f4f1be"/><stop offset="0.2561" stop-color="#f3f1b6"/><stop offset="0.2679" stop-color="#f1efa4"/><stop offset="0.27" stop-color="#f1efa1"/><stop offset="0.2797" stop-color="#efee92"/><stop offset="0.29" stop-color="#edee81"/><stop offset="0.2915" stop-color="#edee7f"/><stop offset="0.3034" stop-color="#ebec6b"/><stop offset="0.305" stop-color="#eaec68"/><stop offset="0.3152" stop-color="#e9e953"/><stop offset="0.32" stop-color="#e9e846"/><stop offset="0.327" stop-color="#f2e830"/><stop offset="0.3275" stop-color="#f2e82e"/><stop offset="0.335" stop-color="#fcdc1f"/><stop offset="0.3388" stop-color="#ffce1f"/><stop offset="0.345" stop-color="#fcb626"/><stop offset="0.3506" stop-color="#faa32b"/><stop offset="0.355" stop-color="#f99a2c"/><stop offset="0.3625" stop-color="#f68c2f"/><stop offset="0.3675" stop-color="#f4812f"/><stop offset="0.3743" stop-color="#f2722f"/><stop offset="0.38" stop-color="#f1672f"/><stop offset="0.3861" stop-color="#ef5b2f"/><stop offset="0.3925" stop-color="#ee4b31"/><stop offset="0.3979" stop-color="#ec3f32"/><stop offset="0.405" stop-color="#ea2f34"/><stop offset="0.4097" stop-color="#e92735"/><stop offset="0.4125" stop-color="#e92435"/><stop offset="0.42" stop-color="#e82036"/><stop offset="0.4215" stop-color="#e92135"/><stop offset="0.43" stop-color="#ea2c34"/><stop offset="0.4334" stop-color="#eb3533"/><stop offset="0.44" stop-color="#ed4631"/><stop offset="0.4452" stop-color="#ef5630"/><stop offset="0.45" stop-color="#f0642f"/><stop offset="0.457" stop-color="#f2742f"/><stop offset="0.46" stop-color="#f37a2f"/><stop offset="0.4688" stop-color="#f58a2f"/><stop offset="0.475" stop-color="#f7932d"/><stop offset="0.4806" stop-color="#f99a2c"/><stop offset="0.49" stop-color="#fba62a"/><stop offset="0.4925" stop-color="#fbab29"/><stop offset="0.5025" stop-color="#fec222"/><stop offset="0.5043" stop-color="#fec621"/><stop offset="0.515" stop-color="#fcdb1f"/><stop offset="0.5161" stop-color="#fbdd1f"/><stop offset="0.5275" stop-color="#f4e82a"/><stop offset="0.5279" stop-color="#f4e82b"/><stop offset="0.5397" stop-color="#ede83b"/><stop offset="0.54" stop-color="#ede83b"/><stop offset="0.5515" stop-color="#eae843"/><stop offset="0.5634" stop-color="#e8e848"/><stop offset="0.57" stop-color="#e8e84b"/><stop offset="0.5752" stop-color="#e8e94c"/><stop offset="0.587" stop-color="#e9e950"/><stop offset="0.5988" stop-color="#e9e954"/><stop offset="0.6" stop-color="#e9e954"/><stop offset="0.6106" stop-color="#e9ea57"/><stop offset="0.6225" stop-color="#e9ea5a"/><stop offset="0.6343" stop-color="#eaeb5d"/><stop offset="0.6461" stop-color="#eaeb60"/><stop offset="0.65" stop-color="#eaeb61"/><stop offset="0.6579" stop-color="#eaeb63"/><stop offset="0.6697" stop-color="#eaec66"/><stop offset="0.6815" stop-color="#eaec69"/><stop offset="0.6934" stop-color="#ebed6d"/><stop offset="0.7" stop-color="#ebed70"/><stop offset="0.7052" stop-color="#ebed73"/><stop offset="0.717" stop-color="#eced79"/><stop offset="0.725" stop-color="#edee7f"/><stop offset="0.7288" stop-color="#edee82"/><stop offset="0.7406" stop-color="#eeee8b"/><stop offset="0.75" stop-color="#efee93"/><stop offset="0.7525" stop-color="#efee95"/><stop offset="0.7643" stop-color="#f0ef9f"/><stop offset="0.775" stop-color="#f2efaa"/><stop offset="0.7761" stop-color="#f2f0ab"/><stop offset="0.7879" stop-color="#f3f1b7"/><stop offset="0.793" stop-color="#f4f1be"/><stop offset="0.7975" stop-color="#f5f2c4"/><stop offset="0.7997" stop-color="#f5f2c7"/><stop offset="0.8" stop-color="#f5f2c7"/><stop offset="0.802" stop-color="#f6f3cb"/><stop offset="0.8065" stop-color="#f8f5d3"/><stop offset="0.81" stop-color="#f9f6da"/><stop offset="0.811" stop-color="#faf7db"/><stop offset="0.8115" stop-color="#faf7dc"/><stop offset="0.8155" stop-color="#fbf8e3"/><stop offset="0.82" stop-color="#fefcf4"/><stop offset="0.8201" stop-color="#fefcf5"/><stop offset="0.8234" stop-color="#fefefb"/><stop offset="0.8245" stop-color="#fffefc"/><stop offset="0.829" stop-color="#fffffe"/><stop offset="0.8335" stop-color="#ffffff"/><stop offset="0.8352" stop-color="#ffffff"/><stop offset="0.838" stop-color="#ffffff"/><stop offset="0.8425" stop-color="#ffffff"/><stop offset="0.847" stop-color="#ffffff"/><stop offset="1" stop-color="#ffffff"/></linearGradient>
<linearGradient id="d4" x1="0" y1="0" x2="1" y2="0"><stop offset="0" stop-color="#ffffff"/><stop offset="0.298" stop-color="#ffffff"/><stop offset="0.3025" stop-color="#ffffff"/><stop offset="0.3042" stop-color="#ffffff"/><stop offset="0.307" stop-color="#ffffff"/><stop offset="0.3103" stop-color="#ffffff"/><stop offset="0.3115" stop-color="#ffffff"/><stop offset="0.316" stop-color="#fffffd"/><stop offset="0.3165" stop-color="#fffefd"/><stop offset="0.3205" stop-color="#fefdf5"/><stop offset="0.3227" stop-color="#fcfaec"/><stop offset="0.3249" stop-color="#fbf8e1"/><stop offset="0.325" stop-color="#fbf8e0"/><stop offset="0.3288" stop-color="#f8f5d6"/><stop offset="0.3295" stop-color="#f8f5d4"/><stop offset="0.3325" stop-color="#f5f2c8"/><stop offset="0.334" stop-color="#f5f2c2"/><stop offset="0.335" stop-color="#f4f1be"/><stop offset="0.3385" stop-color="#f2f0af"/><stop offset="0.34" stop-color="#f2f0aa"/><stop offset="0.3411" stop-color="#f1efa6"/><stop offset="0.343" stop-color="#f1efa0"/><stop offset="0.3473" stop-color="#efee94"/><stop offset="0.3475" stop-color="#efee94"/><stop offset="0.352" stop-color="#eeee8a"/><stop offset="0.3535" stop-color="#eeee87"/><stop offset="0.355" stop-color="#edee84"/><stop offset="0.3596" stop-color="#eced7d"/><stop offset="0.3658" stop-color="#eced75"/><stop offset="0.37" stop-color="#ebed71"/><stop offset="0.372" stop-color="#ebed6f"/><stop offset="0.3781" stop-color="#ebec6a"/><stop offset="0.3843" stop-color="#eaec67"/><stop offset="0.385" stop-color="#eaec66"/><stop offset="0.3905" stop-color="#eaeb63"/><stop offset="0.3966" stop-color="#eaeb5e"/><stop offset="0.4" stop-color="#e9ea5a"/><stop offset="0.4028" stop-color="#e9ea55"/><stop offset="0.4075" stop-color="#e8e849"/><stop offset="0.4089" stop-color="#e9e844"/><stop offset="0.415" stop-color="#f6e825"/><stop offset="0.4151" stop-color="#f6e824"/><stop offset="0.419" stop-color="#fec521"/><stop offset="0.4213" stop-color="#fba52a"/><stop offset="0.423" stop-color="#f8972d"/><stop offset="0.4265" stop-color="#f3782f"/><stop offset="0.4274" stop-color="#f2702f"/><stop offset="0.43" stop-color="#ef5a30"/><stop offset="0.4336" stop-color="#ec3b32"/><stop offset="0.4398" stop-color="#e92335"/><stop offset="0.44" stop-color="#e92335"/><stop offset="0.4459" stop-color="#eb3733"/><stop offset="0.45" stop-color="#ef5930"/><stop offset="0.4521" stop-color="#f16a2f"/><stop offset="0.4535" stop-color="#f3762f"/><stop offset="0.457" stop-color="#f7932d"/><stop offset="0.4583" stop-color="#f99d2c"/><stop offset="0.461" stop-color="#fdbc24"/><stop offset="0.4644" stop-color="#f9e620"/><stop offset="0.465" stop-color="#f7e823"/><stop offset="0.47" stop-color="#e9ea55"/><stop offset="0.4706" stop-color="#e9ea5b"/><stop offset="0.475" stop-color="#eeee87"/><stop offset="0.4767" stop-color="#f0ef97"/><stop offset="0.48" stop-color="#f3f0b4"/><stop offset="0.4829" stop-color="#f6f3c9"/><stop offset="0.485" stop-color="#f8f5d4"/><stop offset="0.4891" stop-color="#fbf8e2"/><stop offset="0.4952" stop-color="#fffefc"/><stop offset="0.5014" stop-color="#ffffff"/><stop offset="0.5075" stop-color="#ffffff"/><stop offset="0.5076" stop-color="#ffffff"/><stop offset="0.5137" stop-color="#ffffff"/><stop offset="0.5199" stop-color="#fffffe"/><stop offset="0.5261" stop-color="#fefcf4"/><stop offset="0.53" stop-color="#fbf8e1"/><stop offset="0.5322" stop-color="#faf7dd"/><stop offset="0.5375" stop-color="#f6f3cb"/><stop offset="0.5384" stop-color="#f5f2c8"/><stop offset="0.5445" stop-color="#f3f0b1"/><stop offset="0.545" stop-color="#f2f0b0"/><stop offset="0.5507" stop-color="#f0ef9f"/><stop offset="0.5569" stop-color="#efee91"/><stop offset="0.5575" stop-color="#efee90"/><stop offset="0.563" stop-color="#eeee88"/><stop offset="0.5692" stop-color="#edee84"/><stop offset="0.57" stop-color="#edee84"/><stop offset="0.5754" stop-color="#edee84"/><stop offset="0.5775" stop-color="#edee85"/><stop offset="0.5815" stop-color="#eeee88"/><stop offset="0.583" stop-color="#eeee8a"/><stop offset="0.585" stop-color="#eeee8d"/><stop offset="0.5875" stop-color="#efee93"/><stop offset="0.5877" stop-color="#efee93"/><stop offset="0.592" stop-color="#f1efa0"/><stop offset="0.5925" stop-color="#f1efa2"/><stop offset="0.5939" stop-color="#f1efa7"/><stop offset="0.5965" stop-color="#f3f0b1"/><stop offset="0.6" stop-color="#f4f1c0"/><stop offset="0.6" stop-color="#f4f1c0"/><stop offset="0.601" stop-color="#f5f2c4"/><stop offset="0.605" stop-color="#f8f5d3"/><stop offset="0.6055" stop-color="#f8f5d5"/><stop offset="0.6062" stop-color="#f9f6d7"/><stop offset="0.61" stop-color="#fbf8e1"/><stop offset="0.6101" stop-color="#fbf8e1"/><stop offset="0.6123" stop-color="#fcfaec"/><stop offset="0.6145" stop-color="#fefdf5"/><stop offset="0.6185" stop-color="#fffefd"/><stop offset="0.619" stop-color="#fffffd"/><stop offset="0.6235" stop-color="#ffffff"/><stop offset="0.6247" stop-color="#ffffff"/><stop offset="0.628" stop-color="#ffffff"/><stop offset="0.6308" stop-color="#ffffff"/><stop offset="0.6325" stop-color="#ffffff"/><stop offset="0.637" stop-color="#ffffff"/><stop offset="1" stop-color="#ffffff"/></linearGradient>
<linearGradient id="d5" x1="0" y1="0" x2="1" y2="0"><stop offset="0" stop-color="#f3f0b5"/><stop offset="0.0045" stop-color="#f3f0b4"/><stop offset="0.009" stop-color="#f3f0b4"/><stop offset="0.0135" stop-color="#f3f0b3"/><stop offset="0.018" stop-color="#f3f0b2"/><stop offset="0.0182" stop-color="#f3f0b2"/><stop offset="0.0225" stop-color="#f3f0b1"/><stop offset="0.027" stop-color="#f2f0b0"/><stop offset="0.0364" stop-color="#f2f0ae"/><stop offset="0.05" stop-color="#f2f0ab"/><stop offset="0.0545" stop-color="#f2f0aa"/><stop offset="0.0727" stop-color="#f1efa5"/><stop offset="0.0909" stop-color="#f1efa0"/><stop offset="0.1" stop-color="#f0ef9d"/><stop offset="0.1091" stop-color="#f0ef9a"/><stop offset="0.1273" stop-color="#efee94"/><stop offset="0.14" stop-color="#efee8e"/><stop offset="0.1455" stop-color="#eeee8c"/><stop offset="0.1636" stop-color="#edee83"/><stop offset="0.18" stop-color="#eced7a"/><stop offset="0.1818" stop-color="#eced79"/><stop offset="0.2" stop-color="#ebec6c"/><stop offset="0.205" stop-color="#eaec67"/><stop offset="0.2182" stop-color="#e9ea5a"/><stop offset="0.23" stop-color="#e8e84c"/><stop offset="0.2364" stop-color="#eae843"/><stop offset="0.2475" stop-color="#f1e832"/><stop offset="0.2545" stop-color="#f6e826"/><stop offset="0.265" stop-color="#fcda1f"/><stop offset="0.2727" stop-color="#fec821"/><stop offset="0.2775" stop-color="#fdbb24"/><stop offset="0.29" stop-color="#faa12b"/><stop offset="0.2909" stop-color="#faa02b"/><stop offset="0.3091" stop-color="#f7912e"/><stop offset="0.31" stop-color="#f6902e"/><stop offset="0.3273" stop-color="#f4842f"/><stop offset="0.33" stop-color="#f4822f"/><stop offset="0.3455" stop-color="#f3772f"/><stop offset="0.355" stop-color="#f2702f"/><stop offset="0.3636" stop-color="#f16b2f"/><stop offset="0.38" stop-color="#f0602f"/><stop offset="0.3818" stop-color="#f05e2f"/><stop offset="0.4" stop-color="#ed4831"/><stop offset="0.405" stop-color="#ec4232"/><stop offset="0.4182" stop-color="#ea2f34"/><stop offset="0.43" stop-color="#e92535"/><stop offset="0.4364" stop-color="#e92235"/><stop offset="0.45" stop-color="#e81f36"/><stop offset="0.4545" stop-color="#e81e36"/><stop offset="0.47" stop-color="#e81d36"/><stop offset="0.4727" stop-color="#e81d36"/><stop offset="0.485" stop-color="#e92235"/><stop offset="0.4909" stop-color="#e92635"/><stop offset="0.5" stop-color="#ea2e34"/><stop offset="0.5091" stop-color="#ec3c32"/><stop offset="0.52" stop-color="#ee4d31"/><stop offset="0.5273" stop-color="#ef5930"/><stop offset="0.54" stop-color="#f1662f"/><stop offset="0.5455" stop-color="#f16a2f"/><stop offset="0.5636" stop-color="#f2742f"/><stop offset="0.57" stop-color="#f3772f"/><stop offset="0.5818" stop-color="#f37c2f"/><stop offset="0.6" stop-color="#f4822f"/><stop offset="0.6182" stop-color="#f5852f"/><stop offset="0.6364" stop-color="#f5882f"/><stop offset="0.65" stop-color="#f5892f"/><stop offset="0.6545" stop-color="#f5892f"/><stop offset="0.6727" stop-color="#f58b2f"/><stop offset="0.6909" stop-color="#f68d2e"/><stop offset="0.7" stop-color="#f68f2e"/><stop offset="0.7091" stop-color="#f7922e"/><stop offset="0.72" stop-color="#f8962d"/><stop offset="0.7273" stop-color="#f8992c"/><stop offset="0.74" stop-color="#faa02b"/><stop offset="0.7455" stop-color="#faa42a"/><stop offset="0.7525" stop-color="#fbaa29"/><stop offset="0.7636" stop-color="#fdba24"/><stop offset="0.765" stop-color="#fdbd24"/><stop offset="0.775" stop-color="#ffcf1f"/><stop offset="0.7818" stop-color="#fcda1f"/><stop offset="0.785" stop-color="#fbdf1f"/><stop offset="0.8" stop-color="#f4e82a"/><stop offset="0.8025" stop-color="#f3e82d"/><stop offset="0.8182" stop-color="#ece83e"/><stop offset="0.82" stop-color="#ebe840"/><stop offset="0.8364" stop-color="#e8e94e"/><stop offset="0.85" stop-color="#e9ea59"/><stop offset="0.8545" stop-color="#eaeb5d"/><stop offset="0.8727" stop-color="#ebec6a"/><stop offset="0.88" stop-color="#ebed70"/><stop offset="0.8909" stop-color="#eced77"/><stop offset="0.9091" stop-color="#edee84"/><stop offset="0.915" stop-color="#eeee88"/><stop offset="0.9273" stop-color="#efee8f"/><stop offset="0.9455" stop-color="#f0ef9a"/><stop offset="0.95" stop-color="#f0ef9d"/><stop offset="0.9636" stop-color="#f1efa4"/><stop offset="0.973" stop-color="#f2efa9"/><stop offset="0.975" stop-color="#f2f0aa"/><stop offset="0.9775" stop-color="#f2f0ab"/><stop offset="0.9818" stop-color="#f2f0ad"/><stop offset="0.982" stop-color="#f2f0ad"/><stop offset="0.9865" stop-color="#f2f0af"/><stop offset="0.991" stop-color="#f3f0b1"/><stop offset="0.9955" stop-color="#f3f0b3"/><stop offset="1" stop-color="#f3f0b4"/></linearGradient>
<linearGradient id="d6" x1="0" y1="0" x2="1" y2="0"><stop offset="0" stop-color="#ffffff"/><stop offset="0.003" stop-color="#ffffff"/><stop offset="0.0075" stop-color="#ffffff"/><stop offset="0.012" stop-color="#ffffff"/><stop offset="0.0165" stop-color="#ffffff"/><stop offset="0.021" stop-color="#ffffff"/><stop offset="0.0211" stop-color="#ffffff"/><stop offset="0.0255" stop-color="#fffffd"/><stop offset="0.0299" stop-color="#fefef9"/><stop offset="0.03" stop-color="#fefef9"/><stop offset="0.03" stop-color="#fefef9"/><stop offset="0.0345" stop-color="#fdfbef"/><stop offset="0.039" stop-color="#fbf8e1"/><stop offset="0.0393" stop-color="#fbf8e1"/><stop offset="0.0435" stop-color="#faf7dc"/><stop offset="0.045" stop-color="#f9f6da"/><stop offset="0.048" stop-color="#f8f5d5"/><stop offset="0.0525" stop-color="#f7f4cf"/><stop offset="0.057" stop-color="#f6f3ca"/><stop offset="0.0574" stop-color="#f6f3ca"/><stop offset="0.06" stop-color="#f5f2c7"/><stop offset="0.0755" stop-color="#f4f1be"/><stop offset="0.0936" stop-color="#f3f1b6"/><stop offset="0.105" stop-color="#f3f0b3"/><stop offset="0.1118" stop-color="#f2f0b0"/><stop offset="0.1299" stop-color="#f2f0ab"/><stop offset="0.148" stop-color="#f1efa5"/><stop offset="0.15" stop-color="#f1efa4"/><stop offset="0.1661" stop-color="#f0ef9e"/><stop offset="0.1843" stop-color="#f0ef97"/><stop offset="0.2" stop-color="#efee91"/><stop offset="0.2024" stop-color="#efee90"/><stop offset="0.2205" stop-color="#eeee89"/><stop offset="0.2387" stop-color="#edee80"/><stop offset="0.25" stop-color="#eced7a"/><stop offset="0.2568" stop-color="#eced76"/><stop offset="0.2749" stop-color="#eaec67"/><stop offset="0.275" stop-color="#eaec67"/><stop offset="0.293" stop-color="#e9e954"/><stop offset="0.3" stop-color="#e8e84c"/><stop offset="0.3112" stop-color="#ede83d"/><stop offset="0.3175" stop-color="#f0e833"/><stop offset="0.3293" stop-color="#f8e821"/><stop offset="0.335" stop-color="#fbdf1f"/><stop offset="0.3474" stop-color="#fec921"/><stop offset="0.3475" stop-color="#fec921"/><stop offset="0.36" stop-color="#fcb227"/><stop offset="0.3655" stop-color="#fba929"/><stop offset="0.38" stop-color="#f99e2b"/><stop offset="0.3837" stop-color="#f99b2c"/><stop offset="0.4" stop-color="#f7922d"/><stop offset="0.4018" stop-color="#f7912e"/><stop offset="0.4199" stop-color="#f5882f"/><stop offset="0.43" stop-color="#f4822f"/><stop offset="0.4381" stop-color="#f47e2f"/><stop offset="0.4562" stop-color="#f2732f"/><stop offset="0.46" stop-color="#f2712f"/><stop offset="0.4743" stop-color="#f1652f"/><stop offset="0.485" stop-color="#ef5830"/><stop offset="0.4924" stop-color="#ee4d31"/><stop offset="0.51" stop-color="#eb3633"/><stop offset="0.5106" stop-color="#eb3533"/><stop offset="0.525" stop-color="#e92535"/><stop offset="0.5287" stop-color="#e92235"/><stop offset="0.54" stop-color="#e81d36"/><stop offset="0.5468" stop-color="#e81c36"/><stop offset="0.555" stop-color="#e81c36"/><stop offset="0.5649" stop-color="#e81c36"/><stop offset="0.57" stop-color="#e81e36"/><stop offset="0.5831" stop-color="#ea2e34"/><stop offset="0.59" stop-color="#ec3e32"/><stop offset="0.6012" stop-color="#ee5230"/><stop offset="0.61" stop-color="#f05f2f"/><stop offset="0.6193" stop-color="#f1672f"/><stop offset="0.635" stop-color="#f2722f"/><stop offset="0.6375" stop-color="#f2732f"/><stop offset="0.6556" stop-color="#f47f2f"/><stop offset="0.66" stop-color="#f4822f"/><stop offset="0.6737" stop-color="#f58b2f"/><stop offset="0.685" stop-color="#f7912e"/><stop offset="0.6918" stop-color="#f8952d"/><stop offset="0.71" stop-color="#faa02b"/><stop offset="0.71" stop-color="#faa02b"/><stop offset="0.7225" stop-color="#fbab29"/><stop offset="0.7281" stop-color="#fcb227"/><stop offset="0.735" stop-color="#fdbd24"/><stop offset="0.745" stop-color="#ffcf1f"/><stop offset="0.7462" stop-color="#ffd21e"/><stop offset="0.755" stop-color="#fbde1f"/><stop offset="0.7643" stop-color="#f8e821"/><stop offset="0.7775" stop-color="#f3e82c"/><stop offset="0.7825" stop-color="#f2e830"/><stop offset="0.8" stop-color="#ede83c"/><stop offset="0.8006" stop-color="#ede83c"/><stop offset="0.8187" stop-color="#e9e847"/><stop offset="0.8369" stop-color="#e9e94f"/><stop offset="0.84" stop-color="#e9e951"/><stop offset="0.855" stop-color="#e9ea58"/><stop offset="0.8731" stop-color="#eaeb60"/><stop offset="0.88" stop-color="#eaec64"/><stop offset="0.8912" stop-color="#ebec6a"/><stop offset="0.9094" stop-color="#ebed74"/><stop offset="0.915" stop-color="#eced77"/><stop offset="0.9275" stop-color="#edee7d"/><stop offset="0.9456" stop-color="#eeee86"/><stop offset="0.95" stop-color="#eeee88"/><stop offset="0.9637" stop-color="#eeee8e"/><stop offset="0.973" stop-color="#efee92"/><stop offset="0.975" stop-color="#efee93"/><stop offset="0.9775" stop-color="#efee94"/><stop offset="0.9819" stop-color="#efee96"/><stop offset="0.982" stop-color="#efee96"/><stop offset="0.9865" stop-color="#f0ef98"/><stop offset="0.991" stop-color="#f0ef99"/><stop offset="0.9955" stop-color="#f0ef9b"/><stop offset="1" stop-color="#f0ef9c"/></linearGradient>
<linearGradient id="d7" x1="0" y1="0" x2="1" y2="0"><stop offset="0" stop-color="#ebed6e"/><stop offset="0.0045" stop-color="#ebed6d"/><stop offset="0.009" stop-color="#ebec6a"/><stop offset="0.0135" stop-color="#eaec67"/><stop offset="0.018" stop-color="#eaec65"/><stop offset="0.0182" stop-color="#eaec65"/><stop offset="0.0225" stop-color="#eaeb62"/><stop offset="0.025" stop-color="#eaeb61"/><stop offset="0.027" stop-color="#eaeb60"/><stop offset="0.0364" stop-color="#e9ea5b"/><stop offset="0.05" stop-color="#e9ea54"/><stop offset="0.0545" stop-color="#e9e952"/><stop offset="0.0727" stop-color="#e8e84c"/><stop offset="0.085" stop-color="#e8e848"/><stop offset="0.0909" stop-color="#e9e846"/><stop offset="0.1091" stop-color="#ebe840"/><stop offset="0.12" stop-color="#ede83c"/><stop offset="0.1273" stop-color="#eee838"/><stop offset="0.145" stop-color="#f3e82d"/><stop offset="0.1455" stop-color="#f3e82c"/><stop offset="0.1636" stop-color="#f8e820"/><stop offset="0.17" stop-color="#f9e420"/><stop offset="0.1818" stop-color="#fcdd1f"/><stop offset="0.195" stop-color="#fed51e"/><stop offset="0.2" stop-color="#ffd31e"/><stop offset="0.2182" stop-color="#fec821"/><stop offset="0.22" stop-color="#fec721"/><stop offset="0.2364" stop-color="#fdbf23"/><stop offset="0.2545" stop-color="#fdb825"/><stop offset="0.26" stop-color="#fcb626"/><stop offset="0.2727" stop-color="#fcb127"/><stop offset="0.2909" stop-color="#fbaa29"/><stop offset="0.3" stop-color="#fba62a"/><stop offset="0.3091" stop-color="#fba42a"/><stop offset="0.3273" stop-color="#faa02b"/><stop offset="0.3455" stop-color="#f99c2c"/><stop offset="0.35" stop-color="#f99b2c"/><stop offset="0.3636" stop-color="#f8982c"/><stop offset="0.3818" stop-color="#f7932d"/><stop offset="0.4" stop-color="#f68f2e"/><stop offset="0.4" stop-color="#f68f2e"/><stop offset="0.4182" stop-color="#f58a2f"/><stop offset="0.4364" stop-color="#f4852f"/><stop offset="0.44" stop-color="#f4832f"/><stop offset="0.4545" stop-color="#f47e2f"/><stop offset="0.4727" stop-color="#f3772f"/><stop offset="0.48" stop-color="#f2742f"/><stop offset="0.4909" stop-color="#f26f2f"/><stop offset="0.5091" stop-color="#f0642f"/><stop offset="0.51" stop-color="#f0632f"/><stop offset="0.5273" stop-color="#ef5430"/><stop offset="0.54" stop-color="#ed4931"/><stop offset="0.5455" stop-color="#ed4531"/><stop offset="0.5636" stop-color="#eb3433"/><stop offset="0.57" stop-color="#ea2e34"/><stop offset="0.5818" stop-color="#e92435"/><stop offset="0.6" stop-color="#e81c36"/><stop offset="0.6182" stop-color="#e81c36"/><stop offset="0.635" stop-color="#e81c36"/><stop offset="0.6364" stop-color="#e81c36"/><stop offset="0.6545" stop-color="#e81c36"/><stop offset="0.67" stop-color="#e81d36"/><stop offset="0.6727" stop-color="#e81e36"/><stop offset="0.6909" stop-color="#ea2f34"/><stop offset="0.695" stop-color="#eb3633"/><stop offset="0.7091" stop-color="#ed4931"/><stop offset="0.72" stop-color="#ef5430"/><stop offset="0.7273" stop-color="#ef5b2f"/><stop offset="0.7455" stop-color="#f1672f"/><stop offset="0.75" stop-color="#f16a2f"/><stop offset="0.7636" stop-color="#f2722f"/><stop offset="0.78" stop-color="#f37b2f"/><stop offset="0.7818" stop-color="#f37c2f"/><stop offset="0.8" stop-color="#f5882f"/><stop offset="0.8" stop-color="#f5882f"/><stop offset="0.8182" stop-color="#f7942d"/><stop offset="0.82" stop-color="#f7952d"/><stop offset="0.8325" stop-color="#fa9f2b"/><stop offset="0.8364" stop-color="#faa32b"/><stop offset="0.845" stop-color="#fcb327"/><stop offset="0.8525" stop-color="#fec721"/><stop offset="0.8545" stop-color="#ffcd1f"/><stop offset="0.86" stop-color="#fdda1f"/><stop offset="0.8727" stop-color="#f4e829"/><stop offset="0.875" stop-color="#f3e82c"/><stop offset="0.89" stop-color="#ebe83f"/><stop offset="0.8909" stop-color="#ebe840"/><stop offset="0.9091" stop-color="#e9e94f"/><stop offset="0.915" stop-color="#e9e953"/><stop offset="0.9273" stop-color="#e9ea5b"/><stop offset="0.94" stop-color="#eaec64"/><stop offset="0.9455" stop-color="#eaec68"/><stop offset="0.9636" stop-color="#eced76"/><stop offset="0.97" stop-color="#eced7b"/><stop offset="0.973" stop-color="#edee7d"/><stop offset="0.9775" stop-color="#edee81"/><stop offset="0.9818" stop-color="#edee84"/><stop offset="0.982" stop-color="#edee84"/><stop offset="0.9865" stop-color="#eeee88"/><stop offset="0.991" stop-color="#eeee8b"/><stop offset="0.9955" stop-color="#efee8e"/><stop offset="1" stop-color="#efee91"/></linearGradient>
<linearGradient id="d8" x1="0" y1="0" x2="1" y2="0"><stop offset="0" stop-color="#eced79"/><stop offset="0.0045" stop-color="#eced77"/><stop offset="0.009" stop-color="#ebed74"/><stop offset="0.0135" stop-color="#ebed72"/><stop offset="0.018" stop-color="#ebed6e"/><stop offset="0.0182" stop-color="#ebed6e"/><stop offset="0.0225" stop-color="#ebec6b"/><stop offset="0.025" stop-color="#ebec6a"/><stop offset="0.027" stop-color="#eaec68"/><stop offset="0.0364" stop-color="#eaeb63"/><stop offset="0.05" stop-color="#eaeb5c"/><stop offset="0.0545" stop-color="#e9ea5b"/><stop offset="0.0727" stop-color="#e9ea55"/><stop offset="0.0909" stop-color="#e9e951"/><stop offset="0.1" stop-color="#e9e94f"/><stop offset="0.1091" stop-color="#e8e94d"/><stop offset="0.1273" stop-color="#e8e849"/><stop offset="0.1455" stop-color="#e9e845"/><stop offset="0.15" stop-color="#eae844"/><stop offset="0.1636" stop-color="#ebe840"/><stop offset="0.175" stop-color="#ece83d"/><stop offset="0.1818" stop-color="#ede83b"/><stop offset="0.2" stop-color="#f0e834"/><stop offset="0.2" stop-color="#f0e834"/><stop offset="0.2175" stop-color="#f5e827"/><stop offset="0.2182" stop-color="#f5e827"/><stop offset="0.235" stop-color="#fbdf1f"/><stop offset="0.2364" stop-color="#fbde1f"/><stop offset="0.2525" stop-color="#ffcf1f"/><stop offset="0.2545" stop-color="#ffcd1f"/><stop offset="0.27" stop-color="#fdbc24"/><stop offset="0.2727" stop-color="#fdb925"/><stop offset="0.2909" stop-color="#fba72a"/><stop offset="0.295" stop-color="#fba52a"/><stop offset="0.3091" stop-color="#f99e2b"/><stop offset="0.32" stop-color="#f99b2c"/><stop offset="0.3273" stop-color="#f8982c"/><stop offset="0.3455" stop-color="#f7942d"/><stop offset="0.36" stop-color="#f6902e"/><stop offset="0.3636" stop-color="#f68f2e"/><stop offset="0.3818" stop-color="#f68c2e"/><stop offset="0.4" stop-color="#f5892f"/><stop offset="0.4" stop-color="#f5892f"/><stop offset="0.4182" stop-color="#f5862f"/><stop offset="0.4364" stop-color="#f4842f"/><stop offset="0.45" stop-color="#f4832f"/><stop offset="0.4545" stop-color="#f4822f"/><stop offset="0.4727" stop-color="#f4802f"/><stop offset="0.4909" stop-color="#f47d2f"/><stop offset="0.5" stop-color="#f37b2f"/><stop offset="0.5091" stop-color="#f3792f"/><stop offset="0.5273" stop-color="#f2712f"/><stop offset="0.53" stop-color="#f2702f"/><stop offset="0.5455" stop-color="#f1672f"/><stop offset="0.56" stop-color="#f0602f"/><stop offset="0.5636" stop-color="#f05d2f"/><stop offset="0.5818" stop-color="#ee4b31"/><stop offset="0.59" stop-color="#ed4332"/><stop offset="0.6" stop-color="#eb3733"/><stop offset="0.6182" stop-color="#e92635"/><stop offset="0.62" stop-color="#e92535"/><stop offset="0.635" stop-color="#e81f36"/><stop offset="0.6364" stop-color="#e81e36"/><stop offset="0.65" stop-color="#e81d36"/><stop offset="0.6545" stop-color="#e81d36"/><stop offset="0.665" stop-color="#e92235"/><stop offset="0.6727" stop-color="#e92735"/><stop offset="0.68" stop-color="#ea2e34"/><stop offset="0.6909" stop-color="#ec3a32"/><stop offset="0.705" stop-color="#ee4c31"/><stop offset="0.7091" stop-color="#ee5130"/><stop offset="0.7273" stop-color="#f1652f"/><stop offset="0.73" stop-color="#f1672f"/><stop offset="0.7455" stop-color="#f2712f"/><stop offset="0.755" stop-color="#f3772f"/><stop offset="0.7636" stop-color="#f47d2f"/><stop offset="0.78" stop-color="#f5892f"/><stop offset="0.7818" stop-color="#f58a2f"/><stop offset="0.7975" stop-color="#f8962d"/><stop offset="0.8" stop-color="#f8982c"/><stop offset="0.815" stop-color="#fba82a"/><stop offset="0.8182" stop-color="#fcaf28"/><stop offset="0.825" stop-color="#fdc123"/><stop offset="0.835" stop-color="#fdda1f"/><stop offset="0.8364" stop-color="#fcdc1f"/><stop offset="0.8525" stop-color="#f3e82d"/><stop offset="0.8545" stop-color="#f2e82f"/><stop offset="0.87" stop-color="#ebe840"/><stop offset="0.8727" stop-color="#eae842"/><stop offset="0.8909" stop-color="#e9e94f"/><stop offset="0.9" stop-color="#e9ea54"/><stop offset="0.9091" stop-color="#e9ea59"/><stop offset="0.9273" stop-color="#eaeb63"/><stop offset="0.93" stop-color="#eaec64"/><stop offset="0.9455" stop-color="#ebec6c"/><stop offset="0.9636" stop-color="#ebed74"/><stop offset="0.965" stop-color="#eced75"/><stop offset="0.973" stop-color="#eced78"/><stop offset="0.9775" stop-color="#eced79"/><stop offset="0.9818" stop-color="#eced7b"/><stop offset="0.982" stop-color="#eced7b"/><stop offset="0.9865" stop-color="#eced7d"/><stop offset="0.991" stop-color="#edee7e"/><stop offset="0.9955" stop-color="#edee80"/><stop offset="1" stop-color="#edee81"/></linearGradient>
<linearGradient id="kdl" x1="0" y1="0" x2="1" y2="0"><stop offset="0.0000" stop-color="#e8203a"/><stop offset="0.0170" stop-color="#e83a35"/><stop offset="0.0420" stop-color="#e85535"/><stop offset="0.0680" stop-color="#e8603a"/><stop offset="0.1050" stop-color="#ea7040"/><stop offset="0.1560" stop-color="#ee8248"/><stop offset="0.2060" stop-color="#f29558"/><stop offset="0.2560" stop-color="#f4a362"/><stop offset="0.3070" stop-color="#f6b06c"/><stop offset="0.3570" stop-color="#f8c07a"/><stop offset="0.4080" stop-color="#f8d088"/><stop offset="0.4460" stop-color="#f6e09a"/><stop offset="0.4710" stop-color="#f3eaa8"/><stop offset="0.5000" stop-color="#eef0b0"/><stop offset="0.5380" stop-color="#e6eab0"/><stop offset="0.5880" stop-color="#d6e2aa"/><stop offset="0.6380" stop-color="#c2daa6"/><stop offset="0.6880" stop-color="#b0d4a2"/><stop offset="0.7390" stop-color="#a0cfa0"/><stop offset="0.7890" stop-color="#8ec69e"/><stop offset="0.8390" stop-color="#7cb4a4"/><stop offset="0.8890" stop-color="#68a4ac"/><stop offset="0.9400" stop-color="#5298b6"/><stop offset="0.9770" stop-color="#3a8cbe"/><stop offset="1.0000" stop-color="#2382c4"/></linearGradient>
<linearGradient id="gdl" x1="0" y1="0" x2="1" y2="0"><stop offset="0.0000" stop-color="#ffffff"/><stop offset="0.0200" stop-color="#fbf8e2"/><stop offset="0.1000" stop-color="#f5f2c6"/><stop offset="0.2000" stop-color="#f1efa4"/><stop offset="0.3500" stop-color="#ebed70"/><stop offset="0.4500" stop-color="#e8e848"/><stop offset="0.5500" stop-color="#f8e820"/><stop offset="0.6000" stop-color="#ffd21e"/><stop offset="0.6800" stop-color="#fba62a"/><stop offset="0.7800" stop-color="#f5892f"/><stop offset="0.9000" stop-color="#f0602f"/><stop offset="0.9600" stop-color="#ec3e32"/><stop offset="1.0000" stop-color="#e81c36"/></linearGradient>
</defs>
<path d="M162.50 163.75L162.50 63.00A100.75 100.75 0 0 1 234.73 93.51Z" fill="#666769" stroke="#666769" stroke-width="0.4"/>
<path d="M162.50 163.75L234.73 93.51A100.75 100.75 0 0 1 263.02 156.90Z" fill="#f6b56b" stroke="#f6b56b" stroke-width="0.4"/>
<path d="M162.50 163.75L263.02 156.90A100.75 100.75 0 0 1 263.23 161.64Z" fill="#5c4596" stroke="#5c4596" stroke-width="0.4"/>
<path d="M162.50 163.75L263.23 161.64A100.75 100.75 0 0 1 263.20 166.91Z" fill="#f58233" stroke="#f58233" stroke-width="0.4"/>
<path d="M162.50 163.75L263.20 166.91A100.75 100.75 0 0 1 118.02 254.15Z" fill="#e81c36" stroke="#e81c36" stroke-width="0.4"/>
<path d="M162.50 163.75L118.02 254.15A100.75 100.75 0 0 1 114.58 252.37Z" fill="#22a352" stroke="#22a352" stroke-width="0.4"/>
<path d="M162.50 163.75L114.58 252.37A100.75 100.75 0 0 1 95.09 88.88Z" fill="#92c5de" stroke="#92c5de" stroke-width="0.4"/>
<path d="M162.50 163.75L95.09 88.88A100.75 100.75 0 0 1 162.50 63.00Z" fill="#0a73b4" stroke="#0a73b4" stroke-width="0.4"/>
<text x="162.40" y="20.30" font-size="23.10" text-anchor="middle">FOXA1</text>
<text x="162.40" y="48.00" font-size="23.10" text-anchor="middle">n = 1603</text>
<path d="M403.25 162.25L403.25 61.05A101.20 101.20 0 0 1 479.16 95.33Z" fill="#666769" stroke="#666769" stroke-width="0.4"/>
<path d="M403.25 162.25L479.16 95.33A101.20 101.20 0 0 1 495.84 121.41Z" fill="#f6b56b" stroke="#f6b56b" stroke-width="0.4"/>
<path d="M403.25 162.25L495.84 121.41A101.20 101.20 0 0 1 498.82 128.97Z" fill="#5c4596" stroke="#5c4596" stroke-width="0.4"/>
<path d="M403.25 162.25L498.82 128.97A101.20 101.20 0 0 1 499.71 131.65Z" fill="#f58233" stroke="#f58233" stroke-width="0.4"/>
<path d="M403.25 162.25L499.71 131.65A101.20 101.20 0 0 1 326.53 228.24Z" fill="#e81c36" stroke="#e81c36" stroke-width="0.4"/>
<path d="M403.25 162.25L326.53 228.24A101.20 101.20 0 0 1 324.60 225.94Z" fill="#22a352" stroke="#22a352" stroke-width="0.4"/>
<path d="M403.25 162.25L324.60 225.94A101.20 101.20 0 0 1 357.94 71.76Z" fill="#92c5de" stroke="#92c5de" stroke-width="0.4"/>
<path d="M403.25 162.25L357.94 71.76A101.20 101.20 0 0 1 403.25 61.05Z" fill="#0a73b4" stroke="#0a73b4" stroke-width="0.4"/>
<text x="402.50" y="23.30" font-size="23.10" text-anchor="middle">SP1</text>
<text x="402.50" y="50.00" font-size="23.10" text-anchor="middle">n = 1428</text>
<path d="M644.75 160.25L644.75 59.25A101.00 101.00 0 0 1 670.89 62.69Z" fill="#666769" stroke="#666769" stroke-width="0.4"/>
<path d="M644.75 160.25L670.89 62.69A101.00 101.00 0 0 1 697.07 73.86Z" fill="#f6b56b" stroke="#f6b56b" stroke-width="0.4"/>
<path d="M644.75 160.25L697.07 73.86A101.00 101.00 0 0 1 708.72 82.09Z" fill="#5c4596" stroke="#5c4596" stroke-width="0.4"/>
<path d="M644.75 160.25L708.72 82.09A101.00 101.00 0 0 1 712.98 85.78Z" fill="#f58233" stroke="#f58233" stroke-width="0.4"/>
<path d="M644.75 160.25L712.98 85.78A101.00 101.00 0 0 1 591.68 246.18Z" fill="#e81c36" stroke="#e81c36" stroke-width="0.4"/>
<path d="M644.75 160.25L591.68 246.18A101.00 101.00 0 0 1 588.86 244.38Z" fill="#22a352" stroke="#22a352" stroke-width="0.4"/>
<path d="M644.75 160.25L588.86 244.38A101.00 101.00 0 0 1 581.05 81.87Z" fill="#92c5de" stroke="#92c5de" stroke-width="0.4"/>
<path d="M644.75 160.25L581.05 81.87A101.00 101.00 0 0 1 644.75 59.25Z" fill="#0a73b4" stroke="#0a73b4" stroke-width="0.4"/>
<text x="643.40" y="24.00" font-size="23.10" text-anchor="middle">YY1</text>
<text x="643.40" y="51.80" font-size="23.10" text-anchor="middle">n = 1221</text>
<path d="M885.40 161.90L885.40 61.00A100.90 100.90 0 0 1 950.12 84.49Z" fill="#666769" stroke="#666769" stroke-width="0.4"/>
<path d="M885.40 161.90L950.12 84.49A100.90 100.90 0 0 1 977.14 119.90Z" fill="#f6b56b" stroke="#f6b56b" stroke-width="0.4"/>
<path d="M885.40 161.90L977.14 119.90A100.90 100.90 0 0 1 980.33 127.72Z" fill="#5c4596" stroke="#5c4596" stroke-width="0.4"/>
<path d="M885.40 161.90L980.33 127.72A100.90 100.90 0 0 1 982.58 134.77Z" fill="#f58233" stroke="#f58233" stroke-width="0.4"/>
<path d="M885.40 161.90L982.58 134.77A100.90 100.90 0 0 1 854.56 257.97Z" fill="#e81c36" stroke="#e81c36" stroke-width="0.4"/>
<path d="M885.40 161.90L854.56 257.97A100.90 100.90 0 0 1 849.90 256.35Z" fill="#22a352" stroke="#22a352" stroke-width="0.4"/>
<path d="M885.40 161.90L849.90 256.35A100.90 100.90 0 0 1 836.17 73.82Z" fill="#92c5de" stroke="#92c5de" stroke-width="0.4"/>
<path d="M885.40 161.90L836.17 73.82A100.90 100.90 0 0 1 885.40 61.00Z" fill="#0a73b4" stroke="#0a73b4" stroke-width="0.4"/>
<text x="885.00" y="22.40" font-size="23.10" text-anchor="middle">MYC</text>
<text x="885.00" y="50.10" font-size="23.10" text-anchor="middle">n = 780</text>
<text x="1036.95" y="31.70" font-size="23.10">Database</text>
<rect x="1038.80" y="43.10" width="24.50" height="24.50" fill="#0a73b4"/>
<text x="1072.90" y="60.50" font-size="23.10">GO</text>
<rect x="1038.80" y="69.47" width="24.50" height="24.50" fill="#92c5de"/>
<text x="1072.90" y="86.87" font-size="23.10">GO−BP</text>
<rect x="1038.80" y="95.84" width="24.50" height="24.50" fill="#22a352"/>
<text x="1072.90" y="113.24" font-size="23.10">HALLMARK</text>
<rect x="1038.80" y="122.21" width="24.50" height="24.50" fill="#e81c36"/>
<text x="1072.90" y="139.61" font-size="23.10">IMMUNO</text>
<rect x="1038.80" y="148.58" width="24.50" height="24.50" fill="#f58233"/>
<text x="1072.90" y="165.98" font-size="23.10">KEGG</text>
<rect x="1038.80" y="174.95" width="24.50" height="24.50" fill="#5c4596"/>
<text x="1072.90" y="192.35" font-size="23.10">ONCO</text>
<rect x="1038.80" y="201.32" width="24.50" height="24.50" fill="#f6b56b"/>
<text x="1072.90" y="218.72" font-size="23.10">REACTOME</text>
<rect x="1038.80" y="227.69" width="24.50" height="24.50" fill="#666769"/>
<text x="1072.90" y="245.09" font-size="23.10">TFT</text>
<text x="-0.30" y="15.00" font-size="27.60">a</text>
<text x="-0.80" y="327.70" font-size="27.60">b</text>
<text x="1142.80" y="327.80" font-size="27.60">c</text>
<text x="-1.40" y="1268.60" font-size="27.60">d</text>
<rect x="58.20" y="344.90" width="3.60" height="858.50" fill="#000"/>
<rect x="74.20" y="344.60" width="297.60" height="20.90" fill="url(#bh)"/>
<text><tspan x="379.70" y="360.90" font-size="20.20">K</tspan><tspan x="394.20" y="367.50" font-size="12.40">d</tspan><tspan x="401.50" y="355.30" font-size="12.40">App</tspan></text>
<text x="226.90" y="339.25" font-size="23.10" text-anchor="middle">n = 16,669</text>
<text x="46.00" y="784.20" font-size="26.87" text-anchor="middle" transform="rotate(-90 46.00 784.20)">FOXA1</text>
<rect x="74.20" y="377.00" width="297.60" height="20.60" fill="url(#b0)"/>
<text x="378.10" y="393.30" font-size="23.03">Energy coupled proton transm. transport against electrochem. gradient</text>
<rect x="74.20" y="409.14" width="297.60" height="20.60" fill="url(#b1)"/>
<text x="378.10" y="425.54" font-size="26.87">Ribosomal large subunit biogenesis</text>
<rect x="74.20" y="441.28" width="297.60" height="20.60" fill="url(#b2)"/>
<text x="378.10" y="457.78" font-size="26.87">Centriole</text>
<rect x="74.20" y="473.42" width="297.60" height="20.60" fill="url(#b3)"/>
<text x="378.10" y="490.02" font-size="26.87">Positive regulation of protein localization to cell surface</text>
<rect x="74.20" y="505.56" width="297.60" height="20.60" fill="url(#b4)"/>
<text x="378.10" y="522.26" font-size="26.87">Regulation of collateral sprouting</text>
<rect x="74.20" y="537.70" width="297.60" height="20.60" fill="url(#b5)"/>
<text x="378.10" y="554.50" font-size="26.87">Rna catabolic process</text>
<rect x="74.20" y="569.84" width="297.60" height="20.60" fill="url(#b6)"/>
<text x="378.10" y="586.74" font-size="26.87">Nucleolus</text>
<rect x="74.20" y="601.98" width="297.60" height="20.60" fill="url(#b7)"/>
<text x="378.10" y="618.98" font-size="26.87">Organic cyclic compound catabolic process</text>
<rect x="74.20" y="634.12" width="297.60" height="20.60" fill="url(#b8)"/>
<text x="378.10" y="651.22" font-size="26.87">Cellular nitrogen compound catabolic process</text>
<rect x="74.20" y="666.26" width="297.60" height="20.60" fill="url(#b9)"/>
<text x="378.10" y="683.46" font-size="26.87">mRNA metabolic process</text>
<rect x="74.20" y="698.40" width="297.60" height="20.60" fill="url(#b10)"/>
<text x="378.10" y="715.70" font-size="26.87">Ribonucleoprotein complex</text>
<rect x="74.20" y="730.54" width="297.60" height="20.60" fill="url(#b11)"/>
<text x="378.10" y="747.94" font-size="26.87">Regulation of superoxide metabolic process</text>
<rect x="74.20" y="762.68" width="297.60" height="20.60" fill="url(#b12)"/>
<text x="378.10" y="780.18" font-size="26.87">ISWI type complex</text>
<rect x="74.20" y="794.82" width="297.60" height="20.60" fill="url(#b13)"/>
<text x="378.10" y="812.42" font-size="26.87">Neg. reg. of ox. stress induced intrinsic apoptotic signaling pw</text>
<rect x="74.20" y="826.96" width="297.60" height="20.60" fill="url(#b14)"/>
<text x="378.10" y="844.66" font-size="26.87">Peptidyl lysine acetylation</text>
<rect x="74.20" y="859.10" width="297.60" height="20.60" fill="url(#b15)"/>
<text x="378.10" y="876.90" font-size="26.87">Protein acetylation</text>
<rect x="74.20" y="891.24" width="297.60" height="20.60" fill="url(#b16)"/>
<text x="378.10" y="909.14" font-size="26.87">Protein targeting</text>
<rect x="74.20" y="923.38" width="297.60" height="20.60" fill="url(#b17)"/>
<text x="378.10" y="937.40" font-size="23.03">Neg. reg. of transcription from RNApol II prom. in response to stress</text>
<rect x="74.20" y="955.52" width="297.60" height="20.60" fill="url(#b18)"/>
<text x="378.10" y="969.66" font-size="26.87">Negative regulation of cellular response to hypoxia</text>
<rect x="74.20" y="987.66" width="297.60" height="20.60" fill="url(#b19)"/>
<text x="378.10" y="1001.85" font-size="26.87">Homotypic cell cell adhesion</text>
<rect x="74.20" y="1019.80" width="297.60" height="20.60" fill="url(#b20)"/>
<text x="378.10" y="1034.04" font-size="26.87">Histone H3 acetylation</text>
<rect x="74.20" y="1051.94" width="297.60" height="20.60" fill="url(#b21)"/>
<text x="378.10" y="1066.23" font-size="26.87">Platelet aggregation</text>
<rect x="74.20" y="1084.08" width="297.60" height="20.60" fill="url(#b22)"/>
<text x="378.10" y="1098.42" font-size="26.87">Quinone binding</text>
<rect x="74.20" y="1116.22" width="297.60" height="20.60" fill="url(#b23)"/>
<text x="378.10" y="1130.61" font-size="26.87">Transferase complex</text>
<rect x="74.20" y="1148.36" width="297.60" height="20.60" fill="url(#b24)"/>
<text x="378.10" y="1162.80" font-size="26.87">ATP dependent chromatin remodeling</text>
<rect x="74.20" y="1180.50" width="297.60" height="20.60" fill="url(#b25)"/>
<text x="378.10" y="1194.99" font-size="26.87">RNA binding</text>
<rect x="1165.20" y="343.50" width="3.60" height="924.50" fill="#000"/>
<rect x="1174.20" y="345.00" width="267.70" height="20.30" fill="url(#ch)"/>
<text><tspan x="1459.00" y="361.60" font-size="20.20">K</tspan><tspan x="1473.20" y="367.85" font-size="12.40">d</tspan><tspan x="1480.50" y="356.00" font-size="12.40">App</tspan></text>
<text x="1314.00" y="339.25" font-size="23.10" text-anchor="middle">n = 2571</text>
<text x="1151.00" y="817.70" font-size="26.87" text-anchor="middle" transform="rotate(-90 1151.00 817.70)">SP1</text>
<rect x="1174.20" y="376.90" width="267.70" height="20.30" fill="url(#c0)"/>
<text x="1454.70" y="391.55" font-size="23.03">Positive regulation of telomere maintenance via telomere lengthening</text>
<rect x="1174.20" y="409.05" width="267.70" height="20.30" fill="url(#c1)"/>
<text x="1454.70" y="423.79" font-size="26.87">Protein localization to endosome</text>
<rect x="1174.20" y="441.20" width="267.70" height="20.30" fill="url(#c2)"/>
<text x="1454.70" y="456.03" font-size="26.87">Flavin adenine dinucleotide binding</text>
<rect x="1174.20" y="473.35" width="267.70" height="20.30" fill="url(#c3)"/>
<text x="1454.70" y="488.27" font-size="26.87">Myosin binding</text>
<rect x="1174.20" y="505.50" width="267.70" height="20.30" fill="url(#c4)"/>
<text x="1454.70" y="520.51" font-size="26.87">Cell redox homeostasis</text>
<rect x="1174.20" y="537.65" width="267.70" height="20.30" fill="url(#c5)"/>
<text x="1454.70" y="552.75" font-size="26.87">Nucleosome organization</text>
<rect x="1174.20" y="569.80" width="267.70" height="20.30" fill="url(#c6)"/>
<text x="1454.70" y="584.99" font-size="26.87">Cullin ring ubiquitin ligase complex</text>
<rect x="1174.20" y="601.95" width="267.70" height="20.30" fill="url(#c7)"/>
<text x="1454.70" y="617.23" font-size="26.87">Catalytic complex</text>
<rect x="1174.20" y="634.10" width="267.70" height="20.30" fill="url(#c8)"/>
<text x="1454.70" y="649.47" font-size="26.87">Intermediate filament based process</text>
<rect x="1174.20" y="666.25" width="267.70" height="20.30" fill="url(#c9)"/>
<text x="1454.70" y="681.71" font-size="26.87">Chromosome organization</text>
<rect x="1174.20" y="698.40" width="267.70" height="20.30" fill="url(#c10)"/>
<text x="1454.70" y="713.95" font-size="26.87">Condensed chromosome</text>
<rect x="1174.20" y="730.55" width="267.70" height="20.30" fill="url(#c11)"/>
<text x="1454.70" y="746.19" font-size="26.87">Transferase activity transferring acyl groups</text>
<rect x="1174.20" y="762.70" width="267.70" height="20.30" fill="url(#c12)"/>
<text x="1454.70" y="778.43" font-size="26.87">Cell division</text>
<rect x="1174.20" y="794.85" width="267.70" height="20.30" fill="url(#c13)"/>
<text x="1454.70" y="810.67" font-size="26.87">Regulation of oxidative stress induced cell death</text>
<rect x="1174.20" y="827.00" width="267.70" height="20.30" fill="url(#c14)"/>
<text x="1454.70" y="842.91" font-size="26.87">Chromatin organization</text>
<rect x="1174.20" y="859.15" width="267.70" height="20.30" fill="url(#c15)"/>
<text x="1454.70" y="875.15" font-size="26.87">Positive regulation of macrophage differentiation</text>
<rect x="1174.20" y="891.30" width="267.70" height="20.30" fill="url(#c16)"/>
<text x="1454.70" y="907.39" font-size="26.87">Positive regulation of myeloid cell differentiation</text>
<rect x="1174.20" y="923.45" width="267.70" height="20.30" fill="url(#c17)"/>
<text x="1454.70" y="939.63" font-size="26.87">Fat cell differentiation</text>
<rect x="1174.20" y="955.60" width="267.70" height="20.30" fill="url(#c18)"/>
<text x="1454.70" y="971.87" font-size="26.87">Taxis</text>
<rect x="1174.20" y="987.75" width="267.70" height="20.30" fill="url(#c19)"/>
<text x="1454.70" y="1004.11" font-size="26.87">Covalent chromatin modification</text>
<rect x="1174.20" y="1019.90" width="267.70" height="20.30" fill="url(#c20)"/>
<text x="1454.70" y="1036.35" font-size="26.87">Positive regulation of hemopoiesis</text>
<rect x="1174.20" y="1052.05" width="267.70" height="20.30" fill="url(#c21)"/>
<text x="1454.70" y="1068.59" font-size="26.87">Cell death in response to hydrogen peroxide</text>
<rect x="1174.20" y="1084.20" width="267.70" height="20.30" fill="url(#c22)"/>
<text x="1454.70" y="1100.83" font-size="26.87">Peptidyl lysine acetylation</text>
<rect x="1174.20" y="1116.35" width="267.70" height="20.30" fill="url(#c23)"/>
<text x="1454.70" y="1133.07" font-size="26.87">Protein acylation</text>
<rect x="1174.20" y="1148.50" width="267.70" height="20.30" fill="url(#c24)"/>
<text x="1454.70" y="1165.31" font-size="26.87">Beta catenin binding</text>
<rect x="1174.20" y="1180.65" width="267.70" height="20.30" fill="url(#c25)"/>
<text x="1454.70" y="1197.55" font-size="26.87">Positive regulation of histone deacetylation</text>
<rect x="1174.20" y="1212.80" width="267.70" height="20.30" fill="url(#c26)"/>
<text x="1454.70" y="1229.79" font-size="26.87">Trabecula formation</text>
<rect x="1174.20" y="1244.95" width="267.70" height="20.30" fill="url(#c27)"/>
<text x="1454.70" y="1262.03" font-size="26.87">Trachea cartilage development</text>
<rect x="58.60" y="1300.30" width="3.50" height="316.20" fill="#000"/>
<rect x="73.10" y="1299.30" width="297.40" height="27.60" fill="url(#dh)"/>
<text><tspan x="379.60" y="1318.50" font-size="26.00">K</tspan><tspan x="398.50" y="1327.60" font-size="15.00">d</tspan><tspan x="408.20" y="1310.90" font-size="15.00">App</tspan></text>
<text x="226.90" y="1294.75" font-size="23.10" text-anchor="middle">n = 6419</text>
<text x="42.00" y="1456.60" font-size="26.87" text-anchor="middle" transform="rotate(-90 42.00 1456.60)">MYC</text>
<rect x="73.10" y="1331.00" width="297.40" height="27.60" fill="url(#d0)"/>
<text x="373.00" y="1350.20" font-size="26.87">Oxygen transport</text>
<rect x="73.10" y="1363.05" width="297.40" height="27.60" fill="url(#d1)"/>
<text x="373.00" y="1382.40" font-size="26.87">Protein targeting</text>
<rect x="73.10" y="1395.10" width="297.40" height="27.60" fill="url(#d2)"/>
<text x="373.00" y="1414.60" font-size="26.87">Positive regulation of animal organ morphogenesis</text>
<rect x="73.10" y="1427.15" width="297.40" height="27.60" fill="url(#d3)"/>
<text x="373.00" y="1446.80" font-size="26.87">Regulation of t cell apoptotic process</text>
<rect x="73.10" y="1459.20" width="297.40" height="27.60" fill="url(#d4)"/>
<text x="373.00" y="1479.00" font-size="26.87">Negative regulation of t cell apoptotic process</text>
<rect x="73.10" y="1491.25" width="297.40" height="27.60" fill="url(#d5)"/>
<text x="373.00" y="1511.20" font-size="26.87">T cell proliferation</text>
<rect x="73.10" y="1523.30" width="297.40" height="27.60" fill="url(#d6)"/>
<text x="373.00" y="1543.40" font-size="26.87">Interferon beta production</text>
<rect x="73.10" y="1555.35" width="297.40" height="27.60" fill="url(#d7)"/>
<text x="373.00" y="1575.60" font-size="26.87">Cotranslational protein targeting to membrane</text>
<rect x="73.10" y="1587.40" width="297.40" height="27.60" fill="url(#d8)"/>
<text x="373.00" y="1607.80" font-size="26.87">Cytoplasmic translation</text>
<rect x="1064.00" y="1368.00" width="13.30" height="19.30" fill="#e8203a"/>
<rect x="1076.80" y="1368.00" width="368.20" height="19.30" fill="url(#kdl)"/>
<rect x="1444.50" y="1368.00" width="9.70" height="19.30" fill="#2382c4"/>
<rect x="1075.50" y="1367.70" width="2.60" height="6.50" fill="#fff"/>
<rect x="1075.50" y="1381.10" width="2.60" height="6.50" fill="#fff"/>
<rect x="1259.30" y="1367.70" width="2.60" height="6.50" fill="#fff"/>
<rect x="1259.30" y="1381.10" width="2.60" height="6.50" fill="#fff"/>
<rect x="1443.70" y="1367.70" width="2.60" height="6.50" fill="#fff"/>
<rect x="1443.70" y="1381.10" width="2.60" height="6.50" fill="#fff"/>
<text x="1055.60" y="1361.60" font-size="23.10">FOXA1</text>
<text x="1077.50" y="1407.50" font-size="23.10" text-anchor="middle">0</text>
<text x="1264.30" y="1407.50" font-size="23.10" text-anchor="middle">150</text>
<text x="1449.10" y="1407.50" font-size="23.10" text-anchor="middle">300</text>
<rect x="1064.00" y="1441.90" width="12.80" height="19.30" fill="#e8203a"/>
<rect x="1076.30" y="1441.90" width="368.70" height="19.30" fill="url(#kdl)"/>
<rect x="1444.50" y="1441.90" width="9.70" height="19.30" fill="#2382c4"/>
<rect x="1075.00" y="1441.60" width="2.60" height="6.50" fill="#fff"/>
<rect x="1075.00" y="1455.00" width="2.60" height="6.50" fill="#fff"/>
<rect x="1259.20" y="1441.60" width="2.60" height="6.50" fill="#fff"/>
<rect x="1259.20" y="1455.00" width="2.60" height="6.50" fill="#fff"/>
<rect x="1443.70" y="1441.60" width="2.60" height="6.50" fill="#fff"/>
<rect x="1443.70" y="1455.00" width="2.60" height="6.50" fill="#fff"/>
<text x="1060.30" y="1435.70" font-size="23.10">SP1</text>
<text x="1065.50" y="1483.50" font-size="23.10" text-anchor="middle">0</text>
<text x="1263.40" y="1483.50" font-size="23.10" text-anchor="middle">100</text>
<text x="1446.60" y="1483.50" font-size="23.10" text-anchor="middle">200</text>
<rect x="1062.80" y="1518.90" width="13.00" height="19.40" fill="#e8203a"/>
<rect x="1075.30" y="1518.90" width="368.60" height="19.40" fill="url(#kdl)"/>
<rect x="1443.40" y="1518.90" width="9.60" height="19.40" fill="#2382c4"/>
<rect x="1074.00" y="1518.60" width="2.60" height="6.50" fill="#fff"/>
<rect x="1074.00" y="1532.10" width="2.60" height="6.50" fill="#fff"/>
<rect x="1258.90" y="1518.60" width="2.60" height="6.50" fill="#fff"/>
<rect x="1258.90" y="1532.10" width="2.60" height="6.50" fill="#fff"/>
<rect x="1442.60" y="1518.60" width="2.60" height="6.50" fill="#fff"/>
<rect x="1442.60" y="1532.10" width="2.60" height="6.50" fill="#fff"/>
<text x="1059.80" y="1512.80" font-size="23.10">MYC</text>
<text x="1077.70" y="1560.50" font-size="23.10" text-anchor="middle">100</text>
<text x="1262.00" y="1560.50" font-size="23.10" text-anchor="middle">140</text>
<text x="1446.60" y="1560.50" font-size="23.10" text-anchor="middle">180</text>
<rect x="1081.00" y="1575.10" width="373.30" height="15.10" fill="url(#gdl)"/>
<text x="1061.40" y="1608.30" font-size="21.20">low</text>
<text x="1455.80" y="1608.30" font-size="21.20" text-anchor="end">high</text>
<text x="1049.80" y="1575.50" font-size="26.87" text-anchor="end">Gene</text>
<text x="1049.80" y="1606.90" font-size="26.87" text-anchor="end">density</text>
<g transform="translate(1038.00 1506.50) rotate(-90)">
<text><tspan x="0" y="0" font-size="26.87">K</tspan><tspan x="18.50" y="9.00" font-size="15.70">d</tspan><tspan x="28.00" y="-6.40" font-size="15.70">App</tspan><tspan x="55.03" y="0" font-size="26.87"> (nM)</tspan></text>
</g>
</svg>
</body>
</html>
